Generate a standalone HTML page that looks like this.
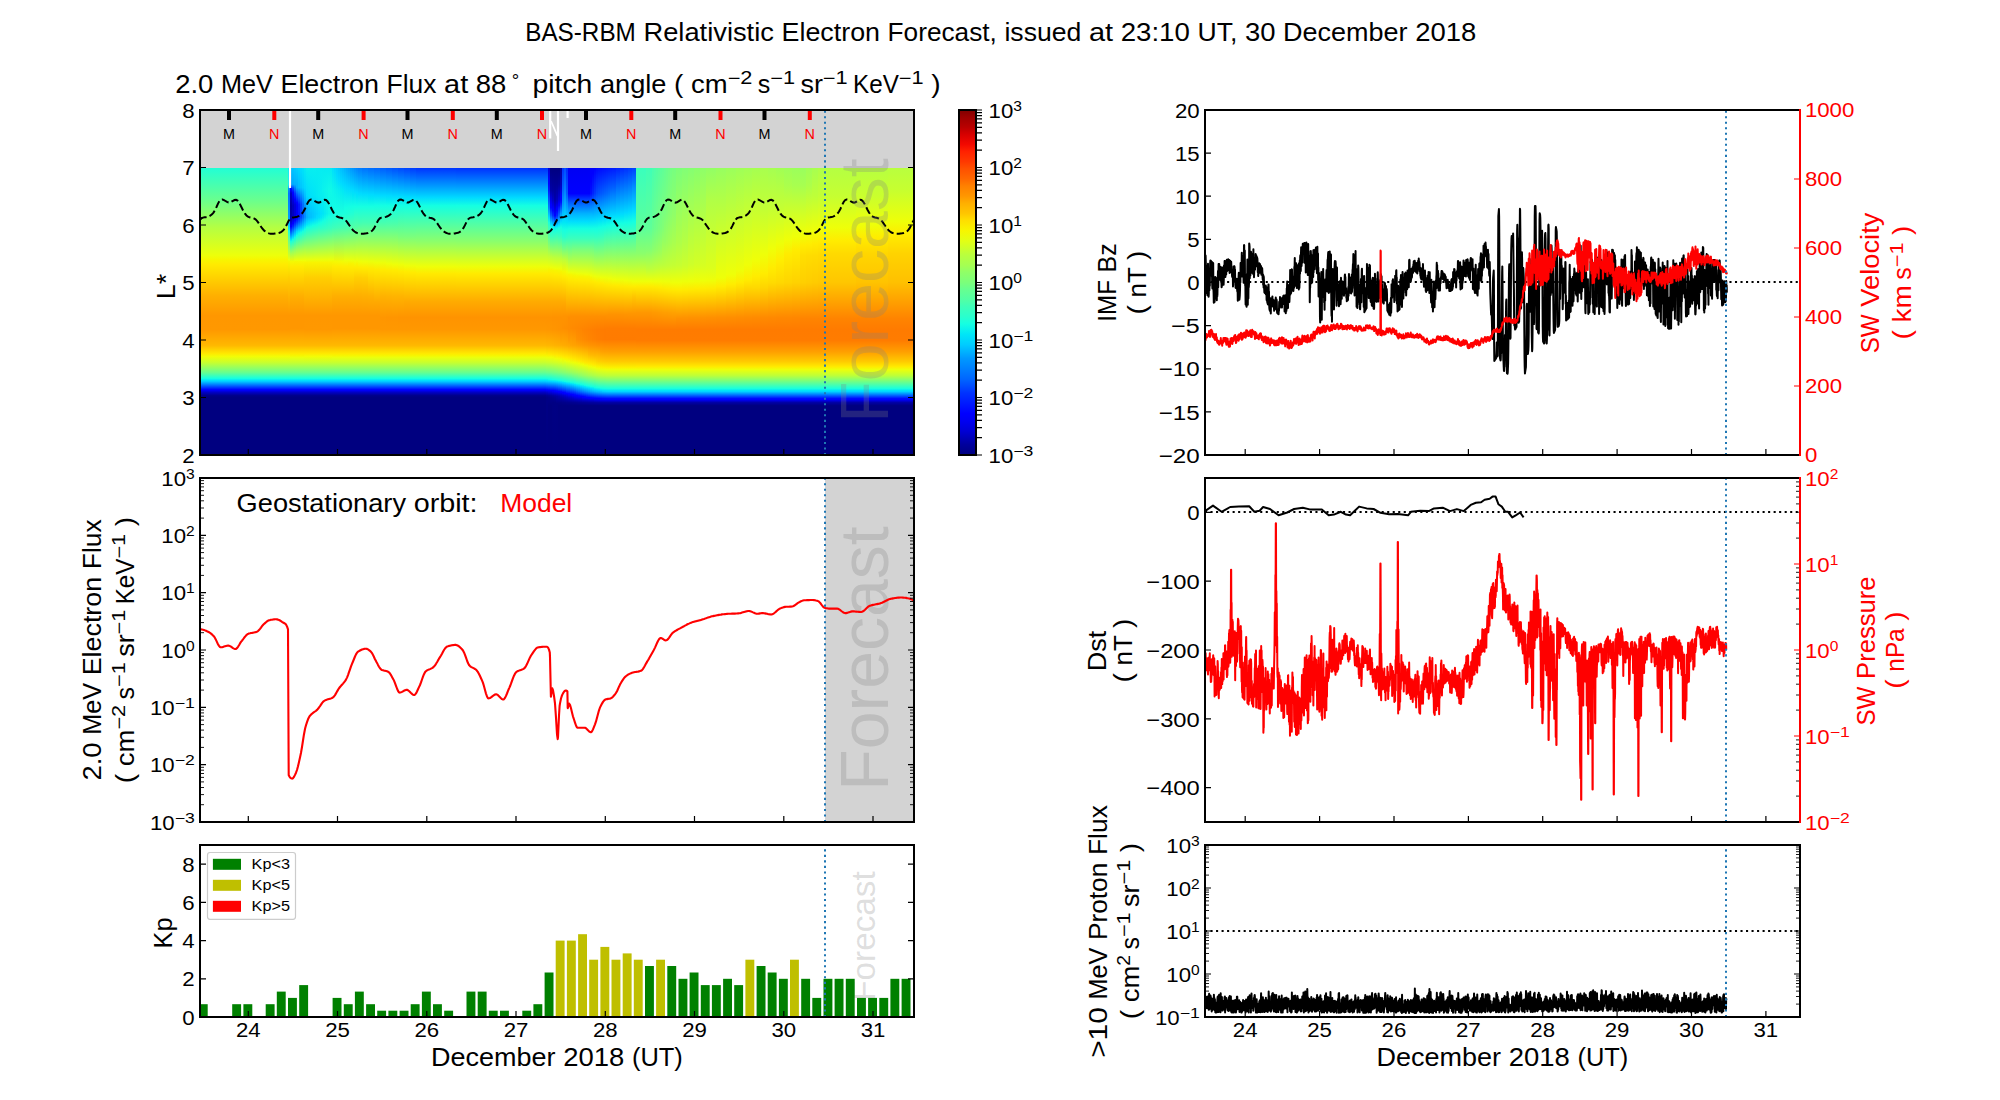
<!DOCTYPE html>
<html lang="en"><head><meta charset="utf-8"><title>BAS-RBM Relativistic Electron Forecast</title><style>html,body{margin:0;padding:0;background:#fff;font-family:"Liberation Sans",sans-serif}svg{display:block}</style></head><body><svg width="2000" height="1100" viewBox="0 0 2000 1100" font-family="'Liberation Sans', sans-serif" fill="#000"><defs><linearGradient id="h0" x1="0" y1="0" x2="0" y2="1"><stop offset="0.002" stop-color="#23ffd4"/><stop offset="0.113" stop-color="#6aff8d"/><stop offset="0.207" stop-color="#b4ff43"/><stop offset="0.305" stop-color="#edff0a"/><stop offset="0.319" stop-color="#f7f600"/><stop offset="0.336" stop-color="#ffeb00"/><stop offset="0.444" stop-color="#ffb000"/><stop offset="0.514" stop-color="#ff9700"/><stop offset="0.563" stop-color="#ff9800"/><stop offset="0.618" stop-color="#ffb800"/><stop offset="0.646" stop-color="#ffe800"/><stop offset="0.657" stop-color="#f1fd06"/><stop offset="0.678" stop-color="#c7ff2f"/><stop offset="0.713" stop-color="#65ff91"/><stop offset="0.733" stop-color="#17ffe0"/><stop offset="0.74" stop-color="#00e1fb"/><stop offset="0.744" stop-color="#00cbff"/><stop offset="0.772" stop-color="#0002ff"/><stop offset="0.775" stop-color="#0000f5"/><stop offset="0.782" stop-color="#0000c3"/><stop offset="0.793" stop-color="#00008a"/><stop offset="0.8" stop-color="#000080"/><stop offset="0.998" stop-color="#000080"/></linearGradient><linearGradient id="h1" x1="0" y1="0" x2="0" y2="1"><stop offset="0.002" stop-color="#23ffd4"/><stop offset="0.113" stop-color="#6aff8d"/><stop offset="0.207" stop-color="#b4ff43"/><stop offset="0.305" stop-color="#edff0a"/><stop offset="0.319" stop-color="#f7f600"/><stop offset="0.336" stop-color="#ffeb00"/><stop offset="0.444" stop-color="#ffb000"/><stop offset="0.514" stop-color="#ff9700"/><stop offset="0.563" stop-color="#ff9800"/><stop offset="0.618" stop-color="#ffb800"/><stop offset="0.646" stop-color="#ffe800"/><stop offset="0.657" stop-color="#f1fd06"/><stop offset="0.678" stop-color="#c7ff2f"/><stop offset="0.713" stop-color="#65ff91"/><stop offset="0.733" stop-color="#17ffe0"/><stop offset="0.74" stop-color="#00e1fb"/><stop offset="0.744" stop-color="#00cbff"/><stop offset="0.772" stop-color="#0002ff"/><stop offset="0.775" stop-color="#0000f5"/><stop offset="0.782" stop-color="#0000c3"/><stop offset="0.793" stop-color="#00008a"/><stop offset="0.8" stop-color="#000080"/><stop offset="0.998" stop-color="#000080"/></linearGradient><linearGradient id="h2" x1="0" y1="0" x2="0" y2="1"><stop offset="0.002" stop-color="#23ffd4"/><stop offset="0.113" stop-color="#6aff8d"/><stop offset="0.207" stop-color="#b4ff43"/><stop offset="0.305" stop-color="#edff0a"/><stop offset="0.319" stop-color="#f7f600"/><stop offset="0.336" stop-color="#ffeb00"/><stop offset="0.444" stop-color="#ffb000"/><stop offset="0.514" stop-color="#ff9700"/><stop offset="0.563" stop-color="#ff9800"/><stop offset="0.618" stop-color="#ffb800"/><stop offset="0.646" stop-color="#ffe800"/><stop offset="0.657" stop-color="#f1fd06"/><stop offset="0.678" stop-color="#c7ff2f"/><stop offset="0.713" stop-color="#65ff91"/><stop offset="0.733" stop-color="#17ffe0"/><stop offset="0.74" stop-color="#00e1fb"/><stop offset="0.744" stop-color="#00cbff"/><stop offset="0.772" stop-color="#0002ff"/><stop offset="0.775" stop-color="#0000f5"/><stop offset="0.782" stop-color="#0000c3"/><stop offset="0.793" stop-color="#00008a"/><stop offset="0.8" stop-color="#000080"/><stop offset="0.998" stop-color="#000080"/></linearGradient><linearGradient id="h3" x1="0" y1="0" x2="0" y2="1"><stop offset="0.002" stop-color="#00e6f6"/><stop offset="0.057" stop-color="#07eef0"/><stop offset="0.061" stop-color="#00dbff"/><stop offset="0.071" stop-color="#0095ff"/><stop offset="0.089" stop-color="#0073ff"/><stop offset="0.179" stop-color="#009eff"/><stop offset="0.207" stop-color="#00d8ff"/><stop offset="0.211" stop-color="#00e3f9"/><stop offset="0.221" stop-color="#18ffdf"/><stop offset="0.256" stop-color="#6eff89"/><stop offset="0.319" stop-color="#ebff0c"/><stop offset="0.326" stop-color="#f7f500"/><stop offset="0.382" stop-color="#ffcf00"/><stop offset="0.514" stop-color="#ff9700"/><stop offset="0.563" stop-color="#ff9800"/><stop offset="0.618" stop-color="#ffb800"/><stop offset="0.646" stop-color="#ffe800"/><stop offset="0.657" stop-color="#f1fd06"/><stop offset="0.678" stop-color="#c7ff2f"/><stop offset="0.713" stop-color="#65ff91"/><stop offset="0.733" stop-color="#17ffe0"/><stop offset="0.74" stop-color="#00e1fb"/><stop offset="0.744" stop-color="#00cbff"/><stop offset="0.772" stop-color="#0002ff"/><stop offset="0.775" stop-color="#0000f5"/><stop offset="0.782" stop-color="#0000c3"/><stop offset="0.793" stop-color="#00008a"/><stop offset="0.8" stop-color="#000080"/><stop offset="0.998" stop-color="#000080"/></linearGradient><linearGradient id="h4" x1="0" y1="0" x2="0" y2="1"><stop offset="0.002" stop-color="#00bfff"/><stop offset="0.057" stop-color="#00a3ff"/><stop offset="0.071" stop-color="#0009ff"/><stop offset="0.075" stop-color="#0000ff"/><stop offset="0.078" stop-color="#0000f7"/><stop offset="0.089" stop-color="#0000c3"/><stop offset="0.131" stop-color="#0000a5"/><stop offset="0.176" stop-color="#0000ab"/><stop offset="0.179" stop-color="#0000b1"/><stop offset="0.2" stop-color="#0000fb"/><stop offset="0.204" stop-color="#0000ff"/><stop offset="0.246" stop-color="#00d2ff"/><stop offset="0.249" stop-color="#00e4f8"/><stop offset="0.256" stop-color="#1affdd"/><stop offset="0.298" stop-color="#a6ff51"/><stop offset="0.326" stop-color="#f4f903"/><stop offset="0.343" stop-color="#ffea00"/><stop offset="0.448" stop-color="#ffae00"/><stop offset="0.514" stop-color="#ff9700"/><stop offset="0.559" stop-color="#ff9700"/><stop offset="0.618" stop-color="#ffb800"/><stop offset="0.646" stop-color="#ffe800"/><stop offset="0.653" stop-color="#f7f500"/><stop offset="0.66" stop-color="#eaff0d"/><stop offset="0.678" stop-color="#c7ff2f"/><stop offset="0.713" stop-color="#65ff91"/><stop offset="0.733" stop-color="#17ffe0"/><stop offset="0.74" stop-color="#00e1fb"/><stop offset="0.744" stop-color="#00cbff"/><stop offset="0.772" stop-color="#0002ff"/><stop offset="0.775" stop-color="#0000f5"/><stop offset="0.782" stop-color="#0000c3"/><stop offset="0.793" stop-color="#00008a"/><stop offset="0.8" stop-color="#000080"/><stop offset="0.998" stop-color="#000080"/></linearGradient><linearGradient id="h5" x1="0" y1="0" x2="0" y2="1"><stop offset="0.002" stop-color="#00c5ff"/><stop offset="0.057" stop-color="#00aaff"/><stop offset="0.071" stop-color="#003eff"/><stop offset="0.085" stop-color="#0004ff"/><stop offset="0.089" stop-color="#0000ff"/><stop offset="0.131" stop-color="#0000bf"/><stop offset="0.169" stop-color="#0000c0"/><stop offset="0.179" stop-color="#0000d8"/><stop offset="0.19" stop-color="#0000ff"/><stop offset="0.193" stop-color="#0000ff"/><stop offset="0.204" stop-color="#0029ff"/><stop offset="0.218" stop-color="#0073ff"/><stop offset="0.239" stop-color="#00cfff"/><stop offset="0.242" stop-color="#00defd"/><stop offset="0.249" stop-color="#13fde4"/><stop offset="0.291" stop-color="#98ff5f"/><stop offset="0.326" stop-color="#f4f903"/><stop offset="0.343" stop-color="#ffea00"/><stop offset="0.448" stop-color="#ffae00"/><stop offset="0.514" stop-color="#ff9700"/><stop offset="0.559" stop-color="#ff9700"/><stop offset="0.618" stop-color="#ffb800"/><stop offset="0.646" stop-color="#ffe800"/><stop offset="0.653" stop-color="#f7f500"/><stop offset="0.66" stop-color="#eaff0d"/><stop offset="0.678" stop-color="#c7ff2f"/><stop offset="0.713" stop-color="#65ff91"/><stop offset="0.733" stop-color="#17ffe0"/><stop offset="0.74" stop-color="#00e1fb"/><stop offset="0.744" stop-color="#00cbff"/><stop offset="0.772" stop-color="#0002ff"/><stop offset="0.775" stop-color="#0000f5"/><stop offset="0.782" stop-color="#0000c3"/><stop offset="0.793" stop-color="#00008a"/><stop offset="0.8" stop-color="#000080"/><stop offset="0.998" stop-color="#000080"/></linearGradient><linearGradient id="h6" x1="0" y1="0" x2="0" y2="1"><stop offset="0.002" stop-color="#00caff"/><stop offset="0.057" stop-color="#00b1ff"/><stop offset="0.089" stop-color="#0032ff"/><stop offset="0.11" stop-color="#0000ff"/><stop offset="0.117" stop-color="#0000fa"/><stop offset="0.127" stop-color="#0000dd"/><stop offset="0.134" stop-color="#0000d9"/><stop offset="0.169" stop-color="#0000db"/><stop offset="0.179" stop-color="#0000ff"/><stop offset="0.183" stop-color="#0000ff"/><stop offset="0.2" stop-color="#0047ff"/><stop offset="0.218" stop-color="#00a0ff"/><stop offset="0.232" stop-color="#00d5ff"/><stop offset="0.242" stop-color="#12fce5"/><stop offset="0.287" stop-color="#97ff60"/><stop offset="0.322" stop-color="#ecff0b"/><stop offset="0.326" stop-color="#f4f802"/><stop offset="0.343" stop-color="#ffea00"/><stop offset="0.448" stop-color="#ffae00"/><stop offset="0.514" stop-color="#ff9700"/><stop offset="0.559" stop-color="#ff9700"/><stop offset="0.618" stop-color="#ffb800"/><stop offset="0.646" stop-color="#ffe800"/><stop offset="0.653" stop-color="#f7f500"/><stop offset="0.66" stop-color="#eaff0d"/><stop offset="0.678" stop-color="#c7ff2f"/><stop offset="0.713" stop-color="#65ff91"/><stop offset="0.733" stop-color="#17ffe0"/><stop offset="0.74" stop-color="#00e1fb"/><stop offset="0.744" stop-color="#00cbff"/><stop offset="0.772" stop-color="#0002ff"/><stop offset="0.775" stop-color="#0000f5"/><stop offset="0.782" stop-color="#0000c3"/><stop offset="0.793" stop-color="#00008a"/><stop offset="0.8" stop-color="#000080"/><stop offset="0.998" stop-color="#000080"/></linearGradient><linearGradient id="h7" x1="0" y1="0" x2="0" y2="1"><stop offset="0.002" stop-color="#00d0ff"/><stop offset="0.068" stop-color="#00aeff"/><stop offset="0.12" stop-color="#0004ff"/><stop offset="0.131" stop-color="#0000f6"/><stop offset="0.166" stop-color="#0000f6"/><stop offset="0.172" stop-color="#0000ff"/><stop offset="0.176" stop-color="#0005ff"/><stop offset="0.19" stop-color="#003eff"/><stop offset="0.221" stop-color="#00d6ff"/><stop offset="0.228" stop-color="#05ebf2"/><stop offset="0.235" stop-color="#16ffe1"/><stop offset="0.287" stop-color="#a0ff57"/><stop offset="0.322" stop-color="#edff0a"/><stop offset="0.326" stop-color="#f4f802"/><stop offset="0.343" stop-color="#ffea00"/><stop offset="0.448" stop-color="#ffae00"/><stop offset="0.514" stop-color="#ff9700"/><stop offset="0.559" stop-color="#ff9700"/><stop offset="0.618" stop-color="#ffb800"/><stop offset="0.646" stop-color="#ffe800"/><stop offset="0.653" stop-color="#f7f500"/><stop offset="0.66" stop-color="#eaff0d"/><stop offset="0.678" stop-color="#c7ff2f"/><stop offset="0.713" stop-color="#65ff91"/><stop offset="0.733" stop-color="#17ffe0"/><stop offset="0.74" stop-color="#00e1fb"/><stop offset="0.744" stop-color="#00cbff"/><stop offset="0.772" stop-color="#0002ff"/><stop offset="0.775" stop-color="#0000f5"/><stop offset="0.782" stop-color="#0000c3"/><stop offset="0.793" stop-color="#00008a"/><stop offset="0.8" stop-color="#000080"/><stop offset="0.998" stop-color="#000080"/></linearGradient><linearGradient id="h8" x1="0" y1="0" x2="0" y2="1"><stop offset="0.002" stop-color="#00d6ff"/><stop offset="0.068" stop-color="#00bcff"/><stop offset="0.127" stop-color="#0017ff"/><stop offset="0.166" stop-color="#0010ff"/><stop offset="0.169" stop-color="#0011ff"/><stop offset="0.186" stop-color="#0050ff"/><stop offset="0.218" stop-color="#00dcfe"/><stop offset="0.228" stop-color="#12fce5"/><stop offset="0.287" stop-color="#a4ff52"/><stop offset="0.322" stop-color="#edff09"/><stop offset="0.326" stop-color="#f5f802"/><stop offset="0.343" stop-color="#ffea00"/><stop offset="0.448" stop-color="#ffae00"/><stop offset="0.514" stop-color="#ff9700"/><stop offset="0.559" stop-color="#ff9700"/><stop offset="0.618" stop-color="#ffb800"/><stop offset="0.646" stop-color="#ffe800"/><stop offset="0.653" stop-color="#f7f500"/><stop offset="0.66" stop-color="#eaff0d"/><stop offset="0.678" stop-color="#c7ff2f"/><stop offset="0.713" stop-color="#65ff91"/><stop offset="0.733" stop-color="#17ffe0"/><stop offset="0.74" stop-color="#00e1fb"/><stop offset="0.744" stop-color="#00cbff"/><stop offset="0.772" stop-color="#0002ff"/><stop offset="0.775" stop-color="#0000f5"/><stop offset="0.782" stop-color="#0000c3"/><stop offset="0.793" stop-color="#00008a"/><stop offset="0.8" stop-color="#000080"/><stop offset="0.998" stop-color="#000080"/></linearGradient><linearGradient id="h9" x1="0" y1="0" x2="0" y2="1"><stop offset="0.002" stop-color="#00dcfe"/><stop offset="0.068" stop-color="#00c5ff"/><stop offset="0.127" stop-color="#0042ff"/><stop offset="0.166" stop-color="#0039ff"/><stop offset="0.172" stop-color="#0042ff"/><stop offset="0.186" stop-color="#0070ff"/><stop offset="0.214" stop-color="#00ddfd"/><stop offset="0.225" stop-color="#15ffe2"/><stop offset="0.287" stop-color="#a8ff4f"/><stop offset="0.322" stop-color="#eeff09"/><stop offset="0.326" stop-color="#f5f802"/><stop offset="0.343" stop-color="#ffea00"/><stop offset="0.448" stop-color="#ffae00"/><stop offset="0.514" stop-color="#ff9700"/><stop offset="0.559" stop-color="#ff9700"/><stop offset="0.618" stop-color="#ffb800"/><stop offset="0.646" stop-color="#ffe800"/><stop offset="0.653" stop-color="#f7f500"/><stop offset="0.66" stop-color="#eaff0d"/><stop offset="0.678" stop-color="#c7ff2f"/><stop offset="0.713" stop-color="#65ff91"/><stop offset="0.733" stop-color="#17ffe0"/><stop offset="0.74" stop-color="#00e1fb"/><stop offset="0.744" stop-color="#00cbff"/><stop offset="0.772" stop-color="#0002ff"/><stop offset="0.775" stop-color="#0000f5"/><stop offset="0.782" stop-color="#0000c3"/><stop offset="0.793" stop-color="#00008a"/><stop offset="0.8" stop-color="#000080"/><stop offset="0.998" stop-color="#000080"/></linearGradient><linearGradient id="h10" x1="0" y1="0" x2="0" y2="1"><stop offset="0.002" stop-color="#00e2f9"/><stop offset="0.068" stop-color="#00cfff"/><stop offset="0.127" stop-color="#006eff"/><stop offset="0.166" stop-color="#0062ff"/><stop offset="0.172" stop-color="#0067ff"/><stop offset="0.211" stop-color="#00e3f9"/><stop offset="0.221" stop-color="#19ffde"/><stop offset="0.287" stop-color="#abff4b"/><stop offset="0.322" stop-color="#eeff09"/><stop offset="0.326" stop-color="#f5f802"/><stop offset="0.343" stop-color="#ffea00"/><stop offset="0.448" stop-color="#ffae00"/><stop offset="0.514" stop-color="#ff9700"/><stop offset="0.559" stop-color="#ff9700"/><stop offset="0.618" stop-color="#ffb800"/><stop offset="0.646" stop-color="#ffe800"/><stop offset="0.653" stop-color="#f7f500"/><stop offset="0.66" stop-color="#eaff0d"/><stop offset="0.678" stop-color="#c7ff2f"/><stop offset="0.713" stop-color="#65ff91"/><stop offset="0.733" stop-color="#17ffe0"/><stop offset="0.74" stop-color="#00e1fb"/><stop offset="0.744" stop-color="#00cbff"/><stop offset="0.772" stop-color="#0002ff"/><stop offset="0.775" stop-color="#0000f5"/><stop offset="0.782" stop-color="#0000c3"/><stop offset="0.793" stop-color="#00008a"/><stop offset="0.8" stop-color="#000080"/><stop offset="0.998" stop-color="#000080"/></linearGradient><linearGradient id="h11" x1="0" y1="0" x2="0" y2="1"><stop offset="0.002" stop-color="#03e9f4"/><stop offset="0.068" stop-color="#00d8ff"/><stop offset="0.099" stop-color="#00beff"/><stop offset="0.131" stop-color="#0097ff"/><stop offset="0.169" stop-color="#008bff"/><stop offset="0.172" stop-color="#008dff"/><stop offset="0.2" stop-color="#00d8ff"/><stop offset="0.214" stop-color="#15ffe2"/><stop offset="0.287" stop-color="#afff48"/><stop offset="0.322" stop-color="#efff08"/><stop offset="0.329" stop-color="#f8f400"/><stop offset="0.382" stop-color="#ffcf00"/><stop offset="0.514" stop-color="#ff9700"/><stop offset="0.563" stop-color="#ff9800"/><stop offset="0.618" stop-color="#ffb800"/><stop offset="0.646" stop-color="#ffe800"/><stop offset="0.657" stop-color="#f1fd06"/><stop offset="0.678" stop-color="#c7ff2f"/><stop offset="0.713" stop-color="#65ff91"/><stop offset="0.733" stop-color="#17ffe0"/><stop offset="0.74" stop-color="#00e1fb"/><stop offset="0.744" stop-color="#00cbff"/><stop offset="0.772" stop-color="#0002ff"/><stop offset="0.775" stop-color="#0000f5"/><stop offset="0.782" stop-color="#0000c3"/><stop offset="0.793" stop-color="#00008a"/><stop offset="0.8" stop-color="#000080"/><stop offset="0.998" stop-color="#000080"/></linearGradient><linearGradient id="h12" x1="0" y1="0" x2="0" y2="1"><stop offset="0.002" stop-color="#07eef0"/><stop offset="0.096" stop-color="#00d9ff"/><stop offset="0.138" stop-color="#00b9ff"/><stop offset="0.172" stop-color="#00afff"/><stop offset="0.19" stop-color="#00d7ff"/><stop offset="0.197" stop-color="#01e7f6"/><stop offset="0.207" stop-color="#15ffe2"/><stop offset="0.319" stop-color="#e9ff0e"/><stop offset="0.329" stop-color="#f8f400"/><stop offset="0.382" stop-color="#ffcf00"/><stop offset="0.514" stop-color="#ff9700"/><stop offset="0.563" stop-color="#ff9800"/><stop offset="0.618" stop-color="#ffb800"/><stop offset="0.646" stop-color="#ffe800"/><stop offset="0.657" stop-color="#f1fd06"/><stop offset="0.678" stop-color="#c7ff2f"/><stop offset="0.713" stop-color="#65ff91"/><stop offset="0.733" stop-color="#17ffe0"/><stop offset="0.74" stop-color="#00e1fb"/><stop offset="0.744" stop-color="#00cbff"/><stop offset="0.772" stop-color="#0002ff"/><stop offset="0.775" stop-color="#0000f5"/><stop offset="0.782" stop-color="#0000c3"/><stop offset="0.793" stop-color="#00008a"/><stop offset="0.8" stop-color="#000080"/><stop offset="0.998" stop-color="#000080"/></linearGradient><linearGradient id="h13" x1="0" y1="0" x2="0" y2="1"><stop offset="0.002" stop-color="#07efef"/><stop offset="0.096" stop-color="#00defc"/><stop offset="0.138" stop-color="#00c3ff"/><stop offset="0.172" stop-color="#00baff"/><stop offset="0.186" stop-color="#00d8ff"/><stop offset="0.193" stop-color="#01e7f6"/><stop offset="0.207" stop-color="#19ffde"/><stop offset="0.319" stop-color="#e9ff0e"/><stop offset="0.329" stop-color="#f8f400"/><stop offset="0.382" stop-color="#ffcf00"/><stop offset="0.514" stop-color="#ff9700"/><stop offset="0.563" stop-color="#ff9800"/><stop offset="0.618" stop-color="#ffb800"/><stop offset="0.646" stop-color="#ffe800"/><stop offset="0.657" stop-color="#f1fd06"/><stop offset="0.678" stop-color="#c7ff2f"/><stop offset="0.713" stop-color="#65ff91"/><stop offset="0.733" stop-color="#17ffe0"/><stop offset="0.74" stop-color="#00e1fb"/><stop offset="0.744" stop-color="#00cbff"/><stop offset="0.772" stop-color="#0002ff"/><stop offset="0.775" stop-color="#0000f5"/><stop offset="0.782" stop-color="#0000c3"/><stop offset="0.793" stop-color="#00008a"/><stop offset="0.8" stop-color="#000080"/><stop offset="0.998" stop-color="#000080"/></linearGradient><linearGradient id="h14" x1="0" y1="0" x2="0" y2="1"><stop offset="0.002" stop-color="#07eef0"/><stop offset="0.096" stop-color="#00e1fa"/><stop offset="0.159" stop-color="#00c2ff"/><stop offset="0.172" stop-color="#00c1ff"/><stop offset="0.186" stop-color="#00defd"/><stop offset="0.204" stop-color="#16ffe0"/><stop offset="0.319" stop-color="#e9ff0e"/><stop offset="0.329" stop-color="#f8f400"/><stop offset="0.382" stop-color="#ffcf00"/><stop offset="0.514" stop-color="#ff9700"/><stop offset="0.563" stop-color="#ff9800"/><stop offset="0.618" stop-color="#ffb800"/><stop offset="0.646" stop-color="#ffe800"/><stop offset="0.657" stop-color="#f1fd06"/><stop offset="0.678" stop-color="#c7ff2f"/><stop offset="0.713" stop-color="#65ff91"/><stop offset="0.733" stop-color="#17ffe0"/><stop offset="0.74" stop-color="#00e1fb"/><stop offset="0.744" stop-color="#00cbff"/><stop offset="0.772" stop-color="#0002ff"/><stop offset="0.775" stop-color="#0000f5"/><stop offset="0.782" stop-color="#0000c3"/><stop offset="0.793" stop-color="#00008a"/><stop offset="0.8" stop-color="#000080"/><stop offset="0.998" stop-color="#000080"/></linearGradient><linearGradient id="h15" x1="0" y1="0" x2="0" y2="1"><stop offset="0.002" stop-color="#07eef0"/><stop offset="0.096" stop-color="#00e4f8"/><stop offset="0.159" stop-color="#00c8ff"/><stop offset="0.172" stop-color="#00c9ff"/><stop offset="0.183" stop-color="#00ddfe"/><stop offset="0.2" stop-color="#14ffe2"/><stop offset="0.319" stop-color="#e9ff0d"/><stop offset="0.329" stop-color="#f8f400"/><stop offset="0.382" stop-color="#ffcf00"/><stop offset="0.514" stop-color="#ff9700"/><stop offset="0.563" stop-color="#ff9800"/><stop offset="0.618" stop-color="#ffb800"/><stop offset="0.646" stop-color="#ffe800"/><stop offset="0.657" stop-color="#f1fd06"/><stop offset="0.678" stop-color="#c7ff2f"/><stop offset="0.713" stop-color="#65ff91"/><stop offset="0.733" stop-color="#17ffe0"/><stop offset="0.74" stop-color="#00e1fb"/><stop offset="0.744" stop-color="#00cbff"/><stop offset="0.772" stop-color="#0002ff"/><stop offset="0.775" stop-color="#0000f5"/><stop offset="0.782" stop-color="#0000c3"/><stop offset="0.793" stop-color="#00008a"/><stop offset="0.8" stop-color="#000080"/><stop offset="0.998" stop-color="#000080"/></linearGradient><linearGradient id="h16" x1="0" y1="0" x2="0" y2="1"><stop offset="0.002" stop-color="#07eef0"/><stop offset="0.096" stop-color="#01e6f6"/><stop offset="0.159" stop-color="#00ceff"/><stop offset="0.172" stop-color="#00d0ff"/><stop offset="0.179" stop-color="#00ddfe"/><stop offset="0.2" stop-color="#18ffdf"/><stop offset="0.319" stop-color="#eaff0d"/><stop offset="0.329" stop-color="#f8f400"/><stop offset="0.382" stop-color="#ffcf00"/><stop offset="0.514" stop-color="#ff9700"/><stop offset="0.563" stop-color="#ff9800"/><stop offset="0.618" stop-color="#ffb800"/><stop offset="0.646" stop-color="#ffe800"/><stop offset="0.657" stop-color="#f1fd06"/><stop offset="0.678" stop-color="#c7ff2f"/><stop offset="0.713" stop-color="#65ff91"/><stop offset="0.733" stop-color="#17ffe0"/><stop offset="0.74" stop-color="#00e1fb"/><stop offset="0.744" stop-color="#00cbff"/><stop offset="0.772" stop-color="#0002ff"/><stop offset="0.775" stop-color="#0000f5"/><stop offset="0.782" stop-color="#0000c3"/><stop offset="0.793" stop-color="#00008a"/><stop offset="0.8" stop-color="#000080"/><stop offset="0.998" stop-color="#000080"/></linearGradient><linearGradient id="h17" x1="0" y1="0" x2="0" y2="1"><stop offset="0.002" stop-color="#06edf0"/><stop offset="0.096" stop-color="#03e9f4"/><stop offset="0.159" stop-color="#00d4ff"/><stop offset="0.176" stop-color="#00defd"/><stop offset="0.197" stop-color="#17ffe0"/><stop offset="0.319" stop-color="#eaff0d"/><stop offset="0.329" stop-color="#f8f400"/><stop offset="0.382" stop-color="#ffcf00"/><stop offset="0.514" stop-color="#ff9700"/><stop offset="0.563" stop-color="#ff9800"/><stop offset="0.618" stop-color="#ffb800"/><stop offset="0.646" stop-color="#ffe800"/><stop offset="0.657" stop-color="#f1fd06"/><stop offset="0.678" stop-color="#c7ff2f"/><stop offset="0.713" stop-color="#65ff91"/><stop offset="0.733" stop-color="#17ffe0"/><stop offset="0.74" stop-color="#00e1fb"/><stop offset="0.744" stop-color="#00cbff"/><stop offset="0.772" stop-color="#0002ff"/><stop offset="0.775" stop-color="#0000f5"/><stop offset="0.782" stop-color="#0000c3"/><stop offset="0.793" stop-color="#00008a"/><stop offset="0.8" stop-color="#000080"/><stop offset="0.998" stop-color="#000080"/></linearGradient><linearGradient id="h18" x1="0" y1="0" x2="0" y2="1"><stop offset="0.002" stop-color="#06edf1"/><stop offset="0.096" stop-color="#05ecf2"/><stop offset="0.159" stop-color="#00daff"/><stop offset="0.172" stop-color="#00dffc"/><stop offset="0.193" stop-color="#16ffe1"/><stop offset="0.319" stop-color="#eaff0d"/><stop offset="0.329" stop-color="#f8f400"/><stop offset="0.382" stop-color="#ffcf00"/><stop offset="0.514" stop-color="#ff9700"/><stop offset="0.563" stop-color="#ff9800"/><stop offset="0.618" stop-color="#ffb800"/><stop offset="0.646" stop-color="#ffe800"/><stop offset="0.657" stop-color="#f1fd06"/><stop offset="0.678" stop-color="#c7ff2f"/><stop offset="0.713" stop-color="#65ff91"/><stop offset="0.733" stop-color="#17ffe0"/><stop offset="0.74" stop-color="#00e1fb"/><stop offset="0.744" stop-color="#00cbff"/><stop offset="0.772" stop-color="#0002ff"/><stop offset="0.775" stop-color="#0000f5"/><stop offset="0.782" stop-color="#0000c3"/><stop offset="0.793" stop-color="#00008a"/><stop offset="0.8" stop-color="#000080"/><stop offset="0.998" stop-color="#000080"/></linearGradient><linearGradient id="h19" x1="0" y1="0" x2="0" y2="1"><stop offset="0.002" stop-color="#06edf1"/><stop offset="0.096" stop-color="#07eef0"/><stop offset="0.159" stop-color="#00e0fc"/><stop offset="0.172" stop-color="#01e7f6"/><stop offset="0.19" stop-color="#16ffe1"/><stop offset="0.211" stop-color="#30ffc6"/><stop offset="0.319" stop-color="#eaff0d"/><stop offset="0.329" stop-color="#f8f400"/><stop offset="0.382" stop-color="#ffcf00"/><stop offset="0.514" stop-color="#ff9700"/><stop offset="0.563" stop-color="#ff9800"/><stop offset="0.618" stop-color="#ffb800"/><stop offset="0.646" stop-color="#ffe800"/><stop offset="0.657" stop-color="#f1fd06"/><stop offset="0.678" stop-color="#c7ff2f"/><stop offset="0.713" stop-color="#65ff91"/><stop offset="0.733" stop-color="#17ffe0"/><stop offset="0.74" stop-color="#00e1fb"/><stop offset="0.744" stop-color="#00cbff"/><stop offset="0.772" stop-color="#0002ff"/><stop offset="0.775" stop-color="#0000f5"/><stop offset="0.782" stop-color="#0000c3"/><stop offset="0.793" stop-color="#00008a"/><stop offset="0.8" stop-color="#000080"/><stop offset="0.998" stop-color="#000080"/></linearGradient><linearGradient id="h20" x1="0" y1="0" x2="0" y2="1"><stop offset="0.002" stop-color="#06ecf1"/><stop offset="0.078" stop-color="#0af2ed"/><stop offset="0.159" stop-color="#00e5f7"/><stop offset="0.172" stop-color="#07eef0"/><stop offset="0.186" stop-color="#17ffe0"/><stop offset="0.211" stop-color="#33ffc3"/><stop offset="0.319" stop-color="#eaff0d"/><stop offset="0.329" stop-color="#f8f400"/><stop offset="0.382" stop-color="#ffcf00"/><stop offset="0.514" stop-color="#ff9700"/><stop offset="0.563" stop-color="#ff9800"/><stop offset="0.618" stop-color="#ffb800"/><stop offset="0.646" stop-color="#ffe800"/><stop offset="0.657" stop-color="#f1fd06"/><stop offset="0.678" stop-color="#c7ff2f"/><stop offset="0.713" stop-color="#65ff91"/><stop offset="0.733" stop-color="#17ffe0"/><stop offset="0.74" stop-color="#00e1fb"/><stop offset="0.744" stop-color="#00cbff"/><stop offset="0.772" stop-color="#0002ff"/><stop offset="0.775" stop-color="#0000f5"/><stop offset="0.782" stop-color="#0000c3"/><stop offset="0.793" stop-color="#00008a"/><stop offset="0.8" stop-color="#000080"/><stop offset="0.998" stop-color="#000080"/></linearGradient><linearGradient id="h21" x1="0" y1="0" x2="0" y2="1"><stop offset="0.002" stop-color="#05ecf1"/><stop offset="0.078" stop-color="#0cf4eb"/><stop offset="0.159" stop-color="#05ebf2"/><stop offset="0.172" stop-color="#0df5ea"/><stop offset="0.179" stop-color="#14fee3"/><stop offset="0.211" stop-color="#36ffc1"/><stop offset="0.319" stop-color="#eaff0c"/><stop offset="0.329" stop-color="#f8f400"/><stop offset="0.382" stop-color="#ffcf00"/><stop offset="0.514" stop-color="#ff9700"/><stop offset="0.563" stop-color="#ff9800"/><stop offset="0.618" stop-color="#ffb800"/><stop offset="0.646" stop-color="#ffe800"/><stop offset="0.657" stop-color="#f1fd06"/><stop offset="0.678" stop-color="#c7ff2f"/><stop offset="0.713" stop-color="#65ff91"/><stop offset="0.733" stop-color="#17ffe0"/><stop offset="0.74" stop-color="#00e1fb"/><stop offset="0.744" stop-color="#00cbff"/><stop offset="0.772" stop-color="#0002ff"/><stop offset="0.775" stop-color="#0000f5"/><stop offset="0.782" stop-color="#0000c3"/><stop offset="0.793" stop-color="#00008a"/><stop offset="0.8" stop-color="#000080"/><stop offset="0.998" stop-color="#000080"/></linearGradient><linearGradient id="h22" x1="0" y1="0" x2="0" y2="1"><stop offset="0.002" stop-color="#05ecf2"/><stop offset="0.078" stop-color="#0ef6e9"/><stop offset="0.159" stop-color="#09f1ed"/><stop offset="0.172" stop-color="#13fde4"/><stop offset="0.211" stop-color="#39ffbe"/><stop offset="0.319" stop-color="#eaff0c"/><stop offset="0.329" stop-color="#f8f400"/><stop offset="0.382" stop-color="#ffcf00"/><stop offset="0.514" stop-color="#ff9700"/><stop offset="0.563" stop-color="#ff9800"/><stop offset="0.618" stop-color="#ffb800"/><stop offset="0.646" stop-color="#ffe800"/><stop offset="0.657" stop-color="#f1fd06"/><stop offset="0.678" stop-color="#c7ff2f"/><stop offset="0.713" stop-color="#65ff91"/><stop offset="0.733" stop-color="#17ffe0"/><stop offset="0.74" stop-color="#00e1fb"/><stop offset="0.744" stop-color="#00cbff"/><stop offset="0.772" stop-color="#0002ff"/><stop offset="0.775" stop-color="#0000f5"/><stop offset="0.782" stop-color="#0000c3"/><stop offset="0.793" stop-color="#00008a"/><stop offset="0.8" stop-color="#000080"/><stop offset="0.998" stop-color="#000080"/></linearGradient><linearGradient id="h23" x1="0" y1="0" x2="0" y2="1"><stop offset="0.002" stop-color="#05ebf2"/><stop offset="0.078" stop-color="#10f9e7"/><stop offset="0.159" stop-color="#0ef7e9"/><stop offset="0.169" stop-color="#16ffe1"/><stop offset="0.211" stop-color="#3cffbb"/><stop offset="0.319" stop-color="#ebff0c"/><stop offset="0.329" stop-color="#f8f400"/><stop offset="0.382" stop-color="#ffcf00"/><stop offset="0.514" stop-color="#ff9700"/><stop offset="0.563" stop-color="#ff9800"/><stop offset="0.618" stop-color="#ffb800"/><stop offset="0.646" stop-color="#ffe800"/><stop offset="0.657" stop-color="#f1fd06"/><stop offset="0.678" stop-color="#c7ff2f"/><stop offset="0.713" stop-color="#65ff91"/><stop offset="0.733" stop-color="#17ffe0"/><stop offset="0.74" stop-color="#00e1fb"/><stop offset="0.744" stop-color="#00cbff"/><stop offset="0.772" stop-color="#0002ff"/><stop offset="0.775" stop-color="#0000f5"/><stop offset="0.782" stop-color="#0000c3"/><stop offset="0.793" stop-color="#00008a"/><stop offset="0.8" stop-color="#000080"/><stop offset="0.998" stop-color="#000080"/></linearGradient><linearGradient id="h24" x1="0" y1="0" x2="0" y2="1"><stop offset="0.002" stop-color="#00e0fb"/><stop offset="0.078" stop-color="#0df6ea"/><stop offset="0.159" stop-color="#13fde4"/><stop offset="0.207" stop-color="#3cffbb"/><stop offset="0.319" stop-color="#eaff0d"/><stop offset="0.326" stop-color="#f4f802"/><stop offset="0.343" stop-color="#ffea00"/><stop offset="0.448" stop-color="#ffae00"/><stop offset="0.514" stop-color="#ff9700"/><stop offset="0.559" stop-color="#ff9700"/><stop offset="0.618" stop-color="#ffb800"/><stop offset="0.646" stop-color="#ffe800"/><stop offset="0.653" stop-color="#f7f500"/><stop offset="0.66" stop-color="#eaff0d"/><stop offset="0.678" stop-color="#c7ff2f"/><stop offset="0.713" stop-color="#65ff91"/><stop offset="0.733" stop-color="#17ffe0"/><stop offset="0.74" stop-color="#00e1fb"/><stop offset="0.744" stop-color="#00cbff"/><stop offset="0.772" stop-color="#0002ff"/><stop offset="0.775" stop-color="#0000f5"/><stop offset="0.782" stop-color="#0000c3"/><stop offset="0.793" stop-color="#00008a"/><stop offset="0.8" stop-color="#000080"/><stop offset="0.998" stop-color="#000080"/></linearGradient><linearGradient id="h25" x1="0" y1="0" x2="0" y2="1"><stop offset="0.002" stop-color="#00d8ff"/><stop offset="0.078" stop-color="#0bf3ec"/><stop offset="0.159" stop-color="#15ffe2"/><stop offset="0.207" stop-color="#3effb9"/><stop offset="0.326" stop-color="#f4f903"/><stop offset="0.343" stop-color="#ffeb00"/><stop offset="0.448" stop-color="#ffae00"/><stop offset="0.514" stop-color="#ff9700"/><stop offset="0.559" stop-color="#ff9700"/><stop offset="0.618" stop-color="#ffb800"/><stop offset="0.646" stop-color="#ffe800"/><stop offset="0.653" stop-color="#f7f500"/><stop offset="0.66" stop-color="#eaff0d"/><stop offset="0.678" stop-color="#c7ff2f"/><stop offset="0.713" stop-color="#65ff91"/><stop offset="0.733" stop-color="#17ffe0"/><stop offset="0.74" stop-color="#00e1fb"/><stop offset="0.744" stop-color="#00cbff"/><stop offset="0.772" stop-color="#0002ff"/><stop offset="0.775" stop-color="#0000f5"/><stop offset="0.782" stop-color="#0000c3"/><stop offset="0.793" stop-color="#00008a"/><stop offset="0.8" stop-color="#000080"/><stop offset="0.998" stop-color="#000080"/></linearGradient><linearGradient id="h26" x1="0" y1="0" x2="0" y2="1"><stop offset="0.002" stop-color="#00d1ff"/><stop offset="0.03" stop-color="#00dbff"/><stop offset="0.078" stop-color="#09f0ee"/><stop offset="0.159" stop-color="#16ffe1"/><stop offset="0.207" stop-color="#40ffb7"/><stop offset="0.326" stop-color="#f4f903"/><stop offset="0.343" stop-color="#ffeb00"/><stop offset="0.448" stop-color="#ffae00"/><stop offset="0.514" stop-color="#ff9700"/><stop offset="0.559" stop-color="#ff9700"/><stop offset="0.618" stop-color="#ffb800"/><stop offset="0.646" stop-color="#ffe800"/><stop offset="0.653" stop-color="#f7f500"/><stop offset="0.66" stop-color="#eaff0d"/><stop offset="0.678" stop-color="#c7ff2f"/><stop offset="0.713" stop-color="#65ff91"/><stop offset="0.733" stop-color="#17ffe0"/><stop offset="0.74" stop-color="#00e1fb"/><stop offset="0.744" stop-color="#00cbff"/><stop offset="0.772" stop-color="#0002ff"/><stop offset="0.775" stop-color="#0000f5"/><stop offset="0.782" stop-color="#0000c3"/><stop offset="0.793" stop-color="#00008a"/><stop offset="0.8" stop-color="#000080"/><stop offset="0.998" stop-color="#000080"/></linearGradient><linearGradient id="h27" x1="0" y1="0" x2="0" y2="1"><stop offset="0.002" stop-color="#00c9ff"/><stop offset="0.044" stop-color="#00dcff"/><stop offset="0.078" stop-color="#07eef0"/><stop offset="0.159" stop-color="#18ffdf"/><stop offset="0.207" stop-color="#42ffb5"/><stop offset="0.326" stop-color="#f3fa04"/><stop offset="0.343" stop-color="#ffeb00"/><stop offset="0.448" stop-color="#ffae00"/><stop offset="0.514" stop-color="#ff9700"/><stop offset="0.559" stop-color="#ff9700"/><stop offset="0.618" stop-color="#ffb800"/><stop offset="0.646" stop-color="#ffe800"/><stop offset="0.653" stop-color="#f7f500"/><stop offset="0.66" stop-color="#eaff0d"/><stop offset="0.678" stop-color="#c7ff2f"/><stop offset="0.713" stop-color="#65ff91"/><stop offset="0.733" stop-color="#17ffe0"/><stop offset="0.74" stop-color="#00e1fb"/><stop offset="0.744" stop-color="#00cbff"/><stop offset="0.772" stop-color="#0002ff"/><stop offset="0.775" stop-color="#0000f5"/><stop offset="0.782" stop-color="#0000c3"/><stop offset="0.793" stop-color="#00008a"/><stop offset="0.8" stop-color="#000080"/><stop offset="0.998" stop-color="#000080"/></linearGradient><linearGradient id="h28" x1="0" y1="0" x2="0" y2="1"><stop offset="0.002" stop-color="#00c1ff"/><stop offset="0.051" stop-color="#00dbff"/><stop offset="0.078" stop-color="#04ebf2"/><stop offset="0.159" stop-color="#1affdd"/><stop offset="0.207" stop-color="#44ffb3"/><stop offset="0.326" stop-color="#f3fa04"/><stop offset="0.343" stop-color="#ffeb00"/><stop offset="0.448" stop-color="#ffae00"/><stop offset="0.514" stop-color="#ff9700"/><stop offset="0.559" stop-color="#ff9700"/><stop offset="0.618" stop-color="#ffb800"/><stop offset="0.646" stop-color="#ffe800"/><stop offset="0.653" stop-color="#f7f500"/><stop offset="0.66" stop-color="#eaff0d"/><stop offset="0.678" stop-color="#c7ff2f"/><stop offset="0.713" stop-color="#65ff91"/><stop offset="0.733" stop-color="#17ffe0"/><stop offset="0.74" stop-color="#00e1fb"/><stop offset="0.744" stop-color="#00cbff"/><stop offset="0.772" stop-color="#0002ff"/><stop offset="0.775" stop-color="#0000f5"/><stop offset="0.782" stop-color="#0000c3"/><stop offset="0.793" stop-color="#00008a"/><stop offset="0.8" stop-color="#000080"/><stop offset="0.998" stop-color="#000080"/></linearGradient><linearGradient id="h29" x1="0" y1="0" x2="0" y2="1"><stop offset="0.002" stop-color="#00baff"/><stop offset="0.057" stop-color="#00daff"/><stop offset="0.078" stop-color="#02e8f5"/><stop offset="0.159" stop-color="#1bffdc"/><stop offset="0.207" stop-color="#46ffb1"/><stop offset="0.326" stop-color="#f2fb05"/><stop offset="0.343" stop-color="#ffec00"/><stop offset="0.448" stop-color="#ffae00"/><stop offset="0.514" stop-color="#ff9700"/><stop offset="0.559" stop-color="#ff9700"/><stop offset="0.618" stop-color="#ffb800"/><stop offset="0.646" stop-color="#ffe800"/><stop offset="0.653" stop-color="#f7f500"/><stop offset="0.66" stop-color="#eaff0d"/><stop offset="0.678" stop-color="#c7ff2f"/><stop offset="0.713" stop-color="#65ff91"/><stop offset="0.733" stop-color="#17ffe0"/><stop offset="0.74" stop-color="#00e1fb"/><stop offset="0.744" stop-color="#00cbff"/><stop offset="0.772" stop-color="#0002ff"/><stop offset="0.775" stop-color="#0000f5"/><stop offset="0.782" stop-color="#0000c3"/><stop offset="0.793" stop-color="#00008a"/><stop offset="0.8" stop-color="#000080"/><stop offset="0.998" stop-color="#000080"/></linearGradient><linearGradient id="h30" x1="0" y1="0" x2="0" y2="1"><stop offset="0.002" stop-color="#00b2ff"/><stop offset="0.064" stop-color="#00dbff"/><stop offset="0.138" stop-color="#14ffe3"/><stop offset="0.159" stop-color="#1dffda"/><stop offset="0.211" stop-color="#4cffab"/><stop offset="0.322" stop-color="#edff0a"/><stop offset="0.343" stop-color="#ffec00"/><stop offset="0.448" stop-color="#ffae00"/><stop offset="0.514" stop-color="#ff9700"/><stop offset="0.559" stop-color="#ff9700"/><stop offset="0.618" stop-color="#ffb800"/><stop offset="0.646" stop-color="#ffe800"/><stop offset="0.653" stop-color="#f7f500"/><stop offset="0.66" stop-color="#eaff0d"/><stop offset="0.678" stop-color="#c7ff2f"/><stop offset="0.713" stop-color="#65ff91"/><stop offset="0.733" stop-color="#17ffe0"/><stop offset="0.74" stop-color="#00e1fb"/><stop offset="0.744" stop-color="#00cbff"/><stop offset="0.772" stop-color="#0002ff"/><stop offset="0.775" stop-color="#0000f5"/><stop offset="0.782" stop-color="#0000c3"/><stop offset="0.793" stop-color="#00008a"/><stop offset="0.8" stop-color="#000080"/><stop offset="0.998" stop-color="#000080"/></linearGradient><linearGradient id="h31" x1="0" y1="0" x2="0" y2="1"><stop offset="0.002" stop-color="#00aaff"/><stop offset="0.068" stop-color="#00daff"/><stop offset="0.138" stop-color="#15ffe2"/><stop offset="0.159" stop-color="#1effd8"/><stop offset="0.211" stop-color="#4effa9"/><stop offset="0.322" stop-color="#edff0a"/><stop offset="0.343" stop-color="#ffec00"/><stop offset="0.448" stop-color="#ffae00"/><stop offset="0.514" stop-color="#ff9700"/><stop offset="0.559" stop-color="#ff9700"/><stop offset="0.618" stop-color="#ffb800"/><stop offset="0.646" stop-color="#ffe800"/><stop offset="0.653" stop-color="#f7f500"/><stop offset="0.66" stop-color="#eaff0d"/><stop offset="0.678" stop-color="#c7ff2f"/><stop offset="0.713" stop-color="#65ff91"/><stop offset="0.733" stop-color="#17ffe0"/><stop offset="0.74" stop-color="#00e1fb"/><stop offset="0.744" stop-color="#00cbff"/><stop offset="0.772" stop-color="#0002ff"/><stop offset="0.775" stop-color="#0000f5"/><stop offset="0.782" stop-color="#0000c3"/><stop offset="0.793" stop-color="#00008a"/><stop offset="0.8" stop-color="#000080"/><stop offset="0.998" stop-color="#000080"/></linearGradient><linearGradient id="h32" x1="0" y1="0" x2="0" y2="1"><stop offset="0.002" stop-color="#00a3ff"/><stop offset="0.071" stop-color="#00daff"/><stop offset="0.134" stop-color="#14fee3"/><stop offset="0.159" stop-color="#20ffd7"/><stop offset="0.211" stop-color="#50ffa6"/><stop offset="0.322" stop-color="#ecff0b"/><stop offset="0.333" stop-color="#f8f400"/><stop offset="0.347" stop-color="#ffea00"/><stop offset="0.448" stop-color="#ffae00"/><stop offset="0.514" stop-color="#ff9700"/><stop offset="0.559" stop-color="#ff9700"/><stop offset="0.618" stop-color="#ffb800"/><stop offset="0.646" stop-color="#ffe800"/><stop offset="0.653" stop-color="#f7f500"/><stop offset="0.66" stop-color="#eaff0d"/><stop offset="0.678" stop-color="#c7ff2f"/><stop offset="0.713" stop-color="#65ff91"/><stop offset="0.733" stop-color="#17ffe0"/><stop offset="0.74" stop-color="#00e1fb"/><stop offset="0.744" stop-color="#00cbff"/><stop offset="0.772" stop-color="#0002ff"/><stop offset="0.775" stop-color="#0000f5"/><stop offset="0.782" stop-color="#0000c3"/><stop offset="0.793" stop-color="#00008a"/><stop offset="0.8" stop-color="#000080"/><stop offset="0.998" stop-color="#000080"/></linearGradient><linearGradient id="h33" x1="0" y1="0" x2="0" y2="1"><stop offset="0.002" stop-color="#009bff"/><stop offset="0.075" stop-color="#00daff"/><stop offset="0.134" stop-color="#14fee3"/><stop offset="0.159" stop-color="#22ffd5"/><stop offset="0.211" stop-color="#52ffa4"/><stop offset="0.322" stop-color="#ecff0b"/><stop offset="0.333" stop-color="#f8f400"/><stop offset="0.347" stop-color="#ffea00"/><stop offset="0.448" stop-color="#ffae00"/><stop offset="0.514" stop-color="#ff9700"/><stop offset="0.559" stop-color="#ff9700"/><stop offset="0.618" stop-color="#ffb800"/><stop offset="0.646" stop-color="#ffe800"/><stop offset="0.653" stop-color="#f7f500"/><stop offset="0.66" stop-color="#eaff0d"/><stop offset="0.678" stop-color="#c7ff2f"/><stop offset="0.713" stop-color="#65ff91"/><stop offset="0.733" stop-color="#17ffe0"/><stop offset="0.74" stop-color="#00e1fb"/><stop offset="0.744" stop-color="#00cbff"/><stop offset="0.772" stop-color="#0002ff"/><stop offset="0.775" stop-color="#0000f5"/><stop offset="0.782" stop-color="#0000c3"/><stop offset="0.793" stop-color="#00008a"/><stop offset="0.8" stop-color="#000080"/><stop offset="0.998" stop-color="#000080"/></linearGradient><linearGradient id="h34" x1="0" y1="0" x2="0" y2="1"><stop offset="0.002" stop-color="#0094ff"/><stop offset="0.078" stop-color="#00dbff"/><stop offset="0.096" stop-color="#00e6f6"/><stop offset="0.134" stop-color="#14ffe2"/><stop offset="0.159" stop-color="#23ffd3"/><stop offset="0.211" stop-color="#54ffa2"/><stop offset="0.322" stop-color="#ebff0b"/><stop offset="0.333" stop-color="#f8f500"/><stop offset="0.347" stop-color="#ffea00"/><stop offset="0.448" stop-color="#ffae00"/><stop offset="0.514" stop-color="#ff9700"/><stop offset="0.559" stop-color="#ff9700"/><stop offset="0.618" stop-color="#ffb800"/><stop offset="0.646" stop-color="#ffe800"/><stop offset="0.653" stop-color="#f7f500"/><stop offset="0.66" stop-color="#eaff0d"/><stop offset="0.678" stop-color="#c7ff2f"/><stop offset="0.713" stop-color="#65ff91"/><stop offset="0.733" stop-color="#17ffe0"/><stop offset="0.74" stop-color="#00e1fb"/><stop offset="0.744" stop-color="#00cbff"/><stop offset="0.772" stop-color="#0002ff"/><stop offset="0.775" stop-color="#0000f5"/><stop offset="0.782" stop-color="#0000c3"/><stop offset="0.793" stop-color="#00008a"/><stop offset="0.8" stop-color="#000080"/><stop offset="0.998" stop-color="#000080"/></linearGradient><linearGradient id="h35" x1="0" y1="0" x2="0" y2="1"><stop offset="0.002" stop-color="#008cff"/><stop offset="0.082" stop-color="#00daff"/><stop offset="0.134" stop-color="#15ffe2"/><stop offset="0.207" stop-color="#52ffa5"/><stop offset="0.326" stop-color="#effe07"/><stop offset="0.347" stop-color="#ffea00"/><stop offset="0.382" stop-color="#ffcf00"/><stop offset="0.448" stop-color="#ffae00"/><stop offset="0.514" stop-color="#ff9700"/><stop offset="0.559" stop-color="#ff9700"/><stop offset="0.618" stop-color="#ffb800"/><stop offset="0.646" stop-color="#ffe800"/><stop offset="0.653" stop-color="#f7f500"/><stop offset="0.66" stop-color="#eaff0d"/><stop offset="0.678" stop-color="#c7ff2f"/><stop offset="0.713" stop-color="#65ff91"/><stop offset="0.733" stop-color="#17ffe0"/><stop offset="0.74" stop-color="#00e1fb"/><stop offset="0.744" stop-color="#00cbff"/><stop offset="0.772" stop-color="#0002ff"/><stop offset="0.775" stop-color="#0000f5"/><stop offset="0.782" stop-color="#0000c3"/><stop offset="0.793" stop-color="#00008a"/><stop offset="0.8" stop-color="#000080"/><stop offset="0.998" stop-color="#000080"/></linearGradient><linearGradient id="h36" x1="0" y1="0" x2="0" y2="1"><stop offset="0.002" stop-color="#0084ff"/><stop offset="0.085" stop-color="#00dbff"/><stop offset="0.099" stop-color="#00e5f7"/><stop offset="0.134" stop-color="#15ffe2"/><stop offset="0.207" stop-color="#54ffa3"/><stop offset="0.322" stop-color="#ebff0c"/><stop offset="0.333" stop-color="#f7f500"/><stop offset="0.347" stop-color="#ffea00"/><stop offset="0.382" stop-color="#ffcf00"/><stop offset="0.448" stop-color="#ffae00"/><stop offset="0.514" stop-color="#ff9700"/><stop offset="0.559" stop-color="#ff9700"/><stop offset="0.618" stop-color="#ffb800"/><stop offset="0.646" stop-color="#ffe800"/><stop offset="0.653" stop-color="#f7f500"/><stop offset="0.66" stop-color="#eaff0d"/><stop offset="0.678" stop-color="#c7ff2f"/><stop offset="0.713" stop-color="#65ff91"/><stop offset="0.733" stop-color="#17ffe0"/><stop offset="0.74" stop-color="#00e1fb"/><stop offset="0.744" stop-color="#00cbff"/><stop offset="0.772" stop-color="#0002ff"/><stop offset="0.775" stop-color="#0000f5"/><stop offset="0.782" stop-color="#0000c3"/><stop offset="0.793" stop-color="#00008a"/><stop offset="0.8" stop-color="#000080"/><stop offset="0.998" stop-color="#000080"/></linearGradient><linearGradient id="h37" x1="0" y1="0" x2="0" y2="1"><stop offset="0.002" stop-color="#007dff"/><stop offset="0.089" stop-color="#00dbff"/><stop offset="0.134" stop-color="#16ffe1"/><stop offset="0.19" stop-color="#42ffb4"/><stop offset="0.326" stop-color="#eeff08"/><stop offset="0.347" stop-color="#ffeb00"/><stop offset="0.382" stop-color="#ffcf00"/><stop offset="0.448" stop-color="#ffae00"/><stop offset="0.514" stop-color="#ff9700"/><stop offset="0.559" stop-color="#ff9700"/><stop offset="0.618" stop-color="#ffb800"/><stop offset="0.646" stop-color="#ffe800"/><stop offset="0.653" stop-color="#f7f500"/><stop offset="0.66" stop-color="#eaff0d"/><stop offset="0.678" stop-color="#c7ff2f"/><stop offset="0.713" stop-color="#65ff91"/><stop offset="0.733" stop-color="#17ffe0"/><stop offset="0.74" stop-color="#00e1fb"/><stop offset="0.744" stop-color="#00cbff"/><stop offset="0.772" stop-color="#0002ff"/><stop offset="0.775" stop-color="#0000f5"/><stop offset="0.782" stop-color="#0000c3"/><stop offset="0.793" stop-color="#00008a"/><stop offset="0.8" stop-color="#000080"/><stop offset="0.998" stop-color="#000080"/></linearGradient><linearGradient id="h38" x1="0" y1="0" x2="0" y2="1"><stop offset="0.002" stop-color="#0075ff"/><stop offset="0.092" stop-color="#00dcfe"/><stop offset="0.134" stop-color="#16ffe1"/><stop offset="0.19" stop-color="#44ffb3"/><stop offset="0.326" stop-color="#edff0a"/><stop offset="0.347" stop-color="#ffec00"/><stop offset="0.382" stop-color="#ffd000"/><stop offset="0.448" stop-color="#ffaf00"/><stop offset="0.514" stop-color="#ff9700"/><stop offset="0.559" stop-color="#ff9700"/><stop offset="0.618" stop-color="#ffb800"/><stop offset="0.646" stop-color="#ffe800"/><stop offset="0.653" stop-color="#f7f500"/><stop offset="0.66" stop-color="#eaff0d"/><stop offset="0.678" stop-color="#c7ff2f"/><stop offset="0.713" stop-color="#65ff91"/><stop offset="0.733" stop-color="#17ffe0"/><stop offset="0.74" stop-color="#00e1fb"/><stop offset="0.744" stop-color="#00cbff"/><stop offset="0.772" stop-color="#0002ff"/><stop offset="0.775" stop-color="#0000f5"/><stop offset="0.782" stop-color="#0000c3"/><stop offset="0.793" stop-color="#00008a"/><stop offset="0.8" stop-color="#000080"/><stop offset="0.998" stop-color="#000080"/></linearGradient><linearGradient id="h39" x1="0" y1="0" x2="0" y2="1"><stop offset="0.002" stop-color="#006eff"/><stop offset="0.092" stop-color="#00daff"/><stop offset="0.106" stop-color="#01e7f5"/><stop offset="0.134" stop-color="#16ffe1"/><stop offset="0.19" stop-color="#44ffb3"/><stop offset="0.326" stop-color="#ebff0b"/><stop offset="0.35" stop-color="#ffea00"/><stop offset="0.448" stop-color="#ffb000"/><stop offset="0.514" stop-color="#ff9700"/><stop offset="0.559" stop-color="#ff9700"/><stop offset="0.618" stop-color="#ffb800"/><stop offset="0.646" stop-color="#ffe800"/><stop offset="0.653" stop-color="#f7f500"/><stop offset="0.66" stop-color="#eaff0d"/><stop offset="0.678" stop-color="#c7ff2f"/><stop offset="0.713" stop-color="#65ff91"/><stop offset="0.733" stop-color="#17ffe0"/><stop offset="0.74" stop-color="#00e1fb"/><stop offset="0.744" stop-color="#00cbff"/><stop offset="0.772" stop-color="#0002ff"/><stop offset="0.775" stop-color="#0000f5"/><stop offset="0.782" stop-color="#0000c3"/><stop offset="0.793" stop-color="#00008a"/><stop offset="0.8" stop-color="#000080"/><stop offset="0.998" stop-color="#000080"/></linearGradient><linearGradient id="h40" x1="0" y1="0" x2="0" y2="1"><stop offset="0.002" stop-color="#0068ff"/><stop offset="0.096" stop-color="#00dcfe"/><stop offset="0.131" stop-color="#14fee3"/><stop offset="0.19" stop-color="#45ffb2"/><stop offset="0.329" stop-color="#edff09"/><stop offset="0.354" stop-color="#ffe900"/><stop offset="0.469" stop-color="#ffa800"/><stop offset="0.514" stop-color="#ff9700"/><stop offset="0.559" stop-color="#ff9700"/><stop offset="0.618" stop-color="#ffb800"/><stop offset="0.646" stop-color="#ffe800"/><stop offset="0.653" stop-color="#f7f500"/><stop offset="0.66" stop-color="#eaff0d"/><stop offset="0.678" stop-color="#c7ff2f"/><stop offset="0.713" stop-color="#65ff91"/><stop offset="0.733" stop-color="#17ffe0"/><stop offset="0.74" stop-color="#00e1fb"/><stop offset="0.744" stop-color="#00cbff"/><stop offset="0.772" stop-color="#0002ff"/><stop offset="0.775" stop-color="#0000f5"/><stop offset="0.782" stop-color="#0000c3"/><stop offset="0.793" stop-color="#00008a"/><stop offset="0.8" stop-color="#000080"/><stop offset="0.998" stop-color="#000080"/></linearGradient><linearGradient id="h41" x1="0" y1="0" x2="0" y2="1"><stop offset="0.002" stop-color="#0061ff"/><stop offset="0.096" stop-color="#00daff"/><stop offset="0.131" stop-color="#14fee3"/><stop offset="0.19" stop-color="#45ffb1"/><stop offset="0.329" stop-color="#ebff0b"/><stop offset="0.354" stop-color="#ffeb00"/><stop offset="0.448" stop-color="#ffb100"/><stop offset="0.521" stop-color="#ff9600"/><stop offset="0.563" stop-color="#ff9800"/><stop offset="0.618" stop-color="#ffb800"/><stop offset="0.646" stop-color="#ffe800"/><stop offset="0.653" stop-color="#f7f500"/><stop offset="0.66" stop-color="#eaff0d"/><stop offset="0.678" stop-color="#c7ff2f"/><stop offset="0.713" stop-color="#65ff91"/><stop offset="0.733" stop-color="#17ffe0"/><stop offset="0.74" stop-color="#00e1fb"/><stop offset="0.744" stop-color="#00cbff"/><stop offset="0.772" stop-color="#0002ff"/><stop offset="0.775" stop-color="#0000f5"/><stop offset="0.782" stop-color="#0000c3"/><stop offset="0.793" stop-color="#00008a"/><stop offset="0.8" stop-color="#000080"/><stop offset="0.998" stop-color="#000080"/></linearGradient><linearGradient id="h42" x1="0" y1="0" x2="0" y2="1"><stop offset="0.002" stop-color="#005aff"/><stop offset="0.096" stop-color="#00d9ff"/><stop offset="0.11" stop-color="#02e8f5"/><stop offset="0.131" stop-color="#14fee3"/><stop offset="0.193" stop-color="#4affad"/><stop offset="0.333" stop-color="#edff09"/><stop offset="0.357" stop-color="#ffea00"/><stop offset="0.448" stop-color="#ffb200"/><stop offset="0.521" stop-color="#ff9500"/><stop offset="0.563" stop-color="#ff9800"/><stop offset="0.618" stop-color="#ffb800"/><stop offset="0.646" stop-color="#ffe800"/><stop offset="0.653" stop-color="#f7f500"/><stop offset="0.66" stop-color="#eaff0d"/><stop offset="0.678" stop-color="#c7ff2f"/><stop offset="0.713" stop-color="#65ff91"/><stop offset="0.733" stop-color="#17ffe0"/><stop offset="0.74" stop-color="#00e1fb"/><stop offset="0.744" stop-color="#00cbff"/><stop offset="0.772" stop-color="#0002ff"/><stop offset="0.775" stop-color="#0000f5"/><stop offset="0.782" stop-color="#0000c3"/><stop offset="0.793" stop-color="#00008a"/><stop offset="0.8" stop-color="#000080"/><stop offset="0.998" stop-color="#000080"/></linearGradient><linearGradient id="h43" x1="0" y1="0" x2="0" y2="1"><stop offset="0.002" stop-color="#0053ff"/><stop offset="0.099" stop-color="#00dbff"/><stop offset="0.131" stop-color="#14fee3"/><stop offset="0.193" stop-color="#4affac"/><stop offset="0.336" stop-color="#eeff08"/><stop offset="0.357" stop-color="#ffeb00"/><stop offset="0.448" stop-color="#ffb300"/><stop offset="0.521" stop-color="#ff9500"/><stop offset="0.563" stop-color="#ff9800"/><stop offset="0.618" stop-color="#ffb800"/><stop offset="0.646" stop-color="#ffe800"/><stop offset="0.653" stop-color="#f7f500"/><stop offset="0.66" stop-color="#eaff0d"/><stop offset="0.678" stop-color="#c7ff2f"/><stop offset="0.713" stop-color="#65ff91"/><stop offset="0.733" stop-color="#17ffe0"/><stop offset="0.74" stop-color="#00e1fb"/><stop offset="0.744" stop-color="#00cbff"/><stop offset="0.772" stop-color="#0002ff"/><stop offset="0.775" stop-color="#0000f5"/><stop offset="0.782" stop-color="#0000c3"/><stop offset="0.793" stop-color="#00008a"/><stop offset="0.8" stop-color="#000080"/><stop offset="0.998" stop-color="#000080"/></linearGradient><linearGradient id="h44" x1="0" y1="0" x2="0" y2="1"><stop offset="0.002" stop-color="#004cff"/><stop offset="0.099" stop-color="#00daff"/><stop offset="0.11" stop-color="#00e6f6"/><stop offset="0.131" stop-color="#14fee3"/><stop offset="0.239" stop-color="#7aff7c"/><stop offset="0.336" stop-color="#ecff0a"/><stop offset="0.361" stop-color="#ffea00"/><stop offset="0.448" stop-color="#ffb300"/><stop offset="0.521" stop-color="#ff9400"/><stop offset="0.563" stop-color="#ff9800"/><stop offset="0.618" stop-color="#ffb800"/><stop offset="0.646" stop-color="#ffe800"/><stop offset="0.653" stop-color="#f7f500"/><stop offset="0.66" stop-color="#eaff0d"/><stop offset="0.678" stop-color="#c7ff2f"/><stop offset="0.713" stop-color="#65ff91"/><stop offset="0.733" stop-color="#17ffe0"/><stop offset="0.74" stop-color="#00e1fb"/><stop offset="0.744" stop-color="#00cbff"/><stop offset="0.772" stop-color="#0002ff"/><stop offset="0.775" stop-color="#0000f5"/><stop offset="0.782" stop-color="#0000c3"/><stop offset="0.793" stop-color="#00008a"/><stop offset="0.8" stop-color="#000080"/><stop offset="0.998" stop-color="#000080"/></linearGradient><linearGradient id="h45" x1="0" y1="0" x2="0" y2="1"><stop offset="0.002" stop-color="#0045ff"/><stop offset="0.099" stop-color="#00d8ff"/><stop offset="0.11" stop-color="#00e5f7"/><stop offset="0.131" stop-color="#14ffe3"/><stop offset="0.239" stop-color="#7aff7d"/><stop offset="0.34" stop-color="#eeff09"/><stop offset="0.361" stop-color="#ffec00"/><stop offset="0.465" stop-color="#ffaa00"/><stop offset="0.521" stop-color="#ff9400"/><stop offset="0.563" stop-color="#ff9800"/><stop offset="0.618" stop-color="#ffb800"/><stop offset="0.646" stop-color="#ffe800"/><stop offset="0.653" stop-color="#f7f500"/><stop offset="0.66" stop-color="#eaff0d"/><stop offset="0.678" stop-color="#c7ff2f"/><stop offset="0.713" stop-color="#65ff91"/><stop offset="0.733" stop-color="#17ffe0"/><stop offset="0.74" stop-color="#00e1fb"/><stop offset="0.744" stop-color="#00cbff"/><stop offset="0.772" stop-color="#0002ff"/><stop offset="0.775" stop-color="#0000f5"/><stop offset="0.782" stop-color="#0000c3"/><stop offset="0.793" stop-color="#00008a"/><stop offset="0.8" stop-color="#000080"/><stop offset="0.998" stop-color="#000080"/></linearGradient><linearGradient id="h46" x1="0" y1="0" x2="0" y2="1"><stop offset="0.002" stop-color="#003eff"/><stop offset="0.103" stop-color="#00dbff"/><stop offset="0.131" stop-color="#14ffe2"/><stop offset="0.239" stop-color="#7aff7d"/><stop offset="0.34" stop-color="#ecff0b"/><stop offset="0.364" stop-color="#ffeb00"/><stop offset="0.465" stop-color="#ffab00"/><stop offset="0.521" stop-color="#ff9300"/><stop offset="0.563" stop-color="#ff9800"/><stop offset="0.618" stop-color="#ffb800"/><stop offset="0.646" stop-color="#ffe800"/><stop offset="0.653" stop-color="#f7f500"/><stop offset="0.66" stop-color="#eaff0d"/><stop offset="0.678" stop-color="#c7ff2f"/><stop offset="0.713" stop-color="#65ff91"/><stop offset="0.733" stop-color="#17ffe0"/><stop offset="0.74" stop-color="#00e1fb"/><stop offset="0.744" stop-color="#00cbff"/><stop offset="0.772" stop-color="#0002ff"/><stop offset="0.775" stop-color="#0000f5"/><stop offset="0.782" stop-color="#0000c3"/><stop offset="0.793" stop-color="#00008a"/><stop offset="0.8" stop-color="#000080"/><stop offset="0.998" stop-color="#000080"/></linearGradient><linearGradient id="h47" x1="0" y1="0" x2="0" y2="1"><stop offset="0.002" stop-color="#0037ff"/><stop offset="0.103" stop-color="#00daff"/><stop offset="0.131" stop-color="#14ffe2"/><stop offset="0.256" stop-color="#8cff6b"/><stop offset="0.343" stop-color="#eeff09"/><stop offset="0.368" stop-color="#ffea00"/><stop offset="0.465" stop-color="#ffab00"/><stop offset="0.521" stop-color="#ff9300"/><stop offset="0.563" stop-color="#ff9800"/><stop offset="0.618" stop-color="#ffb800"/><stop offset="0.646" stop-color="#ffe800"/><stop offset="0.653" stop-color="#f7f500"/><stop offset="0.66" stop-color="#eaff0d"/><stop offset="0.678" stop-color="#c7ff2f"/><stop offset="0.713" stop-color="#65ff91"/><stop offset="0.733" stop-color="#17ffe0"/><stop offset="0.74" stop-color="#00e1fb"/><stop offset="0.744" stop-color="#00cbff"/><stop offset="0.772" stop-color="#0002ff"/><stop offset="0.775" stop-color="#0000f5"/><stop offset="0.782" stop-color="#0000c3"/><stop offset="0.793" stop-color="#00008a"/><stop offset="0.8" stop-color="#000080"/><stop offset="0.998" stop-color="#000080"/></linearGradient><linearGradient id="h48" x1="0" y1="0" x2="0" y2="1"><stop offset="0.002" stop-color="#0034ff"/><stop offset="0.103" stop-color="#00daff"/><stop offset="0.131" stop-color="#15ffe2"/><stop offset="0.256" stop-color="#8bff6c"/><stop offset="0.343" stop-color="#edff0a"/><stop offset="0.368" stop-color="#ffeb00"/><stop offset="0.465" stop-color="#ffab00"/><stop offset="0.521" stop-color="#ff9300"/><stop offset="0.563" stop-color="#ff9800"/><stop offset="0.618" stop-color="#ffb800"/><stop offset="0.646" stop-color="#ffe800"/><stop offset="0.653" stop-color="#f7f500"/><stop offset="0.66" stop-color="#eaff0d"/><stop offset="0.678" stop-color="#c7ff2f"/><stop offset="0.713" stop-color="#65ff91"/><stop offset="0.733" stop-color="#17ffe0"/><stop offset="0.74" stop-color="#00e1fb"/><stop offset="0.744" stop-color="#00cbff"/><stop offset="0.772" stop-color="#0002ff"/><stop offset="0.775" stop-color="#0000f5"/><stop offset="0.782" stop-color="#0000c3"/><stop offset="0.793" stop-color="#00008a"/><stop offset="0.8" stop-color="#000080"/><stop offset="0.998" stop-color="#000080"/></linearGradient><linearGradient id="h49" x1="0" y1="0" x2="0" y2="1"><stop offset="0.002" stop-color="#0034ff"/><stop offset="0.103" stop-color="#00daff"/><stop offset="0.131" stop-color="#15ffe2"/><stop offset="0.256" stop-color="#8bff6c"/><stop offset="0.343" stop-color="#edff0a"/><stop offset="0.368" stop-color="#ffeb00"/><stop offset="0.465" stop-color="#ffab00"/><stop offset="0.521" stop-color="#ff9300"/><stop offset="0.563" stop-color="#ff9800"/><stop offset="0.618" stop-color="#ffb800"/><stop offset="0.646" stop-color="#ffe800"/><stop offset="0.653" stop-color="#f7f500"/><stop offset="0.66" stop-color="#eaff0d"/><stop offset="0.678" stop-color="#c7ff2f"/><stop offset="0.713" stop-color="#65ff91"/><stop offset="0.733" stop-color="#17ffe0"/><stop offset="0.74" stop-color="#00e1fb"/><stop offset="0.744" stop-color="#00cbff"/><stop offset="0.772" stop-color="#0002ff"/><stop offset="0.775" stop-color="#0000f5"/><stop offset="0.782" stop-color="#0000c3"/><stop offset="0.793" stop-color="#00008a"/><stop offset="0.8" stop-color="#000080"/><stop offset="0.998" stop-color="#000080"/></linearGradient><linearGradient id="h50" x1="0" y1="0" x2="0" y2="1"><stop offset="0.002" stop-color="#0034ff"/><stop offset="0.103" stop-color="#00daff"/><stop offset="0.131" stop-color="#15ffe2"/><stop offset="0.256" stop-color="#8bff6c"/><stop offset="0.343" stop-color="#edff0a"/><stop offset="0.368" stop-color="#ffeb00"/><stop offset="0.465" stop-color="#ffab00"/><stop offset="0.521" stop-color="#ff9300"/><stop offset="0.563" stop-color="#ff9800"/><stop offset="0.618" stop-color="#ffb800"/><stop offset="0.646" stop-color="#ffe800"/><stop offset="0.653" stop-color="#f7f500"/><stop offset="0.66" stop-color="#eaff0d"/><stop offset="0.678" stop-color="#c7ff2f"/><stop offset="0.713" stop-color="#65ff91"/><stop offset="0.733" stop-color="#17ffe0"/><stop offset="0.74" stop-color="#00e1fb"/><stop offset="0.744" stop-color="#00cbff"/><stop offset="0.772" stop-color="#0002ff"/><stop offset="0.775" stop-color="#0000f5"/><stop offset="0.782" stop-color="#0000c3"/><stop offset="0.793" stop-color="#00008a"/><stop offset="0.8" stop-color="#000080"/><stop offset="0.998" stop-color="#000080"/></linearGradient><linearGradient id="h51" x1="0" y1="0" x2="0" y2="1"><stop offset="0.002" stop-color="#0034ff"/><stop offset="0.103" stop-color="#00daff"/><stop offset="0.131" stop-color="#15ffe2"/><stop offset="0.256" stop-color="#8bff6c"/><stop offset="0.343" stop-color="#edff0a"/><stop offset="0.368" stop-color="#ffeb00"/><stop offset="0.465" stop-color="#ffab00"/><stop offset="0.521" stop-color="#ff9300"/><stop offset="0.563" stop-color="#ff9700"/><stop offset="0.618" stop-color="#ffb600"/><stop offset="0.653" stop-color="#f9f300"/><stop offset="0.66" stop-color="#ecff0b"/><stop offset="0.678" stop-color="#caff2d"/><stop offset="0.713" stop-color="#69ff8e"/><stop offset="0.733" stop-color="#1affdc"/><stop offset="0.74" stop-color="#00e5f7"/><stop offset="0.744" stop-color="#00cfff"/><stop offset="0.772" stop-color="#0008ff"/><stop offset="0.775" stop-color="#0000fd"/><stop offset="0.782" stop-color="#0000cb"/><stop offset="0.793" stop-color="#000091"/><stop offset="0.8" stop-color="#000085"/><stop offset="0.998" stop-color="#000080"/></linearGradient><linearGradient id="h52" x1="0" y1="0" x2="0" y2="1"><stop offset="0.002" stop-color="#0000d5"/><stop offset="0.04" stop-color="#0000ff"/><stop offset="0.054" stop-color="#0000ff"/><stop offset="0.078" stop-color="#0018ff"/><stop offset="0.138" stop-color="#007cff"/><stop offset="0.172" stop-color="#00d8ff"/><stop offset="0.19" stop-color="#19ffde"/><stop offset="0.204" stop-color="#33ffc3"/><stop offset="0.239" stop-color="#54ffa2"/><stop offset="0.308" stop-color="#c2ff35"/><stop offset="0.343" stop-color="#ebff0c"/><stop offset="0.354" stop-color="#f7f500"/><stop offset="0.368" stop-color="#ffeb00"/><stop offset="0.465" stop-color="#ffab00"/><stop offset="0.521" stop-color="#ff9300"/><stop offset="0.563" stop-color="#ff9700"/><stop offset="0.618" stop-color="#ffb600"/><stop offset="0.65" stop-color="#ffeb00"/><stop offset="0.66" stop-color="#edff0a"/><stop offset="0.678" stop-color="#cbff2c"/><stop offset="0.713" stop-color="#6aff8c"/><stop offset="0.733" stop-color="#1dffda"/><stop offset="0.737" stop-color="#0ff9e7"/><stop offset="0.744" stop-color="#00d2ff"/><stop offset="0.772" stop-color="#000dff"/><stop offset="0.775" stop-color="#0000ff"/><stop offset="0.793" stop-color="#000095"/><stop offset="0.8" stop-color="#000088"/><stop offset="0.828" stop-color="#000080"/><stop offset="0.998" stop-color="#000080"/></linearGradient><linearGradient id="h53" x1="0" y1="0" x2="0" y2="1"><stop offset="0.002" stop-color="#000081"/><stop offset="0.078" stop-color="#0000a8"/><stop offset="0.127" stop-color="#0000ff"/><stop offset="0.138" stop-color="#0004ff"/><stop offset="0.166" stop-color="#005eff"/><stop offset="0.193" stop-color="#00d2ff"/><stop offset="0.207" stop-color="#16ffe0"/><stop offset="0.239" stop-color="#3affbd"/><stop offset="0.308" stop-color="#bbff3c"/><stop offset="0.347" stop-color="#edff09"/><stop offset="0.354" stop-color="#f6f601"/><stop offset="0.368" stop-color="#ffec00"/><stop offset="0.465" stop-color="#ffab00"/><stop offset="0.521" stop-color="#ff9300"/><stop offset="0.563" stop-color="#ff9600"/><stop offset="0.618" stop-color="#ffb500"/><stop offset="0.65" stop-color="#ffea00"/><stop offset="0.66" stop-color="#efff08"/><stop offset="0.678" stop-color="#cdff2a"/><stop offset="0.713" stop-color="#6dff8a"/><stop offset="0.733" stop-color="#1fffd7"/><stop offset="0.737" stop-color="#12fce5"/><stop offset="0.744" stop-color="#00d6ff"/><stop offset="0.775" stop-color="#0000ff"/><stop offset="0.793" stop-color="#00009b"/><stop offset="0.8" stop-color="#00008c"/><stop offset="0.828" stop-color="#000080"/><stop offset="0.998" stop-color="#000080"/></linearGradient><linearGradient id="h54" x1="0" y1="0" x2="0" y2="1"><stop offset="0.002" stop-color="#000081"/><stop offset="0.078" stop-color="#0000a1"/><stop offset="0.113" stop-color="#0000c7"/><stop offset="0.141" stop-color="#0000ff"/><stop offset="0.148" stop-color="#0002ff"/><stop offset="0.166" stop-color="#0030ff"/><stop offset="0.2" stop-color="#00daff"/><stop offset="0.207" stop-color="#0df6e9"/><stop offset="0.214" stop-color="#19ffde"/><stop offset="0.239" stop-color="#3affbd"/><stop offset="0.312" stop-color="#beff39"/><stop offset="0.347" stop-color="#ecff0b"/><stop offset="0.357" stop-color="#f8f400"/><stop offset="0.371" stop-color="#ffeb00"/><stop offset="0.465" stop-color="#ffab00"/><stop offset="0.521" stop-color="#ff9200"/><stop offset="0.563" stop-color="#ff9500"/><stop offset="0.618" stop-color="#ffb400"/><stop offset="0.65" stop-color="#ffe800"/><stop offset="0.66" stop-color="#f0fd07"/><stop offset="0.678" stop-color="#cfff28"/><stop offset="0.713" stop-color="#70ff87"/><stop offset="0.737" stop-color="#15ffe1"/><stop offset="0.744" stop-color="#00daff"/><stop offset="0.775" stop-color="#0000ff"/><stop offset="0.779" stop-color="#0000f3"/><stop offset="0.793" stop-color="#0000a1"/><stop offset="0.8" stop-color="#000090"/><stop offset="0.817" stop-color="#000083"/><stop offset="0.998" stop-color="#000080"/></linearGradient><linearGradient id="h55" x1="0" y1="0" x2="0" y2="1"><stop offset="0.002" stop-color="#000081"/><stop offset="0.113" stop-color="#0000ab"/><stop offset="0.159" stop-color="#0000ff"/><stop offset="0.166" stop-color="#0002ff"/><stop offset="0.204" stop-color="#00d9ff"/><stop offset="0.207" stop-color="#05ebf2"/><stop offset="0.218" stop-color="#19ffde"/><stop offset="0.312" stop-color="#bcff3b"/><stop offset="0.35" stop-color="#eeff08"/><stop offset="0.357" stop-color="#f7f500"/><stop offset="0.371" stop-color="#ffec00"/><stop offset="0.465" stop-color="#ffab00"/><stop offset="0.521" stop-color="#ff9200"/><stop offset="0.563" stop-color="#ff9500"/><stop offset="0.618" stop-color="#ffb200"/><stop offset="0.65" stop-color="#ffe600"/><stop offset="0.664" stop-color="#ecff0b"/><stop offset="0.678" stop-color="#d1ff26"/><stop offset="0.713" stop-color="#73ff84"/><stop offset="0.737" stop-color="#19ffde"/><stop offset="0.744" stop-color="#00dffc"/><stop offset="0.747" stop-color="#00c7ff"/><stop offset="0.775" stop-color="#0006ff"/><stop offset="0.779" stop-color="#0000fb"/><stop offset="0.793" stop-color="#0000a7"/><stop offset="0.8" stop-color="#000095"/><stop offset="0.817" stop-color="#000084"/><stop offset="0.998" stop-color="#000080"/></linearGradient><linearGradient id="h56" x1="0" y1="0" x2="0" y2="1"><stop offset="0.002" stop-color="#000081"/><stop offset="0.057" stop-color="#000096"/><stop offset="0.11" stop-color="#0000ba"/><stop offset="0.12" stop-color="#0000cb"/><stop offset="0.141" stop-color="#0000ff"/><stop offset="0.148" stop-color="#0002ff"/><stop offset="0.166" stop-color="#0028ff"/><stop offset="0.2" stop-color="#00d1ff"/><stop offset="0.207" stop-color="#09f0ee"/><stop offset="0.214" stop-color="#16ffe1"/><stop offset="0.312" stop-color="#bbff3c"/><stop offset="0.35" stop-color="#edff09"/><stop offset="0.357" stop-color="#f6f601"/><stop offset="0.371" stop-color="#ffec00"/><stop offset="0.465" stop-color="#ffab00"/><stop offset="0.521" stop-color="#ff9200"/><stop offset="0.563" stop-color="#ff9400"/><stop offset="0.618" stop-color="#ffb100"/><stop offset="0.653" stop-color="#ffeb00"/><stop offset="0.664" stop-color="#eeff09"/><stop offset="0.678" stop-color="#d3ff24"/><stop offset="0.713" stop-color="#76ff81"/><stop offset="0.737" stop-color="#1dffda"/><stop offset="0.74" stop-color="#10f9e7"/><stop offset="0.744" stop-color="#00e4f8"/><stop offset="0.747" stop-color="#00cdff"/><stop offset="0.775" stop-color="#000eff"/><stop offset="0.779" stop-color="#0000ff"/><stop offset="0.793" stop-color="#0000af"/><stop offset="0.796" stop-color="#0000a3"/><stop offset="0.821" stop-color="#000083"/><stop offset="0.998" stop-color="#000080"/></linearGradient><linearGradient id="h57" x1="0" y1="0" x2="0" y2="1"><stop offset="0.002" stop-color="#000081"/><stop offset="0.057" stop-color="#00009c"/><stop offset="0.113" stop-color="#0000df"/><stop offset="0.124" stop-color="#0000fb"/><stop offset="0.131" stop-color="#0003ff"/><stop offset="0.166" stop-color="#006bff"/><stop offset="0.197" stop-color="#00dcff"/><stop offset="0.211" stop-color="#17ffe0"/><stop offset="0.239" stop-color="#3affbd"/><stop offset="0.315" stop-color="#bfff38"/><stop offset="0.35" stop-color="#ecff0a"/><stop offset="0.357" stop-color="#f5f701"/><stop offset="0.375" stop-color="#ffea00"/><stop offset="0.465" stop-color="#ffab00"/><stop offset="0.521" stop-color="#ff9200"/><stop offset="0.563" stop-color="#ff9300"/><stop offset="0.618" stop-color="#ffb000"/><stop offset="0.653" stop-color="#ffe800"/><stop offset="0.664" stop-color="#f0fd07"/><stop offset="0.678" stop-color="#d6ff21"/><stop offset="0.713" stop-color="#7aff7d"/><stop offset="0.74" stop-color="#14ffe2"/><stop offset="0.744" stop-color="#03eaf3"/><stop offset="0.747" stop-color="#00d3ff"/><stop offset="0.779" stop-color="#0000ff"/><stop offset="0.782" stop-color="#0000f7"/><stop offset="0.793" stop-color="#0000b6"/><stop offset="0.796" stop-color="#0000aa"/><stop offset="0.817" stop-color="#000087"/><stop offset="0.828" stop-color="#000080"/><stop offset="0.998" stop-color="#000080"/></linearGradient><linearGradient id="h58" x1="0" y1="0" x2="0" y2="1"><stop offset="0.002" stop-color="#00009f"/><stop offset="0.057" stop-color="#0000bf"/><stop offset="0.099" stop-color="#0000ff"/><stop offset="0.11" stop-color="#0000ff"/><stop offset="0.12" stop-color="#0012ff"/><stop offset="0.159" stop-color="#009bff"/><stop offset="0.186" stop-color="#00daff"/><stop offset="0.207" stop-color="#17ffe0"/><stop offset="0.239" stop-color="#38ffbf"/><stop offset="0.315" stop-color="#bdff3a"/><stop offset="0.35" stop-color="#ebff0c"/><stop offset="0.361" stop-color="#f7f500"/><stop offset="0.375" stop-color="#ffeb00"/><stop offset="0.465" stop-color="#ffab00"/><stop offset="0.521" stop-color="#ff9200"/><stop offset="0.563" stop-color="#ff9200"/><stop offset="0.601" stop-color="#ffa300"/><stop offset="0.618" stop-color="#ffae00"/><stop offset="0.653" stop-color="#ffe600"/><stop offset="0.667" stop-color="#edff0a"/><stop offset="0.674" stop-color="#e1ff16"/><stop offset="0.713" stop-color="#7eff79"/><stop offset="0.74" stop-color="#19ffde"/><stop offset="0.747" stop-color="#00d9ff"/><stop offset="0.779" stop-color="#0007ff"/><stop offset="0.782" stop-color="#0000ff"/><stop offset="0.793" stop-color="#0000bf"/><stop offset="0.8" stop-color="#0000a8"/><stop offset="0.817" stop-color="#000088"/><stop offset="0.828" stop-color="#000080"/><stop offset="0.998" stop-color="#000080"/></linearGradient><linearGradient id="h59" x1="0" y1="0" x2="0" y2="1"><stop offset="0.002" stop-color="#0035ff"/><stop offset="0.078" stop-color="#0067ff"/><stop offset="0.12" stop-color="#0090ff"/><stop offset="0.179" stop-color="#00daff"/><stop offset="0.19" stop-color="#01e7f6"/><stop offset="0.214" stop-color="#17ffe0"/><stop offset="0.239" stop-color="#2bffcc"/><stop offset="0.277" stop-color="#6aff8d"/><stop offset="0.319" stop-color="#beff39"/><stop offset="0.361" stop-color="#f4f802"/><stop offset="0.378" stop-color="#ffeb00"/><stop offset="0.469" stop-color="#ffa900"/><stop offset="0.517" stop-color="#ff9300"/><stop offset="0.559" stop-color="#ff9000"/><stop offset="0.618" stop-color="#ffac00"/><stop offset="0.657" stop-color="#ffea00"/><stop offset="0.664" stop-color="#f5f802"/><stop offset="0.678" stop-color="#dcff1b"/><stop offset="0.713" stop-color="#82ff75"/><stop offset="0.74" stop-color="#1effd9"/><stop offset="0.744" stop-color="#0df6e9"/><stop offset="0.747" stop-color="#00e0fb"/><stop offset="0.751" stop-color="#00c9ff"/><stop offset="0.782" stop-color="#0000ff"/><stop offset="0.786" stop-color="#0000f5"/><stop offset="0.793" stop-color="#0000c8"/><stop offset="0.8" stop-color="#0000ae"/><stop offset="0.817" stop-color="#00008a"/><stop offset="0.828" stop-color="#000080"/><stop offset="0.998" stop-color="#000080"/></linearGradient><linearGradient id="h60" x1="0" y1="0" x2="0" y2="1"><stop offset="0.002" stop-color="#004fff"/><stop offset="0.078" stop-color="#0080ff"/><stop offset="0.176" stop-color="#00d9ff"/><stop offset="0.19" stop-color="#01e7f6"/><stop offset="0.214" stop-color="#15ffe2"/><stop offset="0.239" stop-color="#29ffce"/><stop offset="0.28" stop-color="#6fff88"/><stop offset="0.319" stop-color="#bdff3a"/><stop offset="0.361" stop-color="#f4f903"/><stop offset="0.378" stop-color="#ffec00"/><stop offset="0.469" stop-color="#ffa900"/><stop offset="0.517" stop-color="#ff9300"/><stop offset="0.559" stop-color="#ff8f00"/><stop offset="0.618" stop-color="#ffab00"/><stop offset="0.657" stop-color="#ffe700"/><stop offset="0.664" stop-color="#f8f500"/><stop offset="0.671" stop-color="#ecff0b"/><stop offset="0.713" stop-color="#86ff71"/><stop offset="0.74" stop-color="#23ffd4"/><stop offset="0.744" stop-color="#13fde4"/><stop offset="0.747" stop-color="#01e7f6"/><stop offset="0.751" stop-color="#00d1ff"/><stop offset="0.782" stop-color="#0006ff"/><stop offset="0.786" stop-color="#0000ff"/><stop offset="0.793" stop-color="#0000d1"/><stop offset="0.8" stop-color="#0000b6"/><stop offset="0.817" stop-color="#00008b"/><stop offset="0.828" stop-color="#000080"/><stop offset="0.998" stop-color="#000080"/></linearGradient><linearGradient id="h61" x1="0" y1="0" x2="0" y2="1"><stop offset="0.002" stop-color="#002bff"/><stop offset="0.089" stop-color="#0058ff"/><stop offset="0.124" stop-color="#0090ff"/><stop offset="0.179" stop-color="#00d9ff"/><stop offset="0.19" stop-color="#00e5f7"/><stop offset="0.214" stop-color="#16ffe0"/><stop offset="0.242" stop-color="#32ffc5"/><stop offset="0.319" stop-color="#b7ff40"/><stop offset="0.361" stop-color="#f0fe07"/><stop offset="0.382" stop-color="#ffeb00"/><stop offset="0.517" stop-color="#ff9200"/><stop offset="0.559" stop-color="#ff8e00"/><stop offset="0.618" stop-color="#ffa900"/><stop offset="0.66" stop-color="#ffeb00"/><stop offset="0.667" stop-color="#f5f802"/><stop offset="0.674" stop-color="#eaff0d"/><stop offset="0.713" stop-color="#8bff6c"/><stop offset="0.744" stop-color="#18ffde"/><stop offset="0.751" stop-color="#00d8ff"/><stop offset="0.786" stop-color="#0000ff"/><stop offset="0.8" stop-color="#0000bd"/><stop offset="0.817" stop-color="#00008d"/><stop offset="0.828" stop-color="#000080"/><stop offset="0.998" stop-color="#000080"/></linearGradient><linearGradient id="h62" x1="0" y1="0" x2="0" y2="1"><stop offset="0.002" stop-color="#0000f4"/><stop offset="0.089" stop-color="#0000ff"/><stop offset="0.124" stop-color="#0064ff"/><stop offset="0.159" stop-color="#00b2ff"/><stop offset="0.186" stop-color="#00ddfe"/><stop offset="0.211" stop-color="#15ffe1"/><stop offset="0.246" stop-color="#3bffbc"/><stop offset="0.364" stop-color="#edff0a"/><stop offset="0.371" stop-color="#f7f600"/><stop offset="0.385" stop-color="#ffec00"/><stop offset="0.521" stop-color="#ff8e00"/><stop offset="0.563" stop-color="#ff8d00"/><stop offset="0.601" stop-color="#ff9b00"/><stop offset="0.622" stop-color="#ffac00"/><stop offset="0.66" stop-color="#ffe800"/><stop offset="0.674" stop-color="#edff0a"/><stop offset="0.713" stop-color="#8fff68"/><stop offset="0.744" stop-color="#1effd9"/><stop offset="0.751" stop-color="#00e0fb"/><stop offset="0.754" stop-color="#00cbff"/><stop offset="0.786" stop-color="#0005ff"/><stop offset="0.789" stop-color="#0000fe"/><stop offset="0.8" stop-color="#0000c5"/><stop offset="0.817" stop-color="#00008e"/><stop offset="0.828" stop-color="#000080"/><stop offset="0.998" stop-color="#000080"/></linearGradient><linearGradient id="h63" x1="0" y1="0" x2="0" y2="1"><stop offset="0.002" stop-color="#0000f4"/><stop offset="0.089" stop-color="#0000ff"/><stop offset="0.124" stop-color="#0064ff"/><stop offset="0.159" stop-color="#00b3ff"/><stop offset="0.186" stop-color="#00ddfe"/><stop offset="0.211" stop-color="#15ffe1"/><stop offset="0.246" stop-color="#3bffbc"/><stop offset="0.364" stop-color="#ecff0b"/><stop offset="0.371" stop-color="#f6f701"/><stop offset="0.385" stop-color="#ffec00"/><stop offset="0.517" stop-color="#ff8f00"/><stop offset="0.559" stop-color="#ff8b00"/><stop offset="0.618" stop-color="#ffa500"/><stop offset="0.664" stop-color="#ffeb00"/><stop offset="0.678" stop-color="#e9ff0e"/><stop offset="0.713" stop-color="#94ff63"/><stop offset="0.744" stop-color="#24ffd3"/><stop offset="0.747" stop-color="#13fde4"/><stop offset="0.751" stop-color="#02e8f4"/><stop offset="0.754" stop-color="#00d3ff"/><stop offset="0.786" stop-color="#000fff"/><stop offset="0.789" stop-color="#0000ff"/><stop offset="0.8" stop-color="#0000cc"/><stop offset="0.817" stop-color="#000090"/><stop offset="0.828" stop-color="#000080"/><stop offset="0.998" stop-color="#000080"/></linearGradient><linearGradient id="h64" x1="0" y1="0" x2="0" y2="1"><stop offset="0.002" stop-color="#0000f4"/><stop offset="0.089" stop-color="#0000ff"/><stop offset="0.124" stop-color="#0064ff"/><stop offset="0.159" stop-color="#00b2ff"/><stop offset="0.186" stop-color="#00ddfe"/><stop offset="0.211" stop-color="#15ffe1"/><stop offset="0.246" stop-color="#3bffbc"/><stop offset="0.284" stop-color="#7aff7d"/><stop offset="0.364" stop-color="#ebff0c"/><stop offset="0.375" stop-color="#f7f500"/><stop offset="0.389" stop-color="#ffea00"/><stop offset="0.517" stop-color="#ff8f00"/><stop offset="0.559" stop-color="#ff8a00"/><stop offset="0.618" stop-color="#ffa300"/><stop offset="0.664" stop-color="#ffe700"/><stop offset="0.678" stop-color="#ecff0b"/><stop offset="0.713" stop-color="#99ff5e"/><stop offset="0.726" stop-color="#6cff8a"/><stop offset="0.747" stop-color="#19ffdd"/><stop offset="0.754" stop-color="#00dcff"/><stop offset="0.789" stop-color="#0003ff"/><stop offset="0.793" stop-color="#0000fa"/><stop offset="0.8" stop-color="#0000d4"/><stop offset="0.817" stop-color="#000092"/><stop offset="0.828" stop-color="#000080"/><stop offset="0.998" stop-color="#000080"/></linearGradient><linearGradient id="h65" x1="0" y1="0" x2="0" y2="1"><stop offset="0.002" stop-color="#0000f4"/><stop offset="0.089" stop-color="#0000ff"/><stop offset="0.124" stop-color="#0064ff"/><stop offset="0.159" stop-color="#00b2ff"/><stop offset="0.186" stop-color="#00ddfe"/><stop offset="0.211" stop-color="#15ffe1"/><stop offset="0.246" stop-color="#3bffbc"/><stop offset="0.284" stop-color="#7aff7d"/><stop offset="0.364" stop-color="#eaff0d"/><stop offset="0.375" stop-color="#f6f600"/><stop offset="0.389" stop-color="#ffeb00"/><stop offset="0.517" stop-color="#ff8f00"/><stop offset="0.559" stop-color="#ff8900"/><stop offset="0.618" stop-color="#ffa200"/><stop offset="0.667" stop-color="#ffea00"/><stop offset="0.678" stop-color="#f0fe07"/><stop offset="0.713" stop-color="#9dff59"/><stop offset="0.726" stop-color="#72ff85"/><stop offset="0.747" stop-color="#20ffd7"/><stop offset="0.751" stop-color="#10f9e7"/><stop offset="0.754" stop-color="#00e4f8"/><stop offset="0.758" stop-color="#00d0ff"/><stop offset="0.789" stop-color="#000cff"/><stop offset="0.793" stop-color="#0000ff"/><stop offset="0.817" stop-color="#000093"/><stop offset="0.828" stop-color="#000080"/><stop offset="0.998" stop-color="#000080"/></linearGradient><linearGradient id="h66" x1="0" y1="0" x2="0" y2="1"><stop offset="0.002" stop-color="#0000f4"/><stop offset="0.089" stop-color="#0000ff"/><stop offset="0.124" stop-color="#0064ff"/><stop offset="0.159" stop-color="#00b2ff"/><stop offset="0.186" stop-color="#00ddfe"/><stop offset="0.211" stop-color="#15ffe1"/><stop offset="0.246" stop-color="#3bffbc"/><stop offset="0.284" stop-color="#7aff7d"/><stop offset="0.368" stop-color="#eeff09"/><stop offset="0.375" stop-color="#f6f701"/><stop offset="0.389" stop-color="#ffeb00"/><stop offset="0.517" stop-color="#ff8f00"/><stop offset="0.559" stop-color="#ff8800"/><stop offset="0.598" stop-color="#ff9100"/><stop offset="0.618" stop-color="#ffa000"/><stop offset="0.667" stop-color="#ffe600"/><stop offset="0.681" stop-color="#ebff0b"/><stop offset="0.713" stop-color="#a2ff55"/><stop offset="0.74" stop-color="#45ffb2"/><stop offset="0.751" stop-color="#16ffe1"/><stop offset="0.758" stop-color="#00d9ff"/><stop offset="0.779" stop-color="#005dff"/><stop offset="0.793" stop-color="#0000ff"/><stop offset="0.796" stop-color="#0000f8"/><stop offset="0.817" stop-color="#000095"/><stop offset="0.828" stop-color="#000080"/><stop offset="0.998" stop-color="#000080"/></linearGradient><linearGradient id="h67" x1="0" y1="0" x2="0" y2="1"><stop offset="0.002" stop-color="#0000f4"/><stop offset="0.089" stop-color="#0000ff"/><stop offset="0.124" stop-color="#0064ff"/><stop offset="0.159" stop-color="#00b3ff"/><stop offset="0.186" stop-color="#00ddfe"/><stop offset="0.211" stop-color="#15ffe1"/><stop offset="0.246" stop-color="#3bffbc"/><stop offset="0.284" stop-color="#7aff7d"/><stop offset="0.368" stop-color="#edff0a"/><stop offset="0.378" stop-color="#f8f400"/><stop offset="0.389" stop-color="#ffec00"/><stop offset="0.517" stop-color="#ff8f00"/><stop offset="0.559" stop-color="#ff8700"/><stop offset="0.598" stop-color="#ff8f00"/><stop offset="0.618" stop-color="#ff9e00"/><stop offset="0.671" stop-color="#ffe900"/><stop offset="0.681" stop-color="#effe08"/><stop offset="0.713" stop-color="#a7ff50"/><stop offset="0.726" stop-color="#7dff7a"/><stop offset="0.751" stop-color="#1dffda"/><stop offset="0.758" stop-color="#00e1fa"/><stop offset="0.761" stop-color="#00ceff"/><stop offset="0.779" stop-color="#0068ff"/><stop offset="0.793" stop-color="#0007ff"/><stop offset="0.796" stop-color="#0000ff"/><stop offset="0.817" stop-color="#000097"/><stop offset="0.828" stop-color="#000080"/><stop offset="0.998" stop-color="#000080"/></linearGradient><linearGradient id="h68" x1="0" y1="0" x2="0" y2="1"><stop offset="0.002" stop-color="#0000f4"/><stop offset="0.089" stop-color="#0000ff"/><stop offset="0.124" stop-color="#0064ff"/><stop offset="0.159" stop-color="#00b2ff"/><stop offset="0.186" stop-color="#00ddfe"/><stop offset="0.211" stop-color="#15ffe1"/><stop offset="0.246" stop-color="#3bffbc"/><stop offset="0.284" stop-color="#7aff7d"/><stop offset="0.368" stop-color="#ecff0b"/><stop offset="0.378" stop-color="#f8f400"/><stop offset="0.389" stop-color="#ffec00"/><stop offset="0.517" stop-color="#ff8f00"/><stop offset="0.559" stop-color="#ff8600"/><stop offset="0.598" stop-color="#ff8d00"/><stop offset="0.618" stop-color="#ff9c00"/><stop offset="0.674" stop-color="#ffeb00"/><stop offset="0.685" stop-color="#ebff0c"/><stop offset="0.723" stop-color="#8fff68"/><stop offset="0.754" stop-color="#14fee3"/><stop offset="0.758" stop-color="#04eaf3"/><stop offset="0.761" stop-color="#00d7ff"/><stop offset="0.779" stop-color="#0073ff"/><stop offset="0.793" stop-color="#0010ff"/><stop offset="0.796" stop-color="#0000ff"/><stop offset="0.817" stop-color="#000099"/><stop offset="0.828" stop-color="#000080"/><stop offset="0.998" stop-color="#000080"/></linearGradient><linearGradient id="h69" x1="0" y1="0" x2="0" y2="1"><stop offset="0.002" stop-color="#0000f4"/><stop offset="0.089" stop-color="#0000ff"/><stop offset="0.124" stop-color="#0064ff"/><stop offset="0.159" stop-color="#00b2ff"/><stop offset="0.186" stop-color="#00ddfe"/><stop offset="0.211" stop-color="#15ffe1"/><stop offset="0.246" stop-color="#3bffbc"/><stop offset="0.284" stop-color="#7aff7d"/><stop offset="0.368" stop-color="#ebff0c"/><stop offset="0.378" stop-color="#f7f500"/><stop offset="0.392" stop-color="#ffea00"/><stop offset="0.517" stop-color="#ff8f00"/><stop offset="0.563" stop-color="#ff8400"/><stop offset="0.598" stop-color="#ff8b00"/><stop offset="0.618" stop-color="#ff9a00"/><stop offset="0.674" stop-color="#ffe700"/><stop offset="0.685" stop-color="#efff08"/><stop offset="0.723" stop-color="#94ff63"/><stop offset="0.754" stop-color="#1affdd"/><stop offset="0.761" stop-color="#00e0fc"/><stop offset="0.765" stop-color="#00ccff"/><stop offset="0.779" stop-color="#007eff"/><stop offset="0.796" stop-color="#0003ff"/><stop offset="0.8" stop-color="#0000fb"/><stop offset="0.817" stop-color="#00009a"/><stop offset="0.828" stop-color="#000080"/><stop offset="0.998" stop-color="#000080"/></linearGradient><linearGradient id="h70" x1="0" y1="0" x2="0" y2="1"><stop offset="0.002" stop-color="#0000f4"/><stop offset="0.089" stop-color="#0000ff"/><stop offset="0.124" stop-color="#0064ff"/><stop offset="0.159" stop-color="#00b2ff"/><stop offset="0.186" stop-color="#00ddfe"/><stop offset="0.211" stop-color="#15ffe1"/><stop offset="0.246" stop-color="#3bffbc"/><stop offset="0.284" stop-color="#7aff7d"/><stop offset="0.371" stop-color="#efff08"/><stop offset="0.378" stop-color="#f7f600"/><stop offset="0.392" stop-color="#ffea00"/><stop offset="0.517" stop-color="#ff8f00"/><stop offset="0.563" stop-color="#ff8300"/><stop offset="0.598" stop-color="#ff8900"/><stop offset="0.618" stop-color="#ff9800"/><stop offset="0.678" stop-color="#ffea00"/><stop offset="0.688" stop-color="#ebff0b"/><stop offset="0.723" stop-color="#99ff5e"/><stop offset="0.754" stop-color="#21ffd6"/><stop offset="0.758" stop-color="#11fbe5"/><stop offset="0.761" stop-color="#02e8f5"/><stop offset="0.765" stop-color="#00d5ff"/><stop offset="0.779" stop-color="#0089ff"/><stop offset="0.796" stop-color="#000aff"/><stop offset="0.8" stop-color="#0000ff"/><stop offset="0.817" stop-color="#00009c"/><stop offset="0.828" stop-color="#000080"/><stop offset="0.998" stop-color="#000080"/></linearGradient><linearGradient id="h71" x1="0" y1="0" x2="0" y2="1"><stop offset="0.002" stop-color="#0000f4"/><stop offset="0.089" stop-color="#0000ff"/><stop offset="0.124" stop-color="#0064ff"/><stop offset="0.159" stop-color="#00b2ff"/><stop offset="0.186" stop-color="#00ddfe"/><stop offset="0.211" stop-color="#15ffe1"/><stop offset="0.246" stop-color="#3bffbc"/><stop offset="0.284" stop-color="#7aff7d"/><stop offset="0.371" stop-color="#eeff09"/><stop offset="0.378" stop-color="#f6f601"/><stop offset="0.392" stop-color="#ffeb00"/><stop offset="0.517" stop-color="#ff8f00"/><stop offset="0.563" stop-color="#ff8200"/><stop offset="0.598" stop-color="#ff8700"/><stop offset="0.618" stop-color="#ff9700"/><stop offset="0.678" stop-color="#ffe700"/><stop offset="0.688" stop-color="#effe08"/><stop offset="0.723" stop-color="#9eff59"/><stop offset="0.758" stop-color="#18ffdf"/><stop offset="0.765" stop-color="#00defd"/><stop offset="0.768" stop-color="#00cbff"/><stop offset="0.779" stop-color="#0093ff"/><stop offset="0.793" stop-color="#002aff"/><stop offset="0.8" stop-color="#0000ff"/><stop offset="0.803" stop-color="#0000f4"/><stop offset="0.817" stop-color="#00009d"/><stop offset="0.828" stop-color="#000080"/><stop offset="0.998" stop-color="#000080"/></linearGradient><linearGradient id="h72" x1="0" y1="0" x2="0" y2="1"><stop offset="0.002" stop-color="#0000f5"/><stop offset="0.089" stop-color="#0000ff"/><stop offset="0.124" stop-color="#0065ff"/><stop offset="0.159" stop-color="#00b3ff"/><stop offset="0.186" stop-color="#00ddfd"/><stop offset="0.211" stop-color="#15ffe1"/><stop offset="0.246" stop-color="#3bffbc"/><stop offset="0.284" stop-color="#7aff7d"/><stop offset="0.371" stop-color="#ecff0a"/><stop offset="0.378" stop-color="#f5f701"/><stop offset="0.392" stop-color="#ffeb00"/><stop offset="0.517" stop-color="#ff8f00"/><stop offset="0.563" stop-color="#ff8100"/><stop offset="0.598" stop-color="#ff8500"/><stop offset="0.618" stop-color="#ff9500"/><stop offset="0.65" stop-color="#ffba00"/><stop offset="0.681" stop-color="#ffeb00"/><stop offset="0.692" stop-color="#ecff0b"/><stop offset="0.723" stop-color="#a3ff54"/><stop offset="0.758" stop-color="#1effd9"/><stop offset="0.761" stop-color="#0ff9e7"/><stop offset="0.765" stop-color="#01e6f6"/><stop offset="0.768" stop-color="#00d4ff"/><stop offset="0.779" stop-color="#009cff"/><stop offset="0.8" stop-color="#0000ff"/><stop offset="0.803" stop-color="#0000fa"/><stop offset="0.817" stop-color="#00009f"/><stop offset="0.828" stop-color="#000080"/><stop offset="0.998" stop-color="#000080"/></linearGradient><linearGradient id="h73" x1="0" y1="0" x2="0" y2="1"><stop offset="0.002" stop-color="#0000fe"/><stop offset="0.047" stop-color="#0000ff"/><stop offset="0.089" stop-color="#0010ff"/><stop offset="0.124" stop-color="#006cff"/><stop offset="0.159" stop-color="#00b5ff"/><stop offset="0.183" stop-color="#00d9ff"/><stop offset="0.211" stop-color="#15ffe1"/><stop offset="0.246" stop-color="#3bffbc"/><stop offset="0.284" stop-color="#78ff7f"/><stop offset="0.375" stop-color="#efff08"/><stop offset="0.382" stop-color="#f6f600"/><stop offset="0.395" stop-color="#ffea00"/><stop offset="0.517" stop-color="#ff8f00"/><stop offset="0.563" stop-color="#ff8000"/><stop offset="0.598" stop-color="#ff8400"/><stop offset="0.618" stop-color="#ff9300"/><stop offset="0.65" stop-color="#ffb700"/><stop offset="0.681" stop-color="#ffe800"/><stop offset="0.692" stop-color="#effe08"/><stop offset="0.723" stop-color="#a7ff50"/><stop offset="0.761" stop-color="#16ffe1"/><stop offset="0.768" stop-color="#00dcfe"/><stop offset="0.779" stop-color="#00a6ff"/><stop offset="0.8" stop-color="#0006ff"/><stop offset="0.803" stop-color="#0000ff"/><stop offset="0.817" stop-color="#0000a0"/><stop offset="0.828" stop-color="#000080"/><stop offset="0.998" stop-color="#000080"/></linearGradient><linearGradient id="h74" x1="0" y1="0" x2="0" y2="1"><stop offset="0.002" stop-color="#0000ff"/><stop offset="0.019" stop-color="#0000ff"/><stop offset="0.089" stop-color="#0025ff"/><stop offset="0.138" stop-color="#0090ff"/><stop offset="0.183" stop-color="#00dbff"/><stop offset="0.211" stop-color="#16ffe1"/><stop offset="0.242" stop-color="#37ffc0"/><stop offset="0.284" stop-color="#76ff81"/><stop offset="0.375" stop-color="#ecff0b"/><stop offset="0.395" stop-color="#ffeb00"/><stop offset="0.517" stop-color="#ff8f00"/><stop offset="0.563" stop-color="#ff7f00"/><stop offset="0.598" stop-color="#ff8200"/><stop offset="0.618" stop-color="#ff9200"/><stop offset="0.653" stop-color="#ffba00"/><stop offset="0.685" stop-color="#ffec00"/><stop offset="0.695" stop-color="#ecff0b"/><stop offset="0.723" stop-color="#abff4b"/><stop offset="0.761" stop-color="#1bffdb"/><stop offset="0.768" stop-color="#00e4f8"/><stop offset="0.772" stop-color="#00d2ff"/><stop offset="0.779" stop-color="#00aeff"/><stop offset="0.8" stop-color="#000bff"/><stop offset="0.803" stop-color="#0000ff"/><stop offset="0.817" stop-color="#0000a1"/><stop offset="0.828" stop-color="#000080"/><stop offset="0.998" stop-color="#000080"/></linearGradient><linearGradient id="h75" x1="0" y1="0" x2="0" y2="1"><stop offset="0.002" stop-color="#0000ff"/><stop offset="0.089" stop-color="#0039ff"/><stop offset="0.138" stop-color="#0096ff"/><stop offset="0.183" stop-color="#00dcfe"/><stop offset="0.211" stop-color="#16ffe1"/><stop offset="0.239" stop-color="#32ffc5"/><stop offset="0.378" stop-color="#eeff09"/><stop offset="0.395" stop-color="#feed00"/><stop offset="0.517" stop-color="#ff8f00"/><stop offset="0.563" stop-color="#ff7e00"/><stop offset="0.598" stop-color="#ff8100"/><stop offset="0.618" stop-color="#ff9100"/><stop offset="0.653" stop-color="#ffb800"/><stop offset="0.685" stop-color="#ffe900"/><stop offset="0.695" stop-color="#efff08"/><stop offset="0.723" stop-color="#afff48"/><stop offset="0.765" stop-color="#12fce4"/><stop offset="0.772" stop-color="#00d9ff"/><stop offset="0.779" stop-color="#00b6ff"/><stop offset="0.8" stop-color="#0010ff"/><stop offset="0.803" stop-color="#0000ff"/><stop offset="0.807" stop-color="#0000f0"/><stop offset="0.817" stop-color="#0000a3"/><stop offset="0.828" stop-color="#000080"/><stop offset="0.998" stop-color="#000080"/></linearGradient><linearGradient id="h76" x1="0" y1="0" x2="0" y2="1"><stop offset="0.002" stop-color="#0007ff"/><stop offset="0.089" stop-color="#004bff"/><stop offset="0.179" stop-color="#00d9ff"/><stop offset="0.211" stop-color="#16ffe1"/><stop offset="0.239" stop-color="#32ffc5"/><stop offset="0.378" stop-color="#ecff0b"/><stop offset="0.399" stop-color="#ffeb00"/><stop offset="0.517" stop-color="#ff8f00"/><stop offset="0.563" stop-color="#ff7d00"/><stop offset="0.598" stop-color="#ff7f00"/><stop offset="0.618" stop-color="#ff8f00"/><stop offset="0.674" stop-color="#ffd200"/><stop offset="0.692" stop-color="#f8f400"/><stop offset="0.699" stop-color="#ebff0c"/><stop offset="0.723" stop-color="#b3ff44"/><stop offset="0.765" stop-color="#17ffdf"/><stop offset="0.772" stop-color="#00e0fb"/><stop offset="0.775" stop-color="#00cfff"/><stop offset="0.779" stop-color="#00bdff"/><stop offset="0.8" stop-color="#0015ff"/><stop offset="0.803" stop-color="#0000ff"/><stop offset="0.807" stop-color="#0000f3"/><stop offset="0.817" stop-color="#0000a4"/><stop offset="0.828" stop-color="#000080"/><stop offset="0.998" stop-color="#000080"/></linearGradient><linearGradient id="h77" x1="0" y1="0" x2="0" y2="1"><stop offset="0.002" stop-color="#000bff"/><stop offset="0.089" stop-color="#0053ff"/><stop offset="0.179" stop-color="#00dbff"/><stop offset="0.207" stop-color="#14fee3"/><stop offset="0.239" stop-color="#34ffc3"/><stop offset="0.378" stop-color="#ebff0c"/><stop offset="0.389" stop-color="#f7f600"/><stop offset="0.402" stop-color="#ffe900"/><stop offset="0.517" stop-color="#ff8f00"/><stop offset="0.563" stop-color="#ff7d00"/><stop offset="0.598" stop-color="#ff7e00"/><stop offset="0.618" stop-color="#ff8e00"/><stop offset="0.674" stop-color="#ffcf00"/><stop offset="0.692" stop-color="#faf200"/><stop offset="0.699" stop-color="#edff09"/><stop offset="0.723" stop-color="#b6ff41"/><stop offset="0.765" stop-color="#1cffdb"/><stop offset="0.772" stop-color="#00e6f6"/><stop offset="0.775" stop-color="#00d5ff"/><stop offset="0.782" stop-color="#00aaff"/><stop offset="0.803" stop-color="#0001ff"/><stop offset="0.807" stop-color="#0000f6"/><stop offset="0.817" stop-color="#0000a5"/><stop offset="0.828" stop-color="#000080"/><stop offset="0.998" stop-color="#000080"/></linearGradient><linearGradient id="h78" x1="0" y1="0" x2="0" y2="1"><stop offset="0.002" stop-color="#000dff"/><stop offset="0.089" stop-color="#0058ff"/><stop offset="0.176" stop-color="#00d8ff"/><stop offset="0.186" stop-color="#01e7f6"/><stop offset="0.207" stop-color="#15ffe1"/><stop offset="0.239" stop-color="#36ffc1"/><stop offset="0.382" stop-color="#eeff09"/><stop offset="0.402" stop-color="#ffea00"/><stop offset="0.517" stop-color="#ff8f00"/><stop offset="0.563" stop-color="#ff7c00"/><stop offset="0.598" stop-color="#ff7d00"/><stop offset="0.639" stop-color="#ffa100"/><stop offset="0.674" stop-color="#ffce00"/><stop offset="0.695" stop-color="#f6f601"/><stop offset="0.702" stop-color="#e8ff0f"/><stop offset="0.723" stop-color="#b9ff3e"/><stop offset="0.765" stop-color="#20ffd7"/><stop offset="0.768" stop-color="#12fce5"/><stop offset="0.775" stop-color="#00daff"/><stop offset="0.782" stop-color="#00afff"/><stop offset="0.803" stop-color="#0004ff"/><stop offset="0.807" stop-color="#0000f9"/><stop offset="0.817" stop-color="#0000a6"/><stop offset="0.828" stop-color="#000080"/><stop offset="0.998" stop-color="#000080"/></linearGradient><linearGradient id="h79" x1="0" y1="0" x2="0" y2="1"><stop offset="0.002" stop-color="#0010ff"/><stop offset="0.089" stop-color="#005eff"/><stop offset="0.176" stop-color="#00dbff"/><stop offset="0.204" stop-color="#14fee3"/><stop offset="0.239" stop-color="#38ffbf"/><stop offset="0.382" stop-color="#edff0a"/><stop offset="0.402" stop-color="#ffeb00"/><stop offset="0.517" stop-color="#ff8f00"/><stop offset="0.563" stop-color="#ff7c00"/><stop offset="0.598" stop-color="#ff7c00"/><stop offset="0.639" stop-color="#ffa000"/><stop offset="0.674" stop-color="#ffcc00"/><stop offset="0.695" stop-color="#f8f400"/><stop offset="0.702" stop-color="#eaff0d"/><stop offset="0.723" stop-color="#bbff3c"/><stop offset="0.768" stop-color="#15ffe1"/><stop offset="0.775" stop-color="#00dffc"/><stop offset="0.779" stop-color="#00ceff"/><stop offset="0.8" stop-color="#001fff"/><stop offset="0.803" stop-color="#0006ff"/><stop offset="0.807" stop-color="#0000fb"/><stop offset="0.817" stop-color="#0000a6"/><stop offset="0.828" stop-color="#000080"/><stop offset="0.998" stop-color="#000080"/></linearGradient><linearGradient id="h80" x1="0" y1="0" x2="0" y2="1"><stop offset="0.002" stop-color="#0012ff"/><stop offset="0.089" stop-color="#0064ff"/><stop offset="0.172" stop-color="#00d9ff"/><stop offset="0.183" stop-color="#01e6f6"/><stop offset="0.204" stop-color="#15ffe2"/><stop offset="0.382" stop-color="#ecff0b"/><stop offset="0.406" stop-color="#ffe900"/><stop offset="0.517" stop-color="#ff8f00"/><stop offset="0.563" stop-color="#ff7b00"/><stop offset="0.598" stop-color="#ff7b00"/><stop offset="0.639" stop-color="#ff9f00"/><stop offset="0.674" stop-color="#ffcb00"/><stop offset="0.695" stop-color="#f9f300"/><stop offset="0.702" stop-color="#ebff0c"/><stop offset="0.723" stop-color="#bcff3a"/><stop offset="0.768" stop-color="#18ffdf"/><stop offset="0.775" stop-color="#00e2fa"/><stop offset="0.779" stop-color="#00d1ff"/><stop offset="0.8" stop-color="#0021ff"/><stop offset="0.803" stop-color="#0008ff"/><stop offset="0.807" stop-color="#0000fd"/><stop offset="0.817" stop-color="#0000a7"/><stop offset="0.828" stop-color="#000080"/><stop offset="0.998" stop-color="#000080"/></linearGradient><linearGradient id="h81" x1="0" y1="0" x2="0" y2="1"><stop offset="0.002" stop-color="#0015ff"/><stop offset="0.089" stop-color="#0069ff"/><stop offset="0.172" stop-color="#00dbff"/><stop offset="0.2" stop-color="#13fee3"/><stop offset="0.382" stop-color="#ebff0b"/><stop offset="0.406" stop-color="#ffea00"/><stop offset="0.514" stop-color="#ff9100"/><stop offset="0.559" stop-color="#ff7c00"/><stop offset="0.598" stop-color="#ff7b00"/><stop offset="0.639" stop-color="#ff9f00"/><stop offset="0.674" stop-color="#ffca00"/><stop offset="0.695" stop-color="#faf200"/><stop offset="0.702" stop-color="#ecff0b"/><stop offset="0.723" stop-color="#beff39"/><stop offset="0.768" stop-color="#1affdd"/><stop offset="0.775" stop-color="#00e4f8"/><stop offset="0.779" stop-color="#00d4ff"/><stop offset="0.8" stop-color="#0023ff"/><stop offset="0.803" stop-color="#0009ff"/><stop offset="0.807" stop-color="#0000fe"/><stop offset="0.817" stop-color="#0000a7"/><stop offset="0.828" stop-color="#000080"/><stop offset="0.998" stop-color="#000080"/></linearGradient><linearGradient id="h82" x1="0" y1="0" x2="0" y2="1"><stop offset="0.002" stop-color="#0018ff"/><stop offset="0.089" stop-color="#006fff"/><stop offset="0.169" stop-color="#00d9ff"/><stop offset="0.179" stop-color="#01e6f6"/><stop offset="0.2" stop-color="#15ffe2"/><stop offset="0.385" stop-color="#eeff09"/><stop offset="0.406" stop-color="#ffeb00"/><stop offset="0.51" stop-color="#ff9300"/><stop offset="0.559" stop-color="#ff7c00"/><stop offset="0.598" stop-color="#ff7b00"/><stop offset="0.639" stop-color="#ff9e00"/><stop offset="0.674" stop-color="#ffca00"/><stop offset="0.695" stop-color="#fbf100"/><stop offset="0.702" stop-color="#ecff0a"/><stop offset="0.723" stop-color="#beff39"/><stop offset="0.768" stop-color="#1bffdc"/><stop offset="0.775" stop-color="#00e5f7"/><stop offset="0.779" stop-color="#00d5ff"/><stop offset="0.8" stop-color="#0024ff"/><stop offset="0.803" stop-color="#000aff"/><stop offset="0.807" stop-color="#0000ff"/><stop offset="0.817" stop-color="#0000a7"/><stop offset="0.828" stop-color="#000080"/><stop offset="0.998" stop-color="#000080"/></linearGradient><linearGradient id="h83" x1="0" y1="0" x2="0" y2="1"><stop offset="0.002" stop-color="#001aff"/><stop offset="0.071" stop-color="#0060ff"/><stop offset="0.169" stop-color="#00dcff"/><stop offset="0.197" stop-color="#13fde4"/><stop offset="0.385" stop-color="#edff0a"/><stop offset="0.409" stop-color="#ffe900"/><stop offset="0.51" stop-color="#ff9300"/><stop offset="0.559" stop-color="#ff7c00"/><stop offset="0.598" stop-color="#ff7b00"/><stop offset="0.639" stop-color="#ff9e00"/><stop offset="0.674" stop-color="#ffca00"/><stop offset="0.695" stop-color="#fbf100"/><stop offset="0.702" stop-color="#edff0a"/><stop offset="0.723" stop-color="#beff38"/><stop offset="0.768" stop-color="#1bffdc"/><stop offset="0.775" stop-color="#00e6f7"/><stop offset="0.779" stop-color="#00d5ff"/><stop offset="0.8" stop-color="#0024ff"/><stop offset="0.803" stop-color="#000aff"/><stop offset="0.807" stop-color="#0000ff"/><stop offset="0.817" stop-color="#0000a7"/><stop offset="0.828" stop-color="#000080"/><stop offset="0.998" stop-color="#000080"/></linearGradient><linearGradient id="h84" x1="0" y1="0" x2="0" y2="1"><stop offset="0.002" stop-color="#001dff"/><stop offset="0.068" stop-color="#0060ff"/><stop offset="0.166" stop-color="#00daff"/><stop offset="0.197" stop-color="#15ffe2"/><stop offset="0.389" stop-color="#efff08"/><stop offset="0.409" stop-color="#ffea00"/><stop offset="0.51" stop-color="#ff9300"/><stop offset="0.559" stop-color="#ff7c00"/><stop offset="0.598" stop-color="#ff7b00"/><stop offset="0.639" stop-color="#ff9e00"/><stop offset="0.674" stop-color="#ffca00"/><stop offset="0.695" stop-color="#fbf100"/><stop offset="0.702" stop-color="#edff0a"/><stop offset="0.723" stop-color="#beff38"/><stop offset="0.768" stop-color="#1bffdc"/><stop offset="0.775" stop-color="#00e6f7"/><stop offset="0.779" stop-color="#00d5ff"/><stop offset="0.8" stop-color="#0024ff"/><stop offset="0.803" stop-color="#000aff"/><stop offset="0.807" stop-color="#0000ff"/><stop offset="0.817" stop-color="#0000a7"/><stop offset="0.828" stop-color="#000080"/><stop offset="0.998" stop-color="#000080"/></linearGradient><linearGradient id="h85" x1="0" y1="0" x2="0" y2="1"><stop offset="0.002" stop-color="#0024ff"/><stop offset="0.162" stop-color="#00d9ff"/><stop offset="0.172" stop-color="#00e6f7"/><stop offset="0.193" stop-color="#13fee3"/><stop offset="0.389" stop-color="#edff09"/><stop offset="0.409" stop-color="#ffeb00"/><stop offset="0.51" stop-color="#ff9300"/><stop offset="0.559" stop-color="#ff7c00"/><stop offset="0.598" stop-color="#ff7b00"/><stop offset="0.639" stop-color="#ff9e00"/><stop offset="0.674" stop-color="#ffca00"/><stop offset="0.695" stop-color="#fbf100"/><stop offset="0.702" stop-color="#edff0a"/><stop offset="0.723" stop-color="#beff38"/><stop offset="0.768" stop-color="#1bffdc"/><stop offset="0.775" stop-color="#00e6f7"/><stop offset="0.779" stop-color="#00d5ff"/><stop offset="0.8" stop-color="#0024ff"/><stop offset="0.803" stop-color="#000aff"/><stop offset="0.807" stop-color="#0000ff"/><stop offset="0.817" stop-color="#0000a7"/><stop offset="0.828" stop-color="#000080"/><stop offset="0.998" stop-color="#000080"/></linearGradient><linearGradient id="h86" x1="0" y1="0" x2="0" y2="1"><stop offset="0.002" stop-color="#002cff"/><stop offset="0.159" stop-color="#00d9ff"/><stop offset="0.169" stop-color="#00e5f7"/><stop offset="0.193" stop-color="#15ffe2"/><stop offset="0.389" stop-color="#ecff0b"/><stop offset="0.413" stop-color="#ffe900"/><stop offset="0.51" stop-color="#ff9300"/><stop offset="0.559" stop-color="#ff7c00"/><stop offset="0.598" stop-color="#ff7b00"/><stop offset="0.639" stop-color="#ff9e00"/><stop offset="0.674" stop-color="#ffca00"/><stop offset="0.695" stop-color="#fbf100"/><stop offset="0.702" stop-color="#edff0a"/><stop offset="0.723" stop-color="#beff38"/><stop offset="0.768" stop-color="#1bffdc"/><stop offset="0.775" stop-color="#00e6f7"/><stop offset="0.779" stop-color="#00d5ff"/><stop offset="0.8" stop-color="#0024ff"/><stop offset="0.803" stop-color="#000aff"/><stop offset="0.807" stop-color="#0000ff"/><stop offset="0.817" stop-color="#0000a7"/><stop offset="0.828" stop-color="#000080"/><stop offset="0.998" stop-color="#000080"/></linearGradient><linearGradient id="h87" x1="0" y1="0" x2="0" y2="1"><stop offset="0.002" stop-color="#0033ff"/><stop offset="0.155" stop-color="#00d9ff"/><stop offset="0.19" stop-color="#14fee3"/><stop offset="0.392" stop-color="#eeff09"/><stop offset="0.413" stop-color="#ffea00"/><stop offset="0.51" stop-color="#ff9400"/><stop offset="0.559" stop-color="#ff7c00"/><stop offset="0.598" stop-color="#ff7b00"/><stop offset="0.639" stop-color="#ff9e00"/><stop offset="0.674" stop-color="#ffca00"/><stop offset="0.695" stop-color="#fbf100"/><stop offset="0.702" stop-color="#edff0a"/><stop offset="0.723" stop-color="#beff38"/><stop offset="0.768" stop-color="#1bffdc"/><stop offset="0.775" stop-color="#00e6f7"/><stop offset="0.779" stop-color="#00d5ff"/><stop offset="0.8" stop-color="#0024ff"/><stop offset="0.803" stop-color="#000aff"/><stop offset="0.807" stop-color="#0000ff"/><stop offset="0.817" stop-color="#0000a7"/><stop offset="0.828" stop-color="#000080"/><stop offset="0.998" stop-color="#000080"/></linearGradient><linearGradient id="h88" x1="0" y1="0" x2="0" y2="1"><stop offset="0.002" stop-color="#003bff"/><stop offset="0.152" stop-color="#00daff"/><stop offset="0.19" stop-color="#15ffe1"/><stop offset="0.392" stop-color="#ecff0a"/><stop offset="0.413" stop-color="#ffeb00"/><stop offset="0.507" stop-color="#ff9600"/><stop offset="0.559" stop-color="#ff7c00"/><stop offset="0.598" stop-color="#ff7b00"/><stop offset="0.639" stop-color="#ff9e00"/><stop offset="0.674" stop-color="#ffca00"/><stop offset="0.695" stop-color="#fbf100"/><stop offset="0.702" stop-color="#edff0a"/><stop offset="0.723" stop-color="#beff38"/><stop offset="0.768" stop-color="#1bffdc"/><stop offset="0.775" stop-color="#00e6f7"/><stop offset="0.779" stop-color="#00d5ff"/><stop offset="0.8" stop-color="#0024ff"/><stop offset="0.803" stop-color="#000aff"/><stop offset="0.807" stop-color="#0000ff"/><stop offset="0.817" stop-color="#0000a7"/><stop offset="0.828" stop-color="#000080"/><stop offset="0.998" stop-color="#000080"/></linearGradient><linearGradient id="h89" x1="0" y1="0" x2="0" y2="1"><stop offset="0.002" stop-color="#0042ff"/><stop offset="0.068" stop-color="#008fff"/><stop offset="0.148" stop-color="#00dbff"/><stop offset="0.186" stop-color="#14ffe2"/><stop offset="0.395" stop-color="#eeff08"/><stop offset="0.413" stop-color="#ffec00"/><stop offset="0.448" stop-color="#ffc600"/><stop offset="0.507" stop-color="#ff9600"/><stop offset="0.559" stop-color="#ff7c00"/><stop offset="0.598" stop-color="#ff7b00"/><stop offset="0.639" stop-color="#ff9e00"/><stop offset="0.674" stop-color="#ffca00"/><stop offset="0.695" stop-color="#fbf100"/><stop offset="0.702" stop-color="#edff0a"/><stop offset="0.723" stop-color="#beff38"/><stop offset="0.768" stop-color="#1bffdc"/><stop offset="0.775" stop-color="#00e6f7"/><stop offset="0.779" stop-color="#00d5ff"/><stop offset="0.8" stop-color="#0024ff"/><stop offset="0.803" stop-color="#000aff"/><stop offset="0.807" stop-color="#0000ff"/><stop offset="0.817" stop-color="#0000a7"/><stop offset="0.828" stop-color="#000080"/><stop offset="0.998" stop-color="#000080"/></linearGradient><linearGradient id="h90" x1="0" y1="0" x2="0" y2="1"><stop offset="0.002" stop-color="#3affbc"/><stop offset="0.211" stop-color="#5cff9b"/><stop offset="0.298" stop-color="#8bff6b"/><stop offset="0.395" stop-color="#eeff08"/><stop offset="0.413" stop-color="#ffeb00"/><stop offset="0.503" stop-color="#ff9800"/><stop offset="0.563" stop-color="#ff7b00"/><stop offset="0.601" stop-color="#ff7c00"/><stop offset="0.639" stop-color="#ff9e00"/><stop offset="0.674" stop-color="#ffca00"/><stop offset="0.692" stop-color="#ffea00"/><stop offset="0.702" stop-color="#edff0a"/><stop offset="0.723" stop-color="#beff38"/><stop offset="0.768" stop-color="#1bffdc"/><stop offset="0.775" stop-color="#00e6f7"/><stop offset="0.779" stop-color="#00d5ff"/><stop offset="0.8" stop-color="#0024ff"/><stop offset="0.803" stop-color="#000aff"/><stop offset="0.807" stop-color="#0000ff"/><stop offset="0.817" stop-color="#0000a7"/><stop offset="0.828" stop-color="#000080"/><stop offset="0.998" stop-color="#000080"/></linearGradient><linearGradient id="h91" x1="0" y1="0" x2="0" y2="1"><stop offset="0.002" stop-color="#40ffb6"/><stop offset="0.211" stop-color="#5fff98"/><stop offset="0.287" stop-color="#86ff71"/><stop offset="0.354" stop-color="#bfff38"/><stop offset="0.395" stop-color="#efff08"/><stop offset="0.413" stop-color="#ffeb00"/><stop offset="0.503" stop-color="#ff9800"/><stop offset="0.563" stop-color="#ff7b00"/><stop offset="0.601" stop-color="#ff7c00"/><stop offset="0.639" stop-color="#ff9e00"/><stop offset="0.674" stop-color="#ffca00"/><stop offset="0.692" stop-color="#ffea00"/><stop offset="0.702" stop-color="#edff0a"/><stop offset="0.723" stop-color="#beff38"/><stop offset="0.768" stop-color="#1bffdc"/><stop offset="0.775" stop-color="#00e6f7"/><stop offset="0.779" stop-color="#00d5ff"/><stop offset="0.8" stop-color="#0024ff"/><stop offset="0.803" stop-color="#000aff"/><stop offset="0.807" stop-color="#0000ff"/><stop offset="0.817" stop-color="#0000a7"/><stop offset="0.828" stop-color="#000080"/><stop offset="0.998" stop-color="#000080"/></linearGradient><linearGradient id="h92" x1="0" y1="0" x2="0" y2="1"><stop offset="0.002" stop-color="#49ffae"/><stop offset="0.211" stop-color="#67ff8f"/><stop offset="0.287" stop-color="#8cff6b"/><stop offset="0.354" stop-color="#c0ff37"/><stop offset="0.395" stop-color="#eeff08"/><stop offset="0.413" stop-color="#ffec00"/><stop offset="0.503" stop-color="#ff9a00"/><stop offset="0.563" stop-color="#ff7b00"/><stop offset="0.601" stop-color="#ff7c00"/><stop offset="0.639" stop-color="#ff9e00"/><stop offset="0.674" stop-color="#ffca00"/><stop offset="0.692" stop-color="#ffea00"/><stop offset="0.702" stop-color="#edff0a"/><stop offset="0.723" stop-color="#beff38"/><stop offset="0.768" stop-color="#1bffdc"/><stop offset="0.775" stop-color="#00e6f7"/><stop offset="0.779" stop-color="#00d5ff"/><stop offset="0.8" stop-color="#0024ff"/><stop offset="0.803" stop-color="#000aff"/><stop offset="0.807" stop-color="#0000ff"/><stop offset="0.817" stop-color="#0000a7"/><stop offset="0.828" stop-color="#000080"/><stop offset="0.998" stop-color="#000080"/></linearGradient><linearGradient id="h93" x1="0" y1="0" x2="0" y2="1"><stop offset="0.002" stop-color="#4effa9"/><stop offset="0.211" stop-color="#6dff8a"/><stop offset="0.287" stop-color="#8fff67"/><stop offset="0.354" stop-color="#c2ff35"/><stop offset="0.395" stop-color="#eeff09"/><stop offset="0.416" stop-color="#ffe900"/><stop offset="0.503" stop-color="#ff9a00"/><stop offset="0.563" stop-color="#ff7b00"/><stop offset="0.601" stop-color="#ff7c00"/><stop offset="0.639" stop-color="#ff9e00"/><stop offset="0.674" stop-color="#ffca00"/><stop offset="0.692" stop-color="#ffea00"/><stop offset="0.702" stop-color="#edff0a"/><stop offset="0.723" stop-color="#beff38"/><stop offset="0.768" stop-color="#1bffdc"/><stop offset="0.775" stop-color="#00e6f7"/><stop offset="0.779" stop-color="#00d5ff"/><stop offset="0.8" stop-color="#0024ff"/><stop offset="0.803" stop-color="#000aff"/><stop offset="0.807" stop-color="#0000ff"/><stop offset="0.817" stop-color="#0000a7"/><stop offset="0.828" stop-color="#000080"/><stop offset="0.998" stop-color="#000080"/></linearGradient><linearGradient id="h94" x1="0" y1="0" x2="0" y2="1"><stop offset="0.002" stop-color="#52ffa4"/><stop offset="0.211" stop-color="#72ff85"/><stop offset="0.287" stop-color="#93ff64"/><stop offset="0.35" stop-color="#c0ff37"/><stop offset="0.395" stop-color="#eeff09"/><stop offset="0.416" stop-color="#ffea00"/><stop offset="0.503" stop-color="#ff9b00"/><stop offset="0.563" stop-color="#ff7b00"/><stop offset="0.601" stop-color="#ff7c00"/><stop offset="0.639" stop-color="#ff9e00"/><stop offset="0.674" stop-color="#ffca00"/><stop offset="0.692" stop-color="#ffea00"/><stop offset="0.702" stop-color="#edff0a"/><stop offset="0.723" stop-color="#beff38"/><stop offset="0.768" stop-color="#1bffdc"/><stop offset="0.775" stop-color="#00e6f7"/><stop offset="0.779" stop-color="#00d5ff"/><stop offset="0.8" stop-color="#0024ff"/><stop offset="0.803" stop-color="#000aff"/><stop offset="0.807" stop-color="#0000ff"/><stop offset="0.817" stop-color="#0000a7"/><stop offset="0.828" stop-color="#000080"/><stop offset="0.998" stop-color="#000080"/></linearGradient><linearGradient id="h95" x1="0" y1="0" x2="0" y2="1"><stop offset="0.002" stop-color="#57ffa0"/><stop offset="0.211" stop-color="#77ff80"/><stop offset="0.287" stop-color="#97ff60"/><stop offset="0.35" stop-color="#c1ff35"/><stop offset="0.395" stop-color="#eeff09"/><stop offset="0.416" stop-color="#ffeb00"/><stop offset="0.503" stop-color="#ff9c00"/><stop offset="0.563" stop-color="#ff7b00"/><stop offset="0.601" stop-color="#ff7c00"/><stop offset="0.639" stop-color="#ff9e00"/><stop offset="0.674" stop-color="#ffca00"/><stop offset="0.692" stop-color="#ffea00"/><stop offset="0.702" stop-color="#edff0a"/><stop offset="0.723" stop-color="#beff38"/><stop offset="0.768" stop-color="#1bffdc"/><stop offset="0.775" stop-color="#00e6f7"/><stop offset="0.779" stop-color="#00d5ff"/><stop offset="0.8" stop-color="#0024ff"/><stop offset="0.803" stop-color="#000aff"/><stop offset="0.807" stop-color="#0000ff"/><stop offset="0.817" stop-color="#0000a7"/><stop offset="0.828" stop-color="#000080"/><stop offset="0.998" stop-color="#000080"/></linearGradient><linearGradient id="h96" x1="0" y1="0" x2="0" y2="1"><stop offset="0.002" stop-color="#5cff9b"/><stop offset="0.211" stop-color="#7cff7a"/><stop offset="0.284" stop-color="#99ff5e"/><stop offset="0.336" stop-color="#b9ff3e"/><stop offset="0.395" stop-color="#eeff09"/><stop offset="0.416" stop-color="#ffec00"/><stop offset="0.503" stop-color="#ff9d00"/><stop offset="0.563" stop-color="#ff7b00"/><stop offset="0.601" stop-color="#ff7c00"/><stop offset="0.639" stop-color="#ff9e00"/><stop offset="0.674" stop-color="#ffca00"/><stop offset="0.692" stop-color="#ffea00"/><stop offset="0.702" stop-color="#edff0a"/><stop offset="0.723" stop-color="#beff38"/><stop offset="0.768" stop-color="#1bffdc"/><stop offset="0.775" stop-color="#00e6f7"/><stop offset="0.779" stop-color="#00d5ff"/><stop offset="0.8" stop-color="#0024ff"/><stop offset="0.803" stop-color="#000aff"/><stop offset="0.807" stop-color="#0000ff"/><stop offset="0.817" stop-color="#0000a7"/><stop offset="0.828" stop-color="#000080"/><stop offset="0.998" stop-color="#000080"/></linearGradient><linearGradient id="h97" x1="0" y1="0" x2="0" y2="1"><stop offset="0.002" stop-color="#60ff97"/><stop offset="0.211" stop-color="#82ff75"/><stop offset="0.336" stop-color="#baff3c"/><stop offset="0.395" stop-color="#edff09"/><stop offset="0.42" stop-color="#ffe900"/><stop offset="0.503" stop-color="#ff9e00"/><stop offset="0.563" stop-color="#ff7b00"/><stop offset="0.601" stop-color="#ff7c00"/><stop offset="0.639" stop-color="#ff9e00"/><stop offset="0.674" stop-color="#ffca00"/><stop offset="0.692" stop-color="#ffea00"/><stop offset="0.702" stop-color="#edff0a"/><stop offset="0.723" stop-color="#beff38"/><stop offset="0.768" stop-color="#1bffdc"/><stop offset="0.775" stop-color="#00e6f7"/><stop offset="0.779" stop-color="#00d5ff"/><stop offset="0.8" stop-color="#0024ff"/><stop offset="0.803" stop-color="#000aff"/><stop offset="0.807" stop-color="#0000ff"/><stop offset="0.817" stop-color="#0000a7"/><stop offset="0.828" stop-color="#000080"/><stop offset="0.998" stop-color="#000080"/></linearGradient><linearGradient id="h98" x1="0" y1="0" x2="0" y2="1"><stop offset="0.002" stop-color="#65ff92"/><stop offset="0.159" stop-color="#7bff7c"/><stop offset="0.256" stop-color="#96ff60"/><stop offset="0.34" stop-color="#beff39"/><stop offset="0.395" stop-color="#edff0a"/><stop offset="0.42" stop-color="#ffea00"/><stop offset="0.503" stop-color="#ff9f00"/><stop offset="0.563" stop-color="#ff7b00"/><stop offset="0.601" stop-color="#ff7c00"/><stop offset="0.639" stop-color="#ff9e00"/><stop offset="0.674" stop-color="#ffca00"/><stop offset="0.692" stop-color="#ffea00"/><stop offset="0.702" stop-color="#edff0a"/><stop offset="0.723" stop-color="#beff38"/><stop offset="0.768" stop-color="#1bffdc"/><stop offset="0.775" stop-color="#00e6f7"/><stop offset="0.779" stop-color="#00d5ff"/><stop offset="0.8" stop-color="#0024ff"/><stop offset="0.803" stop-color="#000aff"/><stop offset="0.807" stop-color="#0000ff"/><stop offset="0.817" stop-color="#0000a7"/><stop offset="0.828" stop-color="#000080"/><stop offset="0.998" stop-color="#000080"/></linearGradient><linearGradient id="h99" x1="0" y1="0" x2="0" y2="1"><stop offset="0.002" stop-color="#69ff8d"/><stop offset="0.159" stop-color="#80ff77"/><stop offset="0.26" stop-color="#9cff5b"/><stop offset="0.34" stop-color="#c0ff37"/><stop offset="0.395" stop-color="#edff0a"/><stop offset="0.42" stop-color="#ffeb00"/><stop offset="0.503" stop-color="#ff9f00"/><stop offset="0.563" stop-color="#ff7b00"/><stop offset="0.601" stop-color="#ff7c00"/><stop offset="0.639" stop-color="#ff9e00"/><stop offset="0.674" stop-color="#ffca00"/><stop offset="0.692" stop-color="#ffea00"/><stop offset="0.702" stop-color="#edff0a"/><stop offset="0.723" stop-color="#beff38"/><stop offset="0.768" stop-color="#1bffdc"/><stop offset="0.775" stop-color="#00e6f7"/><stop offset="0.779" stop-color="#00d5ff"/><stop offset="0.8" stop-color="#0024ff"/><stop offset="0.803" stop-color="#000aff"/><stop offset="0.807" stop-color="#0000ff"/><stop offset="0.817" stop-color="#0000a7"/><stop offset="0.828" stop-color="#000080"/><stop offset="0.998" stop-color="#000080"/></linearGradient><linearGradient id="h100" x1="0" y1="0" x2="0" y2="1"><stop offset="0.002" stop-color="#6eff89"/><stop offset="0.159" stop-color="#85ff72"/><stop offset="0.26" stop-color="#a0ff57"/><stop offset="0.34" stop-color="#c1ff36"/><stop offset="0.395" stop-color="#edff0a"/><stop offset="0.42" stop-color="#ffec00"/><stop offset="0.503" stop-color="#ffa000"/><stop offset="0.563" stop-color="#ff7b00"/><stop offset="0.601" stop-color="#ff7c00"/><stop offset="0.639" stop-color="#ff9e00"/><stop offset="0.674" stop-color="#ffca00"/><stop offset="0.692" stop-color="#ffea00"/><stop offset="0.702" stop-color="#edff0a"/><stop offset="0.723" stop-color="#beff38"/><stop offset="0.768" stop-color="#1bffdc"/><stop offset="0.775" stop-color="#00e6f7"/><stop offset="0.779" stop-color="#00d5ff"/><stop offset="0.8" stop-color="#0024ff"/><stop offset="0.803" stop-color="#000aff"/><stop offset="0.807" stop-color="#0000ff"/><stop offset="0.817" stop-color="#0000a7"/><stop offset="0.828" stop-color="#000080"/><stop offset="0.998" stop-color="#000080"/></linearGradient><linearGradient id="h101" x1="0" y1="0" x2="0" y2="1"><stop offset="0.002" stop-color="#73ff84"/><stop offset="0.159" stop-color="#8aff6d"/><stop offset="0.26" stop-color="#a4ff52"/><stop offset="0.34" stop-color="#c3ff34"/><stop offset="0.399" stop-color="#effe08"/><stop offset="0.423" stop-color="#ffea00"/><stop offset="0.503" stop-color="#ffa100"/><stop offset="0.563" stop-color="#ff7b00"/><stop offset="0.601" stop-color="#ff7c00"/><stop offset="0.639" stop-color="#ff9e00"/><stop offset="0.674" stop-color="#ffca00"/><stop offset="0.692" stop-color="#ffea00"/><stop offset="0.702" stop-color="#edff0a"/><stop offset="0.723" stop-color="#beff38"/><stop offset="0.768" stop-color="#1bffdc"/><stop offset="0.775" stop-color="#00e6f7"/><stop offset="0.779" stop-color="#00d5ff"/><stop offset="0.8" stop-color="#0024ff"/><stop offset="0.803" stop-color="#000aff"/><stop offset="0.807" stop-color="#0000ff"/><stop offset="0.817" stop-color="#0000a7"/><stop offset="0.828" stop-color="#000080"/><stop offset="0.998" stop-color="#000080"/></linearGradient><linearGradient id="h102" x1="0" y1="0" x2="0" y2="1"><stop offset="0.002" stop-color="#77ff7f"/><stop offset="0.159" stop-color="#8fff68"/><stop offset="0.26" stop-color="#a9ff4e"/><stop offset="0.34" stop-color="#c4ff32"/><stop offset="0.399" stop-color="#efff08"/><stop offset="0.423" stop-color="#ffeb00"/><stop offset="0.503" stop-color="#ffa200"/><stop offset="0.563" stop-color="#ff7b00"/><stop offset="0.601" stop-color="#ff7c00"/><stop offset="0.639" stop-color="#ff9e00"/><stop offset="0.674" stop-color="#ffca00"/><stop offset="0.692" stop-color="#ffea00"/><stop offset="0.702" stop-color="#edff0a"/><stop offset="0.723" stop-color="#beff38"/><stop offset="0.768" stop-color="#1bffdc"/><stop offset="0.775" stop-color="#00e6f7"/><stop offset="0.779" stop-color="#00d5ff"/><stop offset="0.8" stop-color="#0024ff"/><stop offset="0.803" stop-color="#000aff"/><stop offset="0.807" stop-color="#0000ff"/><stop offset="0.817" stop-color="#0000a7"/><stop offset="0.828" stop-color="#000080"/><stop offset="0.998" stop-color="#000080"/></linearGradient><linearGradient id="h103" x1="0" y1="0" x2="0" y2="1"><stop offset="0.002" stop-color="#7dff79"/><stop offset="0.26" stop-color="#afff48"/><stop offset="0.34" stop-color="#c7ff30"/><stop offset="0.399" stop-color="#efff08"/><stop offset="0.423" stop-color="#ffec00"/><stop offset="0.524" stop-color="#ff9100"/><stop offset="0.563" stop-color="#ff7b00"/><stop offset="0.601" stop-color="#ff7c00"/><stop offset="0.639" stop-color="#ff9e00"/><stop offset="0.674" stop-color="#ffca00"/><stop offset="0.692" stop-color="#ffea00"/><stop offset="0.702" stop-color="#edff0a"/><stop offset="0.723" stop-color="#beff38"/><stop offset="0.768" stop-color="#1bffdc"/><stop offset="0.775" stop-color="#00e6f7"/><stop offset="0.779" stop-color="#00d5ff"/><stop offset="0.8" stop-color="#0024ff"/><stop offset="0.803" stop-color="#000aff"/><stop offset="0.807" stop-color="#0000ff"/><stop offset="0.817" stop-color="#0000a7"/><stop offset="0.828" stop-color="#000080"/><stop offset="0.998" stop-color="#000080"/></linearGradient><linearGradient id="h104" x1="0" y1="0" x2="0" y2="1"><stop offset="0.002" stop-color="#82ff75"/><stop offset="0.26" stop-color="#b5ff42"/><stop offset="0.34" stop-color="#cbff2c"/><stop offset="0.395" stop-color="#edff09"/><stop offset="0.423" stop-color="#ffeb00"/><stop offset="0.521" stop-color="#ff9300"/><stop offset="0.563" stop-color="#ff7b00"/><stop offset="0.601" stop-color="#ff7c00"/><stop offset="0.639" stop-color="#ff9e00"/><stop offset="0.674" stop-color="#ffca00"/><stop offset="0.692" stop-color="#ffea00"/><stop offset="0.702" stop-color="#edff0a"/><stop offset="0.723" stop-color="#beff38"/><stop offset="0.768" stop-color="#1bffdc"/><stop offset="0.775" stop-color="#00e6f7"/><stop offset="0.779" stop-color="#00d5ff"/><stop offset="0.8" stop-color="#0024ff"/><stop offset="0.803" stop-color="#000aff"/><stop offset="0.807" stop-color="#0000ff"/><stop offset="0.817" stop-color="#0000a7"/><stop offset="0.828" stop-color="#000080"/><stop offset="0.998" stop-color="#000080"/></linearGradient><linearGradient id="h105" x1="0" y1="0" x2="0" y2="1"><stop offset="0.002" stop-color="#86ff71"/><stop offset="0.336" stop-color="#ceff29"/><stop offset="0.395" stop-color="#eeff09"/><stop offset="0.423" stop-color="#ffea00"/><stop offset="0.521" stop-color="#ff9200"/><stop offset="0.563" stop-color="#ff7b00"/><stop offset="0.601" stop-color="#ff7c00"/><stop offset="0.639" stop-color="#ff9e00"/><stop offset="0.674" stop-color="#ffca00"/><stop offset="0.692" stop-color="#ffea00"/><stop offset="0.702" stop-color="#edff0a"/><stop offset="0.723" stop-color="#beff38"/><stop offset="0.768" stop-color="#1bffdc"/><stop offset="0.775" stop-color="#00e6f7"/><stop offset="0.779" stop-color="#00d5ff"/><stop offset="0.8" stop-color="#0024ff"/><stop offset="0.803" stop-color="#000aff"/><stop offset="0.807" stop-color="#0000ff"/><stop offset="0.817" stop-color="#0000a7"/><stop offset="0.828" stop-color="#000080"/><stop offset="0.998" stop-color="#000080"/></linearGradient><linearGradient id="h106" x1="0" y1="0" x2="0" y2="1"><stop offset="0.002" stop-color="#8aff6c"/><stop offset="0.336" stop-color="#d2ff25"/><stop offset="0.395" stop-color="#effe08"/><stop offset="0.42" stop-color="#ffec00"/><stop offset="0.521" stop-color="#ff9200"/><stop offset="0.563" stop-color="#ff7b00"/><stop offset="0.601" stop-color="#ff7c00"/><stop offset="0.639" stop-color="#ff9e00"/><stop offset="0.674" stop-color="#ffca00"/><stop offset="0.692" stop-color="#ffea00"/><stop offset="0.702" stop-color="#edff0a"/><stop offset="0.723" stop-color="#beff38"/><stop offset="0.768" stop-color="#1bffdc"/><stop offset="0.775" stop-color="#00e6f7"/><stop offset="0.779" stop-color="#00d5ff"/><stop offset="0.8" stop-color="#0024ff"/><stop offset="0.803" stop-color="#000aff"/><stop offset="0.807" stop-color="#0000ff"/><stop offset="0.817" stop-color="#0000a7"/><stop offset="0.828" stop-color="#000080"/><stop offset="0.998" stop-color="#000080"/></linearGradient><linearGradient id="h107" x1="0" y1="0" x2="0" y2="1"><stop offset="0.002" stop-color="#8fff68"/><stop offset="0.34" stop-color="#d6ff21"/><stop offset="0.392" stop-color="#eeff09"/><stop offset="0.42" stop-color="#ffeb00"/><stop offset="0.521" stop-color="#ff9100"/><stop offset="0.563" stop-color="#ff7b00"/><stop offset="0.601" stop-color="#ff7c00"/><stop offset="0.639" stop-color="#ff9e00"/><stop offset="0.674" stop-color="#ffca00"/><stop offset="0.692" stop-color="#ffea00"/><stop offset="0.702" stop-color="#edff0a"/><stop offset="0.723" stop-color="#beff38"/><stop offset="0.768" stop-color="#1bffdc"/><stop offset="0.775" stop-color="#00e6f7"/><stop offset="0.779" stop-color="#00d5ff"/><stop offset="0.8" stop-color="#0024ff"/><stop offset="0.803" stop-color="#000aff"/><stop offset="0.807" stop-color="#0000ff"/><stop offset="0.817" stop-color="#0000a7"/><stop offset="0.828" stop-color="#000080"/><stop offset="0.998" stop-color="#000080"/></linearGradient><linearGradient id="h108" x1="0" y1="0" x2="0" y2="1"><stop offset="0.002" stop-color="#93ff64"/><stop offset="0.113" stop-color="#b1ff46"/><stop offset="0.35" stop-color="#dcff1b"/><stop offset="0.392" stop-color="#effe08"/><stop offset="0.42" stop-color="#ffea00"/><stop offset="0.521" stop-color="#ff9000"/><stop offset="0.563" stop-color="#ff7b00"/><stop offset="0.601" stop-color="#ff7c00"/><stop offset="0.639" stop-color="#ff9e00"/><stop offset="0.674" stop-color="#ffca00"/><stop offset="0.692" stop-color="#ffea00"/><stop offset="0.702" stop-color="#edff0a"/><stop offset="0.723" stop-color="#beff38"/><stop offset="0.768" stop-color="#1bffdc"/><stop offset="0.775" stop-color="#00e6f7"/><stop offset="0.779" stop-color="#00d5ff"/><stop offset="0.8" stop-color="#0024ff"/><stop offset="0.803" stop-color="#000aff"/><stop offset="0.807" stop-color="#0000ff"/><stop offset="0.817" stop-color="#0000a7"/><stop offset="0.828" stop-color="#000080"/><stop offset="0.998" stop-color="#000080"/></linearGradient><linearGradient id="h109" x1="0" y1="0" x2="0" y2="1"><stop offset="0.002" stop-color="#98ff5f"/><stop offset="0.382" stop-color="#eeff08"/><stop offset="0.413" stop-color="#ffec00"/><stop offset="0.521" stop-color="#ff8f00"/><stop offset="0.563" stop-color="#ff7b00"/><stop offset="0.601" stop-color="#ff7c00"/><stop offset="0.639" stop-color="#ff9e00"/><stop offset="0.674" stop-color="#ffca00"/><stop offset="0.692" stop-color="#ffea00"/><stop offset="0.702" stop-color="#edff0a"/><stop offset="0.723" stop-color="#beff38"/><stop offset="0.768" stop-color="#1bffdc"/><stop offset="0.775" stop-color="#00e6f7"/><stop offset="0.779" stop-color="#00d5ff"/><stop offset="0.8" stop-color="#0024ff"/><stop offset="0.803" stop-color="#000aff"/><stop offset="0.807" stop-color="#0000ff"/><stop offset="0.817" stop-color="#0000a7"/><stop offset="0.828" stop-color="#000080"/><stop offset="0.998" stop-color="#000080"/></linearGradient><linearGradient id="h110" x1="0" y1="0" x2="0" y2="1"><stop offset="0.002" stop-color="#9cff5b"/><stop offset="0.371" stop-color="#efff08"/><stop offset="0.406" stop-color="#ffec00"/><stop offset="0.521" stop-color="#ff8e00"/><stop offset="0.563" stop-color="#ff7b00"/><stop offset="0.601" stop-color="#ff7c00"/><stop offset="0.639" stop-color="#ff9e00"/><stop offset="0.674" stop-color="#ffca00"/><stop offset="0.692" stop-color="#ffea00"/><stop offset="0.702" stop-color="#edff0a"/><stop offset="0.723" stop-color="#beff38"/><stop offset="0.768" stop-color="#1bffdc"/><stop offset="0.775" stop-color="#00e6f7"/><stop offset="0.779" stop-color="#00d5ff"/><stop offset="0.8" stop-color="#0024ff"/><stop offset="0.803" stop-color="#000aff"/><stop offset="0.807" stop-color="#0000ff"/><stop offset="0.817" stop-color="#0000a7"/><stop offset="0.828" stop-color="#000080"/><stop offset="0.998" stop-color="#000080"/></linearGradient><linearGradient id="h111" x1="0" y1="0" x2="0" y2="1"><stop offset="0.002" stop-color="#a0ff57"/><stop offset="0.357" stop-color="#effe08"/><stop offset="0.399" stop-color="#ffeb00"/><stop offset="0.521" stop-color="#ff8d00"/><stop offset="0.563" stop-color="#ff7b00"/><stop offset="0.601" stop-color="#ff7c00"/><stop offset="0.639" stop-color="#ff9e00"/><stop offset="0.674" stop-color="#ffca00"/><stop offset="0.692" stop-color="#ffea00"/><stop offset="0.702" stop-color="#edff0a"/><stop offset="0.723" stop-color="#beff38"/><stop offset="0.768" stop-color="#1bffdc"/><stop offset="0.775" stop-color="#00e6f7"/><stop offset="0.779" stop-color="#00d5ff"/><stop offset="0.8" stop-color="#0024ff"/><stop offset="0.803" stop-color="#000aff"/><stop offset="0.807" stop-color="#0000ff"/><stop offset="0.817" stop-color="#0000a7"/><stop offset="0.828" stop-color="#000080"/><stop offset="0.998" stop-color="#000080"/></linearGradient><linearGradient id="h112" x1="0" y1="0" x2="0" y2="1"><stop offset="0.002" stop-color="#a3ff54"/><stop offset="0.336" stop-color="#efff08"/><stop offset="0.389" stop-color="#ffec00"/><stop offset="0.521" stop-color="#ff8c00"/><stop offset="0.563" stop-color="#ff7b00"/><stop offset="0.601" stop-color="#ff7c00"/><stop offset="0.639" stop-color="#ff9e00"/><stop offset="0.674" stop-color="#ffca00"/><stop offset="0.692" stop-color="#ffea00"/><stop offset="0.702" stop-color="#edff0a"/><stop offset="0.723" stop-color="#beff38"/><stop offset="0.768" stop-color="#1bffdc"/><stop offset="0.775" stop-color="#00e6f7"/><stop offset="0.779" stop-color="#00d5ff"/><stop offset="0.8" stop-color="#0024ff"/><stop offset="0.803" stop-color="#000aff"/><stop offset="0.807" stop-color="#0000ff"/><stop offset="0.817" stop-color="#0000a7"/><stop offset="0.828" stop-color="#000080"/><stop offset="0.998" stop-color="#000080"/></linearGradient><linearGradient id="h113" x1="0" y1="0" x2="0" y2="1"><stop offset="0.002" stop-color="#a6ff50"/><stop offset="0.319" stop-color="#efff08"/><stop offset="0.378" stop-color="#ffec00"/><stop offset="0.416" stop-color="#ffd900"/><stop offset="0.521" stop-color="#ff8b00"/><stop offset="0.563" stop-color="#ff7b00"/><stop offset="0.601" stop-color="#ff7c00"/><stop offset="0.639" stop-color="#ff9e00"/><stop offset="0.674" stop-color="#ffca00"/><stop offset="0.692" stop-color="#ffea00"/><stop offset="0.702" stop-color="#edff0a"/><stop offset="0.723" stop-color="#beff38"/><stop offset="0.768" stop-color="#1bffdc"/><stop offset="0.775" stop-color="#00e6f7"/><stop offset="0.779" stop-color="#00d5ff"/><stop offset="0.8" stop-color="#0024ff"/><stop offset="0.803" stop-color="#000aff"/><stop offset="0.807" stop-color="#0000ff"/><stop offset="0.817" stop-color="#0000a7"/><stop offset="0.828" stop-color="#000080"/><stop offset="0.998" stop-color="#000080"/></linearGradient><linearGradient id="h114" x1="0" y1="0" x2="0" y2="1"><stop offset="0.002" stop-color="#a9ff4e"/><stop offset="0.138" stop-color="#c1ff35"/><stop offset="0.301" stop-color="#efff08"/><stop offset="0.368" stop-color="#ffec00"/><stop offset="0.416" stop-color="#ffd500"/><stop offset="0.521" stop-color="#ff8a00"/><stop offset="0.563" stop-color="#ff7b00"/><stop offset="0.601" stop-color="#ff7c00"/><stop offset="0.639" stop-color="#ff9e00"/><stop offset="0.674" stop-color="#ffca00"/><stop offset="0.692" stop-color="#ffea00"/><stop offset="0.702" stop-color="#edff0a"/><stop offset="0.723" stop-color="#beff38"/><stop offset="0.768" stop-color="#1bffdc"/><stop offset="0.775" stop-color="#00e6f7"/><stop offset="0.779" stop-color="#00d5ff"/><stop offset="0.8" stop-color="#0024ff"/><stop offset="0.803" stop-color="#000aff"/><stop offset="0.807" stop-color="#0000ff"/><stop offset="0.817" stop-color="#0000a7"/><stop offset="0.828" stop-color="#000080"/><stop offset="0.998" stop-color="#000080"/></linearGradient><linearGradient id="h115" x1="0" y1="0" x2="0" y2="1"><stop offset="0.002" stop-color="#a6ff51"/><stop offset="0.138" stop-color="#c3ff34"/><stop offset="0.28" stop-color="#efff08"/><stop offset="0.347" stop-color="#ffec00"/><stop offset="0.399" stop-color="#ffdb00"/><stop offset="0.521" stop-color="#ff8900"/><stop offset="0.563" stop-color="#ff7b00"/><stop offset="0.601" stop-color="#ff7c00"/><stop offset="0.639" stop-color="#ff9e00"/><stop offset="0.674" stop-color="#ffca00"/><stop offset="0.692" stop-color="#ffea00"/><stop offset="0.702" stop-color="#edff0a"/><stop offset="0.723" stop-color="#beff38"/><stop offset="0.768" stop-color="#1bffdc"/><stop offset="0.775" stop-color="#00e6f7"/><stop offset="0.779" stop-color="#00d5ff"/><stop offset="0.8" stop-color="#0024ff"/><stop offset="0.803" stop-color="#000aff"/><stop offset="0.807" stop-color="#0000ff"/><stop offset="0.817" stop-color="#0000a7"/><stop offset="0.828" stop-color="#000080"/><stop offset="0.998" stop-color="#000080"/></linearGradient><linearGradient id="h116" x1="0" y1="0" x2="0" y2="1"><stop offset="0.002" stop-color="#a2ff54"/><stop offset="0.138" stop-color="#c4ff33"/><stop offset="0.263" stop-color="#eeff08"/><stop offset="0.322" stop-color="#ffed00"/><stop offset="0.399" stop-color="#ffd800"/><stop offset="0.521" stop-color="#ff8800"/><stop offset="0.563" stop-color="#ff7b00"/><stop offset="0.601" stop-color="#ff7c00"/><stop offset="0.639" stop-color="#ff9e00"/><stop offset="0.674" stop-color="#ffca00"/><stop offset="0.692" stop-color="#ffea00"/><stop offset="0.702" stop-color="#edff0a"/><stop offset="0.723" stop-color="#beff38"/><stop offset="0.768" stop-color="#1bffdc"/><stop offset="0.775" stop-color="#00e6f7"/><stop offset="0.779" stop-color="#00d5ff"/><stop offset="0.8" stop-color="#0024ff"/><stop offset="0.803" stop-color="#000aff"/><stop offset="0.807" stop-color="#0000ff"/><stop offset="0.817" stop-color="#0000a7"/><stop offset="0.828" stop-color="#000080"/><stop offset="0.998" stop-color="#000080"/></linearGradient><linearGradient id="h117" x1="0" y1="0" x2="0" y2="1"><stop offset="0.002" stop-color="#9fff58"/><stop offset="0.061" stop-color="#abff4c"/><stop offset="0.249" stop-color="#efff08"/><stop offset="0.301" stop-color="#ffeb00"/><stop offset="0.399" stop-color="#ffd500"/><stop offset="0.521" stop-color="#ff8800"/><stop offset="0.563" stop-color="#ff7b00"/><stop offset="0.601" stop-color="#ff7c00"/><stop offset="0.639" stop-color="#ff9e00"/><stop offset="0.674" stop-color="#ffca00"/><stop offset="0.692" stop-color="#ffea00"/><stop offset="0.702" stop-color="#edff0a"/><stop offset="0.723" stop-color="#beff38"/><stop offset="0.768" stop-color="#1bffdc"/><stop offset="0.775" stop-color="#00e6f7"/><stop offset="0.779" stop-color="#00d5ff"/><stop offset="0.8" stop-color="#0024ff"/><stop offset="0.803" stop-color="#000aff"/><stop offset="0.807" stop-color="#0000ff"/><stop offset="0.817" stop-color="#0000a7"/><stop offset="0.828" stop-color="#000080"/><stop offset="0.998" stop-color="#000080"/></linearGradient><linearGradient id="h118" x1="0" y1="0" x2="0" y2="1"><stop offset="0.002" stop-color="#9cff5b"/><stop offset="0.061" stop-color="#a8ff4f"/><stop offset="0.239" stop-color="#efff08"/><stop offset="0.284" stop-color="#ffec00"/><stop offset="0.399" stop-color="#ffd200"/><stop offset="0.521" stop-color="#ff8700"/><stop offset="0.563" stop-color="#ff7b00"/><stop offset="0.601" stop-color="#ff7c00"/><stop offset="0.639" stop-color="#ff9e00"/><stop offset="0.674" stop-color="#ffca00"/><stop offset="0.692" stop-color="#ffea00"/><stop offset="0.702" stop-color="#edff0a"/><stop offset="0.723" stop-color="#beff38"/><stop offset="0.768" stop-color="#1bffdc"/><stop offset="0.775" stop-color="#00e6f7"/><stop offset="0.779" stop-color="#00d5ff"/><stop offset="0.8" stop-color="#0024ff"/><stop offset="0.803" stop-color="#000aff"/><stop offset="0.807" stop-color="#0000ff"/><stop offset="0.817" stop-color="#0000a7"/><stop offset="0.828" stop-color="#000080"/><stop offset="0.998" stop-color="#000080"/></linearGradient><linearGradient id="h119" x1="0" y1="0" x2="0" y2="1"><stop offset="0.002" stop-color="#9aff5d"/><stop offset="0.061" stop-color="#a7ff50"/><stop offset="0.228" stop-color="#eeff08"/><stop offset="0.27" stop-color="#ffec00"/><stop offset="0.305" stop-color="#ffde00"/><stop offset="0.399" stop-color="#ffcf00"/><stop offset="0.524" stop-color="#ff8400"/><stop offset="0.563" stop-color="#ff7b00"/><stop offset="0.601" stop-color="#ff7c00"/><stop offset="0.639" stop-color="#ff9e00"/><stop offset="0.674" stop-color="#ffca00"/><stop offset="0.692" stop-color="#ffea00"/><stop offset="0.702" stop-color="#edff0a"/><stop offset="0.723" stop-color="#beff38"/><stop offset="0.768" stop-color="#1bffdc"/><stop offset="0.775" stop-color="#00e6f7"/><stop offset="0.779" stop-color="#00d5ff"/><stop offset="0.8" stop-color="#0024ff"/><stop offset="0.803" stop-color="#000aff"/><stop offset="0.807" stop-color="#0000ff"/><stop offset="0.817" stop-color="#0000a7"/><stop offset="0.828" stop-color="#000080"/><stop offset="0.998" stop-color="#000080"/></linearGradient><linearGradient id="h120" x1="0" y1="0" x2="0" y2="1"><stop offset="0.002" stop-color="#a1ff56"/><stop offset="0.061" stop-color="#adff4a"/><stop offset="0.225" stop-color="#effe08"/><stop offset="0.267" stop-color="#ffec00"/><stop offset="0.305" stop-color="#ffdc00"/><stop offset="0.399" stop-color="#ffcd00"/><stop offset="0.524" stop-color="#ff8400"/><stop offset="0.563" stop-color="#ff7b00"/><stop offset="0.601" stop-color="#ff7c00"/><stop offset="0.639" stop-color="#ff9e00"/><stop offset="0.674" stop-color="#ffca00"/><stop offset="0.692" stop-color="#ffea00"/><stop offset="0.702" stop-color="#edff0a"/><stop offset="0.723" stop-color="#beff38"/><stop offset="0.768" stop-color="#1bffdc"/><stop offset="0.775" stop-color="#00e6f7"/><stop offset="0.779" stop-color="#00d5ff"/><stop offset="0.8" stop-color="#0024ff"/><stop offset="0.803" stop-color="#000aff"/><stop offset="0.807" stop-color="#0000ff"/><stop offset="0.817" stop-color="#0000a7"/><stop offset="0.828" stop-color="#000080"/><stop offset="0.998" stop-color="#000080"/></linearGradient><linearGradient id="h121" x1="0" y1="0" x2="0" y2="1"><stop offset="0.002" stop-color="#a8ff4f"/><stop offset="0.099" stop-color="#beff38"/><stop offset="0.218" stop-color="#eeff09"/><stop offset="0.263" stop-color="#ffeb00"/><stop offset="0.305" stop-color="#ffdb00"/><stop offset="0.399" stop-color="#ffcb00"/><stop offset="0.524" stop-color="#ff8400"/><stop offset="0.563" stop-color="#ff7b00"/><stop offset="0.601" stop-color="#ff7c00"/><stop offset="0.639" stop-color="#ff9e00"/><stop offset="0.674" stop-color="#ffca00"/><stop offset="0.692" stop-color="#ffea00"/><stop offset="0.702" stop-color="#edff0a"/><stop offset="0.723" stop-color="#beff38"/><stop offset="0.768" stop-color="#1bffdc"/><stop offset="0.775" stop-color="#00e6f7"/><stop offset="0.779" stop-color="#00d5ff"/><stop offset="0.8" stop-color="#0024ff"/><stop offset="0.803" stop-color="#000aff"/><stop offset="0.807" stop-color="#0000ff"/><stop offset="0.817" stop-color="#0000a7"/><stop offset="0.828" stop-color="#000080"/><stop offset="0.998" stop-color="#000080"/></linearGradient><linearGradient id="h122" x1="0" y1="0" x2="0" y2="1"><stop offset="0.002" stop-color="#afff48"/><stop offset="0.099" stop-color="#c2ff35"/><stop offset="0.214" stop-color="#efff08"/><stop offset="0.256" stop-color="#ffec00"/><stop offset="0.301" stop-color="#ffda00"/><stop offset="0.399" stop-color="#ffc900"/><stop offset="0.524" stop-color="#ff8400"/><stop offset="0.563" stop-color="#ff7b00"/><stop offset="0.601" stop-color="#ff7c00"/><stop offset="0.639" stop-color="#ff9e00"/><stop offset="0.674" stop-color="#ffca00"/><stop offset="0.692" stop-color="#ffea00"/><stop offset="0.702" stop-color="#edff0a"/><stop offset="0.723" stop-color="#beff38"/><stop offset="0.768" stop-color="#1bffdc"/><stop offset="0.775" stop-color="#00e6f7"/><stop offset="0.779" stop-color="#00d5ff"/><stop offset="0.8" stop-color="#0024ff"/><stop offset="0.803" stop-color="#000aff"/><stop offset="0.807" stop-color="#0000ff"/><stop offset="0.817" stop-color="#0000a7"/><stop offset="0.828" stop-color="#000080"/><stop offset="0.998" stop-color="#000080"/></linearGradient><linearGradient id="h123" x1="0" y1="0" x2="0" y2="1"><stop offset="0.002" stop-color="#b5ff42"/><stop offset="0.099" stop-color="#c6ff31"/><stop offset="0.207" stop-color="#eeff09"/><stop offset="0.253" stop-color="#ffec00"/><stop offset="0.298" stop-color="#ffda00"/><stop offset="0.399" stop-color="#ffc600"/><stop offset="0.524" stop-color="#ff8400"/><stop offset="0.563" stop-color="#ff7b00"/><stop offset="0.601" stop-color="#ff7c00"/><stop offset="0.639" stop-color="#ff9e00"/><stop offset="0.674" stop-color="#ffca00"/><stop offset="0.692" stop-color="#ffea00"/><stop offset="0.702" stop-color="#edff0a"/><stop offset="0.723" stop-color="#beff38"/><stop offset="0.768" stop-color="#1bffdc"/><stop offset="0.775" stop-color="#00e6f7"/><stop offset="0.779" stop-color="#00d5ff"/><stop offset="0.8" stop-color="#0024ff"/><stop offset="0.803" stop-color="#000aff"/><stop offset="0.807" stop-color="#0000ff"/><stop offset="0.817" stop-color="#0000a7"/><stop offset="0.828" stop-color="#000080"/><stop offset="0.998" stop-color="#000080"/></linearGradient><linearGradient id="h124" x1="0" y1="0" x2="0" y2="1"><stop offset="0.002" stop-color="#b7ff40"/><stop offset="0.099" stop-color="#caff2d"/><stop offset="0.197" stop-color="#eeff09"/><stop offset="0.242" stop-color="#ffec00"/><stop offset="0.298" stop-color="#ffd600"/><stop offset="0.399" stop-color="#ffc300"/><stop offset="0.524" stop-color="#ff8400"/><stop offset="0.563" stop-color="#ff7b00"/><stop offset="0.601" stop-color="#ff7c00"/><stop offset="0.639" stop-color="#ff9e00"/><stop offset="0.674" stop-color="#ffca00"/><stop offset="0.692" stop-color="#ffea00"/><stop offset="0.702" stop-color="#edff0a"/><stop offset="0.723" stop-color="#beff38"/><stop offset="0.768" stop-color="#1bffdc"/><stop offset="0.775" stop-color="#00e6f7"/><stop offset="0.779" stop-color="#00d5ff"/><stop offset="0.8" stop-color="#0024ff"/><stop offset="0.803" stop-color="#000aff"/><stop offset="0.807" stop-color="#0000ff"/><stop offset="0.817" stop-color="#0000a7"/><stop offset="0.828" stop-color="#000080"/><stop offset="0.998" stop-color="#000080"/></linearGradient><linearGradient id="h125" x1="0" y1="0" x2="0" y2="1"><stop offset="0.002" stop-color="#b9ff3e"/><stop offset="0.078" stop-color="#c7ff2f"/><stop offset="0.186" stop-color="#eeff08"/><stop offset="0.232" stop-color="#ffec00"/><stop offset="0.298" stop-color="#ffd300"/><stop offset="0.399" stop-color="#ffc000"/><stop offset="0.524" stop-color="#ff8400"/><stop offset="0.563" stop-color="#ff7b00"/><stop offset="0.601" stop-color="#ff7c00"/><stop offset="0.639" stop-color="#ff9e00"/><stop offset="0.674" stop-color="#ffca00"/><stop offset="0.692" stop-color="#ffea00"/><stop offset="0.702" stop-color="#edff0a"/><stop offset="0.723" stop-color="#beff38"/><stop offset="0.768" stop-color="#1bffdc"/><stop offset="0.775" stop-color="#00e6f7"/><stop offset="0.779" stop-color="#00d5ff"/><stop offset="0.8" stop-color="#0024ff"/><stop offset="0.803" stop-color="#000aff"/><stop offset="0.807" stop-color="#0000ff"/><stop offset="0.817" stop-color="#0000a7"/><stop offset="0.828" stop-color="#000080"/><stop offset="0.998" stop-color="#000080"/></linearGradient><linearGradient id="cb" x1="0" y1="0" x2="0" y2="1"><stop offset="0" stop-color="#800000"/><stop offset="0.02" stop-color="#9c0000"/><stop offset="0.05" stop-color="#b90000"/><stop offset="0.07" stop-color="#d60000"/><stop offset="0.1" stop-color="#f30900"/><stop offset="0.12" stop-color="#ff2100"/><stop offset="0.15" stop-color="#ff3900"/><stop offset="0.17" stop-color="#ff5000"/><stop offset="0.2" stop-color="#ff6800"/><stop offset="0.22" stop-color="#ff8000"/><stop offset="0.25" stop-color="#ff9700"/><stop offset="0.27" stop-color="#ffaf00"/><stop offset="0.3" stop-color="#ffc600"/><stop offset="0.32" stop-color="#ffde00"/><stop offset="0.35" stop-color="#f7f600"/><stop offset="0.38" stop-color="#e2ff15"/><stop offset="0.4" stop-color="#ceff29"/><stop offset="0.42" stop-color="#b9ff3e"/><stop offset="0.45" stop-color="#a5ff52"/><stop offset="0.47" stop-color="#90ff67"/><stop offset="0.5" stop-color="#7bff7b"/><stop offset="0.52" stop-color="#67ff90"/><stop offset="0.55" stop-color="#52ffa5"/><stop offset="0.57" stop-color="#3effb9"/><stop offset="0.6" stop-color="#29ffce"/><stop offset="0.62" stop-color="#15ffe2"/><stop offset="0.65" stop-color="#00e6f7"/><stop offset="0.68" stop-color="#00ccff"/><stop offset="0.7" stop-color="#00b3ff"/><stop offset="0.72" stop-color="#0099ff"/><stop offset="0.75" stop-color="#0080ff"/><stop offset="0.78" stop-color="#0066ff"/><stop offset="0.8" stop-color="#004dff"/><stop offset="0.82" stop-color="#0033ff"/><stop offset="0.85" stop-color="#001aff"/><stop offset="0.88" stop-color="#0000ff"/><stop offset="0.9" stop-color="#0000f3"/><stop offset="0.93" stop-color="#0000d6"/><stop offset="0.95" stop-color="#0000b9"/><stop offset="0.97" stop-color="#00009c"/><stop offset="1" stop-color="#000080"/></linearGradient></defs><rect width="2000" height="1100" fill="#fff"/><text y="40.9" font-size="25.2"><tspan x="525.2" textLength="110.62" lengthAdjust="spacingAndGlyphs">BAS-RBM</tspan> <tspan x="643.45" textLength="130.47" lengthAdjust="spacingAndGlyphs">Relativistic</tspan> <tspan x="781.55" textLength="98.44" lengthAdjust="spacingAndGlyphs">Electron</tspan> <tspan x="887.62" textLength="109.18" lengthAdjust="spacingAndGlyphs">Forecast,</tspan> <tspan x="1004.43" textLength="76.89" lengthAdjust="spacingAndGlyphs">issued</tspan> <tspan x="1088.95" textLength="24.12" lengthAdjust="spacingAndGlyphs">at</tspan> <tspan x="1120.69" textLength="69.16" lengthAdjust="spacingAndGlyphs">23:10</tspan> <tspan x="1197.49" textLength="39.86" lengthAdjust="spacingAndGlyphs">UT,</tspan> <tspan x="1244.97" textLength="30.54" lengthAdjust="spacingAndGlyphs">30</tspan> <tspan x="1283.14" textLength="124.45" lengthAdjust="spacingAndGlyphs">December</tspan> <tspan x="1415.22" textLength="61.08" lengthAdjust="spacingAndGlyphs">2018</tspan></text>
<rect x="200" y="110" width="714" height="58" fill="#d3d3d3"/>
<g shape-rendering="crispEdges"><rect x="200" y="168" width="40" height="287" fill="url(#h0)"/><rect x="240" y="168" width="40" height="287" fill="url(#h1)"/><rect x="280" y="168" width="8" height="287" fill="url(#h2)"/><rect x="288" y="168" width="2" height="287" fill="url(#h3)"/><rect x="290" y="168" width="2" height="287" fill="url(#h4)"/><rect x="292" y="168" width="2" height="287" fill="url(#h5)"/><rect x="294" y="168" width="2" height="287" fill="url(#h6)"/><rect x="296" y="168" width="2" height="287" fill="url(#h7)"/><rect x="298" y="168" width="2" height="287" fill="url(#h8)"/><rect x="300" y="168" width="2" height="287" fill="url(#h9)"/><rect x="302" y="168" width="2" height="287" fill="url(#h10)"/><rect x="304" y="168" width="2" height="287" fill="url(#h11)"/><rect x="306" y="168" width="2" height="287" fill="url(#h12)"/><rect x="308" y="168" width="2" height="287" fill="url(#h13)"/><rect x="310" y="168" width="2" height="287" fill="url(#h14)"/><rect x="312" y="168" width="2" height="287" fill="url(#h15)"/><rect x="314" y="168" width="2" height="287" fill="url(#h16)"/><rect x="316" y="168" width="2" height="287" fill="url(#h17)"/><rect x="318" y="168" width="2" height="287" fill="url(#h18)"/><rect x="320" y="168" width="2" height="287" fill="url(#h19)"/><rect x="322" y="168" width="2" height="287" fill="url(#h20)"/><rect x="324" y="168" width="2" height="287" fill="url(#h21)"/><rect x="326" y="168" width="2" height="287" fill="url(#h22)"/><rect x="328" y="168" width="4" height="287" fill="url(#h23)"/><rect x="332" y="168" width="2" height="287" fill="url(#h24)"/><rect x="334" y="168" width="2" height="287" fill="url(#h25)"/><rect x="336" y="168" width="2" height="287" fill="url(#h26)"/><rect x="338" y="168" width="2" height="287" fill="url(#h27)"/><rect x="340" y="168" width="2" height="287" fill="url(#h28)"/><rect x="342" y="168" width="2" height="287" fill="url(#h29)"/><rect x="344" y="168" width="2" height="287" fill="url(#h30)"/><rect x="346" y="168" width="2" height="287" fill="url(#h31)"/><rect x="348" y="168" width="2" height="287" fill="url(#h32)"/><rect x="350" y="168" width="2" height="287" fill="url(#h33)"/><rect x="352" y="168" width="2" height="287" fill="url(#h34)"/><rect x="354" y="168" width="2" height="287" fill="url(#h35)"/><rect x="356" y="168" width="2" height="287" fill="url(#h36)"/><rect x="358" y="168" width="4" height="287" fill="url(#h37)"/><rect x="362" y="168" width="6" height="287" fill="url(#h38)"/><rect x="368" y="168" width="6" height="287" fill="url(#h39)"/><rect x="374" y="168" width="6" height="287" fill="url(#h40)"/><rect x="380" y="168" width="6" height="287" fill="url(#h41)"/><rect x="386" y="168" width="6" height="287" fill="url(#h42)"/><rect x="392" y="168" width="6" height="287" fill="url(#h43)"/><rect x="398" y="168" width="6" height="287" fill="url(#h44)"/><rect x="404" y="168" width="6" height="287" fill="url(#h45)"/><rect x="410" y="168" width="6" height="287" fill="url(#h46)"/><rect x="416" y="168" width="40" height="287" fill="url(#h47)"/><rect x="456" y="168" width="40" height="287" fill="url(#h48)"/><rect x="496" y="168" width="40" height="287" fill="url(#h49)"/><rect x="536" y="168" width="10" height="287" fill="url(#h50)"/><rect x="546" y="168" width="2" height="287" fill="url(#h51)"/><rect x="548" y="168" width="2" height="287" fill="url(#h52)"/><rect x="550" y="168" width="2" height="287" fill="url(#h53)"/><rect x="552" y="168" width="2" height="287" fill="url(#h54)"/><rect x="554" y="168" width="2" height="287" fill="url(#h55)"/><rect x="556" y="168" width="2" height="287" fill="url(#h56)"/><rect x="558" y="168" width="2" height="287" fill="url(#h57)"/><rect x="560" y="168" width="2" height="287" fill="url(#h58)"/><rect x="562" y="168" width="2" height="287" fill="url(#h59)"/><rect x="564" y="168" width="2" height="287" fill="url(#h60)"/><rect x="566" y="168" width="2" height="287" fill="url(#h61)"/><rect x="568" y="168" width="2" height="287" fill="url(#h62)"/><rect x="570" y="168" width="2" height="287" fill="url(#h63)"/><rect x="572" y="168" width="2" height="287" fill="url(#h64)"/><rect x="574" y="168" width="2" height="287" fill="url(#h65)"/><rect x="576" y="168" width="2" height="287" fill="url(#h66)"/><rect x="578" y="168" width="2" height="287" fill="url(#h67)"/><rect x="580" y="168" width="2" height="287" fill="url(#h68)"/><rect x="582" y="168" width="2" height="287" fill="url(#h69)"/><rect x="584" y="168" width="2" height="287" fill="url(#h70)"/><rect x="586" y="168" width="2" height="287" fill="url(#h71)"/><rect x="588" y="168" width="2" height="287" fill="url(#h72)"/><rect x="590" y="168" width="2" height="287" fill="url(#h73)"/><rect x="592" y="168" width="2" height="287" fill="url(#h74)"/><rect x="594" y="168" width="2" height="287" fill="url(#h75)"/><rect x="596" y="168" width="2" height="287" fill="url(#h76)"/><rect x="598" y="168" width="2" height="287" fill="url(#h77)"/><rect x="600" y="168" width="2" height="287" fill="url(#h78)"/><rect x="602" y="168" width="2" height="287" fill="url(#h79)"/><rect x="604" y="168" width="2" height="287" fill="url(#h80)"/><rect x="606" y="168" width="2" height="287" fill="url(#h81)"/><rect x="608" y="168" width="2" height="287" fill="url(#h82)"/><rect x="610" y="168" width="2" height="287" fill="url(#h83)"/><rect x="612" y="168" width="4" height="287" fill="url(#h84)"/><rect x="616" y="168" width="4" height="287" fill="url(#h85)"/><rect x="620" y="168" width="4" height="287" fill="url(#h86)"/><rect x="624" y="168" width="4" height="287" fill="url(#h87)"/><rect x="628" y="168" width="4" height="287" fill="url(#h88)"/><rect x="632" y="168" width="4" height="287" fill="url(#h89)"/><rect x="636" y="168" width="10" height="287" fill="url(#h90)"/><rect x="646" y="168" width="6" height="287" fill="url(#h91)"/><rect x="652" y="168" width="2" height="287" fill="url(#h92)"/><rect x="654" y="168" width="2" height="287" fill="url(#h93)"/><rect x="656" y="168" width="2" height="287" fill="url(#h94)"/><rect x="658" y="168" width="2" height="287" fill="url(#h95)"/><rect x="660" y="168" width="2" height="287" fill="url(#h96)"/><rect x="662" y="168" width="2" height="287" fill="url(#h97)"/><rect x="664" y="168" width="2" height="287" fill="url(#h98)"/><rect x="666" y="168" width="2" height="287" fill="url(#h99)"/><rect x="668" y="168" width="2" height="287" fill="url(#h100)"/><rect x="670" y="168" width="2" height="287" fill="url(#h101)"/><rect x="672" y="168" width="4" height="287" fill="url(#h102)"/><rect x="676" y="168" width="6" height="287" fill="url(#h103)"/><rect x="682" y="168" width="6" height="287" fill="url(#h104)"/><rect x="688" y="168" width="6" height="287" fill="url(#h105)"/><rect x="694" y="168" width="6" height="287" fill="url(#h106)"/><rect x="700" y="168" width="6" height="287" fill="url(#h107)"/><rect x="706" y="168" width="10" height="287" fill="url(#h108)"/><rect x="716" y="168" width="10" height="287" fill="url(#h109)"/><rect x="726" y="168" width="10" height="287" fill="url(#h110)"/><rect x="736" y="168" width="8" height="287" fill="url(#h111)"/><rect x="744" y="168" width="8" height="287" fill="url(#h112)"/><rect x="752" y="168" width="8" height="287" fill="url(#h113)"/><rect x="760" y="168" width="8" height="287" fill="url(#h114)"/><rect x="768" y="168" width="8" height="287" fill="url(#h115)"/><rect x="776" y="168" width="8" height="287" fill="url(#h116)"/><rect x="784" y="168" width="8" height="287" fill="url(#h117)"/><rect x="792" y="168" width="8" height="287" fill="url(#h118)"/><rect x="800" y="168" width="6" height="287" fill="url(#h119)"/><rect x="806" y="168" width="6" height="287" fill="url(#h120)"/><rect x="812" y="168" width="6" height="287" fill="url(#h121)"/><rect x="818" y="168" width="6" height="287" fill="url(#h122)"/><rect x="824" y="168" width="32" height="287" fill="url(#h123)"/><rect x="856" y="168" width="32" height="287" fill="url(#h124)"/><rect x="888" y="168" width="26" height="287" fill="url(#h125)"/></g>
<g stroke="#fff" stroke-width="2.2" fill="none" stroke-linecap="butt"><path d="M290 111V188"/><path d="M550.2 111V138.5"/><path d="M558 111V151"/><path d="M551 121L557.5 136" stroke-width="1.8"/><path d="M567.6 111V118"/></g>
<rect x="227" y="111" width="4" height="9" fill="#000"/>
<rect x="272.3" y="111" width="4" height="9" fill="#ff0000"/>
<text x="223.01" y="139" font-size="14.58" textLength="11.98" lengthAdjust="spacingAndGlyphs">M</text>
<text x="269.1" y="139" font-size="14.58" textLength="10.39" lengthAdjust="spacingAndGlyphs" fill="#ff0000">N</text>
<rect x="316.2" y="111" width="4" height="9" fill="#000"/>
<rect x="361.6" y="111" width="4" height="9" fill="#ff0000"/>
<text x="312.26" y="139" font-size="14.58" textLength="11.98" lengthAdjust="spacingAndGlyphs">M</text>
<text x="358.35" y="139" font-size="14.58" textLength="10.39" lengthAdjust="spacingAndGlyphs" fill="#ff0000">N</text>
<rect x="405.5" y="111" width="4" height="9" fill="#000"/>
<rect x="450.8" y="111" width="4" height="9" fill="#ff0000"/>
<text x="401.51" y="139" font-size="14.58" textLength="11.98" lengthAdjust="spacingAndGlyphs">M</text>
<text x="447.6" y="139" font-size="14.58" textLength="10.39" lengthAdjust="spacingAndGlyphs" fill="#ff0000">N</text>
<rect x="494.8" y="111" width="4" height="9" fill="#000"/>
<rect x="540" y="111" width="4" height="9" fill="#ff0000"/>
<text x="490.76" y="139" font-size="14.58" textLength="11.98" lengthAdjust="spacingAndGlyphs">M</text>
<text x="536.85" y="139" font-size="14.58" textLength="10.39" lengthAdjust="spacingAndGlyphs" fill="#ff0000">N</text>
<rect x="584" y="111" width="4" height="9" fill="#000"/>
<rect x="629.3" y="111" width="4" height="9" fill="#ff0000"/>
<text x="580.01" y="139" font-size="14.58" textLength="11.98" lengthAdjust="spacingAndGlyphs">M</text>
<text x="626.1" y="139" font-size="14.58" textLength="10.39" lengthAdjust="spacingAndGlyphs" fill="#ff0000">N</text>
<rect x="673.2" y="111" width="4" height="9" fill="#000"/>
<rect x="718.5" y="111" width="4" height="9" fill="#ff0000"/>
<text x="669.26" y="139" font-size="14.58" textLength="11.98" lengthAdjust="spacingAndGlyphs">M</text>
<text x="715.35" y="139" font-size="14.58" textLength="10.39" lengthAdjust="spacingAndGlyphs" fill="#ff0000">N</text>
<rect x="762.5" y="111" width="4" height="9" fill="#000"/>
<rect x="807.8" y="111" width="4" height="9" fill="#ff0000"/>
<text x="758.51" y="139" font-size="14.58" textLength="11.98" lengthAdjust="spacingAndGlyphs">M</text>
<text x="804.6" y="139" font-size="14.58" textLength="10.39" lengthAdjust="spacingAndGlyphs" fill="#ff0000">N</text>
<path d="M200 219.8L201.5 218.2L203 217.6L204.5 217.3L206 217.2L207.5 216.9L209 216.3L210.5 215.5L212 214.3L213.5 212.6L215 210.2L216.5 207L218 203.6L219.5 201L221 199.7L222.5 199.5L224 200.1L225.5 201L227 201.9L228.5 202.5L230 202.5L231.5 201.7L233 200.8L234.5 200L236 199.8L237.5 200.6L239 202.5L240.5 205.2L242 208.3L243.5 211.3L245 213.7L246.5 215.5L248 216.6L249.5 217.3L251 217.7L252.5 218L254 218.5L255.5 219.4L257 220.9L258.5 222.9L260 225.2L261.5 227.4L263 229.3L264.5 230.9L266 232L267.5 232.8L269 233.4L270.5 233.7L272 233.8L273.5 233.8L275 233.6L276.5 233.4L278 233.1L279.5 232.7L281 232.1L282.5 231.1L284 229.5L285.5 227.1L287 224.1L288.5 221L290 218.9L291.5 217.8L293 217.4L294.5 217.3L296 217.1L297.5 216.6L299 215.9L300.5 214.9L302 213.5L303.5 211.5L305 208.7L306.5 205.3L308 202.2L309.5 200.2L311 199.5L312.5 199.7L314 200.5L315.5 201.5L317 202.3L318.5 202.6L320 202.2L321.5 201.3L323 200.3L324.5 199.8L326 200L327.5 201.4L329 203.7L330.5 206.7L332 209.8L333.5 212.5L335 214.6L336.5 216.1L338 217L339.5 217.5L341 217.8L342.5 218.2L344 218.8L345.5 220L347 221.9L348.5 224.1L350 226.3L351.5 228.4L353 230.2L354.5 231.5L356 232.5L357.5 233.1L359 233.6L360.5 233.8L362 233.8L363.5 233.7L365 233.5L366.5 233.3L368 233L369.5 232.5L371 231.7L372.5 230.4L374 228.4L375.5 225.6L377 222.5L378.5 219.8L380 218.2L381.5 217.6L383 217.3L384.5 217.2L386 216.9L387.5 216.3L389 215.5L390.5 214.3L392 212.6L393.5 210.2L395 207L396.5 203.6L398 201L399.5 199.7L401 199.5L402.5 200.1L404 201L405.5 201.9L407 202.5L408.5 202.5L410 201.7L411.5 200.8L413 200L414.5 199.8L416 200.6L417.5 202.5L419 205.2L420.5 208.3L422 211.3L423.5 213.7L425 215.5L426.5 216.6L428 217.3L429.5 217.7L431 218L432.5 218.5L434 219.4L435.5 220.9L437 222.9L438.5 225.2L440 227.4L441.5 229.3L443 230.9L444.5 232L446 232.8L447.5 233.4L449 233.7L450.5 233.8L452 233.8L453.5 233.6L455 233.4L456.5 233.1L458 232.7L459.5 232.1L461 231.1L462.5 229.5L464 227.1L465.5 224.1L467 221L468.5 218.9L470 217.8L471.5 217.4L473 217.3L474.5 217.1L476 216.6L477.5 215.9L479 214.9L480.5 213.5L482 211.5L483.5 208.7L485 205.3L486.5 202.2L488 200.2L489.5 199.5L491 199.7L492.5 200.5L494 201.5L495.5 202.3L497 202.6L498.5 202.2L500 201.3L501.5 200.3L503 199.8L504.5 200L506 201.4L507.5 203.7L509 206.7L510.5 209.8L512 212.5L513.5 214.6L515 216.1L516.5 217L518 217.5L519.5 217.8L521 218.2L522.5 218.8L524 220L525.5 221.9L527 224.1L528.5 226.3L530 228.4L531.5 230.2L533 231.5L534.5 232.5L536 233.1L537.5 233.6L539 233.8L540.5 233.8L542 233.7L543.5 233.5L545 233.3L546.5 233L548 232.5L549.5 231.7L551 230.4L552.5 228.4L554 225.6L555.5 222.5L557 219.8L558.5 218.2L560 217.6L561.5 217.3L563 217.2L564.5 216.9L566 216.3L567.5 215.5L569 214.3L570.5 212.6L572 210.2L573.5 207L575 203.6L576.5 201L578 199.7L579.5 199.5L581 200.1L582.5 201L584 201.9L585.5 202.5L587 202.5L588.5 201.7L590 200.8L591.5 200L593 199.8L594.5 200.6L596 202.5L597.5 205.2L599 208.3L600.5 211.3L602 213.7L603.5 215.5L605 216.6L606.5 217.3L608 217.7L609.5 218L611 218.5L612.5 219.4L614 220.9L615.5 222.9L617 225.2L618.5 227.4L620 229.3L621.5 230.9L623 232L624.5 232.8L626 233.4L627.5 233.7L629 233.8L630.5 233.8L632 233.6L633.5 233.4L635 233.1L636.5 232.7L638 232.1L639.5 231.1L641 229.5L642.5 227.1L644 224.1L645.5 221L647 218.9L648.5 217.8L650 217.4L651.5 217.3L653 217.1L654.5 216.6L656 215.9L657.5 214.9L659 213.5L660.5 211.5L662 208.7L663.5 205.3L665 202.2L666.5 200.2L668 199.5L669.5 199.7L671 200.5L672.5 201.5L674 202.3L675.5 202.6L677 202.2L678.5 201.3L680 200.3L681.5 199.8L683 200L684.5 201.4L686 203.7L687.5 206.7L689 209.8L690.5 212.5L692 214.6L693.5 216.1L695 217L696.5 217.5L698 217.8L699.5 218.2L701 218.8L702.5 220L704 221.9L705.5 224.1L707 226.3L708.5 228.4L710 230.2L711.5 231.5L713 232.5L714.5 233.1L716 233.6L717.5 233.8L719 233.8L720.5 233.7L722 233.5L723.5 233.3L725 233L726.5 232.5L728 231.7L729.5 230.4L731 228.4L732.5 225.6L734 222.5L735.5 219.8L737 218.2L738.5 217.6L740 217.3L741.5 217.2L743 216.9L744.5 216.3L746 215.5L747.5 214.3L749 212.6L750.5 210.2L752 207L753.5 203.6L755 201L756.5 199.7L758 199.5L759.5 200.1L761 201L762.5 201.9L764 202.5L765.5 202.5L767 201.7L768.5 200.8L770 200L771.5 199.8L773 200.6L774.5 202.5L776 205.2L777.5 208.3L779 211.3L780.5 213.7L782 215.5L783.5 216.6L785 217.3L786.5 217.7L788 218L789.5 218.5L791 219.4L792.5 220.9L794 222.9L795.5 225.2L797 227.4L798.5 229.3L800 230.9L801.5 232L803 232.8L804.5 233.4L806 233.7L807.5 233.8L809 233.8L810.5 233.6L812 233.4L813.5 233.1L815 232.7L816.5 232.1L818 231.1L819.5 229.5L821 227.1L822.5 224.1L824 221L825.5 218.9L827 217.8L828.5 217.4L830 217.3L831.5 217.1L833 216.6L834.5 215.9L836 214.9L837.5 213.5L839 211.5L840.5 208.7L842 205.3L843.5 202.2L845 200.2L846.5 199.5L848 199.7L849.5 200.5L851 201.5L852.5 202.3L854 202.6L855.5 202.2L857 201.3L858.5 200.3L860 199.8L861.5 200L863 201.4L864.5 203.7L866 206.7L867.5 209.8L869 212.5L870.5 214.6L872 216.1L873.5 217L875 217.5L876.5 217.8L878 218.2L879.5 218.8L881 220L882.5 221.9L884 224.1L885.5 226.3L887 228.4L888.5 230.2L890 231.5L891.5 232.5L893 233.1L894.5 233.6L896 233.8L897.5 233.8L899 233.7L900.5 233.5L902 233.3L903.5 233L905 232.5L906.5 231.7L908 230.4L909.5 228.4L911 225.6L912.5 222.5L914 219.8" stroke="#000" stroke-width="2" stroke-dasharray="7.4 3.2" fill="none"/>
<text transform="translate(888.2 290.5) rotate(-90)" x="-132.23" y="0" font-size="67.81" textLength="264.47" lengthAdjust="spacingAndGlyphs" fill="#808080" fill-opacity="0.27">Forecast</text>
<path d="M825 455V110" stroke="#1f77b4" stroke-width="2" stroke-dasharray="2.083 3.4375" fill="none"/>
<path d="M201 397.5L206 397.5M913 397.5L908 397.5M201 340L206 340M913 340L908 340M201 282.5L206 282.5M913 282.5L908 282.5M201 225L206 225M913 225L908 225M201 167.5L206 167.5M913 167.5L908 167.5M248.3 454L248.3 449M337.5 454L337.5 449M426.8 454L426.8 449M516 454L516 449M605.3 454L605.3 449M694.5 454L694.5 449M783.8 454L783.8 449M873 454L873 449" stroke="#000" stroke-width="1.2" fill="none"/>
<g stroke-width="2" fill="none"><path d="M199 110H915" stroke="#000"/><path d="M199 455H915" stroke="#000"/><path d="M200 109V456" stroke="#000"/><path d="M914 109V456" stroke="#000"/></g>
<text x="182.33" y="462.7" font-size="20.61" textLength="12.37" lengthAdjust="spacingAndGlyphs">2</text>
<text x="182.33" y="405.2" font-size="20.61" textLength="12.37" lengthAdjust="spacingAndGlyphs">3</text>
<text x="182.33" y="347.7" font-size="20.61" textLength="12.37" lengthAdjust="spacingAndGlyphs">4</text>
<text x="182.33" y="290.2" font-size="20.61" textLength="12.37" lengthAdjust="spacingAndGlyphs">5</text>
<text x="182.33" y="232.7" font-size="20.61" textLength="12.37" lengthAdjust="spacingAndGlyphs">6</text>
<text x="182.33" y="175.2" font-size="20.61" textLength="12.37" lengthAdjust="spacingAndGlyphs">7</text>
<text x="182.33" y="117.7" font-size="20.61" textLength="12.37" lengthAdjust="spacingAndGlyphs">8</text>
<text transform="translate(174.5 286.5) rotate(-90)" x="-12.69" y="0" font-size="25.2" textLength="25.37" lengthAdjust="spacingAndGlyphs">L*</text>
<g transform="translate(175.2 92.8)"><text x="0" y="0" font-size="25.44" textLength="38.17" lengthAdjust="spacingAndGlyphs">2.0</text><text x="45.8" y="0" font-size="25.2" textLength="51.89" lengthAdjust="spacingAndGlyphs">MeV</text><text x="105.32" y="0" font-size="25.2" textLength="98.44" lengthAdjust="spacingAndGlyphs">Electron</text><text x="211.38" y="0" font-size="25.2" textLength="49.89" lengthAdjust="spacingAndGlyphs">Flux</text><text x="268.9" y="0" font-size="25.2" textLength="24.12" lengthAdjust="spacingAndGlyphs">at</text><text x="300.65" y="0" font-size="25.44" textLength="30.54" lengthAdjust="spacingAndGlyphs">88</text><text x="336.47" y="-7.2" font-size="15.62" textLength="7.44" lengthAdjust="spacingAndGlyphs">°</text><text x="357.35" y="0" font-size="25.2" textLength="59.72" lengthAdjust="spacingAndGlyphs">pitch</text><text x="424.69" y="0" font-size="25.2" textLength="66.59" lengthAdjust="spacingAndGlyphs">angle</text><text x="498.91" y="0" font-size="25.2" textLength="9.36" lengthAdjust="spacingAndGlyphs">(</text><text x="515.9" y="0" font-size="25.2" textLength="36.57" lengthAdjust="spacingAndGlyphs">cm</text><text x="552.48" y="-8.74" font-size="17.81" textLength="24.77" lengthAdjust="spacingAndGlyphs">−2</text><text x="582.64" y="0" font-size="25.2" textLength="12.5" lengthAdjust="spacingAndGlyphs">s</text><text x="595.15" y="-8.74" font-size="17.81" textLength="24.77" lengthAdjust="spacingAndGlyphs">−1</text><text x="625.31" y="0" font-size="25.2" textLength="22.37" lengthAdjust="spacingAndGlyphs">sr</text><text x="647.68" y="-8.74" font-size="17.81" textLength="24.77" lengthAdjust="spacingAndGlyphs">−1</text><text x="677.85" y="0" font-size="25.2" textLength="45.73" lengthAdjust="spacingAndGlyphs">KeV</text><text x="723.57" y="-8.74" font-size="17.81" textLength="24.77" lengthAdjust="spacingAndGlyphs">−1</text><text x="755.97" y="0" font-size="25.2" textLength="9.36" lengthAdjust="spacingAndGlyphs">)</text></g>
<rect x="959" y="110" width="17" height="345" fill="url(#cb)"/>
<g stroke-width="2" fill="none"><path d="M958 110H977" stroke="#000"/><path d="M958 455H977" stroke="#000"/><path d="M959 109V456" stroke="#000"/><path d="M976 109V456" stroke="#000"/></g>
<g transform="translate(988.6 462.8)"><text x="0" y="0" font-size="20.61" textLength="24.74" lengthAdjust="spacingAndGlyphs">10</text><text x="24.74" y="-7.08" font-size="14.42" textLength="20.06" lengthAdjust="spacingAndGlyphs">−3</text></g>
<g transform="translate(988.6 405.3)"><text x="0" y="0" font-size="20.61" textLength="24.74" lengthAdjust="spacingAndGlyphs">10</text><text x="24.74" y="-7.08" font-size="14.42" textLength="20.06" lengthAdjust="spacingAndGlyphs">−2</text></g>
<g transform="translate(988.6 347.8)"><text x="0" y="0" font-size="20.61" textLength="24.74" lengthAdjust="spacingAndGlyphs">10</text><text x="24.74" y="-7.08" font-size="14.42" textLength="20.06" lengthAdjust="spacingAndGlyphs">−1</text></g>
<g transform="translate(988.6 290.3)"><text x="0" y="0" font-size="20.61" textLength="24.74" lengthAdjust="spacingAndGlyphs">10</text><text x="24.74" y="-7.08" font-size="14.42" textLength="8.66" lengthAdjust="spacingAndGlyphs">0</text></g>
<g transform="translate(988.6 232.8)"><text x="0" y="0" font-size="20.61" textLength="24.74" lengthAdjust="spacingAndGlyphs">10</text><text x="24.74" y="-7.08" font-size="14.42" textLength="8.66" lengthAdjust="spacingAndGlyphs">1</text></g>
<g transform="translate(988.6 175.3)"><text x="0" y="0" font-size="20.61" textLength="24.74" lengthAdjust="spacingAndGlyphs">10</text><text x="24.74" y="-7.08" font-size="14.42" textLength="8.66" lengthAdjust="spacingAndGlyphs">2</text></g>
<g transform="translate(988.6 117.8)"><text x="0" y="0" font-size="20.61" textLength="24.74" lengthAdjust="spacingAndGlyphs">10</text><text x="24.74" y="-7.08" font-size="14.42" textLength="8.66" lengthAdjust="spacingAndGlyphs">3</text></g>
<path d="M977 455L982 455M977 437.7L982 437.7M977 427.6L982 427.6M977 420.4L982 420.4M977 414.8L982 414.8M977 410.3L982 410.3M977 406.4L982 406.4M977 403.1L982 403.1M977 400.1L982 400.1M977 397.5L982 397.5M977 380.2L982 380.2M977 370.1L982 370.1M977 362.9L982 362.9M977 357.3L982 357.3M977 352.8L982 352.8M977 348.9L982 348.9M977 345.6L982 345.6M977 342.6L982 342.6M977 340L982 340M977 322.7L982 322.7M977 312.6L982 312.6M977 305.4L982 305.4M977 299.8L982 299.8M977 295.3L982 295.3M977 291.4L982 291.4M977 288.1L982 288.1M977 285.1L982 285.1M977 282.5L982 282.5M977 265.2L982 265.2M977 255.1L982 255.1M977 247.9L982 247.9M977 242.3L982 242.3M977 237.8L982 237.8M977 233.9L982 233.9M977 230.6L982 230.6M977 227.6L982 227.6M977 225L982 225M977 207.7L982 207.7M977 197.6L982 197.6M977 190.4L982 190.4M977 184.8L982 184.8M977 180.3L982 180.3M977 176.4L982 176.4M977 173.1L982 173.1M977 170.1L982 170.1M977 167.5L982 167.5M977 150.2L982 150.2M977 140.1L982 140.1M977 132.9L982 132.9M977 127.3L982 127.3M977 122.8L982 122.8M977 118.9L982 118.9M977 115.6L982 115.6M977 112.6L982 112.6M977 110L982 110" stroke="#000" stroke-width="1.2" fill="none"/>
<rect x="825" y="478" width="89" height="344" fill="#d3d3d3"/>
<text transform="translate(888.2 658.5) rotate(-90)" x="-132.23" y="0" font-size="67.81" textLength="264.47" lengthAdjust="spacingAndGlyphs" fill="#808080" fill-opacity="0.27">Forecast</text>
<path d="M200 629.3L201 629.4L202 629.5L203 629.7L204 630L205 630.4L206 630.8L207 631.3L208 631.7L208.6 632L209 632.2L210 632.8L211 633.6L212 634.4L213 635.4L213.8 636.2L214 636.4L215 638L216 639.9L217 642.1L218 644.2L219 645.9L220 647L220.7 647.3L221 647.3L222 647.2L223 646.9L224 646.6L225 646.3L226 646L227 645.7L228 645.6L228.3 645.6L229 645.7L230 646.1L231 646.7L232 647.4L233 648.1L234 648.6L235 649L235.5 649L236 648.9L237 648.1L238 646.8L239 645.2L240 643.4L241 641.9L241.4 641.4L242 640.7L243 639.4L244 638L245 636.7L246 635.6L247 634.6L248 633.9L248.3 633.8L249 633.5L250 633.3L251 633L252 632.9L253 632.7L254 632.5L255 632.3L256 632.1L257 631.7L258 631.1L259 630.1L260 628.9L261 627.6L262 626.2L263 625L263.9 624.1L264 624L265 623.1L266 622.2L267 621.4L268 620.7L269 620.3L270 620.1L271 619.8L272 619.7L273 619.5L274 619.4L275 619.3L276 619.3L277 619.4L278 619.6L279 620L280 620.5L281 621.1L282 621.8L282.9 622.4L283 622.5L284 623L285 623.6L286 624.6L287 626.4L288 629.3L288.7 775.1L289 775.8L290 777.5L291 778.3L292 778.6L292.2 778.6L293 778.2L294 776.9L295 774.9L296 772.7L297 770L298 766.3L299 762.1L300 757.5L300.8 753.7L301 752.7L302 747L303 740.5L304 734.2L305 729L305.3 727.8L306 725.3L307 722.1L308 719.3L309 717.2L309.5 716.4L310 715.7L311 714.6L312 713.7L313 712.9L314 712.2L315 711.5L316 710.8L317 709.9L317.4 709.5L318 708.8L319 707.5L320 706.1L321 704.6L322 703.1L323 701.9L324 701L324.3 700.8L325 700.4L326 700L327 699.6L328 699.3L329 699L330 698.7L331 698.4L332 698L333 697.4L334 696.5L335 695.1L336 693.4L337 691.6L338 689.9L339 688.3L339.2 688L340 687L341 685.8L342 684.7L343 683.6L344 682.4L345 681.1L346 679.6L346.1 679.4L347 677.6L348 675.1L349 672.2L350 669.3L351 666.4L352 663.9L353 661.5L354 659L355 656.5L356 654.4L357 652.7L357.9 651.8L358 651.7L359 651.1L360 650.5L361 650L362 649.5L363 649.2L364 648.9L365 648.7L365.8 648.7L366 648.7L367 648.9L368 649.4L369 650.1L370 650.9L371 651.8L372 653.1L373 654.9L374 657L375 659.2L376 661.1L376.2 661.5L377 662.9L378 664.9L379 666.7L380 668.3L381 669.4L381.4 669.7L382 670L383 670.3L384 670.6L385 670.8L386 671L387 671.3L388 671.7L388.3 671.8L389 672.3L390 673.5L391 675.1L392 676.9L393 678.7L393.4 679.4L394 680.6L395 683.1L396 685.8L397 688.5L398 690.8L399 692.3L399.7 692.6L400 692.6L401 692.3L402 691.9L403 691.3L404 690.7L405 690.2L406 689.9L406.6 689.8L407 689.8L408 690.3L409 691L410 692L411 693L412 693.9L413 694.7L414 695L414.2 695L415 694.6L416 693.4L417 691.5L418 689.3L419 687.1L419.4 686.3L420 685L421 682.4L422 679.5L423 676.7L424 674.2L425 672.2L425.6 671.5L426 671.2L427 670.4L428 669.9L429 669.5L430 669.1L431 668.6L432 668.1L433 667.5L433.2 667.3L434 666.5L435 665.3L436 663.8L437 662.2L438 660.4L439 658.7L440 657.2L440.1 657L441 655.5L442 653.7L443 651.8L444 650L445 648.5L446 647.3L447 646.6L448 646.3L449 645.9L450 645.7L451 645.4L452 645.2L453 645.1L454 645L455 644.9L455.6 644.9L456 644.9L457 645.2L458 645.7L459 646.4L460 647.3L461 648.3L462 649.3L462.6 650L463 650.5L464 652.4L465 654.9L466 657.7L467 660.5L468 663.1L469 665L469.5 665.6L470 666.1L471 666.8L472 667.4L473 667.9L474 668.4L475 669L476 669.7L476.4 670.1L477 670.8L478 672.2L479 674L480 676L481 678.2L482 680.4L482.3 681.1L483 682.9L484 686.3L485 690L486 693.6L487 696.5L488 698.2L488.5 698.4L489 698.3L490 698L491 697.4L492 696.6L493 695.8L494 695.1L495 694.5L496 694.3L496.1 694.3L497 694.5L498 695.2L499 696.2L500 697.2L501 698.2L502 699.1L503 699.5L503.3 699.5L504 699.2L505 697.9L506 695.9L507 693.5L508 690.9L509 688.5L509.2 688.1L510 686.3L511 683.7L512 680.9L513 678.2L514 675.7L515 673.7L516 672.3L516.3 672L517 671.5L518 671L519 670.6L520 670.2L521 669.9L522 669.6L523 669.1L524 668.5L524.2 668.4L525 667.6L526 666L527 664.1L528 661.9L529 659.6L530 657.4L531 655.6L531.4 655L532 654.1L533 652.6L534 651.1L535 649.8L536 648.6L537 647.8L538 647.4L539 647.3L540 647.1L541 647L542 646.9L543 646.8L544 646.8L545 646.7L546 646.7L546.8 646.7L547 646.7L548 647.5L549 649.6L549.8 652.5L550 656.9L550.9 696.7L551 696.6L552 688.8L552.2 688.3L553 690.1L554 695.9L555 703.5L556 717.6L557 734.3L557.7 739.2L558 737.3L559 715.8L559.6 706L560 703.4L561 698.5L562 695.4L562.2 695L563 693.4L564 691.8L565 690.7L565.7 690.5L566 690.5L567 691L567.4 691.5L567.7 708.1L568 707.6L569 703.7L569.1 703.6L570 704.8L571 708.2L572 712.5L573 716.5L573.3 717.4L574 719.5L575 722.6L576 725.5L577 727.4L577.7 727.8L578 727.8L579 727.8L580 727.8L581 727.8L582 727.8L583 727.8L584 727.8L584.7 727.8L585 727.8L586 728.3L587 729.2L588 730.3L589 731.3L590 732L590.9 732.3L591 732.3L592 731.4L593 729.4L594 726.9L595 724.3L596 721.4L597 717.7L598 713.9L599 710.3L600 707.5L600.2 707.1L601 705.5L602 703.6L603 701.9L604 700.6L605 699.7L605.4 699.5L606 699.3L607 699.1L608 698.9L609 698.8L610 698.6L610.6 698.4L611 698.2L612 697.6L613 696.7L614 695.5L615 694.3L615.8 693.2L616 692.9L617 691.2L618 689L619 686.7L620 684.6L620.9 682.9L621 682.7L622 681.1L623 679.6L624 678.2L625 677L626 676.1L626.1 676L627 675.4L628 674.7L629 674.1L630 673.6L631 673.2L632 672.8L633 672.5L634 672.2L635 672L636 671.9L637 671.7L638 671.6L639 671.4L640 671.1L641 670.8L642 670.1L643 668.9L644 667.3L645 665.5L646 663.6L646.9 662.1L647 661.9L648 660.3L649 658.6L650 656.8L651 655L652 653.2L653 651.4L653.8 650L654 649.6L655 647.6L656 645.3L657 643L658 641L659 639.3L660 638.2L660.7 638L661 638L662 638.4L663 639L664 639.7L665 640.2L665.9 640.4L666 640.4L667 640L668 639.1L669 637.8L670 636.3L671 634.9L672 633.6L672.8 632.8L673 632.6L674 631.9L675 631.2L676 630.6L677 630L678 629.4L679 628.9L680 628.4L681 627.8L681.4 627.6L682 627.3L683 626.7L684 626.2L685 625.6L686 625.1L687 624.5L688 624L689 623.6L690 623.1L691 622.7L691.8 622.4L692 622.3L693 622L694 621.7L695 621.4L696 621.2L697 620.9L698 620.7L699 620.4L700 620.2L701 619.9L702 619.6L702.1 619.6L703 619.3L704 619L705 618.6L706 618.3L707 617.9L708 617.5L709 617.2L710 616.9L711 616.6L712 616.3L712.5 616.2L713 616.1L714 615.9L715 615.7L716 615.5L717 615.3L718 615.1L719 614.9L720 614.7L721 614.6L722 614.4L723 614.3L724 614.2L725 614.1L726 614L727 613.9L728 613.8L728.1 613.8L729 613.8L730 613.7L731 613.7L732 613.6L733 613.6L734 613.6L735 613.6L736 613.5L737 613.5L738 613.4L738.4 613.4L739 613.3L740 613.2L741 612.9L742 612.6L743 612.3L744 612L745 611.7L746 611.4L747 611.2L748 611L748.8 611L749 611L750 611.1L751 611.5L752 611.9L753 612.4L754 612.8L755 613.3L756 613.6L757 613.8L757.4 613.8L758 613.8L759 613.6L760 613.4L761 613.3L762 613.1L762.6 613.1L763 613.1L764 613.2L765 613.4L766 613.6L767 613.8L768 614.1L769 614.3L770 614.4L771 614.5L771.2 614.5L772 614.4L773 614L774 613.3L775 612.5L776 611.6L777 610.7L778 609.8L779 609.1L779.9 608.6L780 608.6L781 608.1L782 607.7L783 607.4L784 607.1L785 606.9L785.1 606.9L786 606.8L787 606.8L788 606.7L789 606.7L790 606.6L791 606.6L792 606.5L793 606.2L794 605.8L795 605.1L796 604.4L797 603.6L798 602.9L798.9 602.4L799 602.4L800 601.8L801 601.3L802 600.9L803 600.5L804 600.3L804.1 600.3L805 600.2L806 600.2L807 600.1L808 600.1L809 600.1L810 600L811 600L812 600L812.7 600L813 600L814 600.1L815 600.2L816 600.5L817 600.7L817.9 601L818 601L819 601.7L820 602.7L821 604L822 605.4L823 606.6L824 607.5L824.8 607.9L825 607.9L826 608.2L827 608.3L828 608.5L829 608.6L830 608.6L831 608.6L832 608.6L833 608.6L834 608.6L835 608.6L836 608.6L836.9 608.6L837 608.6L838 608.8L839 609.3L840 609.9L841 610.7L842 611.5L843 612.2L844 612.7L845 613.1L845.5 613.1L846 613.1L847 612.9L848 612.6L849 612.2L850 611.9L851 611.6L852 611.4L852.5 611.4L853 611.4L854 611.4L855 611.5L856 611.6L857 611.7L858 611.8L859 611.9L860 612L861 612L861.1 612L862 611.8L863 611.3L864 610.6L865 609.7L866 608.7L867 607.7L868 606.8L869 606.1L869.7 605.8L870 605.7L871 605.4L872 605.1L873 604.9L874 604.7L875 604.5L876 604.3L877 604.1L878 603.9L879 603.7L880 603.4L880.1 603.4L881 603.1L882 602.7L883 602.2L884 601.7L885 601.2L886 600.7L887 600.2L888 599.7L889 599.3L890 599L890.5 598.9L891 598.8L892 598.6L893 598.4L894 598.2L895 598L896 597.9L897 597.7L898 597.6L899 597.6L900 597.5L900.8 597.5L901 597.5L902 597.5L903 597.6L904 597.7L905 597.8L906 597.9L907 598.1L907.7 598.2L908 598.3L909 598.5L910 598.8L911 599.2L912 599.6L913 600L913.6 600.3" stroke="#ff0000" stroke-width="2.1" stroke-linejoin="round" fill="none"/>
<path d="M825 822V478" stroke="#1f77b4" stroke-width="2" stroke-dasharray="2.083 3.4375" fill="none"/>
<path d="M201 822L206 822M201 764.7L206 764.7M201 707.3L206 707.3M201 650L206 650M201 592.7L206 592.7M201 535.3L206 535.3M201 478L206 478M913 822L908 822M913 764.7L908 764.7M913 707.3L908 707.3M913 650L908 650M913 592.7L908 592.7M913 535.3L908 535.3M913 478L908 478M248.3 821L248.3 816M337.5 821L337.5 816M426.8 821L426.8 816M516 821L516 816M605.3 821L605.3 816M694.5 821L694.5 816M783.8 821L783.8 816M873 821L873 816" stroke="#000" stroke-width="1.2" fill="none"/>
<g stroke-width="2" fill="none"><path d="M199 478H915" stroke="#000"/><path d="M199 822H915" stroke="#000"/><path d="M200 477V823" stroke="#000"/><path d="M914 477V823" stroke="#000"/></g>
<g transform="translate(194.7 829.8)"><text x="-44.8" y="0" font-size="20.61" textLength="24.74" lengthAdjust="spacingAndGlyphs">10</text><text x="-20.06" y="-7.08" font-size="14.42" textLength="20.06" lengthAdjust="spacingAndGlyphs">−3</text></g>
<g transform="translate(194.7 772.47)"><text x="-44.8" y="0" font-size="20.61" textLength="24.74" lengthAdjust="spacingAndGlyphs">10</text><text x="-20.06" y="-7.08" font-size="14.42" textLength="20.06" lengthAdjust="spacingAndGlyphs">−2</text></g>
<g transform="translate(194.7 715.13)"><text x="-44.8" y="0" font-size="20.61" textLength="24.74" lengthAdjust="spacingAndGlyphs">10</text><text x="-20.06" y="-7.08" font-size="14.42" textLength="20.06" lengthAdjust="spacingAndGlyphs">−1</text></g>
<g transform="translate(194.7 657.8)"><text x="-33.39" y="0" font-size="20.61" textLength="24.74" lengthAdjust="spacingAndGlyphs">10</text><text x="-8.66" y="-7.08" font-size="14.42" textLength="8.66" lengthAdjust="spacingAndGlyphs">0</text></g>
<g transform="translate(194.7 600.47)"><text x="-33.39" y="0" font-size="20.61" textLength="24.74" lengthAdjust="spacingAndGlyphs">10</text><text x="-8.66" y="-7.08" font-size="14.42" textLength="8.66" lengthAdjust="spacingAndGlyphs">1</text></g>
<g transform="translate(194.7 543.13)"><text x="-33.39" y="0" font-size="20.61" textLength="24.74" lengthAdjust="spacingAndGlyphs">10</text><text x="-8.66" y="-7.08" font-size="14.42" textLength="8.66" lengthAdjust="spacingAndGlyphs">2</text></g>
<g transform="translate(194.7 485.8)"><text x="-33.39" y="0" font-size="20.61" textLength="24.74" lengthAdjust="spacingAndGlyphs">10</text><text x="-8.66" y="-7.08" font-size="14.42" textLength="8.66" lengthAdjust="spacingAndGlyphs">3</text></g>
<text y="511.6" font-size="25.2"><tspan x="236.6" textLength="169.42" lengthAdjust="spacingAndGlyphs">Geostationary</tspan> <tspan x="413.65" textLength="63.95" lengthAdjust="spacingAndGlyphs">orbit:</tspan></text>
<text x="500.2" y="511.6" font-size="25.2" textLength="72.06" lengthAdjust="spacingAndGlyphs" fill="#ff0000">Model</text>
<text transform="translate(101.3 650) rotate(-90)" y="0" font-size="25.2"><tspan x="-130.64" textLength="38.17" lengthAdjust="spacingAndGlyphs">2.0</tspan> <tspan x="-84.84" textLength="51.89" lengthAdjust="spacingAndGlyphs">MeV</tspan> <tspan x="-25.32" textLength="98.44" lengthAdjust="spacingAndGlyphs">Electron</tspan> <tspan x="80.75" textLength="49.89" lengthAdjust="spacingAndGlyphs">Flux</tspan></text>
<g transform="translate(134 650) rotate(-90)"><text x="-133.21" y="0" font-size="25.2" textLength="9.36" lengthAdjust="spacingAndGlyphs">(</text><text x="-116.22" y="0" font-size="25.2" textLength="36.57" lengthAdjust="spacingAndGlyphs">cm</text><text x="-79.64" y="-8.74" font-size="17.81" textLength="24.77" lengthAdjust="spacingAndGlyphs">−2</text><text x="-49.48" y="0" font-size="25.2" textLength="12.5" lengthAdjust="spacingAndGlyphs">s</text><text x="-36.98" y="-8.74" font-size="17.81" textLength="24.77" lengthAdjust="spacingAndGlyphs">−1</text><text x="-6.81" y="0" font-size="25.2" textLength="22.37" lengthAdjust="spacingAndGlyphs">sr</text><text x="15.56" y="-8.74" font-size="17.81" textLength="24.77" lengthAdjust="spacingAndGlyphs">−1</text><text x="45.73" y="0" font-size="25.2" textLength="45.73" lengthAdjust="spacingAndGlyphs">KeV</text><text x="91.45" y="-8.74" font-size="17.81" textLength="24.77" lengthAdjust="spacingAndGlyphs">−1</text><text x="123.85" y="0" font-size="25.2" textLength="9.36" lengthAdjust="spacingAndGlyphs">)</text></g>
<text transform="translate(874.8 936) rotate(-90)" x="-64.74" y="0" font-size="33.2" textLength="129.48" lengthAdjust="spacingAndGlyphs" fill="#808080" fill-opacity="0.27">Forecast</text>
<g fill="#008000"><rect x="200" y="1004.2" width="7.7" height="12.8"/><rect x="232.2" y="1004.2" width="8.9" height="12.8"/><rect x="243.4" y="1004.2" width="8.9" height="12.8"/><rect x="265.7" y="1004.2" width="8.9" height="12.8"/><rect x="276.8" y="991.6" width="8.9" height="25.4"/><rect x="288" y="997.9" width="8.9" height="19.1"/><rect x="299.2" y="985.1" width="8.9" height="31.9"/><rect x="332.6" y="997.9" width="8.9" height="19.1"/><rect x="343.8" y="1004.2" width="8.9" height="12.8"/><rect x="354.9" y="991.6" width="8.9" height="25.4"/><rect x="366.1" y="1004.2" width="8.9" height="12.8"/><rect x="377.2" y="1010.7" width="8.9" height="6.3"/><rect x="388.4" y="1010.7" width="8.9" height="6.3"/><rect x="399.6" y="1010.7" width="8.9" height="6.3"/><rect x="410.7" y="1004.2" width="8.9" height="12.8"/><rect x="421.9" y="991.6" width="8.9" height="25.4"/><rect x="433" y="1004.2" width="8.9" height="12.8"/><rect x="444.2" y="1010.7" width="8.9" height="6.3"/><rect x="466.5" y="991.6" width="8.9" height="25.4"/><rect x="477.7" y="991.6" width="8.9" height="25.4"/><rect x="488.8" y="1010.7" width="8.9" height="6.3"/><rect x="500" y="1010.7" width="8.9" height="6.3"/><rect x="522.3" y="1010.7" width="8.9" height="6.3"/><rect x="533.4" y="1004.2" width="8.9" height="12.8"/><rect x="544.6" y="972.5" width="8.9" height="44.5"/><rect x="645" y="966" width="8.9" height="51"/><rect x="667.3" y="966" width="8.9" height="51"/><rect x="678.5" y="978.8" width="8.9" height="38.2"/><rect x="689.6" y="972.5" width="8.9" height="44.5"/><rect x="700.8" y="985.1" width="8.9" height="31.9"/><rect x="711.9" y="985.1" width="8.9" height="31.9"/><rect x="723.1" y="978.8" width="8.9" height="38.2"/><rect x="734.2" y="985.1" width="8.9" height="31.9"/><rect x="756.6" y="966" width="8.9" height="51"/><rect x="767.7" y="972.5" width="8.9" height="44.5"/><rect x="778.9" y="978.8" width="8.9" height="38.2"/><rect x="801.2" y="978.8" width="8.9" height="38.2"/><rect x="812.3" y="997.9" width="8.9" height="19.1"/><rect x="823.5" y="978.8" width="8.9" height="38.2"/><rect x="834.6" y="978.8" width="8.9" height="38.2"/><rect x="845.8" y="978.8" width="8.9" height="38.2"/><rect x="857" y="997.9" width="8.9" height="19.1"/><rect x="868.1" y="997.9" width="8.9" height="19.1"/><rect x="879.3" y="997.9" width="8.9" height="19.1"/><rect x="890.4" y="978.8" width="8.9" height="38.2"/><rect x="901.6" y="978.8" width="8.9" height="38.2"/></g><g fill="#bfbf00"><rect x="555.7" y="940.6" width="8.9" height="76.4"/><rect x="566.9" y="940.6" width="8.9" height="76.4"/><rect x="578.1" y="934.2" width="8.9" height="82.8"/><rect x="589.2" y="959.7" width="8.9" height="57.3"/><rect x="600.4" y="946.9" width="8.9" height="70.1"/><rect x="611.5" y="959.7" width="8.9" height="57.3"/><rect x="622.7" y="953.4" width="8.9" height="63.6"/><rect x="633.8" y="959.7" width="8.9" height="57.3"/><rect x="656.1" y="959.7" width="8.9" height="57.3"/><rect x="745.4" y="959.7" width="8.9" height="57.3"/><rect x="790" y="959.7" width="8.9" height="57.3"/></g>
<path d="M825 1017V845" stroke="#1f77b4" stroke-width="2" stroke-dasharray="2.083 3.4375" fill="none"/>
<path d="M201 978.8L206 978.8M913 978.8L908 978.8M201 940.6L206 940.6M913 940.6L908 940.6M201 902.3L206 902.3M913 902.3L908 902.3M201 864.1L206 864.1M913 864.1L908 864.1M248.3 1016L248.3 1011M337.5 1016L337.5 1011M426.8 1016L426.8 1011M516 1016L516 1011M605.3 1016L605.3 1011M694.5 1016L694.5 1011M783.8 1016L783.8 1011M873 1016L873 1011" stroke="#000" stroke-width="1.2" fill="none"/>
<g stroke-width="2" fill="none"><path d="M199 845H915" stroke="#000"/><path d="M199 1017H915" stroke="#000"/><path d="M200 844V1018" stroke="#000"/><path d="M914 844V1018" stroke="#000"/></g>
<text x="182.33" y="1024.7" font-size="20.61" textLength="12.37" lengthAdjust="spacingAndGlyphs">0</text>
<text x="182.33" y="986.48" font-size="20.61" textLength="12.37" lengthAdjust="spacingAndGlyphs">2</text>
<text x="182.33" y="948.26" font-size="20.61" textLength="12.37" lengthAdjust="spacingAndGlyphs">4</text>
<text x="182.33" y="910.03" font-size="20.61" textLength="12.37" lengthAdjust="spacingAndGlyphs">6</text>
<text x="182.33" y="871.81" font-size="20.61" textLength="12.37" lengthAdjust="spacingAndGlyphs">8</text>
<text x="235.92" y="1036.6" font-size="20.61" textLength="24.74" lengthAdjust="spacingAndGlyphs">24</text>
<text x="325.17" y="1036.6" font-size="20.61" textLength="24.74" lengthAdjust="spacingAndGlyphs">25</text>
<text x="414.42" y="1036.6" font-size="20.61" textLength="24.74" lengthAdjust="spacingAndGlyphs">26</text>
<text x="503.67" y="1036.6" font-size="20.61" textLength="24.74" lengthAdjust="spacingAndGlyphs">27</text>
<text x="592.92" y="1036.6" font-size="20.61" textLength="24.74" lengthAdjust="spacingAndGlyphs">28</text>
<text x="682.17" y="1036.6" font-size="20.61" textLength="24.74" lengthAdjust="spacingAndGlyphs">29</text>
<text x="771.42" y="1036.6" font-size="20.61" textLength="24.74" lengthAdjust="spacingAndGlyphs">30</text>
<text x="860.67" y="1036.6" font-size="20.61" textLength="24.74" lengthAdjust="spacingAndGlyphs">31</text>
<text y="1065.5" font-size="25.2"><tspan x="431.13" textLength="124.45" lengthAdjust="spacingAndGlyphs">December</tspan> <tspan x="563.21" textLength="61.08" lengthAdjust="spacingAndGlyphs">2018</tspan> <tspan x="631.92" textLength="50.95" lengthAdjust="spacingAndGlyphs">(UT)</tspan></text>
<text transform="translate(171.8 933) rotate(-90)" x="-15.49" y="0" font-size="25.2" textLength="30.97" lengthAdjust="spacingAndGlyphs">Kp</text>
<rect x="207.5" y="852.5" width="88" height="66.8" rx="2.5" fill="#fff" fill-opacity="0.8" stroke="#ccc" stroke-width="1.2"/>
<rect x="212.9" y="858.8" width="28.1" height="11" fill="#008000"/>
<text x="251.6" y="869.2" font-size="14.58" textLength="38.4" lengthAdjust="spacingAndGlyphs">Kp&lt;3</text>
<rect x="212.9" y="879.8" width="28.1" height="11" fill="#bfbf00"/>
<text x="251.6" y="890.2" font-size="14.58" textLength="38.4" lengthAdjust="spacingAndGlyphs">Kp&lt;5</text>
<rect x="212.9" y="900.8" width="28.1" height="11" fill="#ff0000"/>
<text x="251.6" y="911.2" font-size="14.58" textLength="38.4" lengthAdjust="spacingAndGlyphs">Kp&gt;5</text>
<path d="M1205 282H1799" stroke="#000" stroke-width="2" stroke-dasharray="2.083 3.4375" fill="none"/>
<path d="M1205 276.7l.2-6.2 .2 11.9 .2-26.8 .2 6.8 .2 16.6 .2-13.4 .2 7.2 .2 20.4 .2-5.6 .2 .9 .2-7.2 .2 14 .2-13.6 .2-.7 .2-17.2 .2 16.7 .2 2.4 .2 13.9 .2-2.8 .2-18.3 .2 6.2 .2 8.4 .2-16.2 .2 11.9 .2-15.7 .2-7.8 .2-2.1 .2 15.2 .2-14.8 .2 13.3 .2-12.9 .2 8.6 .2 3.3 .2-11.3 .2 11.1 .2 11.2 .2 4.3 .2-14 .2-11.6 .2 .2 .2 .2 .2 25.7 .2 3.9 .2 10 .2-20 .2 4.3 .2-8.6 .2 23.4 .2-13.2 .2 6 .2-17.7 .2 21.3 .2-10.2 .2-10.7 .2 16.3 .2-8.9 .2 4.7 .2 8 .2 2.8 .2-16 .2 5.4 .2 6.2 .2-12.4 .2-4.4 .2-8.1 .2 16.3 .2-9.9 .2-13.4 .2 .5 .2 2.6 .2-3.1 .2 4.8 .2 10.9 .2-6.7 .2-6.6 .2 10.6 .2-5.9 .2-4.4 .2 6.2 .2 6.6 .2 2.7 .2-.8 .2 5.8 .2-1.1 .2-1.2 .2-9 .2-8.5 .2 8.9 .2 5.3 .2-3.7 .2-5.4 .2-.7 .2 13 .2-5.3 .2-13.9 .2 7.2 .2 .4 .2-12.1 .2 2.6 .2-2.8 .2 14 .2 2.1 .2-7.6 .2-2.4 .2 1 .2 6.4 .2-7.1 .2 3.3 .2-10.9 .2 11.5 .2-5 .2-6.5 .2 1.2 .2 2.2 .2 .3 .2-4.2 .2 6.7 .2 4.4 .2-5.7 .2-2.9 .2-1.6 .2 .1 .2 12.8 .2-2.1 .2-10.1 .2 .1 .2 9.4 .2-9 .2 10.6 .2-7.9 .2-2.2 .2 5.7 .2 5.3 .2-6.2 .2 8.2 .2 2 .2-5.9 .2 1.7 .2-.4 .2 14.3 .2-1.9 .2-15 .2 10.3 .2 .3 .2-13.9 .2 14.6 .2-14.7 .2 .9 .2 11.4 .2-9.1 .2 11.8 .2-.5 .2 7.1 .2 .1 .2 .1 .2-.9 .2-6.8 .2 6.5 .2-8.1 .2 8.4 .2 3.2 .2 1.7 .2-5.5 .2 14.2 .2-8.5 .2-3.7 .2 8.7 .2-20.6 .2-3.8 .2 5.4 .2 7.6 .2 13.9 .2-1.7 .2-2.4 .2-4.9 .2-11.7 .2 3.5 .2-19.5 .2 12.5 .2-3.9 .2 1.8 .2 2 .2-9.3 .2-13.4 .2 23.7 .2-12.2 .2 10.8 .2-19.3 .2 4 .2 8.3 .2-3 .2 6.7 .2 11.1 .2-7.6 .2-30 .2-.1 .2 26.3 .2 2.5 .2-23.3 .2 28.4 .2 6.2 .2 1 .2 18.2 .2-15.2 .2-9 .2 14.6 .2 11 .2 .9 .2-24.8 .2-8 .2 8.4 .2-22.9 .2 26.3 .2 19.1 .2-29.3 .2 23.3 .2-.6 .2-29 .2 17.9 .2-3.2 .2-40.5 .2 1.1 .2 2.5 .2 31.2 .2-15.2 .2 3.5 .2 9 .2-10.4 .2-.4 .2-12.9 .2 15.3 .2-2.1 .2-2 .2-9.6 .2 19.4 .2-2.6 .2-.7 .2-11.4 .2 2.6 .2 8.9 .2 4.3 .2-24.7 .2 23 .2-14.1 .2 19.2 .2-4.8 .2-5.6 .2-6.9 .2 .2 .2 9.4 .2-5.8 .2-.6 .2-9.3 .2 12.6 .2-11 .2-.2 .2 4.6 .2-3.6 .2 .5 .2 .5 .2 .6 .2 .9 .2 3.4 .2 10 .2-8.4 .2 12.3 .2-2.1 .2-9.2 .2 6.5 .2 .5 .2-8.5 .2 6.7 .2-2.8 .2 5.5 .2-8.7 .2 1.4 .2 5.5 .2 1.5 .2-.6 .2-5.8 .2 1.2 .2 7.5 .2-6.9 .2 3.3 .2-3.1 .2 .4 .2 3.6 .2 5.3 .2 2.4 .2-5.2 .2 10.4 .2-9.5 .2 12.1 .2-10.7 .2 6 .2 5.9 .2 3.7 .2-4.7 .2 .8 .2 4.7 .2-6.8 .2 3.9 .2-.6 .2-4.2 .2 8.9 .2-3.2 .2-4.1 .2 12.4 .2 1 .2-5 .2 6.2 .2 .9 .2 .6 .2 .7 .2 .7 .2-1.4 .2-18.6 .2 0 .2 11.9 .2-5 .2 13.4 .2 3.5 .2 1.4 .2 .6 .2 .6 .2-12.7 .2 9 .2 2.7 .2 3.4 .2-8.3 .2-6.6 .2 2.2 .2-2.2 .2 3.9 .2-.9 .2 4.2 .2-9.3 .2 7.9 .2 2.1 .2-6.8 .2 4.9 .2-4.5 .2 4.1 .2-3.9 .2 8.3 .2 2.3 .2-7.4 .2 .2 .2 .7 .2 5 .2-1.4 .2-2.4 .2-5.7 .2-2.2 .2 2.7 .2 3.4 .2 3.2 .2-7.4 .2 1.8 .2 9.3 .2 2.4 .2-3.5 .2 3.8 .2 .2 .2 .2 .2-1.3 .2-1.2 .2 3 .2-4.6 .2 1.5 .2-9.1 .2-.1 .2-.5 .2 6.3 .2-10.7 .2 3.3 .2 4.9 .2 1.5 .2-3.7 .2-.7 .2-3.3 .2 .9 .2 3.7 .2 1.9 .2 2.1 .2-9.9 .2 3 .2 1.3 .2 2.1 .2-1.9 .2-1.1 .2-5.2 .2-.3 .2 5.1 .2 2.1 .2-6.6 .2 4 .2 11.3 .2-5 .2-1 .2-10.3 .2 2.8 .2 4.6 .2 10.7 .2-11.5 .2-1.2 .2 10.5 .2-12.9 .2-9.9 .2 .9 .2-7.6 .2 19.9 .2-9 .2 15.8 .2-.3 .2-9.4 .2 4.1 .2-17.3 .2 10.2 .2-10.6 .2 14.7 .2 2.2 .2-4.1 .2-12.9 .2 1 .2-15.9 .2 24.6 .2-16.7 .2 9.7 .2 5.7 .2-1 .2-1.1 .2-14.6 .2-7.4 .2 .3 .2 11.5 .2 1.9 .2 .2 .2-6.7 .2 10.8 .2-5.6 .2 9.3 .2-3.3 .2-7.9 .2 8.2 .2-8.4 .2-12.7 .2 1.7 .2-10.4 .2 18.5 .2 5.1 .2 4 .2-6.6 .2-9.5 .2 5.6 .2-11.9 .2 15 .2-10.5 .2 20.2 .2-13.5 .2 5.4 .2-.8 .2-13.8 .2 3 .2 12.2 .2-13.1 .2 20.8 .2-9.3 .2 10.5 .2-26.1 .2 15.5 .2 9.1 .2-7.3 .2-20 .2 13.3 .2-16.7 .2-2 .2 13.7 .2 2 .2-17.2 .2-6.4 .2 9.1 .2 9.6 .2-7.3 .2-2.5 .2 6.5 .2-15.2 .2 3.5 .2-7.3 .2 9.5 .2-9.6 .2-.1 .2 5.9 .2 1.5 .2 .7 .2-8.3 .2 19.2 .2 .2 .2-19.6 .2-.1 .2 2.9 .2 12.7 .2-13.3 .2 27.3 .2-21.8 .2 5.6 .2-13.9 .2 8.7 .2-2.3 .2 19.7 .2-12.3 .2 1.6 .2-4.1 .2 21.3 .2-3.3 .2-27.8 .2 18.3 .2-11.3 .2 10.2 .2-5.2 .2 12.4 .2-.6 .2 .5 .2 33.9 .2-14 .2-.7 .2-12 .2 .5 .2-25.1 .2 4.2 .2 2.5 .2 22.4 .2 3.2 .2-18 .2 5.7 .2 11.4 .2-19.5 .2-7.9 .2 14.3 .2-6 .2 13.9 .2-26.9 .2 22.3 .2-10.3 .2 .3 .2-12.4 .2 11.8 .2 7.4 .2-5.2 .2-3.3 .2-6.6 .2 .8 .2 6.2 .2-12.7 .2-1 .2 .3 .2 9.4 .2-6.4 .2 19 .2 3.4 .2-11 .2-15.5 .2 26.1 .2-13.2 .2-6.2 .2 26.8 .2-12.7 .2 29.1 .2-9.2 .2-11.8 .2-2.5 .2 13.1 .2-5.4 .2 7.2 .2 29.4 .2 5 .2-9.8 .2-27.4 .2 15.6 .2-15 .2-2.1 .2-11.6 .2 7.7 .2 39.9 .2-23.7 .2-12.2 .2 13.1 .2-6.5 .2-15.8 .2 19.1 .2-24.7 .2 11.6 .2 15.2 .2-8.4 .2-.8 .2 16 .2-9.9 .2 17 .2-17.3 .2 4.4 .2 3.7 .2-21.3 .2 5.6 .2-4.1 .2 4.3 .2 .7 .2-11.3 .2-4.3 .2 7.8 .2 1.3 .2 12.4 .2-21.5 .2-10.3 .2 1.2 .2-4.2 .2-3.8 .2-1 .2 12.1 .2 29 .2-34 .2 26.7 .2-10.3 .2 16.3 .2-40.4 .2 19.1 .2 13.4 .2-7.2 .2 1 .2-22 .2-1.2 .2 32.7 .2 22.6 .2 6.2 .2-15.5 .2 21.3 .2-35.4 .2-3.5 .2 1 .2-15 .2 1.5 .2 32.9 .2-22.3 .2 15.5 .2-8.3 .2 21.2 .2-13.3 .2-18.9 .2-9.8 .2-5 .2-1.4 .2 7 .2 21.2 .2-27.9 .2 3.2 .2 18.4 .2 1.5 .2 13.2 .2 8.1 .2-20.7 .2-17.5 .2 17.8 .2-.8 .2 1.3 .2 7 .2-1.5 .2-6.7 .2 15.9 .2-7.4 .2 8.8 .2 4.3 .2-7.3 .2-15.1 .2 11.6 .2-14.1 .2 10.4 .2 1.7 .2 9.6 .2 1.2 .2-3.9 .2-22.5 .2 11.4 .2 .3 .2 4.3 .2 4.9 .2-17.5 .2 3.5 .2 1.6 .2 7.2 .2-2.3 .2-9.5 .2 7.7 .2 5.2 .2-1.4 .2-11.4 .2 13.9 .2-5.8 .2 3 .2-7.8 .2-9.5 .2-1.2 .2 7.6 .2-4.9 .2 14.2 .2-.1 .2 2.7 .2-5.7 .2 9.8 .2-3.4 .2 6.6 .2-4.2 .2 3.8 .2-5.6 .2 3.8 .2 1.2 .2-.2 .2-7.4 .2-5.7 .2 8.9 .2-14.5 .2-7.2 .2 16.1 .2-9.2 .2-2.8 .2-1 .2 2.4 .2 13.2 .2-10.9 .2 6.2 .2 2 .2-6.6 .2 10.1 .2-9.5 .2 5.5 .2-15.2 .2 17.6 .2-9 .2-1.8 .2-11.1 .2-1.4 .2-4.8 .2 2.3 .2-12.2 .2 .8 .2 20.5 .2-8.6 .2 21.6 .2-1.3 .2 8.5 .2-29.7 .2 12.1 .2 2.7 .2 1.6 .2-31.2 .2 31.1 .2-5.2 .2 13.3 .2-21.2 .2 37.7 .2-8.2 .2-11.7 .2-2.4 .2 23.7 .2-30.3 .2 13.6 .2 6.1 .2-32 .2 2.5 .2 11.5 .2 22.2 .2-.7 .2-14.5 .2-1.8 .2 19.9 .2-.9 .2 5.3 .2 .2 .2-7.6 .2-13.5 .2 6 .2-15 .2 17 .2 6.2 .2-20.4 .2-11.1 .2-2.1 .2 21 .2-13.7 .2 9.5 .2 .8 .2 6.9 .2-3.8 .2-4 .2 6.4 .2 15.2 .2-17.7 .2-13.4 .2 36.4 .2-8.4 .2 7.6 .2-17.9 .2-5.3 .2 22.1 .2-5.4 .2-2 .2 6.3 .2-6.7 .2-15.1 .2 20.7 .2-18.3 .2-25.9 .2 7.5 .2 10.3 .2-12.2 .2 11.1 .2-1.3 .2-6.1 .2 20.8 .2-15.4 .2 19.2 .2-30.3 .2 24.9 .2-27.8 .2 1.6 .2 18.9 .2-19.6 .2 26.1 .2 3.7 .2 4.7 .2 1.9 .2-10.2 .2 6.9 .2-9.9 .2-1.3 .2 17.7 .2-24.9 .2 25.7 .2-12.5 .2-15.1 .2-.5 .2 6.1 .2-6 .2 8.2 .2 22.3 .2-19.1 .2 19.6 .2-1.2 .2-21.2 .2 15.4 .2-10 .2-18.2 .2 18.5 .2-13.8 .2 11.6 .2 3.6 .2 2.5 .2 4 .2-8.8 .2 10.3 .2 .2 .2-10.5 .2 1 .2 4 .2-20.7 .2-3.4 .2 7.5 .2 12.6 .2-9 .2 18.2 .2-15.2 .2 12.4 .2-4.9 .2-4.3 .2 4.4 .2-10.6 .2-1.8 .2-1.7 .2 1.9 .2 7 .2-14.8 .2 .5 .2 7.8 .2 .8 .2-6.8 .2 15.7 .2-7.9 .2 13.6 .2-8.8 .2 12.9 .2-.9 .2 1.6 .2-7.1 .2 7.7 .2-1.5 .2 2 .2-10.9 .2 2.9 .2-13.1 .2 .3 .2 .3 .2 .2 .2 3 .2 8.8 .2-1.1 .2 6.4 .2-14.3 .2 11.8 .2-3.7 .2 2.8 .2-8 .2 4.1 .2 10.6 .2 7.1 .2-3.3 .2 2.2 .2 2.3 .2-7.2 .2 8 .2-7.7 .2 3.8 .2 .1 .2 5.4 .2 .4 .2-4.4 .2-7.2 .2 1.2 .2-1.7 .2 12.9 .2-3.7 .2-10.2 .2-4 .2 15 .2-6.4 .2-22.1 .2 8.2 .2 5.5 .2-6.8 .2 5.5 .2-16 .2 7.6 .2-9 .2 15.5 .2-10.1 .2 8.9 .2-5.3 .2 6.5 .2 3.3 .2 4.1 .2-13.8 .2 12.4 .2-14.7 .2-10.2 .2 4.7 .2 2.5 .2 3.9 .2-5.4 .2-10.4 .2-.8 .2 16.7 .2-9.6 .2 26.3 .2-7.8 .2 5.8 .2 9.7 .2-.2 .2-9.9 .2-15.5 .2 10.5 .2 14.1 .2-.2 .2-.2 .2-20.1 .2 .9 .2 18.6 .2-13.6 .2 6.1 .2-13.6 .2-8.9 .2 10.3 .2-6.8 .2-7.8 .2 19.6 .2 9.5 .2 .7 .2-10.2 .2 12.3 .2-9.5 .2-11.8 .2-13.8 .2 19.6 .2-5.4 .2 8.4 .2 3.9 .2-5.8 .2-15 .2 5.3 .2 6.7 .2-7.7 .2 2.7 .2-10.8 .2 1.7 .2 2.9 .2 7 .2-13 .2 20.3 .2-16.3 .2 19 .2-8 .2-1.1 .2-9.7 .2 9.4 .2 3.2 .2-2.7 .2-16.1 .2 14.2 .2-6.2 .2-6.2 .2 8.4 .2 3.3 .2 3.3 .2-8.6 .2-17.8 .2-1.1 .2 .4 .2 18.4 .2-7.8 .2 8.5 .2-3.6 .2-.9 .2 6.5 .2-.9 .2-1.6 .2-1 .2-9 .2 9 .2-.7 .2-4.3 .2-4.5 .2-.1 .2-1.2 .2 1 .2 4.9 .2-8.4 .2 2.1 .2-5.3 .2 1.7 .2 6.5 .2-4.9 .2-.6 .2-3.1 .2 3.1 .2 7.3 .2 .2 .2-4.6 .2 2.9 .2 1.4 .2 .5 .2 .8 .2-9.3 .2 9.7 .2-9.2 .2 5.6 .2 4.2 .2-3.9 .2 1.6 .2-3.9 .2-6.5 .2 3 .2 4.4 .2-9.5 .2 3 .2 5.1 .2-4.9 .2 1.5 .2 4.7 .2 4 .2-.9 .2 4.5 .2-7.8 .2 10.3 .2-3.4 .2-5.7 .2 10.6 .2-6.9 .2-.6 .2 3.7 .2-7.3 .2 1.9 .2 .3 .2 4.1 .2-10.8 .2 5.8 .2 10.7 .2-.4 .2 .2 .2 6 .2 .5 .2-12.8 .2 2.9 .2 1.4 .2-7.8 .2 8.8 .2 7.7 .2-6.7 .2 10.6 .2-11.6 .2 12.6 .2-8.8 .2 5.1 .2-10.2 .2 5.9 .2 6.1 .2 .3 .2-14.7 .2 9.3 .2-3.1 .2 4.6 .2 3 .2-17.4 .2 14.1 .2-10 .2 8.5 .2 8.5 .2-19.8 .2-1 .2 18.2 .2-5.4 .2-2 .2 8.8 .2-5.5 .2 12 .2 4 .2-22.6 .2 4.2 .2 7.5 .2 2.3 .2 13.5 .2 0 .2-2.5 .2-7 .2 13.7 .2-15.4 .2 9.3 .2-13.4 .2-.6 .2-10 .2 16.2 .2 .6 .2 9 .2-8.8 .2-12.8 .2 12.5 .2 1 .2-4.8 .2-9.5 .2-4.2 .2 7.9 .2-11.6 .2-2.6 .2-11.6 .2 23.5 .2-21.1 .2 22.7 .2-13.4 .2 5.7 .2-9.3 .2 5.5 .2-2.8 .2 17 .2-12.3 .2 5.6 .2 4.2 .2-3.3 .2 1.4 .2 .3 .2 4 .2-9.9 .2 1.7 .2 1.1 .2-4.7 .2-1.6 .2 2 .2-5 .2-3 .2 2.8 .2-2.8 .2 .3 .2 .2 .2 3.1 .2 4.3 .2-2 .2-3.4 .2-.2 .2 1.1 .2 .6 .2 5 .2-.5 .2-.6 .2-4.6 .2 6 .2-5.4 .2 4.4 .2-3.1 .2 5.7 .2-5.1 .2 3.9 .2-.2 .2 4.5 .2 3.3 .2-5.3 .2 3 .2-4.6 .2 5.9 .2 .3 .2-7.8 .2 3 .2-1 .2 4.1 .2 1.6 .2 .6 .2-.3 .2-.2 .2 3.4 .2-3.8 .2 3.8 .2-6.8 .2 6.8 .2-1.8 .2-2.1 .2 3.9 .2-7 .2-1.9 .2-1.6 .2-1.1 .2 6.9 .2-7.2 .2 10.8 .2-1.3 .2 .1 .2-4.5 .2 2.7 .2-14.9 .2 8.1 .2-2 .2-1.3 .2 3.4 .2-11.2 .2 10.1 .2-9.9 .2 13.4 .2-.6 .2-3.3 .2 3.9 .2-6.7 .2-2.9 .2 1.1 .2 13.5 .2-13.4 .2 6.5 .2-9.4 .2 4.7 .2 .2 .2-2.7 .2-1.5 .2-2.6 .2-8.4 .2 0 .2 8.2 .2 3 .2 4.5 .2-4.8 .2 6.4 .2-8.1 .2 1.7 .2 7.1 .2-10.3 .2-6.5 .2 21.3 .2 5.9 .2-.2 .2-5.9 .2 4.5 .2-21.4 .2 .4 .2 3.2 .2 18.5 .2-.7 .2-16.3 .2 11.5 .2-3.1 .2 .4 .2-8.5 .2-1.6 .2-9.6 .2 .8 .2 11.6 .2-4.1 .2-6.1 .2 12 .2-1.8 .2 3.1 .2-3.7 .2-2.5 .2-.2 .2-2 .2 8.9 .2-16.7 .2 7.5 .2 2.3 .2-10 .2 13.5 .2-12.7 .2 12.8 .2-14 .2 .7 .2 10.6 .2 5.7 .2-8.4 .2 6 .2 2 .2 1.6 .2-14.7 .2 15.6 .2 .3 .2-.4 .2 1.7 .2-15.3 .2 1.7 .2-6.2 .2-2.2 .2 0 .2 8 .2-.1 .2-1.6 .2 4.1 .2-6.5 .2 8.8 .2-4 .2-7.5 .2 12.7 .2 17.1 .2-9.8 .2 7.9 .2-18.5 .2 13.9 .2-5 .2 .1 .2 12.9 .2-10.8 .2 11.4 .2 1.9 .2-5.7 .2-11.7 .2-2.1 .2-8.7 .2 14.6 .2 2.2 .2-6.4 .2 16.2 .2 2.1 .2-3.2 .2 1.1 .2-8.3 .2 12.5 .2-4.6 .2-10.9 .2-11.2 .2 16.6 .2 .2 .2 3 .2-18.7 .2 3.1 .2-9.6 .2 6.6 .2 9.8 .2-8.4 .2-2.3 .2 .6 .2-13.1 .2 0 .2-3.5 .2 2.2 .2 26.1 .2-5 .2-4.8 .2 4.4 .2-20.9 .2 8.4 .2 6.5 .2-8.3 .2 1.3 .2-9.2 .2 11.9 .2-20 .2 16.5 .2 5.3 .2-12.4 .2-6.4 .2-4.7 .2 7.9 .2 2.6 .2-1.9 .2 .5 .2-10.6 .2 3.5 .2 .5 .2 10 .2-2.3 .2-.4 .2-4.2 .2 11 .2 6.5 .2-9.8 .2 10.3 .2-12.8 .2-5.2 .2 11.3 .2 1.3 .2-8.3 .2 15.3 .2-7.2 .2 11.4 .2 2.2 .2-8.1 .2-5.6 .2 9.5 .2 15.8 .2 7.2 .2 5.3 .2 5.3 .2 5.2 .2 4.5 .2 0 .2-8.1 .2 7.4 .2 8.2 .2 9.3 .2 6.9 .2 .5 .2-28.5 .2-28.6 .2-4.3 .2-2.3 .2-2.4 .2-2.4 .2 10.8 .2 61.6 .2 18 .2-.3 .2-.3 .2-.3 .2-.3 .2-.3 .2-.3 .2-.3 .2-.3 .2-.3 .2-3.5 .2-3.9 .2-8.2 .2 9.5 .2 2.5 .2 1.8 .2-.3 .2-.3 .2-37.9 .2-64 .2-37.8 .2-2.4 .2-2.3 .2-2.4 .2 7.3 .2 28.3 .2 46.6 .2 48.6 .2 17.8 .2 1.2 .2 .8 .2 .8 .2-.8 .2-6.7 .2 .5 .2-1.9 .2-8.1 .2-26.8 .2-28.6 .2-15.7 .2-5.9 .2 18.3 .2 34.7 .2 21.5 .2 10.7 .2 8.5 .2 1.5 .2 5.3 .2 3.9 .2 .2 .2-4.7 .2 .6 .2-8.8 .2-23 .2 13.8 .2 10.8 .2-13 .2-16 .2-9.5 .2-18.9 .2-2.8 .2 30.7 .2 34.3 .2 8.7 .2 .2 .2 .1 .2 .2 .2-1.1 .2-4.7 .2-4.6 .2-12.6 .2-19.2 .2-25.9 .2-26.4 .2-12.7 .2-2.3 .2 2.2 .2 26.9 .2 19.1 .2 19.5 .2 6.8 .2-1.1 .2-18 .2-32 .2-33.4 .2-9.4 .2-6.8 .2-2.1 .2 .9 .2 9.5 .2-8.8 .2-.9 .2 2.6 .2 2.2 .2-8 .2 11.9 .2 18.5 .2 16.6 .2 9.4 .2 28.5 .2 7.1 .2-1.3 .2-2.8 .2 7 .2 1.3 .2-.4 .2-.4 .2-.4 .2-.4 .2-.4 .2-.4 .2-.4 .2-21.7 .2-41.2 .2-32.5 .2-6.6 .2 11.2 .2 3 .2 20.7 .2 35.9 .2 22.4 .2 4.8 .2-.4 .2-.4 .2-.4 .2-7.6 .2-35.2 .2-47.5 .2-22.5 .2 .9 .2 18.2 .2 28.8 .2 25.2 .2 20.5 .2 6 .2-32.4 .2-15.3 .2-4.1 .2-4.3 .2 7.2 .2 37.1 .2 5.7 .2-9.9 .2-10.3 .2-14.4 .2 1.1 .2 3.7 .2 3.8 .2 3.7 .2 13.7 .2 36.2 .2 27.4 .2 9.9 .2 6.3 .2-1.3 .2-1.3 .2-1.3 .2-1.3 .2-1.3 .2-13.6 .2-8.7 .2-10.4 .2-28 .2-2.5 .2 33.4 .2 2.5 .2-1.8 .2 15 .2 1.1 .2-2.2 .2-1.5 .2-4.5 .2-12.6 .2-35 .2-19.2 .2-20.6 .2 12.5 .2-11.9 .2 9.5 .2 26.7 .2 16.5 .2-23.5 .2-4.4 .2 4.7 .2-22 .2 4.5 .2 35.4 .2 26.9 .2 9.8 .2 8.2 .2-2.8 .2-14.3 .2-21.3 .2-14.5 .2-27.3 .2 6.5 .2 22.9 .2 19.1 .2 1 .2 3.3 .2-28.1 .2-33.8 .2-45.7 .2-10.3 .2 0 .2 0 .2 0 .2 7.3 .2 37.7 .2 43.9 .2 13.8 .2 19.7 .2 .8 .2-4.3 .2-10.6 .2-19.8 .2-8.3 .2 4.2 .2 24 .2 18 .2 .3 .2 .4 .2 .4 .2-2.5 .2-37.9 .2-36.4 .2-36.9 .2-6.6 .2 .8 .2 .8 .2 3.1 .2 11.1 .2 8.1 .2 6.3 .2 15.2 .2-5.2 .2-16.6 .2-5.2 .2 1.8 .2-2.7 .2 17.2 .2 48.5 .2 30.3 .2 11.1 .2 3.9 .2 .3 .2 .4 .2 .4 .2 .3 .2 .4 .2-5 .2-33.7 .2-51.7 .2-15.5 .2-4.1 .2-.5 .2 5.5 .2 23 .2 45 .2 29.6 .2 6.9 .2 .1 .2 .3 .2-3.9 .2-9 .2-.4 .2-3.8 .2-15.4 .2-37.7 .2-29.7 .2-18.3 .2-.6 .2 4.5 .2 35 .2 43.2 .2 27.7 .2 .5 .2-12.4 .2-28 .2-8 .2-11.7 .2 9.4 .2 10.2 .2-17.7 .2-12.9 .2-8.2 .2-10.6 .2 4.6 .2 36.9 .2 5.3 .2-3.3 .2-.4 .2-15.9 .2-12.7 .2 18 .2 23.2 .2 17.6 .2 11.2 .2 2.9 .2-.5 .2-.5 .2-.5 .2-.5 .2-.5 .2-.5 .2-16.5 .2-36.4 .2-47 .2-3.1 .2 1.1 .2 1.1 .2 1.1 .2 1.4 .2 10.8 .2 36.7 .2 27.8 .2 17.6 .2 2.2 .2-.1 .2-.2 .2-.1 .2-.1 .2-.2 .2-1.3 .2-1.2 .2-2.9 .2-26.3 .2-28.8 .2-9.6 .2 43.1 .2-8.3 .2-27.1 .2 7.9 .2-17.1 .2 28.2 .2-26 .2 15.8 .2-6.9 .2 3 .2 6.9 .2-4.7 .2 7 .2 31.4 .2-6.4 .2-24.2 .2-1.8 .2 14 .2-22.3 .2 24.2 .2-.6 .2-21 .2 5.1 .2 11 .2-3.8 .2-2.3 .2-19.2 .2 .2 .2 41.8 .2-8.3 .2 24.8 .2-8.8 .2 8.5 .2-.2 .2-13.1 .2 5.1 .2-9 .2 16.3 .2-12.8 .2 12.5 .2-14.7 .2 12.7 .2 1.4 .2-17.7 .2 17.2 .2-.3 .2-34.6 .2-3.7 .2-14.5 .2 21.3 .2-9.6 .2 35.6 .2-6.3 .2 5.8 .2-26.8 .2-5.3 .2 17.4 .2-2.1 .2 5.4 .2-19.4 .2-2 .2 18.2 .2 8.9 .2-12.9 .2-16.2 .2 25 .2-16.3 .2 15.9 .2-7.9 .2-19.3 .2 5.2 .2-10.7 .2 2.1 .2 1.5 .2 6.9 .2-5.9 .2 16.8 .2-6.8 .2-.7 .2 11.4 .2-13.6 .2 6.6 .2 8.6 .2-3.7 .2-9.7 .2-9.4 .2 10.9 .2 .5 .2 17.3 .2-10.1 .2-1.3 .2-21 .2 6.3 .2-18.8 .2 23.9 .2 5.9 .2-9.5 .2-10.1 .2 26.1 .2-25.8 .2 6.2 .2-16 .2-3.7 .2-7.8 .2 31.5 .2 11.7 .2 10.2 .2-31.1 .2 17.8 .2 5.7 .2-38 .2 16.2 .2-3.6 .2-.5 .2-13.2 .2 15.6 .2 6.6 .2 12.7 .2-18.7 .2-11 .2 1.5 .2 .6 .2 1 .2 21.6 .2-7.8 .2 3.9 .2 31.5 .2 3.4 .2-16.6 .2 .3 .2-24.8 .2 11.8 .2 4 .2-4.4 .2-2.2 .2 16.7 .2-11.8 .2 17.3 .2-11.6 .2-12.7 .2 22.7 .2 12.1 .2-9.3 .2-5.6 .2 .9 .2-7.8 .2 20.1 .2-11.8 .2-8.3 .2 12.5 .2-16.4 .2-11 .2-15.5 .2-.3 .2 18.6 .2-19.1 .2 1.3 .2-1.9 .2 19.3 .2-19.8 .2-.1 .2 37.9 .2-6.4 .2 12.4 .2-21.9 .2-3.6 .2 34 .2 .1 .2-17.6 .2 3.9 .2 6.4 .2-13.2 .2 17.5 .2 4.7 .2-18.4 .2 2.7 .2-17.9 .2 .2 .2-14.6 .2 17.9 .2-11.2 .2-3.7 .2 36 .2-.7 .2 2.2 .2-45.6 .2 11.5 .2 4.6 .2 .5 .2-20 .2 32.4 .2-31.8 .2 3 .2 4.3 .2 17.7 .2 30.9 .2-28.9 .2 1.5 .2 2.6 .2-20.9 .2 14.6 .2 8.6 .2 1.2 .2-15.9 .2-17.2 .2 46.4 .2 .9 .2-46.9 .2 28.6 .2-5.8 .2-5.1 .2-11.5 .2 20.3 .2 21.5 .2-20 .2 6.1 .2 7.7 .2 9.3 .2-37.4 .2 28.1 .2-.9 .2 9.3 .2 3.7 .2-6.3 .2-40.4 .2-4.5 .2 16.2 .2-18 .2-2.4 .2 10.4 .2-12 .2-6.9 .2 6.5 .2 27.3 .2 .5 .2-15.7 .2 15.5 .2-2.2 .2-21.8 .2 13.8 .2-1.5 .2-20.2 .2 40.6 .2-27.7 .2 30.2 .2 0 .2 6.2 .2 10.3 .2-31 .2 31.5 .2-34 .2 13.4 .2-35.7 .2 35.5 .2-11.1 .2 12.9 .2-5.8 .2-12.3 .2 23.3 .2-12 .2-36.9 .2 .1 .2 0 .2 13.5 .2-13.3 .2 3.3 .2 16.6 .2-13.8 .2 15.5 .2-18.8 .2 .6 .2 14.5 .2 0 .2-12.9 .2 .6 .2 25.1 .2-20.8 .2 20.5 .2 15.3 .2 1.2 .2-11.6 .2 5 .2-4.6 .2-7.5 .2 9.3 .2 5.6 .2 14.8 .2-6.6 .2-8.7 .2 9.1 .2-27.1 .2-6.8 .2 10.9 .2 4.6 .2 17.3 .2-20.8 .2 5.3 .2 18.9 .2-11.8 .2-24.2 .2 23.3 .2-23.7 .2 31.9 .2-7.7 .2-4.7 .2 11.1 .2-20.4 .2-18.3 .2 30 .2 9.9 .2 6.4 .2-28.7 .2-3 .2-12.1 .2 22.8 .2-15.9 .2 10.6 .2-20.1 .2 28.8 .2-16.4 .2 1.1 .2 4.1 .2-20.8 .2 21.9 .2 4.7 .2-27.8 .2 26.3 .2-12.2 .2 29.2 .2 7.7 .2-3.5 .2-3.8 .2-14.2 .2 5.2 .2-10 .2 24.7 .2-.9 .2-16 .2 8.9 .2 2.2 .2-6.1 .2 12.1 .2-.2 .2-.1 .2-21.2 .2 21 .2-11.2 .2-19.7 .2-1 .2 14.9 .2 7.9 .2 3.1 .2-26.6 .2 2.4 .2 2.1 .2 2.3 .2 7.5 .2-35.7 .2 6.9 .2-1.7 .2 31.2 .2 2.9 .2-5.7 .2-4.7 .2 8.1 .2 1.1 .2-13.1 .2 17 .2-19.3 .2 27.1 .2-7.3 .2-19.9 .2 12.4 .2 1.6 .2-25.2 .2 24.1 .2 3 .2-15.8 .2 16.8 .2-7.5 .2-.8 .2-24.6 .2-3.7 .2 16.9 .2-22.6 .2 15.7 .2 2.8 .2 5.6 .2-7.3 .2 6.3 .2 13.5 .2-20.5 .2 30.3 .2-44 .2 24.1 .2-4.1 .2-1 .2 .4 .2-17.7 .2 11 .2 2.6 .2 8.4 .2 13.4 .2-14.5 .2-19.6 .2 24.4 .2-17.9 .2 26.5 .2-25.7 .2 19.4 .2 4 .2-19.7 .2 9.7 .2-4.2 .2-3.8 .2 1.3 .2-9 .2 .6 .2 11.6 .2 19.1 .2-24.6 .2-.2 .2-1.9 .2 23.6 .2-1.6 .2-21.8 .2 5.4 .2 3.3 .2 4.7 .2-7.4 .2-3.3 .2 8.5 .2 1 .2-4.8 .2 25.4 .2-7.6 .2-1 .2-13.6 .2-3.6 .2 6 .2 19.2 .2 1.8 .2-15.3 .2 2 .2 17 .2-3.1 .2-25 .2 23.3 .2-2.5 .2 13.1 .2-.4 .2-22 .2 19.9 .2-36.7 .2 8.6 .2-17.1 .2-.8 .2 3 .2 1.8 .2 4.2 .2 3.5 .2-6.2 .2 2.9 .2 17.3 .2-24.3 .2 23.2 .2 23.5 .2-29.3 .2-14.6 .2 34.3 .2-25.9 .2 19.5 .2 18.6 .2-46.4 .2 .7 .2 21.8 .2-15.9 .2 31.6 .2 13.3 .2-3.1 .2-16.7 .2 21.1 .2-23.8 .2 23.2 .2-32.2 .2 2.8 .2 1.4 .2 30.3 .2 1 .2-13.8 .2-24.2 .2-9 .2-12.3 .2 9.2 .2 33.8 .2-6.5 .2-1.6 .2 17.8 .2-13.6 .2-17.3 .2-13.1 .2 4 .2 7 .2 39 .2 4.5 .2-31.1 .2-2.2 .2-5.5 .2 9.6 .2 4.9 .2 5.8 .2-35.2 .2 20.3 .2-26 .2 30.2 .2-20.8 .2 18.9 .2 33.6 .2-36 .2 1.2 .2-21.3 .2 40.7 .2-43 .2 32.2 .2 13.9 .2-37.3 .2 51.1 .2-22.4 .2-35.8 .2 42.1 .2 7.3 .2-3.3 .2-35.2 .2 12.7 .2 10.1 .2 2.7 .2 7.1 .2-50.4 .2 64.1 .2-14.4 .2 17.7 .2-1 .2-22.6 .2 24.1 .2-25.3 .2 7.3 .2-13.1 .2 7 .2 24.1 .2-14.2 .2 9.5 .2-12.7 .2-36.1 .2 10.3 .2 2.2 .2 40.6 .2-14.3 .2-15.6 .2-17.9 .2-.2 .2 5.5 .2 12.5 .2 6.5 .2 5.4 .2-42.5 .2 11.4 .2-18.9 .2 25.9 .2 2 .2 18.4 .2-21.3 .2 4.6 .2-22.7 .2-3.5 .2 55 .2-15.3 .2-18.5 .2-13 .2 3.9 .2-1.1 .2 14 .2-25.1 .2 29.5 .2-10.2 .2-13.6 .2 7.7 .2 42.9 .2-30.5 .2-7.6 .2 15.5 .2 7.1 .2-1.2 .2 21.5 .2-23.9 .2 20.8 .2-31.6 .2 3.3 .2-4.7 .2 9.9 .2-32.7 .2-3.1 .2 5.2 .2 38.2 .2-8.5 .2 4 .2 4.8 .2 15.8 .2-25.4 .2-24.3 .2 29 .2-42.9 .2 24.9 .2-22.4 .2 32.6 .2-4.1 .2-11.1 .2-18.2 .2-4.7 .2-.3 .2 6.7 .2-.9 .2 2.6 .2 2.8 .2 31.1 .2-23 .2 9 .2 14.5 .2-6.1 .2-1.9 .2 22.7 .2 3.6 .2-12.1 .2-4.6 .2 11.5 .2-5.9 .2 10.6 .2-37.3 .2-9.4 .2 16.8 .2-.7 .2 3.8 .2-13 .2 37.9 .2-17.8 .2 5.4 .2-12.8 .2-7.2 .2 .8 .2 24.5 .2-21.7 .2 21.3 .2-17.2 .2 8.8 .2 2.9 .2-32.5 .2 29.8 .2-2.8 .2-27.5 .2 31.4 .2-24 .2 26.1 .2 2.3 .2-18.2 .2 11.3 .2-17.5 .2-.2 .2 10.3 .2 2.1 .2 8.6 .2-5.1 .2 .5 .2-7.7 .2 .3 .2-11.9 .2-.2 .2 30.6 .2 7.6 .2 .1 .2-3.6 .2-19.6 .2 14.5 .2-23.7 .2 13.3 .2-5.5 .2-18.5 .2 6.3 .2 26 .2-27.5 .2 13.1 .2-14.3 .2-5.8 .2 17.9 .2-8.7 .2 17 .2 4.4 .2 8.7 .2-39.4 .2 24.1 .2-37.1 .2 23.2 .2-10.5 .2 23.4 .2-8.6 .2-24.1 .2-4 .2 25 .2-28 .2 11.1 .2-1.6 .2 19.2 .2 8 .2-7.8 .2 4.9 .2-16.8 .2-22.4 .2 27.6 .2-26.8 .2 41.9 .2-19 .2 39.8 .2-30.5 .2 32.6 .2-23.2 .2-19.3 .2 18.3 .2 20 .2-33.3 .2 29.9 .2-34.4 .2 11.5 .2 4.1 .2-13.4 .2-16.2 .2-2.7 .2 10 .2-1 .2 5.3 .2 9.9 .2-14.3 .2-8.5 .2 38.3 .2-2.9 .2 14.1 .2-39.5 .2 12.7 .2-6.3 .2 13.1 .2 3.3 .2-20.3 .2 18 .2-15.8 .2-7.3 .2-4.3 .2 10 .2 27.1 .2-10 .2-14.5 .2 24.6 .2-1.8 .2 2.7 .2 2.2 .2-23.6 .2-5.8 .2-.7 .2-6.2 .2 19.4 .2-3.9 .2-17.9 .2 0 .2 0 .2 15.2 .2-15.2 .2 0 .2 21.7 .2-1.2 .2-4.6 .2 2.8 .2-7.2 .2-5.7 .2-3.5 .2 6 .2 21.8 .2-1 .2 2.1 .2 4.7 .2-.7 .2-2.5 .2-1.6 .2 7.2 .2-15.6 .2-5.3 .2-7.4 .2 20.3 .2-26.6 .2 6.6 .2-4.5 .2-5.3 .2 21.3 .2-21.2 .2 3.7 .2 17.9 .2-2 .2-8.7 .2-.8 .2 6.9 .2 11.8 .2 9.9 .2-18.9 .2 16 .2 .8 .2 8.3 .2-.2 .2-24.8 .2 24.5 .2-20.5 .2 20.2 .2-.2 .2-3.9 .2-7.8 .2-6.8 .2 10.2 .2 6.1 .2-21.1 .2 7 .2 5.8 .2-3.2 .2 11.3 .2-6.4 .2 5.9 .2-1.2 .2-6.6 .2-12.8 .2 11.1 .2-6.7 .2 7.2" stroke="#000" stroke-width="2" stroke-linejoin="round" fill="none"/>
<path d="M1205 337.3l.2 1.6 .2 1.5 .2-.6 .2-2.4 .2-.9 .2-2.5 .2 3.8 .2-2.9 .2 2.6 .2-.1 .2-3 .2 .8 .2 1.1 .2-.8 .2 .7 .2-.4 .2-1.6 .2 .5 .2-.4 .2-3.2 .2 1.9 .2 1 .2 1.6 .2-1.4 .2 2.7 .2-3.8 .2-1.6 .2-1.3 .2-.1 .2 .8 .2-.9 .2-.3 .2 3.9 .2-1.3 .2 2.6 .2-3.8 .2 5 .2 .7 .2-1.5 .2 1.4 .2 .6 .2-3.4 .2-.2 .2 1.9 .2-1.7 .2 4.8 .2-2.7 .2 2.6 .2-.4 .2 1.8 .2-3.5 .2 3.2 .2-1.9 .2-2.1 .2-1.6 .2 5.4 .2-.8 .2-1.2 .2-.1 .2 4.3 .2-1.9 .2 2.5 .2 .7 .2-1.6 .2-.4 .2 2 .2-1.5 .2-.8 .2 3.7 .2-2.3 .2 .2 .2 2.4 .2-3 .2 .6 .2-.9 .2 .5 .2 1.1 .2-.9 .2-4.1 .2 4 .2-.1 .2 1.8 .2 0 .2-2.6 .2 .9 .2 3.7 .2-5.2 .2 2.4 .2-1.1 .2-1.5 .2 2.5 .2-4.8 .2 3.7 .2-1.3 .2-.9 .2 0 .2 .6 .2-2.1 .2 1.5 .2-1.5 .2 3.2 .2-3.2 .2 0 .2 4.8 .2-1.3 .2 1.2 .2 2 .2-4.4 .2-2 .2 3.3 .2-1.2 .2-.5 .2-1.2 .2 2 .2 1.1 .2 .9 .2 2.8 .2-3.5 .2 4.7 .2-5.2 .2 1 .2 2.7 .2-1.5 .2 3.1 .2-.3 .2-4.4 .2 .1 .2-3.6 .2 4 .2 .5 .2-1.6 .2-1.7 .2-1.7 .2 .3 .2 4.7 .2-.5 .2 1.4 .2-2.4 .2-.6 .2-1 .2-2.2 .2 2.7 .2 .5 .2-2 .2-2.2 .2 1.8 .2-2.6 .2-.6 .2 0 .2 3.7 .2-4.2 .2 3.1 .2 .8 .2 2.7 .2 1.5 .2-4 .2 3.1 .2-5.2 .2 2.8 .2-1.4 .2 1.6 .2-3 .2-.6 .2 3.5 .2-2.1 .2-2.4 .2 .7 .2 4.7 .2-2.5 .2-1.5 .2-2.4 .2 3.5 .2 1.5 .2-1.3 .2-1 .2-.1 .2-1 .2-1.3 .2-.7 .2-1.1 .2 .4 .2 2.2 .2 2.1 .2 .3 .2 2 .2-1.2 .2 .8 .2-3.6 .2 2.7 .2-5.1 .2 .4 .2 .9 .2 .1 .2-1.7 .2 2.8 .2-.4 .2-3.1 .2 4.6 .2 .2 .2-2.7 .2-1.2 .2 .9 .2 3.6 .2-5 .2 3.8 .2-6.4 .2 4.8 .2 1.2 .2-4.8 .2 4.1 .2-5 .2 2.3 .2 .3 .2 1.8 .2-2.8 .2 1.9 .2 1.6 .2-3.4 .2 3.9 .2-2.6 .2-.5 .2-.7 .2-1 .2 3.7 .2-2.1 .2-.7 .2-1.9 .2 1.2 .2 .1 .2 5.3 .2-1.9 .2-2.1 .2 2.2 .2 1.8 .2-5.6 .2-1.5 .2 3.2 .2 .5 .2-1.5 .2 1.5 .2-1.4 .2 .2 .2-1 .2 2.5 .2 .6 .2-2.3 .2 2.9 .2 .9 .2-.2 .2 3.2 .2-.3 .2-6.5 .2 2.3 .2-1.2 .2 .4 .2 1.9 .2-2.2 .2 1.9 .2 1.6 .2 1.3 .2-.2 .2-2.3 .2 2.6 .2 0 .2 0 .2-.9 .2-.9 .2-1.2 .2 4.1 .2-2.5 .2 .7 .2 .1 .2-2.6 .2-1.1 .2-.4 .2 .4 .2-.5 .2 3.5 .2-.8 .2-2.6 .2 4.6 .2-1.6 .2 1.1 .2 2.4 .2-3.1 .2 3.3 .2-1.9 .2-1.8 .2 1.5 .2 .4 .2-1.1 .2 2 .2 2.9 .2-3.7 .2 .2 .2 .6 .2 2.1 .2-2.2 .2-2.4 .2 0 .2 3.5 .2-3.9 .2 2.7 .2 .8 .2 2.3 .2 1.1 .2-4.7 .2-1 .2 2.5 .2-.8 .2-1.5 .2 1.5 .2 3.2 .2 1.1 .2-5.3 .2-.7 .2 .8 .2-.3 .2 3.3 .2-2.1 .2 .4 .2 1.6 .2 .1 .2 2.6 .2 1.6 .2-.8 .2-1.8 .2-1.5 .2 .2 .2-2.7 .2-.6 .2 1.3 .2 1.3 .2-.5 .2 2.6 .2-.3 .2-2.4 .2-.1 .2 0 .2 1.8 .2-1.8 .2 2.5 .2 .2 .2-.3 .2 1.6 .2-2.2 .2 3.1 .2-4.6 .2 .9 .2 3.8 .2-3.9 .2 1.8 .2 2.1 .2-3.9 .2 .3 .2 2 .2-2.9 .2 4.4 .2-1.1 .2-2.2 .2-.5 .2-.9 .2 .4 .2-.6 .2 3.2 .2 1.5 .2-4.5 .2 2.5 .2 1.6 .2-6 .2 1.6 .2 2 .2-4.5 .2 3.4 .2-3 .2 3.7 .2-2.7 .2 1 .2-.4 .2 1.5 .2 2.1 .2-2.4 .2-.8 .2-1.2 .2-1.7 .2 6.5 .2-.6 .2-2.7 .2-.9 .2 3.4 .2-2.4 .2 .8 .2-3.4 .2 3.5 .2-1.8 .2 .7 .2 3.7 .2-.6 .2-1 .2 1.5 .2 2.4 .2-2.1 .2-1.6 .2-.5 .2-2.7 .2 1.8 .2-1 .2 3.7 .2 .1 .2-1.2 .2 1.4 .2 0 .2 3.3 .2-.9 .2-5 .2-.6 .2 3.8 .2-1.7 .2 1.2 .2 3 .2 1.2 .2-1 .2-.7 .2 .1 .2 .7 .2-4.9 .2 3.8 .2-5.8 .2 .5 .2 2.6 .2 .1 .2 .7 .2 3.5 .2-.9 .2 .2 .2-4.1 .2 1.5 .2-.9 .2-.2 .2-1.5 .2 3.4 .2-2.5 .2 .8 .2-2.5 .2-2.4 .2 3.1 .2 .6 .2-.5 .2 1.2 .2-.7 .2-3.6 .2 2.8 .2-3.3 .2 .9 .2 4.2 .2 .1 .2-2.8 .2-.9 .2 .8 .2-2.3 .2-1.1 .2 1.6 .2-2.4 .2 4.6 .2 1.4 .2-.6 .2-.5 .2 3.4 .2-.1 .2-.6 .2 .4 .2-.6 .2-5.6 .2 4.6 .2 1.2 .2-3.4 .2-.6 .2 3.9 .2-.6 .2 .5 .2-1 .2-3.1 .2-.6 .2 4.5 .2-.7 .2-5.8 .2-1.9 .2 .4 .2 .4 .2 4.7 .2 .5 .2-2.2 .2 1.7 .2-1.4 .2 1.2 .2-1.3 .2-3 .2-.6 .2 5.1 .2 .3 .2-2.2 .2 2.7 .2-3.3 .2-.1 .2 1.1 .2-3 .2-.2 .2 .5 .2 4.6 .2 .6 .2 .4 .2-1.3 .2-5.8 .2-.3 .2 1.5 .2 3.7 .2-2.6 .2 .3 .2 2.5 .2 1.4 .2-1.1 .2 1 .2-2.7 .2 2.6 .2-.6 .2-1.7 .2 2.2 .2-4.2 .2-1.5 .2-.8 .2-.3 .2-.2 .2 0 .2 .8 .2 2.9 .2 .9 .2-2.6 .2 4 .2-3.2 .2-2.1 .2 .6 .2-3.4 .2-.7 .2 5.1 .2-.6 .2-3.3 .2 .2 .2 1.6 .2 3.7 .2-6 .2 2.7 .2-3.5 .2 2.9 .2-.5 .2-1.1 .2 1.2 .2-2 .2-.6 .2-1.5 .2-.9 .2 .7 .2 3.9 .2-5.2 .2 .6 .2-1.9 .2 4.7 .2-1 .2-1.5 .2 2.5 .2-2.4 .2-1.8 .2 1.4 .2 2.8 .2-.2 .2 2 .2-4.4 .2 3.7 .2-2.6 .2-2.2 .2 4.6 .2-3 .2-2.6 .2 1 .2 1.7 .2-2.2 .2 1.3 .2 2.8 .2 .7 .2-1.3 .2-5.1 .2 1.4 .2-1.7 .2 0 .2 .3 .2-.3 .2-.1 .2 5.2 .2-3.7 .2 1.7 .2 3.4 .2-4.3 .2 .7 .2 3.1 .2-3.5 .2 1.2 .2 1.4 .2-4.9 .2 3.5 .2-2 .2 1.1 .2-2.8 .2 1.4 .2-1.7 .2 1.7 .2-.5 .2 2 .2-1.3 .2 .5 .2 .6 .2-1.3 .2 3.6 .2-1.1 .2-1.4 .2 1.5 .2 1.2 .2-.3 .2-3.4 .2 2.1 .2-.9 .2-2.2 .2-1.2 .2 2.1 .2 .7 .2 2.2 .2 .1 .2-4 .2-.5 .2 2.2 .2-1.1 .2-.5 .2-1.5 .2-.1 .2 2.5 .2-2.7 .2 4.3 .2-2.6 .2 2.8 .2 0 .2-2.2 .2 1.6 .2 .5 .2-1 .2 1.1 .2-3.8 .2 0 .2 .7 .2 1.8 .2-.7 .2-.4 .2-2.5 .2-.4 .2 0 .2 2.5 .2 1 .2-2 .2 .8 .2 2.2 .2 1.1 .2-1.6 .2-.4 .2-.2 .2 .2 .2-.6 .2-.7 .2 2.5 .2-.3 .2-2.3 .2 .5 .2-1.2 .2-1.5 .2 3.5 .2-3.2 .2 .6 .2 1.8 .2-.4 .2-.5 .2 3.7 .2-2.5 .2-1 .2 3.6 .2-.9 .2 .4 .2-.5 .2-2.1 .2 .4 .2 2.4 .2-1.8 .2-.4 .2 .1 .2 2.1 .2-2.8 .2-.4 .2 2.4 .2-2.3 .2-.2 .2 1 .2 .5 .2-.1 .2 .9 .2 1.4 .2-3.1 .2 1 .2 0 .2-2.2 .2 2.1 .2 .1 .2-1.6 .2 .8 .2 1.6 .2-1.9 .2-.3 .2 2.5 .2-.6 .2 1.2 .2-2 .2 .3 .2 .6 .2-2.6 .2 .6 .2-.6 .2 1.9 .2 1.1 .2-1.3 .2 1 .2-.7 .2 .3 .2 .5 .2-2 .2 3.3 .2-1.1 .2-.7 .2 .2 .2 .3 .2-.1 .2 1.3 .2 1.2 .2-2.6 .2 1.6 .2 1.1 .2-1.3 .2 .3 .2-1.8 .2 .9 .2-.3 .2 .8 .2-3.2 .2 .7 .2 .5 .2 2.6 .2 .3 .2-2.2 .2 2.9 .2 .6 .2-1 .2-2.1 .2 .3 .2 .2 .2-.5 .2-1.6 .2-.5 .2-.1 .2 1.8 .2-1.2 .2-.4 .2 3 .2-2 .2-1.1 .2 .4 .2 1.6 .2-.9 .2 2.1 .2 1 .2 .3 .2-.1 .2 .1 .2-.5 .2-.7 .2 1 .2-1.1 .2 .9 .2-.3 .2-1.4 .2 2 .2-3.1 .2 3 .2-.9 .2-1.7 .2 2.1 .2-1.1 .2-.4 .2 1 .2 .8 .2-2.4 .2-.3 .2-2 .2 .5 .2 1.3 .2-1.9 .2 1.3 .2-.7 .2 .9 .2 1.1 .2-2.6 .2-.1 .2 2.8 .2-1.8 .2 1.8 .2 .1 .2-1 .2 1.2 .2-2.1 .2-.2 .2 1.2 .2-2.2 .2 .8 .2 .8 .2 .5 .2 .1 .2 1.1 .2-.3 .2-.4 .2-.3 .2 1.2 .2-.4 .2 1 .2-.4 .2-.3 .2-.5 .2 .7 .2-1.5 .2 2 .2-2.2 .2-.9 .2 1.3 .2 .5 .2 3.1 .2-2.4 .2-.9 .2 1.2 .2 .3 .2-2.4 .2 1.2 .2 1.3 .2-.3 .2-.5 .2 2.1 .2 2.6 .2-.4 .2 .9 .2-3.8 .2 2 .2 1.1 .2-1 .2 2.8 .2-2.7 .2 1.8 .2-4 .2-.6 .2 .2 .2 .3 .2 3.4 .2-1.6 .2-.5 .2 2.1 .2 .2 .2-1.6 .2 3 .2-84.4 .2 .5 .2 83.9 .2 .2 .2-.9 .2-.9 .2 2.1 .2-2.2 .2-2.2 .2-.4 .2 3.2 .2-1.2 .2-.5 .2-1.1 .2 .2 .2 1.9 .2 1.4 .2-2.4 .2 .4 .2 1.1 .2-.5 .2 1.3 .2-.8 .2 .5 .2-2.6 .2 .1 .2 2.4 .2-2.4 .2-1 .2 1.2 .2-3.3 .2 2 .2 1.6 .2-3.6 .2 3.6 .2-2.9 .2 1.5 .2 1.6 .2-2.8 .2 3.1 .2-1.7 .2-2.3 .2 2.2 .2 .1 .2-1.4 .2 1.3 .2-2.6 .2 2.4 .2-1 .2 1.8 .2-2.1 .2 3.3 .2 0 .2-2.4 .2 2.1 .2 1.5 .2-2.8 .2-.3 .2 1.5 .2-1.8 .2-.1 .2-2 .2 3.8 .2-2.3 .2 .6 .2 1.5 .2-1.3 .2-.4 .2-1 .2 .4 .2 3.2 .2 1.2 .2 0 .2-1.9 .2-.5 .2 1.1 .2 1.3 .2-2.3 .2-.5 .2-.6 .2 4.6 .2-.2 .2-1 .2 .7 .2 1.7 .2 .3 .2 .9 .2-3.3 .2 2.5 .2 1.6 .2-2.6 .2-.5 .2 2 .2-.3 .2-3.5 .2 3.9 .2-1.8 .2 .5 .2 .7 .2 .2 .2-.7 .2-1.2 .2-.5 .2 .6 .2 1.5 .2 .1 .2 1.7 .2-1 .2-1.7 .2 .6 .2 .7 .2-.9 .2 1.8 .2-2.4 .2-1.3 .2 4.1 .2-.7 .2-1.4 .2 1.6 .2-2 .2 2.4 .2-1.8 .2 1.3 .2-.8 .2-1.5 .2 1 .2-.3 .2-2.9 .2 .6 .2 1.4 .2 1.6 .2 .6 .2-.7 .2-1.2 .2-.9 .2 1.1 .2 1 .2-3.8 .2 1.4 .2 .9 .2 .5 .2 1.1 .2-.5 .2-1.9 .2 1.2 .2 1.2 .2-1.9 .2-.3 .2 2.1 .2-1.6 .2-1.5 .2-1.2 .2 1.6 .2 .3 .2 .2 .2 1.7 .2 .9 .2-2.5 .2-.1 .2 1.6 .2 1 .2-1.3 .2-1.3 .2 1.3 .2 1.5 .2-.5 .2 .7 .2-.8 .2-.9 .2 1.8 .2-1 .2-.1 .2 .1 .2-1.5 .2 1.7 .2-1.9 .2 .2 .2 2.1 .2 0 .2-1 .2-1.5 .2 .5 .2 1.3 .2-2.9 .2 3.8 .2-1.7 .2 1.8 .2-1.9 .2 1.2 .2 1 .2-2 .2 0 .2-1.1 .2-.1 .2 2.5 .2 0 .2-2.9 .2 2 .2-1.2 .2 .9 .2-.6 .2 .8 .2 1.1 .2-1.7 .2 .3 .2 2.3 .2-.9 .2 2 .2-.8 .2 .9 .2-.1 .2-2 .2 .7 .2 1.1 .2-1.4 .2-.4 .2 1.7 .2 0 .2 1.1 .2 1.4 .2-1.9 .2 .5 .2-.7 .2 .7 .2 .2 .2 .9 .2 1.1 .2-2.3 .2 2.6 .2 .1 .2 .2 .2-3 .2-1.5 .2 1.6 .2 1.3 .2-.4 .2 1.1 .2 0 .2-1.3 .2 2 .2-.5 .2 1.5 .2 .7 .2 .1 .2-1.4 .2 .4 .2 .2 .2-1.6 .2 1.2 .2-1.5 .2 .8 .2 1 .2-3 .2 2.8 .2-.8 .2-1.9 .2 1.4 .2-1.3 .2 2.1 .2-.5 .2-.8 .2-1.7 .2-.5 .2 3.4 .2-.7 .2-2.1 .2-.1 .2 1.1 .2 .1 .2 .2 .2 .1 .2-.8 .2-.8 .2 1 .2 1.4 .2-2.3 .2 2 .2-2.1 .2 .2 .2 .6 .2-1.2 .2-1.7 .2 .2 .2-1.4 .2 1.4 .2 1 .2-1.5 .2-1.1 .2 2.6 .2-2.5 .2 2.9 .2 .2 .2 .1 .2-2 .2 2.1 .2-1.6 .2-.5 .2 1.4 .2-2.2 .2 2.1 .2-2.3 .2 1.9 .2 1.5 .2 0 .2 .1 .2 0 .2 .1 .2-2.1 .2 2.1 .2-.8 .2-1.3 .2 1.6 .2-1.8 .2 2.5 .2-1.1 .2-.1 .2 .9 .2-3.8 .2 .6 .2 1.2 .2-.8 .2 1.8 .2-2 .2 2.8 .2-.6 .2-2.5 .2 .2 .2-1.3 .2 .6 .2 1.1 .2 1.2 .2-2.1 .2 3 .2 .5 .2-2.1 .2-1.7 .2 .6 .2-.3 .2 2.6 .2 0 .2 1.3 .2-2.5 .2 1.8 .2-1.9 .2 .3 .2 1.3 .2 1 .2-1.8 .2 3 .2-2.2 .2 1.3 .2 .8 .2-.6 .2-1.6 .2 1.1 .2 1.7 .2-3.2 .2 1.5 .2 .3 .2-.9 .2 3 .2-4.2 .2 .6 .2 2 .2-1.2 .2 .1 .2 .7 .2 1 .2 1.6 .2-1 .2-1 .2-.9 .2 1.7 .2-.3 .2 1.6 .2-2 .2 1.9 .2-.1 .2-.5 .2 1.4 .2-2.6 .2 1.2 .2 0 .2-1.5 .2 2.4 .2-1.7 .2 0 .2-3 .2 2.4 .2 .3 .2-1.3 .2 2.2 .2 1.9 .2-3.6 .2 4.2 .2-2.8 .2 .5 .2 2.6 .2-2.9 .2 3.2 .2-.3 .2-1 .2-1.3 .2 .9 .2 1.8 .2-4.2 .2 1.5 .2-1.1 .2 .3 .2 1.6 .2-1.3 .2 2.3 .2-1.6 .2-2.8 .2 2.9 .2-3.4 .2 .1 .2 2 .2 1.3 .2 1.4 .2-1.7 .2 .3 .2 .5 .2 .3 .2-1.2 .2-2.5 .2 0 .2 0 .2 2 .2 .9 .2-2.3 .2 1.5 .2-.7 .2 2.4 .2-.1 .2 2.7 .2-2 .2 3 .2-1.7 .2 .9 .2 1.1 .2-1.6 .2-2.4 .2 1.8 .2-.6 .2 2.6 .2-2.1 .2 1.4 .2-2.9 .2 2.1 .2-1.8 .2-.6 .2-1.1 .2 3.2 .2-2.9 .2 1.3 .2-.9 .2-.7 .2 .7 .2 3.8 .2-.2 .2-3.5 .2-.1 .2-1.1 .2 .4 .2-.4 .2 3.6 .2-1.6 .2-2.4 .2 .2 .2 1.1 .2-2.3 .2 1.6 .2 1.1 .2-1.8 .2-.5 .2-1.7 .2 1.6 .2 1.9 .2-.5 .2 2 .2-.1 .2-3.5 .2 2.2 .2-.4 .2-.3 .2-2.5 .2 3.5 .2-2.8 .2 .7 .2 1.7 .2 .3 .2 1.8 .2-2.8 .2 1.3 .2 1.1 .2-.7 .2-1.1 .2 1.4 .2-3.7 .2 2.4 .2-1.5 .2-.8 .2-1.7 .2 1.7 .2-2.9 .2 1.6 .2-1.2 .2 .9 .2 .9 .2 0 .2 .9 .2-.8 .2 2.2 .2 .2 .2-2.2 .2 .8 .2-2.3 .2-.8 .2 .4 .2 1.7 .2-1.8 .2-1.7 .2 1.8 .2-1.6 .2 2.7 .2 1.5 .2-.8 .2 1.3 .2-1.6 .2 1 .2-2.8 .2-1.2 .2 3.3 .2-.2 .2-2.3 .2 1.9 .2-2.9 .2 3.3 .2-2.2 .2 1.5 .2-2.4 .2-.1 .2 1.7 .2 2 .2-2.7 .2 1 .2-.2 .2 1.1 .2-.3 .2-1.5 .2-2 .2-.4 .2 1.9 .2-1.8 .2 1.1 .2-.4 .2-.5 .2-.6 .2-2.5 .2 .7 .2-2.5 .2 1.8 .2-.6 .2-.9 .2-.5 .2-.1 .2-1.3 .2 1 .2 1 .2-.6 .2 0 .2-.4 .2-.9 .2 1.6 .2-.1 .2-1.4 .2 1.8 .2 .2 .2-2.2 .2 .7 .2-1.6 .2 .8 .2-.8 .2 .6 .2 .4 .2 .4 .2 1.8 .2-1.5 .2 1 .2-1.3 .2 .5 .2 1.3 .2-2 .2 1.8 .2 0 .2-1.5 .2 1.6 .2-.2 .2-1.2 .2-1.8 .2 1.7 .2-2.5 .2 1.3 .2-1.4 .2-.4 .2-.7 .2-2.5 .2 .7 .2 .4 .2-2.7 .2 1 .2 .6 .2-1.8 .2-.1 .2 .2 .2-.6 .2-.7 .2-2.6 .2 1.6 .2 0 .2-1.5 .2-.1 .2 .8 .2 1.9 .2 0 .2-.7 .2-2.3 .2 .7 .2-1.4 .2 2.4 .2 1.3 .2-.9 .2 1.3 .2-1 .2 .8 .2 .3 .2-1.6 .2-1.9 .2 .1 .2 2 .2 .3 .2-1.4 .2-.4 .2 .2 .2-1.2 .2 1.7 .2 2 .2-.5 .2-.1 .2-.3 .2 .5 .2 1.2 .2-1.6 .2-1.2 .2 2.3 .2-.5 .2-.6 .2 1.6 .2-.2 .2-2.2 .2 2.8 .2 .2 .2-.8 .2-1.9 .2 2.1 .2-3.1 .2 1.3 .2-.1 .2-.3 .2-1.5 .2 1.8 .2-.4 .2 2.9 .2-.2 .2-.4 .2 .3 .2-1 .2-1.7 .2 .4 .2 1.6 .2-.6 .2-1 .2-.3 .2 0 .2 .5 .2-1.8 .2-2.9 .2 1.5 .2-.4 .2-.1 .2-1 .2-1.9 .2 .7 .2-3.5 .2 .1 .2-1.1 .2-3.4 .2 1.3 .2-2.5 .2 .7 .2-1.6 .2 1 .2-2.2 .2-1.2 .2-.5 .2-2.1 .2 1.9 .2-2.8 .2 0 .2-.7 .2-.7 .2-2.9 .2-3.8 .2 1.3 .2-.2 .2-3.7 .2-1.5 .2 4.5 .2-1.2 .2-2.5 .2 2.7 .2-4.2 .2-1.5 .2 .9 .2-.2 .2-7 .2-3.2 .2-2.9 .2-3.7 .2 1.5 .2-7.1 .2 7.7 .2 3.3 .2-.9 .2 .6 .2 .1 .2 2.7 .2 .1 .2 9.3 .2-.5 .2-26.4 .2 15.6 .2-12.3 .2 13.7 .2-22.5 .2 2.1 .2 19.8 .2-3.4 .2-1.9 .2 15.3 .2-7.8 .2 .3 .2-11 .2 17.7 .2-5.8 .2-13.7 .2 6.4 .2-20.6 .2 .5 .2 31.5 .2-6.4 .2-10.7 .2 4.3 .2-13 .2 15.8 .2-9.2 .2-16.6 .2 15.5 .2-17.6 .2 14.2 .2 14 .2-5.4 .2 4.4 .2-10.8 .2 .8 .2 19.1 .2-10.3 .2 18.2 .2-29.6 .2 18.1 .2-2.8 .2-25 .2 2.6 .2 21.9 .2-3.4 .2 8.8 .2-12.4 .2-8.6 .2 2.8 .2 1.6 .2-.5 .2 1 .2-.1 .2 1.9 .2-13.7 .2 22.7 .2 5.9 .2-14.8 .2-6.4 .2 26.6 .2-21 .2 7.4 .2-7.9 .2-3.6 .2-4.7 .2 7.8 .2 13.3 .2-21.1 .2 25.1 .2 4.2 .2-18.5 .2 18.3 .2-14 .2 9.1 .2-2.1 .2-17.9 .2-.2 .2-10.2 .2 16.8 .2-7.3 .2 5.1 .2 13.1 .2 3.7 .2-5.9 .2-9.6 .2 8.3 .2-12 .2-7.5 .2 24.9 .2 .4 .2 2.2 .2-17.5 .2-13.6 .2 19.9 .2-13 .2 6.2 .2 16 .2-.3 .2-19 .2 18.4 .2-21.4 .2 15 .2-4.9 .2 .6 .2-7.1 .2-1.3 .2 .1 .2 4.3 .2-13.4 .2 1.5 .2-7.2 .2 11.1 .2-3.6 .2 20.1 .2-13.5 .2 10.6 .2 .8 .2-1.3 .2 .9 .2-11 .2 1.1 .2 7.4 .2-1.6 .2-2.1 .2-.8 .2 1.8 .2-13.2 .2 14.6 .2-7.1 .2-7.8 .2 8.8 .2-9 .2 3.6 .2 1.7 .2-1.7 .2-7.3 .2 8.9 .2-8.2 .2 5.7 .2-11.4 .2 1.6 .2-3.6 .2 3.3 .2-1.9 .2-1.6 .2 10.6 .2-9.2 .2 5.2 .2-3.1 .2 11 .2-5.7 .2 1.9 .2 2.9 .2-2.8 .2 3.6 .2 1 .2-4.6 .2-1 .2 1.6 .2 2.5 .2-3.4 .2 6.7 .2-2.6 .2-2.9 .2 3.7 .2-5.7 .2 1.9 .2 3 .2-3.3 .2-.1 .2 2.9 .2 .3 .2-1 .2 .8 .2 .1 .2-1.3 .2-.7 .2 2.8 .2-2 .2 1.2 .2 1.1 .2-2 .2 2.5 .2 .3 .2 1 .2-.4 .2 0 .2-.9 .2-1.1 .2 .4 .2-.4 .2-.7 .2 1.1 .2-.3 .2 0 .2-.6 .2 .5 .2 1.7 .2-1.6 .2-.5 .2 1.6 .2-1.4 .2 .3 .2 .9 .2-1.6 .2-.3 .2 1.6 .2-1.1 .2 .1 .2-.4 .2-.9 .2 1.9 .2-3.1 .2-1.1 .2 0 .2 1.1 .2 .4 .2-1.9 .2 2.7 .2-.4 .2-.4 .2-.8 .2 .8 .2-1.4 .2 2.6 .2-2.9 .2 2.2 .2-.7 .2 1.3 .2-.3 .2-3.8 .2 .4 .2-1.7 .2 1.2 .2-1.9 .2 2.6 .2-3.2 .2 1.7 .2-4.4 .2-.5 .2-.4 .2 4.7 .2 4.6 .2 8.6 .2 2.6 .2-12.1 .2 9.3 .2 .1 .2 10.8 .2-26.8 .2-6.6 .2-.7 .2 20.1 .2-.4 .2-15.5 .2 6.8 .2-4.5 .2 24.5 .2-8.8 .2-9 .2 9.8 .2 8.8 .2 1.3 .2-15.7 .2-3.6 .2 27.6 .2 1.8 .2 0 .2-18.4 .2 3 .2-10.5 .2 20.5 .2 2.1 .2-33.4 .2-2 .2-.1 .2 4.5 .2 13.9 .2 3.2 .2 .2 .2-16.3 .2 1 .2-8.6 .2 13.6 .2 7.4 .2 9.9 .2-26.6 .2 8.3 .2 4.2 .2-16.3 .2 10.5 .2 1.9 .2 9.7 .2 .5 .2-17.8 .2 24.4 .2-19.6 .2-9.1 .2 11.5 .2 3 .2 1.7 .2-15.9 .2 8.4 .2-8.2 .2 14.3 .2-7.6 .2 6.8 .2-13.2 .2 20.6 .2-19.4 .2 15.1 .2 12 .2-8.3 .2-3.2 .2 14.6 .2-20.3 .2 19.6 .2-.6 .2-9.2 .2 20.3 .2-16.6 .2 16.4 .2-11.1 .2-9.3 .2 8.3 .2 6.5 .2-12.1 .2 17.4 .2-11.9 .2 .8 .2-7.1 .2 12.2 .2-27 .2 27.5 .2-13 .2 12 .2-8.3 .2-4.4 .2-14.5 .2 17.4 .2-4.1 .2-2.4 .2 6.4 .2-7.6 .2 3.7 .2 10.2 .2-8.8 .2-2.5 .2 6.9 .2 1.4 .2 9 .2-20.4 .2-7 .2-5.7 .2 7.3 .2-3.3 .2 14.4 .2-18.1 .2 18 .2-15.4 .2 14.8 .2 3.7 .2 1.3 .2-4.4 .2-2.4 .2 5.5 .2-2.9 .2 4.9 .2-2.4 .2-1.5 .2-2.9 .2 16.6 .2-4.8 .2-9.1 .2-14.9 .2 16.5 .2-12.1 .2 2.6 .2 11.5 .2 0 .2-2 .2-.1 .2 1.6 .2 4 .2-9.9 .2-12.4 .2 20.8 .2-13.8 .2 9.3 .2-15.9 .2 5.1 .2 9.7 .2-3 .2 11.3 .2 3.1 .2-18.1 .2 .4 .2-.5 .2 12.9 .2-4.5 .2 0 .2 .1 .2-15.2 .2 13.4 .2-11.1 .2 3.6 .2 9.5 .2 7 .2-11.9 .2 8.9 .2-16 .2 8.5 .2-1.4 .2 1.2 .2-9.9 .2 .3 .2 .3 .2 19.5 .2-18.9 .2 21.7 .2-11.9 .2 4.4 .2-3.2 .2-1.9 .2 9.8 .2 11.8 .2-4 .2 4.1 .2 1.6 .2-14.2 .2 5.2 .2 2.1 .2-.7 .2 18.7 .2-23.9 .2 .9 .2-6.2 .2 11.1 .2 5.6 .2-1.3 .2-16.6 .2 15.2 .2-11.3 .2-2.7 .2 6.5 .2-1.3 .2 19.7 .2-13.7 .2 15.7 .2-22.1 .2 4.1 .2-10.9 .2 3.1 .2 11.6 .2-13.6 .2 14 .2 .6 .2-4.9 .2-9.7 .2 7.6 .2 3.1 .2-11 .2 6.3 .2 8.1 .2 3.5 .2-5 .2-5.1 .2 9.8 .2-2.9 .2-4.6 .2-8.9 .2 14.8 .2-12.4 .2 .8 .2 5.4 .2-8.9 .2 .3 .2 6.8 .2 3.7 .2 13 .2-2.1 .2-5.8 .2 7.7 .2-12.4 .2 5.3 .2-12 .2 6.4 .2-11.7 .2 13.8 .2-4 .2 3 .2-5.7 .2 2.6 .2 .3 .2 6.7 .2 5.6 .2-1.6 .2-13.8 .2 .3 .2 2 .2-5.4 .2 9.8 .2-7.9 .2 5.2 .2 8.6 .2 1.7 .2-3.5 .2 .9 .2-2.3 .2-6.5 .2-1.9 .2-1.1 .2 5.1 .2-4.3 .2-1.8 .2 4.7 .2 8.4 .2-8.6 .2 16.6 .2-5.7 .2 2.1 .2-7.1 .2 6.2 .2 1 .2-16.1 .2 12.9 .2-14.5 .2 4.4 .2 2.4 .2 8.2 .2-.9 .2-2.2 .2-.4 .2 8.2 .2-13.2 .2 5 .2-2.6 .2 7.1 .2 7 .2 5 .2-16.3 .2-2.1 .2 2.4 .2 10.4 .2 3 .2-7 .2-8.6 .2-9.6 .2 6.8 .2-.6 .2-9.1 .2 10.2 .2 10.8 .2-13.3 .2 12.6 .2 5.3 .2-2 .2-5.6 .2-1.3 .2 2.1 .2-6 .2 11.5 .2-9.3 .2 4.9 .2 1.9 .2-11.3 .2-7.5 .2-2 .2 .3 .2-.7 .2 9.3 .2-9.2 .2 0 .2 10.8 .2-9.2 .2 .5 .2 4.1 .2-3.7 .2-2.2 .2 4.4 .2-.9 .2 4.1 .2-2.7 .2-4.6 .2 6.7 .2-.7 .2-1.6 .2-1.7 .2 7.8 .2-6.9 .2-.6 .2 0 .2-2.8 .2 2.3 .2 4.3 .2-6.5 .2 5.7 .2-2.4 .2-.6 .2 2.3 .2-2.5 .2 4.7 .2 1.6 .2-3.5 .2 .2 .2 2.3 .2 1.6 .2-3.9 .2 1.4 .2 3 .2-1.4 .2-1.6 .2 .9 .2 .7 .2-8.2 .2 0 .2 4.4 .2 .3 .2 .9 .2-5.1 .2 5.9 .2-5.6 .2-.7 .2 1.1 .2 4.1 .2-.5 .2-4.6 .2 0 .2 .2 .2-.2 .2 1 .2 .7 .2-1.6 .2 1.6 .2 3.7 .2-3.2 .2-1.5 .2 7.3 .2-2.5 .2-2.2 .2 8.5 .2-2.5 .2 .9 .2-3.6 .2 1.3 .2 .2 .2 4.8 .2-6.7 .2 5.2 .2-7.9 .2 6.1 .2 .5 .2 .1 .2-5.4 .2-1.2 .2 4 .2-2.5 .2-3.5 .2 7.1 .2-3.1 .2-5.3 .2 5.3 .2 4.3 .2 1.6 .2-1.6 .2 3.1 .2-.5 .2-6 .2-7.2 .2 7.7 .2-5.5 .2 .6 .2 4.2 .2 0 .2-.9 .2 5.4 .2-9.7 .2 8.5 .2-4 .2 1.5 .2-1.6 .2 10 .2-1.6 .2-9.1 .2 3.4 .2-.1 .2-11.4 .2 9 .2 .6 .2-10.5 .2 2.3 .2 6.8 .2 5.2 .2-7.5 .2 8.7 .2-4.8 .2-5 .2 3.4 .2 .6 .2-4.1 .2 7.8 .2-5.7 .2 4.4 .2-.6 .2-6.3 .2-4.6 .2 4 .2-.8 .2-3.4 .2-1.3 .2 11.7 .2 4 .2-5.7 .2 2.6 .2-4.1 .2-.1 .2 2.1 .2 3.6 .2-12 .2 12.8 .2-10.7 .2-6.1 .2 1.2 .2 6 .2-4.6 .2 6 .2-4.2 .2-.3 .2-2.4 .2 10.9 .2-1.4 .2-9.9 .2 8.8 .2-4.7 .2 3.1 .2-4.3 .2 8.6 .2-7.8 .2 10.3 .2-2.1 .2-13.4 .2 4.1 .2 7.7 .2-1.6 .2-7.5 .2 6.5 .2-9 .2 .9 .2 4.9 .2 3.3 .2 5.8 .2-10.5 .2 7.4 .2-8.8 .2 7 .2-.5 .2 .2 .2-8.6 .2 5.3 .2 3.8 .2-3 .2 6.9 .2-2.3 .2-3.1 .2-4.3 .2 5.9 .2-11.7 .2 .6 .2 7 .2-.3 .2 2.9 .2-4.3 .2 4.8 .2-4.7 .2-1.8 .2 1.5 .2 1.3 .2 6.3 .2-10.2 .2-1.1 .2 8.8 .2-14.1 .2-1.2 .2-.7 .2 2.1 .2 4.1 .2 1 .2 7.4 .2-4.7 .2-3.6 .2-1.4 .2 .5 .2 3.6 .2-1.8 .2 1.8 .2-5.3 .2-4.9 .2 3.4 .2-7.7 .2 6.1 .2-3.5 .2 6.5 .2-6.3 .2 11.6 .2-11.5 .2 14.3 .2-9.6 .2 2.3 .2 .3 .2-7.1 .2 12.2 .2-15.7 .2 2.6 .2 4.9 .2-9.1 .2 2.6 .2 5.7 .2-2.5 .2-8.6 .2-1.5 .2 8.5 .2-7 .2 9.6 .2-8.3 .2 2.6 .2 13.4 .2-2 .2-4.9 .2 5.2 .2-3.9 .2-3.2 .2-.1 .2 2.6 .2-5.5 .2-7.9 .2 5.4 .2 2.3 .2 6.5 .2 8.2 .2-13 .2-2.7 .2 .6 .2 11 .2-11 .2 .9 .2-5.3 .2 6.4 .2-1.2 .2 6.4 .2 2.8 .2-9 .2-.3 .2 7.5 .2-4.3 .2-3.7 .2 .3 .2 6 .2 2.1 .2-3.8 .2 1.9 .2-3.3 .2 5.2 .2-6.2 .2 .5 .2 8 .2-.4 .2-6.8 .2 2.4 .2-1.3 .2 3.8 .2-1.7 .2-1.3 .2 .2 .2-3.3 .2-.2 .2 2.3 .2-.5 .2 3 .2 1.2 .2 3.3 .2-1.1 .2-3.3 .2 2.3 .2-3.3 .2 1 .2 2 .2-2.8 .2-3.7 .2 5.7 .2-1.9 .2-3 .2 3.3 .2-2.2 .2-2.9 .2 3.5 .2 2.7 .2 .9 .2-1.5 .2-3.3 .2-1.6 .2 1.6 .2 .5 .2 0 .2-.4 .2 1.9 .2 2.4 .2-.4 .2 1.6 .2-3.4 .2 1 .2-3.9 .2-.4 .2 4.3 .2 .4 .2 1.4 .2-1.8 .2 .7 .2 .2 .2 .8 .2-2.5 .2 1.6 .2-1.2 .2 2.1 .2 1.1 .2 0 .2 1.8 .2-3 .2 2.7 .2-1.9 .2 1.9 .2-2.5 .2 .5 .2-2.3 .2 3.8 .2-4.7 .2 1.3 .2 1.7 .2 2.2 .2-1.4 .2-1.2 .2 .2 .2-2.2 .2 .5 .2-.7 .2 2.1 .2 1.9 .2-2.5 .2-.1 .2 3.7 .2-.1 .2-.3 .2-1.4 .2 1.7 .2-2.4 .2 1.6 .2-.5 .2 0 .2 3.9 .2 .6 .2-.8 .2 1.5 .2-1.7 .2 0 .2 1.1 .2-.5 .2-1.7 .2 1.4 .2 .1 .2 .2 .2 2 .2-2.8 .2 3.1 .2 1.7 .2-2.5 .2 1.3 .2-2 .2 2.7 .2-.7 .2 .3 .2-1.3 .2 .2 .2-.5 .2 .2 .2 1.9 .2-.9 .2 1.4 .2-1.2 .2 2.2 .2-1.3 .2 .9 .2 .6 .2-.8" stroke="#ff0000" stroke-width="2" stroke-linejoin="round" fill="none"/>
<path d="M1726 455V110" stroke="#1f77b4" stroke-width="2" stroke-dasharray="2.083 3.4375" fill="none"/>
<path d="M1206 411.9L1211 411.9M1206 368.8L1211 368.8M1206 325.6L1211 325.6M1206 282.5L1211 282.5M1206 239.4L1211 239.4M1206 196.2L1211 196.2M1206 153.1L1211 153.1M1245.2 454L1245.2 449M1319.6 454L1319.6 449M1394 454L1394 449M1468.4 454L1468.4 449M1542.7 454L1542.7 449M1617.1 454L1617.1 449M1691.5 454L1691.5 449M1765.9 454L1765.9 449" stroke="#000" stroke-width="1.2" fill="none"/>
<path d="M1799 386L1794 386M1799 317L1794 317M1799 248L1794 248M1799 179L1794 179" stroke="#ff0000" stroke-width="1.2" fill="none"/>
<g stroke-width="2" fill="none"><path d="M1204 110H1801" stroke="#000"/><path d="M1204 455H1801" stroke="#000"/><path d="M1205 109V456" stroke="#000"/><path d="M1800 109V456" stroke="#ff0000"/></g>
<text x="1158.67" y="462.7" font-size="20.61" textLength="41.03" lengthAdjust="spacingAndGlyphs">−20</text>
<text x="1158.67" y="419.57" font-size="20.61" textLength="41.03" lengthAdjust="spacingAndGlyphs">−15</text>
<text x="1158.67" y="376.45" font-size="20.61" textLength="41.03" lengthAdjust="spacingAndGlyphs">−10</text>
<text x="1171.04" y="333.32" font-size="20.61" textLength="28.66" lengthAdjust="spacingAndGlyphs">−5</text>
<text x="1187.33" y="290.2" font-size="20.61" textLength="12.37" lengthAdjust="spacingAndGlyphs">0</text>
<text x="1187.33" y="247.07" font-size="20.61" textLength="12.37" lengthAdjust="spacingAndGlyphs">5</text>
<text x="1174.96" y="203.95" font-size="20.61" textLength="24.74" lengthAdjust="spacingAndGlyphs">10</text>
<text x="1174.96" y="160.82" font-size="20.61" textLength="24.74" lengthAdjust="spacingAndGlyphs">15</text>
<text x="1174.96" y="117.7" font-size="20.61" textLength="24.74" lengthAdjust="spacingAndGlyphs">20</text>
<text x="1804.9" y="462.3" font-size="20.61" textLength="12.37" lengthAdjust="spacingAndGlyphs" fill="#ff0000">0</text>
<text x="1804.9" y="393.3" font-size="20.61" textLength="37.11" lengthAdjust="spacingAndGlyphs" fill="#ff0000">200</text>
<text x="1804.9" y="324.3" font-size="20.61" textLength="37.11" lengthAdjust="spacingAndGlyphs" fill="#ff0000">400</text>
<text x="1804.9" y="255.3" font-size="20.61" textLength="37.11" lengthAdjust="spacingAndGlyphs" fill="#ff0000">600</text>
<text x="1804.9" y="186.3" font-size="20.61" textLength="37.11" lengthAdjust="spacingAndGlyphs" fill="#ff0000">800</text>
<text x="1804.9" y="117.3" font-size="20.61" textLength="49.47" lengthAdjust="spacingAndGlyphs" fill="#ff0000">1000</text>
<text transform="translate(1116.3 282.5) rotate(-90)" y="0" font-size="25.2"><tspan x="-39.14" textLength="41.59" lengthAdjust="spacingAndGlyphs">IMF</tspan> <tspan x="10.08" textLength="29.06" lengthAdjust="spacingAndGlyphs">Bz</tspan></text>
<text transform="translate(1145.6 282.5) rotate(-90)" y="0" font-size="25.2"><tspan x="-31.93" textLength="9.36" lengthAdjust="spacingAndGlyphs">(</tspan> <tspan x="-14.94" textLength="29.87" lengthAdjust="spacingAndGlyphs">nT</tspan> <tspan x="22.56" textLength="9.36" lengthAdjust="spacingAndGlyphs">)</tspan></text>
<text transform="translate(1878.5 283) rotate(-90)" y="0" font-size="25.2" fill="#ff0000"><tspan x="-70.37" textLength="38.96" lengthAdjust="spacingAndGlyphs">SW</tspan> <tspan x="-23.78" textLength="94.15" lengthAdjust="spacingAndGlyphs">Velocity</tspan></text>
<g transform="translate(1911.3 282.5) rotate(-90)"><text x="-56.97" y="0" font-size="25.2" textLength="9.36" lengthAdjust="spacingAndGlyphs" fill="#ff0000">(</text><text x="-39.97" y="0" font-size="25.2" textLength="37.28" lengthAdjust="spacingAndGlyphs" fill="#ff0000">km</text><text x="2.7" y="0" font-size="25.2" textLength="12.5" lengthAdjust="spacingAndGlyphs" fill="#ff0000">s</text><text x="15.21" y="-8.74" font-size="17.81" textLength="24.77" lengthAdjust="spacingAndGlyphs" fill="#ff0000">−1</text><text x="47.6" y="0" font-size="25.2" textLength="9.36" lengthAdjust="spacingAndGlyphs" fill="#ff0000">)</text></g>
<path d="M1205 512H1799" stroke="#000" stroke-width="2" stroke-dasharray="2.083 3.4375" fill="none"/>
<path d="M1205 511.1L1213 505.6L1221.6 511.8L1230.2 507L1238.9 506.6L1249.2 506.3L1254.4 511.8L1259.6 510.8L1263.1 507L1270 509L1278.6 515.3L1287.2 512.5L1294.1 509L1302.8 507.7L1309.7 509.4L1321.8 509.4L1328.7 515.3L1333.9 514.6L1340.8 511.8L1346 514.6L1350.1 515.3L1359.1 506.6L1366.7 508.4L1373.6 509L1380.5 512.8L1389.1 514.2L1397.8 513.9L1408.1 515.3L1410.9 511.8L1420.2 510.8L1428.8 511.1L1434 508.4L1442.7 507.7L1450 511.1L1456.9 509.1L1463.8 511.1L1470.7 504.9L1475.9 502.8L1481.1 502.2L1484.6 499.7L1489.7 498.7L1492.5 496.6L1495.6 496.6L1498.4 504.2L1501.8 506.6L1505.3 511.8L1508.1 511.8L1512.2 517.4L1515.7 515.3L1520.1 512.5L1523.6 517.4" stroke="#000" stroke-width="2" stroke-linejoin="round" fill="none"/>
<path d="M1205 657l.2 5.3 .2-8.4 .2-.6 .2 6 .2 3.9 .2-2 .2 9 .2-4.4 .2-4.2 .2-3.2 .2 6 .2 4.7 .2-3.8 .2 6.2 .2 3 .2-13.1 .2-3.7 .2 .6 .2 7.6 .2 4.3 .2-4.2 .2-7.4 .2-.7 .2-4.6 .2 14.1 .2 2.3 .2-4.2 .2 8.5 .2 7.9 .2-2.8 .2 2.5 .2-3.8 .2-3.3 .2-15.2 .2 3.5 .2 3.9 .2 4.9 .2-5.1 .2-1.8 .2-5.3 .2-4.2 .2 3.3 .2 16.4 .2-16.3 .2 8.2 .2-8.6 .2 10.8 .2 27.4 .2-8.3 .2-1.8 .2-20 .2 6.6 .2 15.6 .2 2.5 .2-8.8 .2 12.7 .2-6.9 .2-9.6 .2-.2 .2-1.6 .2 6.1 .2 2.5 .2-24.2 .2 3.1 .2 19.3 .2-12.1 .2 23.7 .2 0 .2 3.2 .2-11.1 .2-2.9 .2-4.6 .2 1.3 .2 8.9 .2-4.8 .2-7.6 .2 3.6 .2 2.8 .2-2.9 .2-8.6 .2 15.7 .2-20.5 .2 4.6 .2-13.2 .2 18.9 .2 6.3 .2-6 .2 3.3 .2-2.3 .2-9.5 .2 5.1 .2-21.4 .2 26.1 .2-25.2 .2-1.3 .2 .1 .2 12.7 .2-2.2 .2 5.8 .2-23.9 .2-.1 .2 17 .2 4.2 .2 2.3 .2-12.5 .2 10.7 .2-6.5 .2-9 .2 23.1 .2 2.5 .2-12.4 .2 10.5 .2-22.1 .2 13.5 .2-.6 .2-24.2 .2 24.9 .2-1.8 .2-16.2 .2-15.3 .2 .2 .2-3.6 .2 23.8 .2-11 .2 19.3 .2 .6 .2-7.4 .2-45.5 .2 17.7 .2-57.7 .2 0 .2 55.7 .2-22.8 .2 54 .2-16 .2-9.3 .2-11.7 .2 19.8 .2-17.7 .2 19.9 .2-3.7 .2-.9 .2 9.1 .2 9.6 .2-17 .2-.7 .2-2.8 .2-3.9 .2-.2 .2 25.3 .2 23.8 .2-39.3 .2 19.2 .2-.5 .2 6.4 .2-33.2 .2 20.5 .2-9.5 .2 7.1 .2 10.7 .2-1.8 .2-27.5 .2 7.3 .2-13.9 .2-7 .2 13.2 .2-12.1 .2 5.3 .2 12.9 .2-2.8 .2 3 .2-4.4 .2 19.8 .2-19.5 .2 25.2 .2 7.9 .2-8.8 .2-31.9 .2-.5 .2 35.4 .2-30.8 .2 35.9 .2 15.2 .2-34.5 .2 42.1 .2 3.3 .2-17.4 .2 22 .2-34.7 .2 23.7 .2 11.7 .2-18.2 .2 3.5 .2 6.3 .2 9.3 .2-9.3 .2-8.7 .2 18.8 .2-28.7 .2-14.6 .2 25.2 .2-10.4 .2 14.7 .2-23.3 .2-21.2 .2-4.5 .2 18.2 .2-4.7 .2 27.4 .2 7.7 .2-5.5 .2 23 .2 .3 .2-12.6 .2 13 .2-1.7 .2 2.2 .2 .3 .2-39.3 .2 36.1 .2-25.5 .2-15.1 .2 30.5 .2 6 .2-27.9 .2 10.5 .2-20.6 .2 23.5 .2-9.5 .2-13.7 .2 3.5 .2 37.7 .2-18.5 .2-1.1 .2 22.7 .2-12.1 .2-4.1 .2 1.4 .2 15.1 .2 2.4 .2 0 .2 .1 .2-15.9 .2-2.6 .2-4 .2 12.9 .2-8.7 .2-5.1 .2-15.1 .2 1.4 .2-15.5 .2 13.3 .2 25.2 .2-23 .2-19 .2 57 .2-23.4 .2-5.9 .2 5.3 .2 14.8 .2-12.6 .2-15.5 .2 24.5 .2-26.1 .2 30.1 .2-28.8 .2 38.4 .2-20.4 .2-22 .2 27.1 .2 15.5 .2-10.5 .2-24.9 .2-22.6 .2 23.4 .2 12.6 .2 4.3 .2 18.3 .2-24.2 .2-9.7 .2-29.3 .2 43.4 .2-38.8 .2 41.6 .2-8.2 .2 2.5 .2-26.7 .2 2.3 .2 6.5 .2-1.9 .2 27.5 .2 38.7 .2-5.4 .2 .2 .2-41.7 .2 25.2 .2-14.8 .2-17.5 .2 22.9 .2-23.7 .2 7 .2 11.5 .2-28.6 .2 30.2 .2-9.2 .2 4.6 .2 16 .2-21.9 .2 1.6 .2-1.6 .2 2.5 .2-8.8 .2 22.7 .2-32.6 .2 16.5 .2-2.2 .2-11.5 .2 27.4 .2 .4 .2 .5 .2-22.8 .2 23.8 .2-4.2 .2 14.3 .2-30.1 .2 4.9 .2 10.9 .2-10.4 .2-.9 .2 19.7 .2-3.9 .2-30.1 .2 18.9 .2 13 .2-37.5 .2 9.9 .2 4.2 .2-1.8 .2 6.2 .2-12.3 .2 13.8 .2 .3 .2-2.2 .2 2.3 .2-15.5 .2-11.1 .2-8.5 .2-13 .2-28.2 .2 2.9 .2 30.5 .2-70.7 .2 17 .2-68.7 .2 0 .2 83.7 .2-15.9 .2 26.2 .2-13.8 .2 49.3 .2-16 .2 36.1 .2 4.4 .2-9 .2 38.9 .2-11.9 .2-.1 .2-11.3 .2-11.3 .2 13.6 .2-11 .2 .2 .2 .5 .2 23.1 .2-17.2 .2 21.9 .2-14.7 .2-8.8 .2 .8 .2 .9 .2 19.7 .2 9.4 .2-14.7 .2-2.6 .2 4.8 .2-10.5 .2 5.6 .2-3.9 .2 10.1 .2-10.4 .2 14.8 .2 14 .2-20.7 .2-3.2 .2 14.4 .2 8.6 .2-16.6 .2-7.5 .2-9.2 .2 14.8 .2-10.9 .2 8.2 .2 7.4 .2-15.8 .2 10.2 .2 1.2 .2-9.5 .2-3.9 .2 16.9 .2-8.1 .2 17.4 .2 2.3 .2-15.4 .2 .1 .2-23.3 .2-.3 .2 37.8 .2-2.1 .2-3.4 .2 14.2 .2-31.7 .2-4.3 .2 39.1 .2-34.6 .2 45.6 .2-35.9 .2 29.2 .2-2.1 .2-36.2 .2 22.7 .2 1.7 .2 12.7 .2-7.8 .2 11.6 .2-43.9 .2 14.3 .2-29.7 .2 5.7 .2 22.1 .2-23.1 .2 25.7 .2-12.2 .2 5 .2 5.9 .2-2.8 .2 23.1 .2-29.5 .2 21 .2 13.7 .2-3.9 .2-22.6 .2-6.2 .2 2.6 .2-1.4 .2 39 .2-34 .2 4.2 .2 3 .2 19.6 .2 7.8 .2-25.7 .2 22.8 .2-24 .2-16.5 .2 32.2 .2-11.8 .2-6.3 .2 27.8 .2-34.5 .2 17.3 .2-19 .2 26.3 .2-6.2 .2-1.3 .2-3.2 .2-6 .2 3.6 .2-.6 .2 19 .2-25.1 .2-5.7 .2 22.4 .2-12.7 .2-21.2 .2-11.6 .2 31.5 .2 5.8 .2-17.5 .2-5.8 .2 18.6 .2-27 .2 9.6 .2-21.4 .2 35.7 .2 11 .2-14.3 .2-26.3 .2 6.1 .2-23.7 .2 14.8 .2 26.4 .2 9.3 .2-38.8 .2 9.8 .2 6.6 .2-12.6 .2 24.2 .2-41.8 .2 18.5 .2 36.6 .2-50.6 .2 11.6 .2 13.2 .2 38.7 .2-1 .2-6.7 .2 4.7 .2-38.4 .2 6.6 .2-30.3 .2 28.6 .2-31.2 .2 32.1 .2-17 .2-9.4 .2 27.2 .2 13.2 .2-43.2 .2 28.7 .2-43.8 .2 30.8 .2 5.1 .2-43.2 .2 11.8 .2 32.9 .2-7.6 .2-11.7 .2 33.8 .2-5.1 .2-22.7 .2-3.2 .2 41.3 .2-23.2 .2-13.6 .2 10.8 .2-22 .2 22.1 .2-33.7 .2 44 .2-17.4 .2-14.4 .2 6.9 .2 14.6 .2-16.9 .2 17.4 .2-.3 .2-20 .2 14.6 .2-9.8 .2 25.7 .2 19 .2-11.5 .2-13 .2 18.6 .2-34.6 .2 37.1 .2-27.1 .2-21.5 .2 43.5 .2-27.2 .2 35.9 .2 2.1 .2-2.7 .2-1.7 .2-16.4 .2 0 .2 4.1 .2-26.4 .2-18.7 .2 .3 .2 4.1 .2 36.4 .2 25.1 .2-24.4 .2 21.9 .2 6.5 .2-34 .2 12.8 .2 8.6 .2-16.9 .2-8.9 .2-28 .2 27.3 .2 26.6 .2-9.8 .2-5.1 .2 12.6 .2-3.8 .2 16.8 .2-11.7 .2-4.3 .2-24.7 .2 19.9 .2-10.6 .2 9.4 .2-28.3 .2 42.6 .2-48.8 .2 21.7 .2 13.5 .2-19.8 .2-8.5 .2-4 .2 7.5 .2 9.4 .2-3.3 .2-1.2 .2-7.4 .2 8.6 .2-3.3 .2-9 .2-9.9 .2-18.1 .2-5.2 .2 19.2 .2-25.6 .2 .1 .2 .8 .2 7.9 .2 33.6 .2-8.8 .2 12 .2-31 .2 1.4 .2 3.9 .2 18.8 .2 6.8 .2-31.9 .2 14.4 .2 13.1 .2 2.2 .2-15.2 .2-10.3 .2 5.5 .2 4.4 .2-25.8 .2 37.3 .2-8.3 .2 3.1 .2 11.5 .2-.5 .2 1.7 .2 2 .2-9 .2-12.9 .2 2.9 .2-7.4 .2 1.7 .2 3 .2 18.7 .2-16.9 .2 16 .2-2.9 .2 1.1 .2-12.7 .2 12.8 .2-11.5 .2 6.5 .2-13.1 .2 6 .2-12.6 .2-1.2 .2 1 .2 .4 .2 9.3 .2 4 .2 .1 .2 2 .2 3.7 .2-4 .2-9.1 .2 5.3 .2-4.6 .2 7.2 .2-6.6 .2 7 .2-18.6 .2 7.4 .2 1.9 .2-4.7 .2 2.6 .2 7.6 .2-13.1 .2 4.1 .2 1.3 .2-10.7 .2-1.1 .2-.1 .2 10.6 .2-7.7 .2 14.6 .2-19.3 .2 16.4 .2-5.6 .2 6.4 .2-4.7 .2 1.1 .2-5.3 .2-6 .2 12.9 .2-3.2 .2 6.3 .2-3.7 .2 3.8 .2 7 .2-7.7 .2 4.4 .2 5.5 .2-11.7 .2 2.6 .2-4.8 .2 7.5 .2 4.2 .2-4.9 .2-8.5 .2-4.1 .2 1 .2 4.1 .2-4.2 .2-.3 .2 1.8 .2-5.6 .2 .6 .2 10.1 .2-.7 .2-2.9 .2-6.4 .2 5.4 .2 6 .2-4.3 .2-1.9 .2 2.6 .2-4.2 .2-2.2 .2 4.5 .2 10.4 .2-2.2 .2 5.9 .2 3.5 .2 2.6 .2-2.1 .2 1.8 .2-4.7 .2-4.3 .2 4.2 .2 5.4 .2-6.8 .2 5.2 .2-16.3 .2 18.8 .2-8.6 .2-1.7 .2-2.3 .2-8.6 .2 8.8 .2-1.3 .2 6.3 .2 7.5 .2 7.9 .2-8.1 .2 11.9 .2-7 .2-13 .2 13.1 .2 1.7 .2-9.1 .2 1.3 .2 3.6 .2 5.3 .2-8.2 .2 2.4 .2 17.7 .2-7.5 .2 .9 .2-18.4 .2-6.2 .2-8.8 .2 7.1 .2-2 .2-4.3 .2 12 .2 8 .2-9.7 .2-2.5 .2 6.1 .2-6.4 .2 1.5 .2 3.6 .2 3.5 .2-4.2 .2-10.2 .2 14.4 .2-.1 .2 .1 .2-10 .2 5.9 .2-7.7 .2 12.1 .2-12.5 .2 8.2 .2 .3 .2 2.4 .2 8.2 .2-4.8 .2 3.5 .2-.7 .2-12.1 .2 4 .2 6.6 .2 2.7 .2-2.3 .2-1.4 .2-1.9 .2-11.7 .2-2.3 .2 16.8 .2-3.5 .2 11.5 .2-8.3 .2 3.8 .2-7.5 .2 .4 .2 3.9 .2-8.6 .2 13 .2-8.5 .2 8.1 .2 7.3 .2-8.2 .2 12.2 .2-8.4 .2 8 .2-4.3 .2-2.8 .2 4.7 .2-.1 .2-6.9 .2-3 .2 3.1 .2 6.3 .2-3.7 .2 12.2 .2-5.8 .2-.9 .2 8.4 .2-.3 .2-15 .2-3.9 .2 11.5 .2-13.9 .2 1.1 .2-1.6 .2 1.1 .2 5.1 .2 1.6 .2-1.6 .2 10 .2-6.9 .2 10 .2 9.3 .2-24.4 .2 10.8 .2-19.8 .2-27.8 .2 23.9 .2-27 .2-67.3 .2 0 .2 53.7 .2 76.6 .2 6.4 .2-46.9 .2 11.8 .2 14.2 .2-11 .2 14.8 .2-11.2 .2 16.5 .2 .9 .2-1.1 .2-14.5 .2 14.7 .2-12 .2 12.2 .2-9.5 .2-7.6 .2-3.1 .2 15.6 .2-1.2 .2 9.7 .2-7.5 .2-3.6 .2 18.8 .2-23.3 .2 5.8 .2 5.2 .2 1.1 .2-4.2 .2-5.8 .2 11.4 .2 .1 .2-23.8 .2 9.7 .2 6.9 .2-11.6 .2 27.3 .2-8.7 .2 1 .2-10.1 .2-.1 .2-4.2 .2 1.2 .2 7.6 .2-5.8 .2 .2 .2-6.1 .2-10.3 .2 11.7 .2-1.9 .2-8 .2 12.5 .2-11.1 .2 1.7 .2 6.7 .2-8.6 .2 29.2 .2-4.4 .2-1.2 .2-.5 .2-19.2 .2 2.8 .2 11.8 .2-9.9 .2 6.2 .2-5.3 .2-1.4 .2 27 .2-6.2 .2-4.1 .2 9.7 .2-.8 .2-16.4 .2-24 .2 30.3 .2-34.3 .2 12.9 .2-39.1 .2 1 .2 12.4 .2-9.6 .2 36.2 .2-48.5 .2 51.3 .2-130.8 .2 0 .2 171.5 .2-77.7 .2-6.1 .2 28.1 .2 32.8 .2-27.1 .2 46.3 .2-3.6 .2-20.9 .2 12.9 .2 3.7 .2-22.7 .2 10.5 .2-1.2 .2-7 .2-1.9 .2-24.6 .2 24 .2-17.4 .2 19 .2-10.1 .2 7.1 .2 2.2 .2-17.2 .2 15.6 .2 2.3 .2-16 .2 9.5 .2 17.6 .2-14.6 .2 3.4 .2-7.7 .2 7.3 .2-.7 .2-.4 .2-12.3 .2 8.4 .2 .2 .2 8.4 .2-11.2 .2 12 .2-.9 .2 10.5 .2-5.7 .2 1.4 .2-3.3 .2-17 .2 1.9 .2 21.9 .2-8.7 .2-11.5 .2 .1 .2 4.3 .2-.5 .2 .3 .2-14.7 .2 15.1 .2-1 .2 16.8 .2 1.9 .2-11.7 .2-.1 .2-4.6 .2 20.3 .2-17 .2 3.6 .2 2.4 .2 2.1 .2 2.2 .2-12.9 .2 7.4 .2 11.3 .2-14.4 .2 18.3 .2-20.4 .2 1.9 .2 2.7 .2 10.5 .2-1.8 .2-3 .2-12 .2 6.8 .2 6.8 .2-14.7 .2 4.5 .2-3.8 .2-4.8 .2 20.6 .2 4.7 .2-11.5 .2 19 .2-15.3 .2-13.4 .2 3.8 .2 11.8 .2-7.4 .2 4 .2-19.8 .2 8.7 .2 12.6 .2 2.3 .2-9.5 .2 12.1 .2-20.9 .2 21.1 .2 9.7 .2 5.2 .2 .3 .2-19.9 .2 11.6 .2 9.2 .2-21.7 .2 7.7 .2 .7 .2 3.6 .2-19.1 .2 10 .2-9.1 .2 5.4 .2 7.5 .2-17.3 .2 20.2 .2-9.4 .2-4.9 .2 16.3 .2-6 .2-17.3 .2-6.8 .2 4.3 .2 9.6 .2 1 .2 .7 .2-20.4 .2-2.7 .2 15.8 .2-3 .2-11 .2 18.8 .2-22.6 .2 21.4 .2-22.1 .2 13.7 .2-8.3 .2 19 .2-20.1 .2 6 .2 18.5 .2-3.7 .2-4.6 .2-2.1 .2-8.2 .2 19.2 .2-15.4 .2 21.3 .2-3.4 .2 0 .2-6.1 .2-21.1 .2-10.8 .2 5.5 .2 22 .2 8.3 .2-16.8 .2 .5 .2-15.6 .2 2.3 .2 5.2 .2 14.4 .2-11 .2 10.6 .2-2.6 .2-22.2 .2 34 .2-6.6 .2-2.5 .2 10.5 .2 3.3 .2-5.9 .2 9.2 .2 13.2 .2-16 .2 16.9 .2 .4 .2 .5 .2-14.4 .2-19.2 .2-5.1 .2 32.8 .2-44 .2 34.3 .2-23.1 .2 33.9 .2-29.4 .2 20.7 .2-17.8 .2 16.7 .2-7.8 .2-2.5 .2 16 .2-5.4 .2 1.6 .2 4 .2-13.3 .2-12.3 .2 15.6 .2 18.1 .2-13.4 .2-17.4 .2 14.4 .2-14.5 .2 2.4 .2 6.7 .2-18.1 .2 16.2 .2-27.3 .2 8.8 .2-11.7 .2 6.8 .2 19.7 .2 8.6 .2-13.1 .2-3.3 .2 6.9 .2 1.4 .2 0 .2-12.9 .2 3.6 .2 6.4 .2-19.4 .2 4.4 .2 13.7 .2-9.7 .2 8.5 .2-1.8 .2-3.1 .2-.5 .2-7.9 .2 14.1 .2-8.4 .2-2.9 .2 .9 .2 7 .2-9.4 .2 11.3 .2-8.5 .2 7.9 .2-7.2 .2 3.7 .2-5.4 .2 8.1 .2-6 .2 4.5 .2-5.3 .2-.8 .2 3 .2 8.2 .2-3.2 .2 2.8 .2-7.3 .2 5.1 .2 11.6 .2-10.8 .2 1.4 .2 5.1 .2-13.7 .2 7.3 .2-5.9 .2 1.3 .2 15.8 .2-5.5 .2-17 .2 14.7 .2-9.8 .2-4.1 .2 9.7 .2-3.4 .2 9 .2-2.9 .2-3.3 .2 6.5 .2-11.8 .2 3.1 .2-4.3 .2-2.6 .2-3.5 .2 7.8 .2-2.8 .2 15.4 .2-6.3 .2-6.7 .2 14.9 .2-2.4 .2 3.7 .2-13.6 .2 10.6 .2 7.2 .2-.6 .2 .6 .2-10.3 .2-9.8 .2 17.2 .2-16.6 .2 1.3 .2 21.2 .2-16.9 .2-5.5 .2 27 .2-30.5 .2 10.8 .2-5.2 .2 .4 .2 4.6 .2 12.8 .2 8 .2-.2 .2-.3 .2-17.3 .2 12 .2-3.1 .2 2.2 .2-15.3 .2-4.1 .2-7.8 .2 18.8 .2-1 .2 .5 .2 8.6 .2-2.9 .2-7.7 .2-18.2 .2 10.8 .2-6 .2 4.6 .2-12.4 .2 2.8 .2 3.1 .2 7.2 .2 .1 .2-13.5 .2-2.4 .2 2.3 .2-8.5 .2-.2 .2 9.7 .2 15.9 .2-13 .2-5.7 .2-2 .2-5.9 .2 2.1 .2-1.8 .2 16.3 .2 1.7 .2-.6 .2 .4 .2 7.4 .2-14.1 .2 21.2 .2-19.1 .2 17.1 .2-1.3 .2 1.6 .2-10.7 .2 5.3 .2-2.4 .2-16.2 .2 4.5 .2 17.5 .2-22.9 .2 6.6 .2 12 .2-18.6 .2-8.3 .2 20.7 .2 1.8 .2-1.5 .2-4.1 .2-5.8 .2-10.3 .2-1.9 .2-2.8 .2 12.5 .2 13.1 .2-17.3 .2 11.6 .2-10.4 .2 4.4 .2 7.4 .2-.8 .2-.8 .2-22 .2 7 .2 10.9 .2-15.8 .2 2.9 .2 20.9 .2-7.6 .2-11.7 .2-3.5 .2-10 .2 17.8 .2 .5 .2 1 .2-10 .2-3.3 .2 18.9 .2-17.2 .2 17.9 .2-17.7 .2 7.8 .2-6.7 .2-7.8 .2-.5 .2 14.2 .2-7.6 .2-.3 .2 0 .2 5.4 .2-7.5 .2 5.7 .2-12.7 .2-8.5 .2 22.2 .2-3.7 .2-11 .2 .7 .2 10.6 .2-1.2 .2-16.9 .2 1.1 .2 8.9 .2 3.1 .2 8.7 .2-20.7 .2 2.6 .2 9.1 .2-13.6 .2 7.7 .2 2.2 .2-5.1 .2 6.6 .2 7.3 .2-16.7 .2 2.9 .2-4.7 .2-3.7 .2-9.4 .2 11.3 .2 1.6 .2-10 .2-3.6 .2 16.7 .2-3.2 .2-22.9 .2 19.4 .2-18.9 .2 5.3 .2 13.9 .2-17.7 .2-13.4 .2-.9 .2-1 .2 6.8 .2 1.1 .2-10.8 .2-1 .2 15.8 .2-17.8 .2 28 .2 1.8 .2 1.5 .2-8.2 .2-15.2 .2-10.9 .2 20.5 .2-14.2 .2-7.1 .2 7.7 .2 17.5 .2-20 .2 11.3 .2 6.9 .2 1.5 .2-8.2 .2 7.3 .2-19.4 .2-.4 .2 2 .2 7.6 .2-17.2 .2 9.9 .2-1.7 .2-7.8 .2 11.1 .2-8.2 .2-11.5 .2 3.6 .2-2.1 .2-.1 .2-11.4 .2 .5 .2 .9 .2 4.2 .2-.9 .2-10.5 .2 5.2 .2-6.9 .2 0 .2 9.4 .2-2.6 .2 4.2 .2 3 .2-2.3 .2 12.4 .2-1 .2-1.4 .2-11.9 .2 18.8 .2-5.8 .2-3.5 .2-5.8 .2 20.5 .2-12.8 .2 13.1 .2 5.9 .2 15.4 .2-23.1 .2 15.9 .2-19.2 .2 2.2 .2-.5 .2 18 .2-4 .2-4.8 .2 16.5 .2-16.7 .2 9.2 .2-14.2 .2 18.3 .2 5.3 .2 0 .2-12.1 .2 3.5 .2 5.4 .2-12.4 .2 10.7 .2-4 .2-8.1 .2 1.4 .2 13.9 .2-5 .2 13.6 .2-18.2 .2 8.4 .2-6.1 .2-8 .2 6.2 .2-7.3 .2 2 .2 14 .2-4.1 .2 12.3 .2 4.2 .2-13.9 .2 8.4 .2 7.1 .2-2.5 .2-10.4 .2 3.5 .2 1.6 .2-7.3 .2-4.7 .2 6.4 .2-2.7 .2 17 .2-9.2 .2 14.5 .2 .6 .2-7.8 .2-17.9 .2 7.4 .2-10.3 .2 15.4 .2 6 .2 1.9 .2 2.3 .2-8.1 .2-13.9 .2 13.3 .2 4.4 .2 6.9 .2 5.2 .2-24 .2 13.3 .2-9.4 .2 4 .2 6.5 .2-20.8 .2 24.1 .2-3.7 .2 7.5 .2-10.4 .2 21.5 .2 1.1 .2-8.2 .2 5.5 .2-19.3 .2-.3 .2 13 .2-14.4 .2 13.1 .2 3.9 .2-1.5 .2 4.3 .2-19.6 .2 14.7 .2-7.6 .2 2.2 .2 12.4 .2-12.8 .2 .6 .2 16.1 .2 2.2 .2 .5 .2 3 .2-3.4 .2-11.9 .2-6.9 .2 .5 .2 19.4 .2 1.6 .2-1.7 .2 7.2 .2 5 .2-20.9 .2-9.4 .2 1.8 .2 21.6 .2 9.3 .2 16.4 .2 1.9 .2-21 .2 14.1 .2-4.7 .2 3.9 .2-9.8 .2 15.4 .2-37.6 .2 23.7 .2-33.8 .2 15 .2 7.7 .2-27 .2 24.6 .2-31.9 .2 31.6 .2-25.2 .2 6.4 .2 19.3 .2-18.7 .2-9.7 .2 37.7 .2-52.5 .2 36.3 .2 19 .2-11 .2 12.3 .2-28.2 .2-28.1 .2 55.6 .2 40.7 .2 0 .2-40.7 .2 2 .2 6.8 .2 19.2 .2-47.5 .2-30.9 .2-16.7 .2 47.3 .2-56 .2 4.9 .2 51.4 .2-44.2 .2 25.9 .2-31.7 .2 42 .2-14.9 .2-.7 .2 .8 .2-22.4 .2-13.3 .2-13.8 .2 0 .2 5.4 .2 56.5 .2-47.6 .2 3.5 .2 25.2 .2-25.2 .2 33.5 .2-27.1 .2 .1 .2 15.2 .2 7.9 .2-9.5 .2 3.7 .2 19 .2-1.3 .2-12.6 .2-.1 .2 27.8 .2-40.6 .2 46.5 .2 44.5 .2-67.2 .2 73.9 .2-51.5 .2 39.9 .2-16.2 .2-13.4 .2 57.4 .2 0 .2-5.2 .2-69.1 .2-7.8 .2 68.9 .2-82.6 .2 1 .2 20.1 .2-31 .2 9 .2 13.2 .2-23.6 .2 26.6 .2-11 .2 32.2 .2-36.1 .2 42.3 .2-46 .2-2.9 .2 6.9 .2-9.9 .2 57 .2-37.8 .2-15 .2-10 .2 11.8 .2 22.8 .2 16.3 .2-46.4 .2 38.1 .2 84.8 .2 0 .2-36.7 .2-42 .2-23.5 .2 4.2 .2 68.3 .2-17.7 .2-5 .2-50.8 .2-10.8 .2 16.1 .2-9.4 .2 17.4 .2 21.5 .2 6.9 .2-46.3 .2 48.6 .2-44.7 .2 13.5 .2 11.9 .2-15.9 .2 14.7 .2 40.1 .2-1.7 .2-28 .2-36.3 .2 30.4 .2 32.7 .2 21.3 .2-41.2 .2-23.6 .2 60.7 .2-29.5 .2 19.1 .2-23 .2 55.8 .2-32.3 .2-35.5 .2 75.8 .2 0 .2-55.8 .2 .9 .2-66 .2-5.8 .2 27.5 .2 2.3 .2-23.6 .2 28.9 .2-10.5 .2-16.5 .2 .9 .2-5.4 .2 6.9 .2 29.3 .2-21.1 .2 10.9 .2-2.9 .2 1.2 .2 2 .2-22.9 .2-2.3 .2 12.7 .2 1.1 .2-8.9 .2-3.8 .2-.3 .2 .2 .2 12.5 .2-9.6 .2 4.9 .2 2.9 .2-9.6 .2 11.2 .2-5 .2 2.5 .2-5.6 .2-.3 .2 2.9 .2-3 .2 6.1 .2-2.4 .2-.7 .2-2.3 .2 4.9 .2-1.4 .2 8.5 .2 2.6 .2-2.6 .2-.8 .2-6.7 .2 9.6 .2-9.3 .2 14.6 .2-12.8 .2 8.4 .2-.8 .2-2 .2-8.5 .2 9.6 .2-8.8 .2 3.7 .2-2.6 .2 6.4 .2 9.7 .2-.7 .2-8.8 .2-5.3 .2 7.6 .2 3 .2-.8 .2 8 .2-13.6 .2 11.8 .2-9.8 .2 9.2 .2-9.1 .2 13.1 .2-12 .2 3.3 .2 2.6 .2-2.7 .2 10 .2-17.6 .2 4.4 .2-3.3 .2-1.4 .2 5.2 .2-6.6 .2 8.1 .2-5.1 .2 6.8 .2 4.1 .2-11.7 .2 15.5 .2-3.7 .2-8.9 .2 12.7 .2-7.8 .2 14.4 .2-10.7 .2-7.8 .2 18.3 .2-7.5 .2 18.6 .2-2.9 .2-.4 .2 17.3 .2-10.3 .2 15.8 .2-24.5 .2 28 .2-42.2 .2 16.2 .2 4 .2-18 .2 59.6 .2-28 .2 74.9 .2 7 .2 9.8 .2-1.2 .2-52.7 .2 75.3 .2 0 .2-141.7 .2-2.9 .2-8.7 .2-2.2 .2 3.1 .2 .4 .2 2.4 .2-1.2 .2 56.6 .2 0 .2-58.2 .2-5.4 .2 11.9 .2-10.1 .2 2.8 .2 35.1 .2-20.8 .2 14.3 .2-31.6 .2-1 .2 26.8 .2 10.9 .2-.3 .2 1.3 .2 1.5 .2-16.2 .2 39 .2 0 .2-45.1 .2 5.2 .2 22.1 .2-21 .2 52 .2 35.2 .2 0 .2-92.8 .2 39.9 .2-42.6 .2 52.8 .2-44 .2-12.3 .2-3 .2 12.7 .2 21.6 .2-9.5 .2-2.3 .2 64.2 .2 0 .2-62.8 .2-28.9 .2 3.7 .2 52.3 .2-21 .2 13.2 .2-17.4 .2 111.8 .2 0 .2-140.3 .2 12.6 .2 2.6 .2 23 .2-22.2 .2-19 .2 1.9 .2 8.7 .2-1.6 .2 10.3 .2 28.7 .2 29.1 .2 0 .2-68.2 .2 4.6 .2-12.4 .2 18.1 .2-19.3 .2 7.9 .2 22.7 .2-11.1 .2-1.5 .2-13.1 .2 10.4 .2-9.6 .2 3.6 .2-7.3 .2 13.3 .2-16.8 .2 2.3 .2 .6 .2 3.4 .2-4 .2 .3 .2-.9 .2 5.9 .2-7.8 .2-.6 .2-.1 .2 0 .2 .4 .2 .2 .2 4.5 .2 14 .2 2.6 .2-.1 .2-5.3 .2-5.2 .2-6.1 .2 24.6 .2-22.8 .2 17.7 .2-13.7 .2 17.1 .2-4.4 .2-11.6 .2-2.9 .2 15.6 .2-23.5 .2 7.6 .2-6.5 .2 1.5 .2-5.7 .2 5.9 .2 .3 .2-7.4 .2 22.6 .2-22.9 .2 4 .2-5 .2-.7 .2 11.2 .2-11.7 .2 6.6 .2 .6 .2-8.7 .2 7.5 .2 17.8 .2-11.4 .2-2.2 .2 .8 .2-5.1 .2 10.4 .2-6.7 .2-6.1 .2 3.8 .2-5 .2 1.5 .2 16.2 .2-11.1 .2-2.8 .2 2 .2-2.2 .2 0 .2 3.9 .2 17.2 .2-17.6 .2 16 .2 24.6 .2-13.8 .2-10.9 .2-21.4 .2 13.4 .2 37.8 .2 101.5 .2 0 .2-82.4 .2-11.2 .2 16.2 .2-19.7 .2 1.5 .2-5.6 .2-52.4 .2-2 .2 12.4 .2-12.5 .2 4.3 .2-9.2 .2 16.6 .2-7.5 .2 4 .2-2.9 .2 21.2 .2-21.3 .2-10.8 .2-3.1 .2-.9 .2 8.3 .2-3.6 .2-.9 .2 20.5 .2-11 .2 1.3 .2 7.5 .2-12.8 .2 12.9 .2 1.1 .2 2.4 .2-.5 .2-22.3 .2 15.5 .2-19.5 .2 10.6 .2-9.1 .2 9.9 .2-8.3 .2 1.2 .2 8.7 .2-5.3 .2 5.6 .2 14.2 .2-.9 .2 21.3 .2-24.3 .2 11.2 .2-20.7 .2-.1 .2 5.7 .2-5 .2 18.7 .2-8.3 .2 0 .2-7.2 .2 16.5 .2-20.6 .2 2.9 .2 .6 .2-3.6 .2 5.9 .2 10.8 .2-11.2 .2-1.3 .2 11.3 .2-14.6 .2 4.6 .2-.4 .2 2.5 .2 7.2 .2-8.5 .2 6.8 .2-2.8 .2 31.9 .2-9 .2-1.3 .2 6.3 .2-19 .2-3.3 .2-9.2 .2 1.7 .2 4.4 .2-11.6 .2 2 .2-.5 .2-2.7 .2 9 .2-9 .2-.2 .2 3.8 .2 7.1 .2 1.1 .2 3.3 .2 16.1 .2-9.8 .2-5.1 .2-3.1 .2-4.6 .2-2.7 .2 1.5 .2-2.5 .2-4.5 .2 75.9 .2 0 .2-61.5 .2 21 .2-33.5 .2 75.8 .2-13.4 .2-61.1 .2 39.9 .2-21.9 .2-7.2 .2 52.7 .2-59.2 .2 77.8 .2-23.4 .2-20.4 .2-34.6 .2 146.7 .2 0 .2-104 .2-26 .2-6.9 .2-20.1 .2 45.7 .2 34 .2-66.1 .2-14 .2 1.7 .2-3.4 .2 0 .2 78.9 .2 0 .2-78.4 .2-.5 .2 38.5 .2-11.8 .2 22.8 .2 0 .2-33.5 .2-5.2 .2-1.5 .2-1.6 .2 22.6 .2-3.5 .2-21.9 .2 3.4 .2 28 .2-31.6 .2 16.1 .2-3.4 .2-9.1 .2 17.7 .2-25.1 .2 9.8 .2 7.1 .2-12 .2 0 .2 5.8 .2 9.7 .2 1.5 .2-4.7 .2-7.9 .2-2.8 .2-8.5 .2 9 .2-8.9 .2-.8 .2-.5 .2 9.8 .2-8.8 .2 4.2 .2 .7 .2 5.7 .2-12.1 .2-.8 .2 6.5 .2-5.1 .2 7.3 .2-1.7 .2 6.2 .2 4.7 .2-4.9 .2 7.3 .2 8.8 .2-13.1 .2-3.5 .2-.9 .2 4.6 .2-2.7 .2 3.3 .2-.4 .2 6.8 .2-1.9 .2-11 .2 .4 .2 3.8 .2 4.3 .2-2 .2 13.1 .2-8 .2 11.1 .2-17.9 .2 2 .2-.8 .2 9.1 .2-10.4 .2 6.1 .2-1.6 .2-5.3 .2 9 .2 8 .2-9.3 .2 1 .2 23.1 .2 7.1 .2-12.9 .2-11.7 .2 26.2 .2-33.7 .2 15.3 .2-20.9 .2 .9 .2 6.4 .2 11.8 .2-17.1 .2 12.3 .2-11.8 .2 29.9 .2 24.4 .2-6.6 .2-29.7 .2-10.9 .2 16.7 .2 6.6 .2 50.7 .2 0 .2-71.2 .2-18.3 .2 12.6 .2 1.7 .2-18.1 .2 1.3 .2-.9 .2 .8 .2 28.7 .2-22.5 .2 19.5 .2-15.1 .2-1.2 .2-10.5 .2 5.7 .2 13.6 .2-13.2 .2-4.4 .2 .1 .2 3 .2-5.9 .2 8.5 .2-1.5 .2 22.6 .2-1.5 .2-6.4 .2 10.8 .2-20.8 .2-7.3 .2 7.9 .2 10 .2 5.2 .2 3.9 .2-19 .2-11.2 .2-1.2 .2 6.8 .2-7.9 .2 0 .2 39.2 .2 12.5 .2-26.2 .2-8.8 .2 8.5 .2-2.3 .2 81.5 .2 0 .2-104.1 .2-.1 .2 16 .2 3.7 .2 10.6 .2-7.8 .2-14.1 .2 .8 .2 2.6 .2-12.2 .2 17.6 .2-15.1 .2 1 .2 3.5 .2-7.1 .2 .4 .2 16 .2-10.6 .2 3.1 .2 10.3 .2-17.1 .2 .4 .2 2.2 .2 16.8 .2-11.2 .2-7.2 .2 2 .2-.3 .2 4.7 .2 8.1 .2-9 .2 12.9 .2-5.3 .2 20.6 .2-27.7 .2 12 .2-15.4 .2 10.4 .2-12.2 .2-.2 .2 5.3 .2 12.9 .2-10.2 .2 12.9 .2-17.6 .2-.2 .2 11.3 .2 4.4 .2 10 .2-20.3 .2-2 .2 28.2 .2-28.3 .2 20.4 .2-11.4 .2-3.3 .2 20.4 .2 45.5 .2 0 .2-23.3 .2-19.6 .2-1.2 .2 17.1 .2-36.6 .2 24.6 .2 22.5 .2-14.7 .2 32.5 .2 0 .2-7 .2-30.5 .2-7.3 .2 19.1 .2 2.5 .2-5.5 .2 10 .2-46 .2 23.6 .2-3.5 .2 7.9 .2-14.5 .2-3.6 .2-12.7 .2-9.3 .2 11.6 .2 4.8 .2-8.4 .2 31 .2-6.2 .2-27.1 .2 14.1 .2-8.4 .2-2.7 .2-2.5 .2-6.3 .2 0 .2 18.3 .2-11.7 .2-.3 .2-4 .2 11.3 .2-15.4 .2 8 .2-5.5 .2-3.8 .2 7.2 .2 4.5 .2 8 .2-14.8 .2 25.2 .2-6.3 .2-10 .2 12.7 .2-22 .2 18.6 .2 3.8 .2-21.3 .2-6 .2 0 .2 13 .2-1.4 .2-1.6 .2-6.8 .2 4.3 .2-13.4 .2-1.5 .2 4.3 .2-5.2 .2 .1 .2-2.8 .2 5.6 .2-6.9 .2 .8 .2-.6 .2 .6 .2-.4 .2 3 .2-2.8 .2 2.9 .2-2.7 .2 5.2 .2 4.2 .2-6.5 .2 7.4 .2-8.1 .2 7 .2 8.1 .2-13.8 .2 16.7 .2-9 .2 6 .2 2.9 .2-6.5 .2-8.1 .2-.5 .2-.8 .2 6.1 .2-9.2 .2 .6 .2 5.2 .2 3.3 .2 15.5 .2-16.4 .2 17.7 .2-17.7 .2 8.5 .2-.5 .2-7.7 .2 13.6 .2-5 .2-11.6 .2 18.4 .2-19.1 .2 6.5 .2 11.9 .2-14.2 .2 13.7 .2-.2 .2-8.5 .2 8 .2-7.7 .2 .7 .2-3.1 .2-5.2 .2 3.8 .2-8.1 .2 6.7 .2 2.3 .2 9.2 .2-3.4 .2-14.9 .2-1.9 .2-2 .2 8.1 .2-8.5 .2 5.7 .2-3.5 .2 9.8 .2 6.8 .2-12.6 .2-.8 .2 14.1 .2 1.7 .2-.9 .2-16.1 .2 4.1 .2-4.3 .2 11.4 .2-13.5 .2 12.6 .2-4.1 .2 3.1 .2-9.4 .2 17 .2-7.7 .2-.6 .2-5.8 .2 13.9 .2 0 .2-6.8 .2-2.9 .2-6.5 .2 8.8 .2-4.2 .2-8.7 .2 .3 .2 4.3 .2-1.8 .2-3.4 .2 6 .2-1.1 .2-1.5 .2 .4 .2 7.4 .2-2.5 .2 6.5 .2 2.6 .2-5.5 .2 0 .2 11.8 .2-3.9 .2 7.2 .2-10.5 .2 .9 .2 .5 .2-2.3 .2 6.8 .2-7.4 .2 .2 .2 6.6 .2-5 .2-.1 .2-.2 .2 7.5 .2-6.8 .2 2.7 .2-1.7 .2-2.7 .2 6 .2 .1 .2 1.3 .2 6.3 .2-4.2 .2-6.9 .2 2 .2 5.7 .2-6.5 .2-1.5 .2 4.1 .2-6 .2 1.5 .2 3.6 .2-1 .2-3.8 .2 6.4" stroke="#ff0000" stroke-width="2" stroke-linejoin="round" fill="none"/>
<path d="M1726 822V478" stroke="#1f77b4" stroke-width="2" stroke-dasharray="2.083 3.4375" fill="none"/>
<path d="M1206 787.6L1211 787.6M1206 718.8L1211 718.8M1206 650L1211 650M1206 581.2L1211 581.2M1206 512.4L1211 512.4M1245.2 821L1245.2 816M1319.6 821L1319.6 816M1394 821L1394 816M1468.4 821L1468.4 816M1542.7 821L1542.7 816M1617.1 821L1617.1 816M1691.5 821L1691.5 816M1765.9 821L1765.9 816" stroke="#000" stroke-width="1.2" fill="none"/>
<path d="M1799 822L1794 822M1799 736L1794 736M1799 650L1794 650M1799 564L1794 564M1799 478L1794 478" stroke="#ff0000" stroke-width="1.2" fill="none"/>
<g stroke-width="2" fill="none"><path d="M1204 478H1801" stroke="#000"/><path d="M1204 822H1801" stroke="#000"/><path d="M1205 477V823" stroke="#000"/><path d="M1800 477V823" stroke="#ff0000"/></g>
<text x="1146.31" y="795.3" font-size="20.61" textLength="53.39" lengthAdjust="spacingAndGlyphs">−400</text>
<text x="1146.31" y="726.5" font-size="20.61" textLength="53.39" lengthAdjust="spacingAndGlyphs">−300</text>
<text x="1146.31" y="657.7" font-size="20.61" textLength="53.39" lengthAdjust="spacingAndGlyphs">−200</text>
<text x="1146.31" y="588.9" font-size="20.61" textLength="53.39" lengthAdjust="spacingAndGlyphs">−100</text>
<text x="1187.33" y="520.1" font-size="20.61" textLength="12.37" lengthAdjust="spacingAndGlyphs">0</text>
<g transform="translate(1804.9 829.8)"><text x="0" y="0" font-size="20.61" textLength="24.74" lengthAdjust="spacingAndGlyphs" fill="#ff0000">10</text><text x="24.74" y="-7.08" font-size="14.42" textLength="20.06" lengthAdjust="spacingAndGlyphs" fill="#ff0000">−2</text></g>
<g transform="translate(1804.9 743.8)"><text x="0" y="0" font-size="20.61" textLength="24.74" lengthAdjust="spacingAndGlyphs" fill="#ff0000">10</text><text x="24.74" y="-7.08" font-size="14.42" textLength="20.06" lengthAdjust="spacingAndGlyphs" fill="#ff0000">−1</text></g>
<g transform="translate(1804.9 657.8)"><text x="0" y="0" font-size="20.61" textLength="24.74" lengthAdjust="spacingAndGlyphs" fill="#ff0000">10</text><text x="24.74" y="-7.08" font-size="14.42" textLength="8.66" lengthAdjust="spacingAndGlyphs" fill="#ff0000">0</text></g>
<g transform="translate(1804.9 571.8)"><text x="0" y="0" font-size="20.61" textLength="24.74" lengthAdjust="spacingAndGlyphs" fill="#ff0000">10</text><text x="24.74" y="-7.08" font-size="14.42" textLength="8.66" lengthAdjust="spacingAndGlyphs" fill="#ff0000">1</text></g>
<g transform="translate(1804.9 485.8)"><text x="0" y="0" font-size="20.61" textLength="24.74" lengthAdjust="spacingAndGlyphs" fill="#ff0000">10</text><text x="24.74" y="-7.08" font-size="14.42" textLength="8.66" lengthAdjust="spacingAndGlyphs" fill="#ff0000">2</text></g>
<text transform="translate(1106 651) rotate(-90)" x="-20.2" y="0" font-size="25.2" textLength="40.39" lengthAdjust="spacingAndGlyphs">Dst</text>
<text transform="translate(1131.8 650.5) rotate(-90)" y="0" font-size="25.2"><tspan x="-31.93" textLength="9.36" lengthAdjust="spacingAndGlyphs">(</tspan> <tspan x="-14.94" textLength="29.87" lengthAdjust="spacingAndGlyphs">nT</tspan> <tspan x="22.56" textLength="9.36" lengthAdjust="spacingAndGlyphs">)</tspan></text>
<text transform="translate(1875 651) rotate(-90)" y="0" font-size="25.2" fill="#ff0000"><tspan x="-74.54" textLength="38.96" lengthAdjust="spacingAndGlyphs">SW</tspan> <tspan x="-27.94" textLength="102.48" lengthAdjust="spacingAndGlyphs">Pressure</tspan></text>
<text transform="translate(1904.4 650) rotate(-90)" y="0" font-size="25.2" fill="#ff0000"><tspan x="-38.65" textLength="9.36" lengthAdjust="spacingAndGlyphs">(</tspan> <tspan x="-21.66" textLength="43.31" lengthAdjust="spacingAndGlyphs">nPa</tspan> <tspan x="29.29" textLength="9.36" lengthAdjust="spacingAndGlyphs">)</tspan></text>
<path d="M1205 931H1799" stroke="#000" stroke-width="2" stroke-dasharray="2.083 3.4375" fill="none"/>
<path d="M1205.5 1000.1l.2-3.2 .2 1.5 .2 7.5 .2-1.2 .2-3.1 .2-1 .2 7.6 .2-4.6 .2-7 .2 10 .2-8.3 .2 6.1 .2-.4 .2-4.6 .2 1.9 .2 8.4 .2-7.9 .2-8.1 .2 5.1 .2 10.7 .2-1.2 .2-9.6 .2-2.7 .2-.5 .2 9.9 .2-9.5 .2 12.3 .2-4.2 .2 3 .2-7.4 .2 12 .2-13.1 .2 5.9 .2 1.6 .2 3.9 .2-5.7 .2 4.4 .2-7.7 .2-1.3 .2 9.7 .2-4.7 .2-9.9 .2 5 .2-1.8 .2 4.8 .2 7.5 .2-11 .2 6.7 .2 6.4 .2-9.7 .2 5 .2 5 .2-1.8 .2 1.3 .2-.1 .2 .3 .2-3.2 .2 1.1 .2-8.8 .2-3.5 .2-1.3 .2 15.4 .2-3 .2 2.3 .2-1 .2 1.7 .2-1.2 .2-16 .2 7 .2 3.5 .2 4 .2-10.3 .2 10.9 .2-14.4 .2 16.8 .2-19 .2 9.5 .2-.6 .2 2.9 .2-6.5 .2 10.9 .2-12.5 .2 8.5 .2 1.4 .2 3.7 .2-3.1 .2-1 .2-1.3 .2-1.9 .2 5.4 .2-3.7 .2-4.2 .2 1.5 .2 7.4 .2-12.4 .2 8.3 .2-9 .2 16 .2-13.7 .2 7.2 .2-3.7 .2-3.3 .2 8.2 .2-9.3 .2 2 .2 7.4 .2-7.1 .2 6.5 .2-1.6 .2 4.7 .2-9 .2-.4 .2 10 .2 .5 .2-5.4 .2-4.7 .2-3.6 .2 5.8 .2 .6 .2-4.3 .2-3.4 .2 14.4 .2-9.8 .2 5.7 .2-.1 .2-6.9 .2-2.9 .2 13 .2 2.6 .2 .2 .2-9.4 .2 9.8 .2-6.1 .2 4.1 .2-9.6 .2-.2 .2-.1 .2 10.4 .2-10.4 .2 11.9 .2-.1 .2 0 .2-10.9 .2 8.3 .2-7.1 .2-2.5 .2 5 .2 2.3 .2-7.5 .2 2.3 .2 8.4 .2 1.7 .2-1 .2-5.8 .2 .3 .2 2.5 .2-11.8 .2 7.8 .2-7.7 .2 12.5 .2-4.2 .2-1 .2 2.8 .2-.3 .2 1.3 .2-2 .2-4.4 .2-1.3 .2 8.4 .2 3.3 .2-9 .2 3.6 .2-4.7 .2 4 .2-3.3 .2 9 .2-9 .2 .6 .2 4 .2 5.5 .2-4.1 .2-3.7 .2 6.8 .2-1.7 .2-6.9 .2 1.6 .2 4.4 .2-8.9 .2 2 .2 6.5 .2-6.3 .2 7.9 .2-7.1 .2 4 .2 .7 .2-6.7 .2 1.9 .2 6.5 .2-8.6 .2 7.3 .2 4.3 .2-9.1 .2-4 .2 8 .2-7.7 .2 11.1 .2-6.9 .2 2.9 .2-7.3 .2 2.7 .2 9 .2-9.7 .2-4.4 .2-.2 .2 4 .2 11.6 .2-15.3 .2 2.6 .2 8 .2-1.5 .2-11.1 .2 4.1 .2-3.4 .2 .5 .2 9.5 .2-10.2 .2 16.8 .2-16.3 .2 10.4 .2-13.2 .2 6 .2 2.1 .2 .4 .2-1.6 .2 6.7 .2 1.2 .2 0 .2-4.3 .2 6.9 .2-3.5 .2-3.5 .2-5.9 .2 5.7 .2-5.1 .2-2.8 .2-.7 .2 1.7 .2 9.9 .2-4.8 .2-2.4 .2 8.7 .2 4.3 .2-1.6 .2-6.9 .2-1.6 .2-3 .2 8.9 .2-.7 .2 5 .2-.1 .2-2.8 .2-1.2 .2 1.7 .2-6.3 .2 7.2 .2-6.6 .2 4.1 .2 3.5 .2-10.6 .2 10.7 .2-11.3 .2-.6 .2 1.8 .2 6.1 .2-6.1 .2 10.2 .2-12.4 .2-6.5 .2 14 .2 3 .2-12.2 .2 12.1 .2-9.1 .2 10.9 .2-9.5 .2-2.8 .2-2.4 .2 7.5 .2-3.7 .2 4 .2 1.6 .2-6.6 .2 8.3 .2 3.7 .2-2.1 .2 1.8 .2-4.2 .2-4.3 .2 5.2 .2-3.4 .2-4.5 .2-2.8 .2 13.5 .2-.5 .2-5 .2 4.9 .2-5.8 .2-4.1 .2 8.8 .2-2.2 .2 4.6 .2-5.8 .2-6.1 .2 4.8 .2-3.4 .2-10.1 .2 8.4 .2 10.8 .2-14.4 .2 .8 .2 7.4 .2 3.9 .2-6.9 .2 5.7 .2-2.8 .2 6.7 .2 .6 .2-7.8 .2 5 .2 1.1 .2-14.4 .2 3.5 .2-2.1 .2-3.5 .2 14.8 .2-4.9 .2-10.4 .2 13.5 .2-4.7 .2-3.3 .2 3.7 .2 9.4 .2-12.9 .2 8.9 .2-12.8 .2 12.7 .2-5.8 .2 7.9 .2-.1 .2-2 .2 4.5 .2-12.5 .2 6.3 .2-10.8 .2 17.3 .2-.2 .2-3.1 .2-2.4 .2-6.6 .2 4.2 .2-4.3 .2-.3 .2 2.1 .2 10.5 .2-3.4 .2-1 .2-6.7 .2-4.7 .2 13.4 .2-.2 .2-9.3 .2 4.1 .2 .3 .2-5.3 .2 9 .2 1 .2-8.6 .2 11.9 .2-7.4 .2 3.1 .2-12.7 .2 9 .2 3.8 .2-4.8 .2-4.4 .2 13.4 .2-10.5 .2-2.7 .2 8.2 .2 2 .2-1.3 .2-.8 .2-9 .2-.2 .2 9.2 .2-1.1 .2-7.5 .2 9.4 .2-10.2 .2 2.8 .2-2.7 .2-.5 .2 10.7 .2-4.1 .2-4.8 .2-1.8 .2 7.4 .2-5.3 .2 1.8 .2 10.7 .2-7.3 .2-4.9 .2 5.3 .2 .5 .2-7.2 .2 7.5 .2-2.8 .2-2.1 .2-.1 .2 5.4 .2-1.5 .2-.3 .2 6.5 .2-.6 .2-10 .2 8.3 .2 .6 .2 2.9 .2-6.1 .2-4.9 .2 10.4 .2-19.4 .2 15.6 .2-7.5 .2 .7 .2 2.4 .2-3.4 .2 1.8 .2 3.3 .2 3.5 .2-3.3 .2-9.5 .2 12.2 .2 .4 .2-12.5 .2 .2 .2 11.9 .2-12.6 .2-.1 .2 16.4 .2-2.7 .2-9.7 .2-1.4 .2 6.2 .2-2.5 .2 9.3 .2 1.3 .2-10.3 .2 9.8 .2-16 .2 4.8 .2-2.6 .2 10.6 .2-1.8 .2-5.3 .2 8.7 .2-1.8 .2-8.9 .2 6.1 .2-.9 .2-3.3 .2 5.4 .2-2.2 .2-2 .2-3.2 .2 8.8 .2 3 .2-4.3 .2-.1 .2 4.2 .2-8 .2-.2 .2 .3 .2-6.9 .2 11.5 .2-8.9 .2 4.2 .2-.5 .2 4.6 .2-14.9 .2 15.1 .2 5 .2-16.7 .2 2.7 .2 11.7 .2-14.1 .2 13.1 .2-11.1 .2-6.7 .2 5.2 .2 14.6 .2-13.9 .2 12.6 .2-14.4 .2 15.1 .2-11.7 .2 11.2 .2-8.3 .2-12.7 .2 7.2 .2 9.2 .2-8.3 .2 12.5 .2-5.2 .2 8 .2-1.1 .2-11.4 .2-1.3 .2 11.7 .2 .6 .2-5.7 .2 1.6 .2 3.1 .2-1.9 .2-.1 .2 2.2 .2-6.6 .2-2.7 .2-3.8 .2 9.4 .2 5 .2-11.8 .2 12.1 .2-6.8 .2 2 .2 .7 .2-3.2 .2-2.8 .2 4.8 .2-8 .2 1.3 .2 10 .2-9.6 .2-1 .2 11.2 .2-5.8 .2 6.9 .2-10 .2 1 .2 9 .2-7.7 .2-4.1 .2 11.7 .2-5.7 .2-1.1 .2-7.1 .2 12.7 .2-15.3 .2 5.5 .2-.3 .2-2.5 .2 11.7 .2 1.5 .2-.6 .2-2.3 .2-5.1 .2 6 .2-7.2 .2-4.3 .2 .9 .2 1 .2 2.5 .2 7.7 .2-3 .2-11.1 .2 10.2 .2 5.5 .2-8.7 .2 1.9 .2-5.5 .2 13.9 .2-11.4 .2 5 .2 4.5 .2 1.6 .2-4.2 .2-2.3 .2-1.8 .2-2.2 .2 4.5 .2-5.1 .2 3.6 .2 7.7 .2-6.7 .2-3.9 .2 9 .2-10.4 .2-5.1 .2 2.4 .2 5.6 .2 4.3 .2-12.8 .2-1.6 .2 18 .2-4 .2-8.4 .2 8.8 .2 5 .2-1 .2-5.8 .2-6 .2-3 .2 5.3 .2 2.3 .2 3.4 .2-8.5 .2 11.1 .2-5.9 .2-4.4 .2-2.2 .2 10.2 .2 2.2 .2-7.5 .2 8.7 .2-19.5 .2 17.8 .2 2.1 .2-3.8 .2-6.9 .2 7.2 .2-9 .2 1.1 .2 10.7 .2-13.2 .2 12 .2 .3 .2-4.8 .2 .7 .2-4 .2-1.2 .2 11.2 .2-8.3 .2 5.6 .2 2.6 .2-3.6 .2 .5 .2-8.3 .2 10.2 .2-7.7 .2 2.8 .2-4.5 .2 4.9 .2 1.8 .2-2.3 .2-2.9 .2 9.6 .2-11.2 .2 2.6 .2 4 .2-2.2 .2 .8 .2-1.1 .2-6.5 .2 6.9 .2-1.2 .2-11.3 .2 19.2 .2-19.7 .2 12.8 .2-2.7 .2 3.2 .2-2.1 .2 8.4 .2-5.7 .2-2.3 .2-1.3 .2 9.2 .2-6.3 .2 0 .2-6.7 .2 12.4 .2-3.2 .2-4.5 .2 1.8 .2-2.8 .2-5.8 .2 12 .2-.8 .2-3 .2-8.3 .2 14.4 .2-13.5 .2 10.4 .2-10.4 .2 14.1 .2-10.9 .2 4.9 .2 2.1 .2 3.7 .2-9 .2 9 .2-9.8 .2 7.1 .2-13.3 .2 11 .2-6 .2 1.5 .2 3.7 .2-11.1 .2 .2 .2 7.6 .2 5.6 .2-4 .2 6.3 .2 .8 .2-9.4 .2 5 .2-1 .2 5.1 .2-8.3 .2-2.3 .2 11.5 .2-4.3 .2 1.9 .2 .2 .2-9.8 .2 9.7 .2-4 .2-4.4 .2-2 .2 11.6 .2-6.6 .2 3.2 .2-1.2 .2-4.1 .2 9.9 .2-4.3 .2 3.2 .2-3.3 .2-3.2 .2-3.4 .2 9.4 .2 .9 .2-6.3 .2 3.5 .2 .7 .2-9.6 .2 2.6 .2-7.4 .2 7.9 .2-5.3 .2 6.4 .2-1.3 .2 4.8 .2-1.1 .2-4.8 .2 5.4 .2-1.5 .2-5.1 .2 11.8 .2-3.6 .2-9.1 .2 1.4 .2-3.9 .2 4.8 .2 3 .2 3.3 .2 2.9 .2-4.2 .2 5 .2 .2 .2-11.8 .2 3.4 .2-2.5 .2 .3 .2-1.7 .2 3 .2-2.6 .2 5.2 .2-1.9 .2 1.6 .2 5.2 .2-1.7 .2 1.2 .2-7.9 .2 3.6 .2 2.1 .2-7.6 .2 12.6 .2-4 .2 2.3 .2-8.9 .2 9.5 .2-1.2 .2-1.3 .2 3.7 .2-15.1 .2 14.4 .2-17.1 .2 2.6 .2 7.4 .2 7.7 .2-13.3 .2 13 .2-7.8 .2 5.4 .2-.7 .2-6.2 .2-6.6 .2 8.8 .2-.6 .2-4.7 .2 11.4 .2-6.9 .2 7.9 .2 0 .2-12.8 .2 5.2 .2-8.5 .2 5.1 .2 5.7 .2-10.3 .2 13 .2 2.3 .2-.7 .2-11.7 .2 12.9 .2-11.1 .2 9 .2-15.1 .2 7.3 .2 2.1 .2-11.8 .2 16.1 .2-11.5 .2 11.6 .2-4.8 .2-1.6 .2 3.9 .2-5.3 .2 .4 .2 6.1 .2-8.9 .2 9.6 .2-8.6 .2 7.6 .2-13.3 .2 10.3 .2-3.1 .2-7.8 .2 13.7 .2-6.9 .2-.5 .2-4.4 .2 4.8 .2 12.4 .2-11 .2 .4 .2 8.5 .2-9.5 .2-2.7 .2 3 .2 9.3 .2-12 .2 8.8 .2-14.2 .2 3 .2 5.6 .2-.6 .2 3.3 .2-5.7 .2-1.2 .2 14.2 .2-10.4 .2 5.7 .2-9.2 .2 .9 .2 8.9 .2-3.5 .2 7.6 .2-.1 .2-11.2 .2-2.7 .2 12.2 .2-.5 .2-3.4 .2 .7 .2-6 .2 5.3 .2-2.6 .2-.3 .2 9.1 .2-4.2 .2-4.2 .2 1.2 .2-6.7 .2 6.1 .2-8.9 .2-2.9 .2 3 .2 6 .2 2.2 .2 2.5 .2-4 .2 3.9 .2 2 .2 1.2 .2-4.2 .2 6.8 .2-2.4 .2-14.7 .2 9.9 .2 7.4 .2-14.3 .2 7.4 .2 2.7 .2-3 .2-5.1 .2 7.2 .2 3.2 .2-.3 .2-7.9 .2 .9 .2-7 .2 .6 .2 13.1 .2-2.2 .2 3.8 .2-8.7 .2 8.4 .2-7.5 .2 3.1 .2-9.1 .2 4.9 .2 6.4 .2 2 .2-1 .2-7.6 .2 3.3 .2 5.6 .2-.8 .2-10.1 .2 10.3 .2 .3 .2-7.8 .2-4.4 .2 8.7 .2 1.4 .2 .6 .2-.2 .2 3.1 .2-6.1 .2-9.2 .2 15.4 .2-10 .2 5.5 .2-4.7 .2 2.3 .2 2.4 .2 .1 .2 3.1 .2-4.2 .2 4.2 .2-9.9 .2-.7 .2 1.6 .2-1.9 .2 6.4 .2 .3 .2 3.5 .2-7 .2-4.9 .2 5.3 .2-3.3 .2-.1 .2-.5 .2 8.4 .2 0 .2 3.7 .2-10.4 .2-.9 .2 12.1 .2-18.2 .2 16.5 .2-3 .2-3.1 .2 4.8 .2 2.3 .2-3 .2-1.8 .2 .2 .2-3.4 .2 2.3 .2 3.5 .2-9.7 .2 2.4 .2 6 .2 3.5 .2-12.3 .2 5.9 .2-2.2 .2 9.3 .2-10.4 .2 7.9 .2 .9 .2-9.3 .2 8.2 .2-.3 .2-4.5 .2 3.3 .2 1.8 .2-10.9 .2 10.3 .2-5.2 .2-4 .2 7.9 .2-.4 .2 4.6 .2-5.8 .2 3.4 .2 1 .2-4.3 .2-2.6 .2-3.3 .2 7.6 .2-4.6 .2-4.3 .2 9.3 .2 2.2 .2 .2 .2-1.7 .2-8.4 .2 2 .2-.5 .2 .1 .2-3 .2 4.6 .2 7.4 .2-.8 .2-11.6 .2 3.1 .2-4.7 .2 10.8 .2-9.9 .2 7.1 .2 6.7 .2-24.3 .2 14.8 .2-2.2 .2-2.1 .2 10.2 .2-14.8 .2 18.5 .2-10.3 .2 2.5 .2-.4 .2 6.8 .2-15.2 .2 10.3 .2-6.8 .2-4.1 .2 14.8 .2-12.7 .2 11.2 .2-7.8 .2-4.7 .2 12 .2-8.6 .2 2.6 .2 7.2 .2-1.4 .2 3.2 .2-9.5 .2 2.3 .2 2.3 .2 5.6 .2-8.7 .2 1.9 .2 3.1 .2-7.6 .2-1.6 .2 12.1 .2-11.3 .2 4.5 .2-.7 .2 2.5 .2-.5 .2-1 .2-.6 .2 6.8 .2-13 .2 11.9 .2-4.3 .2 6.6 .2-5 .2-8.7 .2 11.8 .2-11.5 .2 2.5 .2 5.8 .2 .9 .2 1.7 .2 2.6 .2-.7 .2-5.2 .2-3.8 .2 6.9 .2-8.2 .2-5.6 .2 13.1 .2-5.4 .2 .5 .2 8.2 .2-11.4 .2-6.6 .2 13.3 .2-12.5 .2-2.4 .2 20.3 .2-23.9 .2 7.8 .2 13.5 .2 1.6 .2-4 .2-4.7 .2-11.2 .2 16.8 .2 .3 .2-10.8 .2 14.1 .2-6.8 .2 5 .2-8.9 .2-2 .2 2.1 .2 6.7 .2-5.2 .2 9.5 .2-2.6 .2-2.7 .2-2.1 .2 4.3 .2 .7 .2-9.8 .2 9 .2-7.7 .2 8.9 .2-3.6 .2-.7 .2-.4 .2 .3 .2-4 .2 10.1 .2-13.6 .2 .8 .2 2.8 .2-9.8 .2 15.3 .2 1.2 .2 .6 .2-12.9 .2 1 .2 7.7 .2 .5 .2 3.8 .2-9.3 .2 .1 .2 3.7 .2-7.4 .2 15.4 .2-12.9 .2 10.2 .2 .5 .2-17.2 .2 13.8 .2-7.3 .2-7.4 .2 15.4 .2 3.2 .2-6.1 .2-10.6 .2 10.2 .2 5.7 .2-14.3 .2 7 .2 4.5 .2 .9 .2-10.6 .2-3.4 .2 4.4 .2 1.4 .2 12.8 .2-2.5 .2-1.5 .2 1.1 .2 1.9 .2-4.1 .2 3 .2 0 .2-9 .2 7.7 .2-4.6 .2-2.7 .2 6 .2-7.8 .2 8.2 .2 .2 .2 4 .2-12 .2 .6 .2-2.5 .2-1.5 .2 15.6 .2-9.1 .2-4.1 .2 11.3 .2-8.3 .2-4.5 .2 .9 .2-3 .2-5 .2 15.1 .2-7.6 .2-2 .2 5.5 .2-1.1 .2 7.4 .2-5.5 .2-6.3 .2 5 .2-6.1 .2 15.5 .2-8.3 .2-2.6 .2-4 .2 4.3 .2 8.1 .2 4.3 .2-3.1 .2-1.1 .2-5.7 .2-2 .2 4.3 .2-3.5 .2 6.6 .2 .2 .2-7.5 .2 6.5 .2-5.5 .2 10.8 .2-9.8 .2 2.4 .2-4.3 .2 8.9 .2-8.2 .2 2.1 .2-5.3 .2 3 .2 2.7 .2 .1 .2-5.5 .2 11.3 .2-.3 .2-16.8 .2 13.4 .2-4.5 .2 3.2 .2 7.2 .2-10.8 .2 9.9 .2-3.7 .2-8.3 .2 2.4 .2-1.4 .2 12.4 .2-3.5 .2 .9 .2 .1 .2-10 .2 7.2 .2 5.2 .2-9.2 .2-4.4 .2 8.8 .2 3.1 .2-4.9 .2-6.8 .2-.7 .2 6.8 .2-4.2 .2-3.6 .2 7.7 .2-1.9 .2 .6 .2-2.7 .2 8.5 .2-8.5 .2 6.2 .2 2.6 .2-13.5 .2 15.5 .2-8.9 .2-.4 .2-3.3 .2-2.7 .2 11.4 .2-8 .2 12.3 .2-1.5 .2-4.2 .2-.6 .2-11.8 .2 12.5 .2-5.4 .2-4.3 .2 .4 .2 10.2 .2 .7 .2-6.5 .2 5.2 .2-5.1 .2 6.9 .2 1.7 .2-1.5 .2-4.1 .2-3.2 .2-.1 .2-1.6 .2 .6 .2 .3 .2 9.9 .2-.5 .2-.6 .2 1.9 .2-3.3 .2-10.1 .2 9.6 .2 0 .2 4.2 .2-13.9 .2 7.3 .2 5.1 .2-17.1 .2 4.2 .2 3.4 .2 10.2 .2-2.9 .2 2.5 .2-11.3 .2-.9 .2 4.1 .2-5.5 .2 4.3 .2 10.9 .2-3.8 .2 .1 .2 3.7 .2-4 .2-14.1 .2 5.9 .2 10.3 .2-5.2 .2-.8 .2-3.7 .2 7.1 .2 2 .2-8.4 .2 9.5 .2 .4 .2 .6 .2-11.4 .2 5.5 .2-4.6 .2-.2 .2 1.3 .2-.3 .2-4.2 .2 9.7 .2-4.9 .2 9.5 .2-10.2 .2 6.9 .2-15 .2 17.5 .2-6.8 .2 5.5 .2-16.4 .2 14 .2-7.3 .2 7.5 .2-9.3 .2 7.7 .2 4.4 .2 .2 .2-3.5 .2-7.1 .2 7.9 .2-9 .2 12.7 .2-15.4 .2-1.5 .2-1 .2 7.9 .2-2.3 .2 5.7 .2-7.7 .2 7.4 .2-8.9 .2 6.5 .2 8.6 .2-3.9 .2-13.4 .2 15.4 .2-13.7 .2 .4 .2-1.9 .2 1.8 .2 5.6 .2 .5 .2-6.6 .2 15.1 .2-7.3 .2 3.3 .2-4.6 .2 10 .2-11 .2 9.6 .2-3.1 .2 3.6 .2-6.2 .2-.5 .2 1.8 .2-1.2 .2-.1 .2 5.3 .2-1.6 .2-2.4 .2 .9 .2-6 .2 6 .2 3.3 .2-12.4 .2 10.8 .2-7.8 .2 5.8 .2-4.1 .2 7.1 .2-10.6 .2 9 .2 .8 .2-1.4 .2-5.8 .2 10.1 .2-13.6 .2-5.5 .2 15.5 .2 3.4 .2-17.3 .2 6.7 .2 9.8 .2-14.5 .2 12.9 .2-1.8 .2-1.4 .2-6.5 .2 .8 .2 11.6 .2-5.2 .2-.1 .2 5 .2-5.8 .2-2.7 .2 1.6 .2 .6 .2-.4 .2-2.8 .2 2.2 .2 5.2 .2-4.2 .2-2 .2 8.5 .2-10.6 .2-2.8 .2 11.8 .2-4.4 .2-4 .2 5 .2 2.5 .2 1 .2-1.3 .2 1.2 .2-12.8 .2 8.7 .2-7.5 .2 8.2 .2-11.2 .2 16.3 .2-6.7 .2 6.8 .2-8 .2 6.8 .2-6.4 .2 1.6 .2-7.9 .2-1.5 .2 6.1 .2 1.7 .2 .8 .2 1.9 .2-15.4 .2 2.9 .2-1.8 .2 11.4 .2 7.8 .2-6.1 .2-7.7 .2 12 .2-2.9 .2 .4 .2 2.7 .2-4.2 .2-.8 .2-1 .2 2.2 .2 4.6 .2-1.3 .2-.3 .2 0 .2 .2 .2 .2 .2-3.6 .2 2.9 .2-11.3 .2-1.7 .2 .7 .2 2.9 .2 10.1 .2-14.2 .2 8.5 .2 3.3 .2-1.9 .2 5.9 .2 .3 .2-11.5 .2 11.4 .2-14.8 .2 .1 .2 9.3 .2-4.5 .2 8.4 .2-13.1 .2-.1 .2-2.6 .2 8.5 .2-8.9 .2 16.3 .2-18.3 .2 6.7 .2 8.8 .2-.7 .2-10.9 .2 5 .2-5.5 .2 3.6 .2 1.8 .2 8.2 .2 1.9 .2-6.2 .2 1.4 .2-1.9 .2 1.3 .2-11.9 .2 2.3 .2 6.9 .2-5 .2-1.3 .2-4.7 .2 10.1 .2-8.2 .2 15.9 .2-9.7 .2 4.8 .2-2.8 .2 9.2 .2-10.8 .2 7.9 .2-2.1 .2 2.6 .2-2.3 .2 4 .2-10.9 .2 .9 .2 7.1 .2-8.6 .2 6.2 .2 6.6 .2-12.1 .2 .2 .2 .4 .2 3.6 .2-5.5 .2 .9 .2-8.6 .2 15.5 .2 2.4 .2-4.9 .2 1 .2 2.5 .2 .2 .2 3.5 .2-3.1 .2-5.8 .2-5.5 .2-3.6 .2 4.4 .2-2.8 .2 8 .2 2.6 .2-3.8 .2 7.2 .2-9.5 .2 2.8 .2-4 .2-6.5 .2 19.4 .2-14.3 .2 15.1 .2-10.4 .2-3 .2 10 .2-9.2 .2-1.1 .2 12.1 .2-12.7 .2 9.2 .2 5.1 .2-8 .2-4.9 .2 4.2 .2-1.6 .2 .1 .2 9.9 .2-17.9 .2 0 .2 1 .2-2 .2 15.4 .2-6.7 .2 10.1 .2-9.5 .2 6.1 .2-9 .2 3.6 .2 6.9 .2-10 .2 10.8 .2-9.6 .2 .2 .2 .9 .2 9.4 .2-6.7 .2-2.5 .2-7.6 .2 15.4 .2-5.3 .2-3.1 .2-8.8 .2 14.7 .2-.9 .2-3.4 .2-2.2 .2-6.2 .2 14.6 .2-9.8 .2-1.3 .2 .1 .2 10.7 .2-10.8 .2 6.2 .2 .5 .2-2.3 .2 7.2 .2-1.1 .2 2.6 .2-6.8 .2 4.2 .2 2.6 .2-6.9 .2 .6 .2-3.2 .2 8.9 .2-4.9 .2 1.2 .2 2.5 .2-7.1 .2-1.3 .2-2.2 .2 2.6 .2 7.9 .2-3.3 .2-9.6 .2 7.8 .2-.5 .2 3.8 .2-10.9 .2 .7 .2 13 .2-2.5 .2-8.1 .2 1.5 .2-1.6 .2 2.7 .2 2.3 .2 7.1 .2-10.8 .2 5.6 .2 2.3 .2 2.8 .2-8.5 .2-1.2 .2 8 .2 1.1 .2-13 .2 11.3 .2-6.4 .2 1.9 .2-.5 .2-4.1 .2 3.9 .2 1.7 .2 1 .2-1.5 .2 2.8 .2 3.2 .2-10 .2 9.9 .2-5.3 .2 1.7 .2-11.1 .2-1.3 .2 4 .2-4.8 .2 12.8 .2-11 .2-1.1 .2 7.7 .2-3 .2 6.8 .2-.2 .2-5.6 .2 2.1 .2 2.8 .2-8.6 .2 11 .2-.3 .2-5.2 .2 5 .2-.9 .2-4.4 .2-1 .2 10.2 .2-1 .2-4.8 .2 3.9 .2-10.7 .2 8.1 .2-3.1 .2 1.4 .2-4.9 .2 3.2 .2 1.9 .2-.3 .2 .6 .2-3.9 .2 .2 .2-8.6 .2 13.2 .2-12.1 .2 13.8 .2-10.3 .2 12.3 .2-9.5 .2 .6 .2 3.7 .2-9.9 .2 12.1 .2 3.2 .2 .1 .2-3.2 .2-8.7 .2 1.9 .2 1.5 .2 2.3 .2-5.6 .2 4.6 .2 6.2 .2-.8 .2-2.4 .2 4.3 .2-6.6 .2-2.8 .2 9.9 .2-5.2 .2-5.5 .2 1.5 .2-2.9 .2 2.1 .2-9.6 .2 17.5 .2-11.8 .2 2.2 .2 3.8 .2-8.4 .2 .8 .2 4.5 .2 9.2 .2 .5 .2-1.3 .2-6.1 .2 7.6 .2-10.9 .2 4.2 .2-4.3 .2 10 .2-8.3 .2 9.1 .2-14.6 .2 12.2 .2-9.4 .2 9.6 .2-1.1 .2-11.9 .2 13.7 .2 1.6 .2-.2 .2-6.1 .2 1.4 .2-.3 .2 3.3 .2-7 .2-1.4 .2 .9 .2-.5 .2 7.7 .2 0 .2 1.8 .2-7.2 .2 5.9 .2-2.7 .2 3.5 .2 1.2 .2-3.4 .2 2.5 .2-6.4 .2 2.8 .2-2.2 .2 6.6 .2-2.7 .2-11.5 .2 6.3 .2 5.4 .2-13 .2-.6 .2 8.5 .2-6.4 .2 11 .2-6.4 .2-5.4 .2 3.4 .2 9.2 .2-8.1 .2 6.5 .2-12.2 .2 11.3 .2-12.2 .2 16.8 .2-13.1 .2 7 .2 1.8 .2-1.4 .2-6 .2 9.1 .2-12.3 .2 12.3 .2 2.5 .2-10.1 .2 2.8 .2-.6 .2 0 .2-5 .2 8.3 .2-9.2 .2 .9 .2-4.1 .2 9.4 .2-8.5 .2 2.9 .2-1.1 .2 14.8 .2-14.8 .2 2.7 .2-3.5 .2 12.8 .2-1.5 .2-7.8 .2 6 .2-3.7 .2 10.4 .2-13.6 .2 3.8 .2-2.6 .2 5.4 .2-1.4 .2 5.2 .2 1.5 .2-10.5 .2 1 .2 2.6 .2 1.5 .2 3.3 .2-1.9 .2-12.7 .2 9.6 .2 1.7 .2 6.4 .2-18.5 .2 .9 .2 3.9 .2 8.2 .2 3.9 .2 1.2 .2-6.7 .2 1.7 .2-7.7 .2-6.2 .2 9.1 .2-8.7 .2 17 .2-18.5 .2 19.1 .2-8.4 .2 0 .2-3.6 .2 9.9 .2 1.4 .2 2.3 .2-5.6 .2-13.3 .2 .2 .2 8.2 .2 9.6 .2-11.2 .2 11.6 .2-14.3 .2 7.6 .2 3.9 .2-4 .2-10.4 .2 10.3 .2-1 .2 8.6 .2-4.4 .2 1 .2-3.8 .2 6.6 .2-9.5 .2 1.3 .2 .5 .2 7.3 .2-7.5 .2 2.2 .2 1.7 .2 0 .2 3.1 .2-4.2 .2-2.1 .2-.2 .2-7.5 .2-1.2 .2 15 .2-19.2 .2 .4 .2 14.6 .2-1.2 .2-3.4 .2-5.5 .2 15.9 .2-12.7 .2 10.7 .2-1.4 .2-4.9 .2-6.4 .2 9.9 .2-7.5 .2 0 .2-1 .2 1.6 .2-1.6 .2-3.2 .2 .1 .2 7.9 .2 1.2 .2-12.8 .2 13.6 .2 3.6 .2-2 .2 .1 .2-10 .2 14.3 .2-9.2 .2-3 .2 5.5 .2-3.1 .2-4.4 .2 14.2 .2-3.2 .2-8 .2 3.1 .2 6.8 .2-2.2 .2-12.2 .2 7.3 .2 .2 .2 3.3 .2-5 .2 7.5 .2 1.4 .2-3.7 .2-14.4 .2 13.3 .2-4.1 .2-4.5 .2 10.2 .2-5.9 .2-1.2 .2 3.1 .2-.7 .2-.8 .2-7.5 .2 17.8 .2-1.8 .2-9.3 .2 1.5 .2-2.4 .2 2.2 .2 6.3 .2-.6 .2 2.9 .2-9.8 .2 10.5 .2-2.5 .2-.4 .2 .4 .2 2.6 .2-11.1 .2 2.2 .2 0 .2 .5 .2 4.7 .2-7.2 .2 3.7 .2 2.1 .2-5.4 .2-4 .2 14.6 .2-5.8 .2-1 .2-.7 .2-8.6 .2 4.2 .2 11 .2-1.9 .2-9 .2-3.9 .2 4 .2 11.5 .2-10 .2 9.5 .2-3.4 .2 2.9 .2-9.9 .2 .4 .2 5.6 .2-.1 .2-.1 .2-3.6 .2 7.8 .2-7.5 .2 .8 .2 6.2 .2-6.8 .2 5.8 .2-4.4 .2-1.5 .2-3.6 .2-2.3 .2 3.7 .2 11 .2-10.5 .2 9.3 .2 1 .2-12.2 .2 1.5 .2-1.3 .2 11.4 .2-8 .2 3.7 .2-3.9 .2 8.3 .2-6.6 .2 3.7 .2-4.9 .2-8.7 .2 1.5 .2 4.8 .2-1.6 .2 12.1 .2-.5 .2-.4 .2-10.4 .2 5.7 .2 4.4 .2-6.5 .2-8.4 .2 15.1 .2-.6 .2-10.3 .2 8.7 .2-5.3 .2 .9 .2 7.3 .2 .8 .2-7.3 .2 2.4 .2 .1 .2 1.6 .2-7.5 .2-5 .2-3.5 .2 2.8 .2-.6 .2-1.5 .2 18.5 .2-15.5 .2-1.2 .2 13.3 .2-.9 .2 2.8 .2-9.9 .2 9 .2-7.1 .2-3.1 .2 9.5 .2-12 .2 6.3 .2 8.8 .2-3.6 .2 3.3 .2-3.9 .2-4.1 .2-2.6 .2 1.5 .2-8.9 .2 6.3 .2 7.1 .2-7.8 .2 1.9 .2 0 .2 10.7 .2 .3 .2-9.9 .2-3.3 .2 12.7 .2-7 .2-3.1 .2 6 .2-6.7 .2 10.5 .2-.2 .2-5.1 .2 1.1 .2 4 .2-19.8 .2 6 .2 10.7 .2-7.3 .2 7.7 .2-11.5 .2 7.1 .2 5.7 .2-13.4 .2 13 .2 2.1 .2-3.7 .2-12.2 .2 9 .2-10.3 .2 17.8 .2-11.7 .2 3.3 .2 5.9 .2-2.9 .2 .1 .2-5.2 .2-3.3 .2-5.1 .2 14.3 .2-1.7 .2-.9 .2-11.5 .2 14.8 .2-10 .2 13.8 .2-.2 .2-16.8 .2 15.4 .2-3.9 .2-1.6 .2-6.9 .2 12.7 .2 .2 .2-7.9 .2 1.1 .2-3.1 .2-1.4 .2 10.7 .2-.8 .2-6.9 .2-6.5 .2 14.6 .2-15.1 .2 5.5 .2 1.7 .2 9.6 .2-7.6 .2 .6 .2 4.6 .2-.9 .2-14.4 .2 5.6 .2-5.6 .2 16.3 .2-6.7 .2 2.2 .2-8 .2 11.6 .2-13.5 .2 5.5 .2 9.6 .2-5.5 .2 .7 .2 1.2 .2 2.4 .2-2.8 .2 2 .2-.5 .2-3.8 .2-10.7 .2 4.5 .2-1.2 .2 10.7 .2-1.2 .2 1.7 .2 2.4 .2-8.1 .2-6.2 .2 11.6 .2 1.8 .2 .2 .2-16 .2 17.5 .2 .5 .2-8.5 .2-5 .2 6.9 .2 2.5 .2-1.5 .2-3.6 .2 4.3 .2-10.7 .2-1 .2 15.7 .2 .3 .2-4.8 .2-7.8 .2 13 .2-8 .2-3.1 .2 0 .2-2.5 .2 .4 .2 8 .2 2.9 .2-9.1 .2 .3 .2 6.8 .2-2.6 .2-3.2 .2 9.4 .2-9.8 .2-1 .2 6.2 .2-7.2 .2 3.1 .2 1.1 .2-5.5 .2 6 .2-5.1 .2-1.3 .2-.1 .2 14.2 .2-16.9 .2 11.9 .2 5.4 .2-2.9 .2-5.5 .2 7 .2-2.3 .2-7.3 .2 1.3 .2 9.4 .2-.9 .2-7.8 .2 9 .2-.7 .2-6.6 .2 1.6 .2 2.7 .2-1.4 .2 4.6 .2-10.1 .2 9.8 .2 .4 .2-3.3 .2 .4 .2-9.9 .2 3.5 .2-1.8 .2-3.4 .2 7.6 .2-6.9 .2 9.6 .2 3.4 .2-16.2 .2 9.5 .2-3.3 .2-7.5 .2 2.3 .2 1.6 .2 1.6 .2-1.9 .2 10.7 .2-8.3 .2 10.8 .2-1.7 .2 3.2 .2-15.1 .2 15.4 .2-17.8 .2 16.7 .2-7.6 .2-8.3 .2 1.7 .2 10.2 .2 1.8 .2 1.5 .2-8.3 .2 1.7 .2-3.5 .2 6.1 .2 4.4 .2-2.3 .2-4.5 .2 2.6 .2-.3 .2-3.2 .2 2.8 .2 3.3 .2-6.8 .2-.6 .2 7 .2 2.8 .2-5.4 .2-9.1 .2 4.4 .2-3 .2 4.2 .2 4.9 .2-.7 .2 3.2 .2-2.9 .2 .1 .2-6.1 .2-9 .2 14.2 .2 5 .2-16.5 .2 2.6 .2 12.9 .2-2.1 .2-9.3 .2 5.6 .2-9.5 .2 3.9 .2 11.7 .2-2.7 .2-9.1 .2 3.6 .2 1.9 .2 .2 .2 5.4 .2-6.9 .2-3.3 .2-.1 .2-1.1 .2-1.3 .2 13.6 .2-.1 .2-3.5 .2 2 .2-3 .2 0 .2-3.2 .2 7.7 .2-8.9 .2-9.3 .2 11.7 .2-4.9 .2 12.4 .2-11.8 .2 10.9 .2-.8 .2-10.2 .2 4.2 .2 1.8 .2-7 .2 7.8 .2-5.7 .2 7.5 .2 2.2 .2-2.1 .2 1.4 .2-3.4 .2-13 .2 3.1 .2-1.3 .2-.6 .2 3.7 .2-5.5 .2 19.3 .2-13.2 .2-4.3 .2 16.6 .2-14.6 .2-4.8 .2 11.5 .2 8.1 .2-12.6 .2 3.1 .2-3.8 .2 2.9 .2 8.3 .2 2.2 .2-9.5 .2-4.3 .2 8.5 .2-11.1 .2 14.5 .2-5.8 .2-2.2 .2 5 .2-3.3 .2 3.7 .2 3.3 .2-16.7 .2 4.5 .2 10.3 .2-4.8 .2 5.1 .2-.4 .2-6.9 .2 2.1 .2-2.4 .2 9.9 .2-8.1 .2 5.2 .2-7.5 .2 6.1 .2-4.7 .2-1.9 .2 1.5 .2 9 .2-6.5 .2-6.3 .2 3.3 .2 6.8 .2 3.3 .2-11.2 .2-1.6 .2 13.4 .2-9.1 .2 5.4 .2-5.2 .2-1.3 .2-3.3 .2 11.5 .2-7.2 .2 1.4 .2-5.3 .2 .4 .2-4.8 .2 14.5 .2-.2 .2-9.7 .2-6.2 .2 13.4 .2-12.7 .2 15 .2-.8 .2-10.8 .2 10.1 .2-8.1 .2 8.8 .2 1.7 .2-2.2 .2 3.9 .2 1 .2-13.6 .2 12.2 .2 1 .2-1 .2-5.5 .2-8.6 .2 4.4 .2 7.4 .2-10.1 .2 .4 .2 .9 .2 3.4 .2 .4 .2-6.6 .2 7.8 .2-9.4 .2 0 .2 2.2 .2-1.4 .2 15.1 .2-4.6 .2 .4 .2 .2 .2 1.1 .2-12.9 .2 3.5 .2 8.3 .2 4.7 .2-8.2 .2-9.5 .2 10.4 .2-4.3 .2 2.2 .2-4.7 .2 11.4 .2-7.8 .2 4.4 .2-3.3 .2-3.1 .2 1.3 .2 .8 .2 3.9 .2 5.2 .2-.5 .2-13.8 .2 12.4 .2-10.6 .2 1.3 .2-2.3 .2 1 .2 2.7 .2 10 .2-3.5 .2 4.6 .2-6.5 .2 6.5 .2-10.4 .2 3.3 .2 1.9 .2 3.9 .2-7.1 .2-8 .2 15.2 .2-16.5 .2-.4 .2-.2 .2 11 .2 2.8 .2-6.5 .2-3.7 .2 6.2 .2-1 .2 0 .2 .8 .2 2.6 .2 2.7 .2-10.8 .2 1.9" stroke="#000" stroke-width="2" stroke-linejoin="round" fill="none"/>
<path d="M1726 1017V845" stroke="#1f77b4" stroke-width="2" stroke-dasharray="2.083 3.4375" fill="none"/>
<path d="M1206 1017L1211 1017M1206 974L1211 974M1206 931L1211 931M1206 888L1211 888M1206 845L1211 845M1799 1017L1794 1017M1799 974L1794 974M1799 931L1794 931M1799 888L1794 888M1799 845L1794 845M1245.2 1016L1245.2 1011M1319.6 1016L1319.6 1011M1394 1016L1394 1011M1468.4 1016L1468.4 1011M1542.7 1016L1542.7 1011M1617.1 1016L1617.1 1011M1691.5 1016L1691.5 1011M1765.9 1016L1765.9 1011" stroke="#000" stroke-width="1.2" fill="none"/>
<g stroke-width="2" fill="none"><path d="M1204 845H1801" stroke="#000"/><path d="M1204 1017H1801" stroke="#000"/><path d="M1205 844V1018" stroke="#000"/><path d="M1800 844V1018" stroke="#000"/></g>
<g transform="translate(1199.7 1024.8)"><text x="-44.8" y="0" font-size="20.61" textLength="24.74" lengthAdjust="spacingAndGlyphs">10</text><text x="-20.06" y="-7.08" font-size="14.42" textLength="20.06" lengthAdjust="spacingAndGlyphs">−1</text></g>
<g transform="translate(1199.7 981.8)"><text x="-33.39" y="0" font-size="20.61" textLength="24.74" lengthAdjust="spacingAndGlyphs">10</text><text x="-8.66" y="-7.08" font-size="14.42" textLength="8.66" lengthAdjust="spacingAndGlyphs">0</text></g>
<g transform="translate(1199.7 938.8)"><text x="-33.39" y="0" font-size="20.61" textLength="24.74" lengthAdjust="spacingAndGlyphs">10</text><text x="-8.66" y="-7.08" font-size="14.42" textLength="8.66" lengthAdjust="spacingAndGlyphs">1</text></g>
<g transform="translate(1199.7 895.8)"><text x="-33.39" y="0" font-size="20.61" textLength="24.74" lengthAdjust="spacingAndGlyphs">10</text><text x="-8.66" y="-7.08" font-size="14.42" textLength="8.66" lengthAdjust="spacingAndGlyphs">2</text></g>
<g transform="translate(1199.7 852.8)"><text x="-33.39" y="0" font-size="20.61" textLength="24.74" lengthAdjust="spacingAndGlyphs">10</text><text x="-8.66" y="-7.08" font-size="14.42" textLength="8.66" lengthAdjust="spacingAndGlyphs">3</text></g>
<text x="1232.87" y="1036.6" font-size="20.61" textLength="24.74" lengthAdjust="spacingAndGlyphs">24</text>
<text x="1307.24" y="1036.6" font-size="20.61" textLength="24.74" lengthAdjust="spacingAndGlyphs">25</text>
<text x="1381.62" y="1036.6" font-size="20.61" textLength="24.74" lengthAdjust="spacingAndGlyphs">26</text>
<text x="1455.99" y="1036.6" font-size="20.61" textLength="24.74" lengthAdjust="spacingAndGlyphs">27</text>
<text x="1530.37" y="1036.6" font-size="20.61" textLength="24.74" lengthAdjust="spacingAndGlyphs">28</text>
<text x="1604.74" y="1036.6" font-size="20.61" textLength="24.74" lengthAdjust="spacingAndGlyphs">29</text>
<text x="1679.12" y="1036.6" font-size="20.61" textLength="24.74" lengthAdjust="spacingAndGlyphs">30</text>
<text x="1753.49" y="1036.6" font-size="20.61" textLength="24.74" lengthAdjust="spacingAndGlyphs">31</text>
<text y="1065.5" font-size="25.2"><tspan x="1376.63" textLength="124.45" lengthAdjust="spacingAndGlyphs">December</tspan> <tspan x="1508.71" textLength="61.08" lengthAdjust="spacingAndGlyphs">2018</tspan> <tspan x="1577.42" textLength="50.95" lengthAdjust="spacingAndGlyphs">(UT)</tspan></text>
<text transform="translate(1106.5 931.5) rotate(-90)" y="0" font-size="25.2"><tspan x="-126.35" textLength="50.65" lengthAdjust="spacingAndGlyphs">&gt;10</tspan> <tspan x="-68.07" textLength="51.89" lengthAdjust="spacingAndGlyphs">MeV</tspan> <tspan x="-8.55" textLength="77.38" lengthAdjust="spacingAndGlyphs">Proton</tspan> <tspan x="76.46" textLength="49.89" lengthAdjust="spacingAndGlyphs">Flux</tspan></text>
<g transform="translate(1139.2 931) rotate(-90)"><text x="-88.23" y="0" font-size="25.2" textLength="9.36" lengthAdjust="spacingAndGlyphs">(</text><text x="-71.23" y="0" font-size="25.2" textLength="36.57" lengthAdjust="spacingAndGlyphs">cm</text><text x="-34.66" y="-8.74" font-size="17.81" textLength="10.69" lengthAdjust="spacingAndGlyphs">2</text><text x="-18.57" y="0" font-size="25.2" textLength="12.5" lengthAdjust="spacingAndGlyphs">s</text><text x="-6.07" y="-8.74" font-size="17.81" textLength="24.77" lengthAdjust="spacingAndGlyphs">−1</text><text x="24.1" y="0" font-size="25.2" textLength="22.37" lengthAdjust="spacingAndGlyphs">sr</text><text x="46.47" y="-8.74" font-size="17.81" textLength="24.77" lengthAdjust="spacingAndGlyphs">−1</text><text x="78.86" y="0" font-size="25.2" textLength="9.36" lengthAdjust="spacingAndGlyphs">)</text></g>
<path d="M201 804.7L204 804.7M201 794.6L204 794.6M201 787.5L204 787.5M201 781.9L204 781.9M201 777.4L204 777.4M201 773.5L204 773.5M201 770.2L204 770.2M201 767.3L204 767.3M201 747.4L204 747.4M201 737.3L204 737.3M201 730.1L204 730.1M201 724.6L204 724.6M201 720.1L204 720.1M201 716.2L204 716.2M201 712.9L204 712.9M201 710L204 710M201 690.1L204 690.1M201 680L204 680M201 672.8L204 672.8M201 667.3L204 667.3M201 662.7L204 662.7M201 658.9L204 658.9M201 655.6L204 655.6M201 652.6L204 652.6M201 632.7L204 632.7M201 622.6L204 622.6M201 615.5L204 615.5M201 609.9L204 609.9M201 605.4L204 605.4M201 601.5L204 601.5M201 598.2L204 598.2M201 595.3L204 595.3M201 575.4L204 575.4M201 565.3L204 565.3M201 558.1L204 558.1M201 552.6L204 552.6M201 548.1L204 548.1M201 544.2L204 544.2M201 540.9L204 540.9M201 538L204 538M201 518.1L204 518.1M201 508L204 508M201 500.8L204 500.8M201 495.3L204 495.3M201 490.7L204 490.7M201 486.9L204 486.9M201 483.6L204 483.6M201 480.6L204 480.6M913 804.7L910 804.7M913 794.6L910 794.6M913 787.5L910 787.5M913 781.9L910 781.9M913 777.4L910 777.4M913 773.5L910 773.5M913 770.2L910 770.2M913 767.3L910 767.3M913 747.4L910 747.4M913 737.3L910 737.3M913 730.1L910 730.1M913 724.6L910 724.6M913 720.1L910 720.1M913 716.2L910 716.2M913 712.9L910 712.9M913 710L910 710M913 690.1L910 690.1M913 680L910 680M913 672.8L910 672.8M913 667.3L910 667.3M913 662.7L910 662.7M913 658.9L910 658.9M913 655.6L910 655.6M913 652.6L910 652.6M913 632.7L910 632.7M913 622.6L910 622.6M913 615.5L910 615.5M913 609.9L910 609.9M913 605.4L910 605.4M913 601.5L910 601.5M913 598.2L910 598.2M913 595.3L910 595.3M913 575.4L910 575.4M913 565.3L910 565.3M913 558.1L910 558.1M913 552.6L910 552.6M913 548.1L910 548.1M913 544.2L910 544.2M913 540.9L910 540.9M913 538L910 538M913 518.1L910 518.1M913 508L910 508M913 500.8L910 500.8M913 495.3L910 495.3M913 490.7L910 490.7M913 486.9L910 486.9M913 483.6L910 483.6M913 480.6L910 480.6M1799 796.1L1796 796.1M1799 781L1796 781M1799 770.2L1796 770.2M1799 761.9L1796 761.9M1799 755.1L1796 755.1M1799 749.3L1796 749.3M1799 744.3L1796 744.3M1799 739.9L1796 739.9M1799 710.1L1796 710.1M1799 695L1796 695M1799 684.2L1796 684.2M1799 675.9L1796 675.9M1799 669.1L1796 669.1M1799 663.3L1796 663.3M1799 658.3L1796 658.3M1799 653.9L1796 653.9M1799 624.1L1796 624.1M1799 609L1796 609M1799 598.2L1796 598.2M1799 589.9L1796 589.9M1799 583.1L1796 583.1M1799 577.3L1796 577.3M1799 572.3L1796 572.3M1799 567.9L1796 567.9M1799 538.1L1796 538.1M1799 523L1796 523M1799 512.2L1796 512.2M1799 503.9L1796 503.9M1799 497.1L1796 497.1M1799 491.3L1796 491.3M1799 486.3L1796 486.3M1799 481.9L1796 481.9M1206 1004.1L1209 1004.1M1206 996.5L1209 996.5M1206 991.1L1209 991.1M1206 986.9L1209 986.9M1206 983.5L1209 983.5M1206 980.7L1209 980.7M1206 978.2L1209 978.2M1206 976L1209 976M1206 961.1L1209 961.1M1206 953.5L1209 953.5M1206 948.1L1209 948.1M1206 943.9L1209 943.9M1206 940.5L1209 940.5M1206 937.7L1209 937.7M1206 935.2L1209 935.2M1206 933L1209 933M1206 918.1L1209 918.1M1206 910.5L1209 910.5M1206 905.1L1209 905.1M1206 900.9L1209 900.9M1206 897.5L1209 897.5M1206 894.7L1209 894.7M1206 892.2L1209 892.2M1206 890L1209 890M1206 875.1L1209 875.1M1206 867.5L1209 867.5M1206 862.1L1209 862.1M1206 857.9L1209 857.9M1206 854.5L1209 854.5M1206 851.7L1209 851.7M1206 849.2L1209 849.2M1206 847L1209 847M1799 1004.1L1796 1004.1M1799 996.5L1796 996.5M1799 991.1L1796 991.1M1799 986.9L1796 986.9M1799 983.5L1796 983.5M1799 980.7L1796 980.7M1799 978.2L1796 978.2M1799 976L1796 976M1799 961.1L1796 961.1M1799 953.5L1796 953.5M1799 948.1L1796 948.1M1799 943.9L1796 943.9M1799 940.5L1796 940.5M1799 937.7L1796 937.7M1799 935.2L1796 935.2M1799 933L1796 933M1799 918.1L1796 918.1M1799 910.5L1796 910.5M1799 905.1L1796 905.1M1799 900.9L1796 900.9M1799 897.5L1796 897.5M1799 894.7L1796 894.7M1799 892.2L1796 892.2M1799 890L1796 890M1799 875.1L1796 875.1M1799 867.5L1796 867.5M1799 862.1L1796 862.1M1799 857.9L1796 857.9M1799 854.5L1796 854.5M1799 851.7L1796 851.7M1799 849.2L1796 849.2M1799 847L1796 847" stroke="#000" stroke-width="0.9" fill="none"/></svg></body></html>
